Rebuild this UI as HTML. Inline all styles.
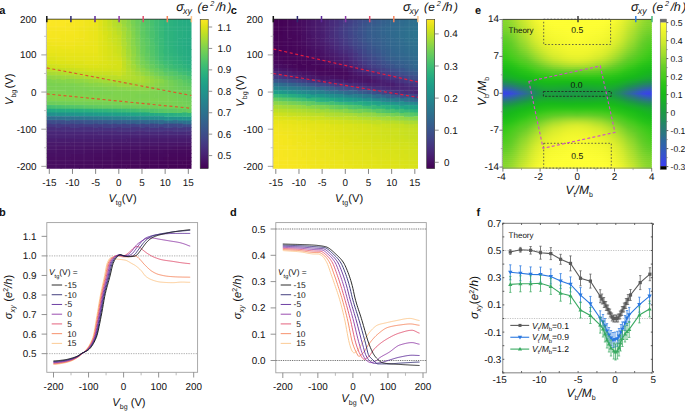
<!DOCTYPE html>
<html><head><meta charset="utf-8"><style>
html,body{margin:0;padding:0;background:#fff;}
svg{display:block;}
text{font-family:"Liberation Sans", sans-serif;fill:#111;text-rendering:geometricPrecision;}
</style></head><body>
<svg width="685" height="411" viewBox="0 0 685 411">
<defs><linearGradient id="cb0" x1="0" y1="0" x2="0" y2="1"><stop offset="0" stop-color="#fde725"/><stop offset="0.05" stop-color="#dfe318"/><stop offset="0.1" stop-color="#bddf26"/><stop offset="0.15" stop-color="#9bd93c"/><stop offset="0.2" stop-color="#7ad151"/><stop offset="0.25" stop-color="#5ec962"/><stop offset="0.3" stop-color="#44bf70"/><stop offset="0.35" stop-color="#2fb47c"/><stop offset="0.4" stop-color="#22a884"/><stop offset="0.45" stop-color="#1e9c89"/><stop offset="0.5" stop-color="#21918c"/><stop offset="0.55" stop-color="#25848e"/><stop offset="0.6" stop-color="#2a788e"/><stop offset="0.65" stop-color="#2f6c8e"/><stop offset="0.7" stop-color="#355f8d"/><stop offset="0.75" stop-color="#3b528b"/><stop offset="0.8" stop-color="#414487"/><stop offset="0.85" stop-color="#463480"/><stop offset="0.9" stop-color="#482475"/><stop offset="0.95" stop-color="#471365"/><stop offset="1" stop-color="#440154"/></linearGradient><linearGradient id="cb226" x1="0" y1="0" x2="0" y2="1"><stop offset="0" stop-color="#fde725"/><stop offset="0.05" stop-color="#dfe318"/><stop offset="0.1" stop-color="#bddf26"/><stop offset="0.15" stop-color="#9bd93c"/><stop offset="0.2" stop-color="#7ad151"/><stop offset="0.25" stop-color="#5ec962"/><stop offset="0.3" stop-color="#44bf70"/><stop offset="0.35" stop-color="#2fb47c"/><stop offset="0.4" stop-color="#22a884"/><stop offset="0.45" stop-color="#1e9c89"/><stop offset="0.5" stop-color="#21918c"/><stop offset="0.55" stop-color="#25848e"/><stop offset="0.6" stop-color="#2a788e"/><stop offset="0.65" stop-color="#2f6c8e"/><stop offset="0.7" stop-color="#355f8d"/><stop offset="0.75" stop-color="#3b528b"/><stop offset="0.8" stop-color="#414487"/><stop offset="0.85" stop-color="#463480"/><stop offset="0.9" stop-color="#482475"/><stop offset="0.95" stop-color="#471365"/><stop offset="1" stop-color="#440154"/></linearGradient><linearGradient id="e0"><stop offset="0" stop-color="#83d52b"/><stop offset="0.03" stop-color="#89d72c"/><stop offset="0.06" stop-color="#97da2d"/><stop offset="0.09" stop-color="#abdf2d"/><stop offset="0.12" stop-color="#c0e52d"/><stop offset="0.16" stop-color="#d5eb2d"/><stop offset="0.19" stop-color="#e3f12d"/><stop offset="0.22" stop-color="#f0f62d"/><stop offset="0.25" stop-color="#f7fa2f"/><stop offset="0.28" stop-color="#fcfd31"/><stop offset="0.31" stop-color="#fefe31"/><stop offset="0.34" stop-color="#ffff32"/><stop offset="0.38" stop-color="#fefe31"/><stop offset="0.41" stop-color="#fefe31"/><stop offset="0.44" stop-color="#fdfe31"/><stop offset="0.47" stop-color="#fdfe31"/><stop offset="0.5" stop-color="#fefe31"/><stop offset="0.53" stop-color="#fdfe31"/><stop offset="0.56" stop-color="#fdfe31"/><stop offset="0.59" stop-color="#fefe31"/><stop offset="0.62" stop-color="#fefe31"/><stop offset="0.66" stop-color="#ffff32"/><stop offset="0.69" stop-color="#fefe31"/><stop offset="0.72" stop-color="#fcfd31"/><stop offset="0.75" stop-color="#f7fa2f"/><stop offset="0.78" stop-color="#f0f62d"/><stop offset="0.81" stop-color="#e3f12d"/><stop offset="0.84" stop-color="#d5eb2d"/><stop offset="0.88" stop-color="#c0e52d"/><stop offset="0.91" stop-color="#abdf2d"/><stop offset="0.94" stop-color="#97da2d"/><stop offset="0.97" stop-color="#89d72c"/><stop offset="1" stop-color="#83d52b"/></linearGradient><linearGradient id="e1"><stop offset="0" stop-color="#82d52b"/><stop offset="0.03" stop-color="#87d62c"/><stop offset="0.06" stop-color="#94da2d"/><stop offset="0.09" stop-color="#a7de2d"/><stop offset="0.12" stop-color="#bce42d"/><stop offset="0.16" stop-color="#d0ea2d"/><stop offset="0.19" stop-color="#e0ef2d"/><stop offset="0.22" stop-color="#edf42d"/><stop offset="0.25" stop-color="#f5f92f"/><stop offset="0.28" stop-color="#fafc30"/><stop offset="0.31" stop-color="#fdfd31"/><stop offset="0.34" stop-color="#fefe31"/><stop offset="0.38" stop-color="#fefe31"/><stop offset="0.41" stop-color="#fefe31"/><stop offset="0.44" stop-color="#fdfe31"/><stop offset="0.47" stop-color="#fdfe31"/><stop offset="0.5" stop-color="#fefe31"/><stop offset="0.53" stop-color="#fdfe31"/><stop offset="0.56" stop-color="#fdfe31"/><stop offset="0.59" stop-color="#fefe31"/><stop offset="0.62" stop-color="#fefe31"/><stop offset="0.66" stop-color="#fefe31"/><stop offset="0.69" stop-color="#fdfd31"/><stop offset="0.72" stop-color="#fafc30"/><stop offset="0.75" stop-color="#f5f92f"/><stop offset="0.78" stop-color="#edf42d"/><stop offset="0.81" stop-color="#e0ef2d"/><stop offset="0.84" stop-color="#d0ea2d"/><stop offset="0.88" stop-color="#bce42d"/><stop offset="0.91" stop-color="#a7de2d"/><stop offset="0.94" stop-color="#94da2d"/><stop offset="0.97" stop-color="#87d62c"/><stop offset="1" stop-color="#82d52b"/></linearGradient><linearGradient id="e2"><stop offset="0" stop-color="#80d52b"/><stop offset="0.03" stop-color="#84d62c"/><stop offset="0.06" stop-color="#90d92d"/><stop offset="0.09" stop-color="#a3dd2d"/><stop offset="0.12" stop-color="#b8e32d"/><stop offset="0.16" stop-color="#cce92d"/><stop offset="0.19" stop-color="#ddee2d"/><stop offset="0.22" stop-color="#eaf32d"/><stop offset="0.25" stop-color="#f3f72e"/><stop offset="0.28" stop-color="#f8fb30"/><stop offset="0.31" stop-color="#fbfd31"/><stop offset="0.34" stop-color="#fdfe31"/><stop offset="0.38" stop-color="#fefe31"/><stop offset="0.41" stop-color="#fefe31"/><stop offset="0.44" stop-color="#fdfe31"/><stop offset="0.47" stop-color="#fefe31"/><stop offset="0.5" stop-color="#ffff32"/><stop offset="0.53" stop-color="#fefe31"/><stop offset="0.56" stop-color="#fdfe31"/><stop offset="0.59" stop-color="#fefe31"/><stop offset="0.62" stop-color="#fefe31"/><stop offset="0.66" stop-color="#fdfe31"/><stop offset="0.69" stop-color="#fbfd31"/><stop offset="0.72" stop-color="#f8fb30"/><stop offset="0.75" stop-color="#f3f72e"/><stop offset="0.78" stop-color="#eaf32d"/><stop offset="0.81" stop-color="#ddee2d"/><stop offset="0.84" stop-color="#cce92d"/><stop offset="0.88" stop-color="#b8e32d"/><stop offset="0.91" stop-color="#a3dd2d"/><stop offset="0.94" stop-color="#90d92d"/><stop offset="0.97" stop-color="#84d62c"/><stop offset="1" stop-color="#80d52b"/></linearGradient><linearGradient id="e3"><stop offset="0" stop-color="#7cd42b"/><stop offset="0.03" stop-color="#81d52b"/><stop offset="0.06" stop-color="#8dd82d"/><stop offset="0.09" stop-color="#9edc2d"/><stop offset="0.12" stop-color="#b4e22d"/><stop offset="0.16" stop-color="#c8e82d"/><stop offset="0.19" stop-color="#daed2d"/><stop offset="0.22" stop-color="#e7f22d"/><stop offset="0.25" stop-color="#f1f62d"/><stop offset="0.28" stop-color="#f6fa2f"/><stop offset="0.31" stop-color="#fafc30"/><stop offset="0.34" stop-color="#fcfd31"/><stop offset="0.38" stop-color="#fdfe31"/><stop offset="0.41" stop-color="#fdfe31"/><stop offset="0.44" stop-color="#fdfe31"/><stop offset="0.47" stop-color="#fefe31"/><stop offset="0.5" stop-color="#ffff32"/><stop offset="0.53" stop-color="#fefe31"/><stop offset="0.56" stop-color="#fdfe31"/><stop offset="0.59" stop-color="#fdfe31"/><stop offset="0.62" stop-color="#fdfe31"/><stop offset="0.66" stop-color="#fcfd31"/><stop offset="0.69" stop-color="#fafc30"/><stop offset="0.72" stop-color="#f6fa2f"/><stop offset="0.75" stop-color="#f1f62d"/><stop offset="0.78" stop-color="#e7f22d"/><stop offset="0.81" stop-color="#daed2d"/><stop offset="0.84" stop-color="#c8e82d"/><stop offset="0.88" stop-color="#b4e22d"/><stop offset="0.91" stop-color="#9edc2d"/><stop offset="0.94" stop-color="#8dd82d"/><stop offset="0.97" stop-color="#81d52b"/><stop offset="1" stop-color="#7cd42b"/></linearGradient><linearGradient id="e4"><stop offset="0" stop-color="#78d32a"/><stop offset="0.03" stop-color="#7cd42b"/><stop offset="0.06" stop-color="#88d72c"/><stop offset="0.09" stop-color="#9adb2d"/><stop offset="0.12" stop-color="#b0e12d"/><stop offset="0.16" stop-color="#c4e62d"/><stop offset="0.19" stop-color="#d8ec2d"/><stop offset="0.22" stop-color="#e5f12d"/><stop offset="0.25" stop-color="#eff52d"/><stop offset="0.28" stop-color="#f5f92f"/><stop offset="0.31" stop-color="#f9fb30"/><stop offset="0.34" stop-color="#fbfc30"/><stop offset="0.38" stop-color="#fcfd31"/><stop offset="0.41" stop-color="#fdfd31"/><stop offset="0.44" stop-color="#fdfe31"/><stop offset="0.47" stop-color="#fdfe31"/><stop offset="0.5" stop-color="#ffff32"/><stop offset="0.53" stop-color="#fdfe31"/><stop offset="0.56" stop-color="#fdfe31"/><stop offset="0.59" stop-color="#fdfd31"/><stop offset="0.62" stop-color="#fcfd31"/><stop offset="0.66" stop-color="#fbfc30"/><stop offset="0.69" stop-color="#f9fb30"/><stop offset="0.72" stop-color="#f5f92f"/><stop offset="0.75" stop-color="#eff52d"/><stop offset="0.78" stop-color="#e5f12d"/><stop offset="0.81" stop-color="#d8ec2d"/><stop offset="0.84" stop-color="#c4e62d"/><stop offset="0.88" stop-color="#b0e12d"/><stop offset="0.91" stop-color="#9adb2d"/><stop offset="0.94" stop-color="#88d72c"/><stop offset="0.97" stop-color="#7cd42b"/><stop offset="1" stop-color="#78d32a"/></linearGradient><linearGradient id="e5"><stop offset="0" stop-color="#73d129"/><stop offset="0.03" stop-color="#78d32a"/><stop offset="0.06" stop-color="#84d62c"/><stop offset="0.09" stop-color="#96da2d"/><stop offset="0.12" stop-color="#abdf2d"/><stop offset="0.16" stop-color="#c1e52d"/><stop offset="0.19" stop-color="#d5eb2d"/><stop offset="0.22" stop-color="#e2f02d"/><stop offset="0.25" stop-color="#edf42d"/><stop offset="0.28" stop-color="#f3f82e"/><stop offset="0.31" stop-color="#f7fa2f"/><stop offset="0.34" stop-color="#fafc30"/><stop offset="0.38" stop-color="#fbfc30"/><stop offset="0.41" stop-color="#fcfd31"/><stop offset="0.44" stop-color="#fcfd31"/><stop offset="0.47" stop-color="#fdfe31"/><stop offset="0.5" stop-color="#fefe31"/><stop offset="0.53" stop-color="#fdfe31"/><stop offset="0.56" stop-color="#fcfd31"/><stop offset="0.59" stop-color="#fcfd31"/><stop offset="0.62" stop-color="#fbfc30"/><stop offset="0.66" stop-color="#fafc30"/><stop offset="0.69" stop-color="#f7fa2f"/><stop offset="0.72" stop-color="#f3f82e"/><stop offset="0.75" stop-color="#edf42d"/><stop offset="0.78" stop-color="#e2f02d"/><stop offset="0.81" stop-color="#d5eb2d"/><stop offset="0.84" stop-color="#c1e52d"/><stop offset="0.88" stop-color="#abdf2d"/><stop offset="0.91" stop-color="#96da2d"/><stop offset="0.94" stop-color="#84d62c"/><stop offset="0.97" stop-color="#78d32a"/><stop offset="1" stop-color="#73d129"/></linearGradient><linearGradient id="e6"><stop offset="0" stop-color="#6ed029"/><stop offset="0.03" stop-color="#73d129"/><stop offset="0.06" stop-color="#7fd42b"/><stop offset="0.09" stop-color="#91d92d"/><stop offset="0.12" stop-color="#a7de2d"/><stop offset="0.16" stop-color="#bde42d"/><stop offset="0.19" stop-color="#d1ea2d"/><stop offset="0.22" stop-color="#e0ef2d"/><stop offset="0.25" stop-color="#ebf42d"/><stop offset="0.28" stop-color="#f2f72e"/><stop offset="0.31" stop-color="#f6f92f"/><stop offset="0.34" stop-color="#f8fb30"/><stop offset="0.38" stop-color="#fafc30"/><stop offset="0.41" stop-color="#fbfc30"/><stop offset="0.44" stop-color="#fcfd31"/><stop offset="0.47" stop-color="#fdfd31"/><stop offset="0.5" stop-color="#fefe31"/><stop offset="0.53" stop-color="#fdfd31"/><stop offset="0.56" stop-color="#fcfd31"/><stop offset="0.59" stop-color="#fbfc30"/><stop offset="0.62" stop-color="#fafc30"/><stop offset="0.66" stop-color="#f8fb30"/><stop offset="0.69" stop-color="#f6f92f"/><stop offset="0.72" stop-color="#f2f72e"/><stop offset="0.75" stop-color="#ebf42d"/><stop offset="0.78" stop-color="#e0ef2d"/><stop offset="0.81" stop-color="#d1ea2d"/><stop offset="0.84" stop-color="#bde42d"/><stop offset="0.88" stop-color="#a7de2d"/><stop offset="0.91" stop-color="#91d92d"/><stop offset="0.94" stop-color="#7fd42b"/><stop offset="0.97" stop-color="#73d129"/><stop offset="1" stop-color="#6ed029"/></linearGradient><linearGradient id="e7"><stop offset="0" stop-color="#68cf28"/><stop offset="0.03" stop-color="#6ed029"/><stop offset="0.06" stop-color="#7bd32a"/><stop offset="0.09" stop-color="#8dd82d"/><stop offset="0.12" stop-color="#a3dd2d"/><stop offset="0.16" stop-color="#bae32d"/><stop offset="0.19" stop-color="#cee92d"/><stop offset="0.22" stop-color="#ddee2d"/><stop offset="0.25" stop-color="#e9f32d"/><stop offset="0.28" stop-color="#f0f62d"/><stop offset="0.31" stop-color="#f4f82e"/><stop offset="0.34" stop-color="#f7fa2f"/><stop offset="0.38" stop-color="#f9fb30"/><stop offset="0.41" stop-color="#fafc30"/><stop offset="0.44" stop-color="#fbfc30"/><stop offset="0.47" stop-color="#fcfd31"/><stop offset="0.5" stop-color="#fefe31"/><stop offset="0.53" stop-color="#fcfd31"/><stop offset="0.56" stop-color="#fbfc30"/><stop offset="0.59" stop-color="#fafc30"/><stop offset="0.62" stop-color="#f9fb30"/><stop offset="0.66" stop-color="#f7fa2f"/><stop offset="0.69" stop-color="#f4f82e"/><stop offset="0.72" stop-color="#f0f62d"/><stop offset="0.75" stop-color="#e9f32d"/><stop offset="0.78" stop-color="#ddee2d"/><stop offset="0.81" stop-color="#cee92d"/><stop offset="0.84" stop-color="#bae32d"/><stop offset="0.88" stop-color="#a3dd2d"/><stop offset="0.91" stop-color="#8dd82d"/><stop offset="0.94" stop-color="#7bd32a"/><stop offset="0.97" stop-color="#6ed029"/><stop offset="1" stop-color="#68cf28"/></linearGradient><linearGradient id="e8"><stop offset="0" stop-color="#62cd27"/><stop offset="0.03" stop-color="#68cf28"/><stop offset="0.06" stop-color="#76d22a"/><stop offset="0.09" stop-color="#88d72c"/><stop offset="0.12" stop-color="#9edc2d"/><stop offset="0.16" stop-color="#b6e22d"/><stop offset="0.19" stop-color="#cae82d"/><stop offset="0.22" stop-color="#dbed2d"/><stop offset="0.25" stop-color="#e6f22d"/><stop offset="0.28" stop-color="#eef52d"/><stop offset="0.31" stop-color="#f3f82e"/><stop offset="0.34" stop-color="#f6f92f"/><stop offset="0.38" stop-color="#f7fa2f"/><stop offset="0.41" stop-color="#f9fb30"/><stop offset="0.44" stop-color="#fafc30"/><stop offset="0.47" stop-color="#fbfd31"/><stop offset="0.5" stop-color="#fdfe31"/><stop offset="0.53" stop-color="#fbfd31"/><stop offset="0.56" stop-color="#fafc30"/><stop offset="0.59" stop-color="#f9fb30"/><stop offset="0.62" stop-color="#f7fa2f"/><stop offset="0.66" stop-color="#f6f92f"/><stop offset="0.69" stop-color="#f3f82e"/><stop offset="0.72" stop-color="#eef52d"/><stop offset="0.75" stop-color="#e6f22d"/><stop offset="0.78" stop-color="#dbed2d"/><stop offset="0.81" stop-color="#cae82d"/><stop offset="0.84" stop-color="#b6e22d"/><stop offset="0.88" stop-color="#9edc2d"/><stop offset="0.91" stop-color="#88d72c"/><stop offset="0.94" stop-color="#76d22a"/><stop offset="0.97" stop-color="#68cf28"/><stop offset="1" stop-color="#62cd27"/></linearGradient><linearGradient id="e9"><stop offset="0" stop-color="#5ecd26"/><stop offset="0.03" stop-color="#63cd27"/><stop offset="0.06" stop-color="#71d129"/><stop offset="0.09" stop-color="#84d62c"/><stop offset="0.12" stop-color="#9adb2d"/><stop offset="0.16" stop-color="#b2e12d"/><stop offset="0.19" stop-color="#c6e72d"/><stop offset="0.22" stop-color="#d8ec2d"/><stop offset="0.25" stop-color="#e3f12d"/><stop offset="0.28" stop-color="#ecf42d"/><stop offset="0.31" stop-color="#f1f62d"/><stop offset="0.34" stop-color="#f4f82e"/><stop offset="0.38" stop-color="#f6fa2f"/><stop offset="0.41" stop-color="#f8fa2f"/><stop offset="0.44" stop-color="#f9fb30"/><stop offset="0.47" stop-color="#fbfc30"/><stop offset="0.5" stop-color="#fdfd31"/><stop offset="0.53" stop-color="#fbfc30"/><stop offset="0.56" stop-color="#f9fb30"/><stop offset="0.59" stop-color="#f8fa2f"/><stop offset="0.62" stop-color="#f6fa2f"/><stop offset="0.66" stop-color="#f4f82e"/><stop offset="0.69" stop-color="#f1f62d"/><stop offset="0.72" stop-color="#ecf42d"/><stop offset="0.75" stop-color="#e3f12d"/><stop offset="0.78" stop-color="#d8ec2d"/><stop offset="0.81" stop-color="#c6e72d"/><stop offset="0.84" stop-color="#b2e12d"/><stop offset="0.88" stop-color="#9adb2d"/><stop offset="0.91" stop-color="#84d62c"/><stop offset="0.94" stop-color="#71d129"/><stop offset="0.97" stop-color="#63cd27"/><stop offset="1" stop-color="#5ecd26"/></linearGradient><linearGradient id="e10"><stop offset="0" stop-color="#59cd24"/><stop offset="0.03" stop-color="#5fcd26"/><stop offset="0.06" stop-color="#6cd029"/><stop offset="0.09" stop-color="#7fd42b"/><stop offset="0.12" stop-color="#95da2d"/><stop offset="0.16" stop-color="#ace02d"/><stop offset="0.19" stop-color="#c2e62d"/><stop offset="0.22" stop-color="#d4eb2d"/><stop offset="0.25" stop-color="#e0ef2d"/><stop offset="0.28" stop-color="#e9f32d"/><stop offset="0.31" stop-color="#eff52d"/><stop offset="0.34" stop-color="#f2f72e"/><stop offset="0.38" stop-color="#f5f92f"/><stop offset="0.41" stop-color="#f6fa2f"/><stop offset="0.44" stop-color="#f8fb30"/><stop offset="0.47" stop-color="#fafc30"/><stop offset="0.5" stop-color="#fbfd31"/><stop offset="0.53" stop-color="#fafc30"/><stop offset="0.56" stop-color="#f8fb30"/><stop offset="0.59" stop-color="#f6fa2f"/><stop offset="0.62" stop-color="#f5f92f"/><stop offset="0.66" stop-color="#f2f72e"/><stop offset="0.69" stop-color="#eff52d"/><stop offset="0.72" stop-color="#e9f32d"/><stop offset="0.75" stop-color="#e0ef2d"/><stop offset="0.78" stop-color="#d4eb2d"/><stop offset="0.81" stop-color="#c2e62d"/><stop offset="0.84" stop-color="#ace02d"/><stop offset="0.88" stop-color="#95da2d"/><stop offset="0.91" stop-color="#7fd42b"/><stop offset="0.94" stop-color="#6cd029"/><stop offset="0.97" stop-color="#5fcd26"/><stop offset="1" stop-color="#59cd24"/></linearGradient><linearGradient id="e11"><stop offset="0" stop-color="#54cc22"/><stop offset="0.03" stop-color="#5bcd25"/><stop offset="0.06" stop-color="#67ce28"/><stop offset="0.09" stop-color="#7ad32a"/><stop offset="0.12" stop-color="#90d92d"/><stop offset="0.16" stop-color="#a7de2d"/><stop offset="0.19" stop-color="#bde42d"/><stop offset="0.22" stop-color="#cfea2d"/><stop offset="0.25" stop-color="#dcee2d"/><stop offset="0.28" stop-color="#e6f22d"/><stop offset="0.31" stop-color="#ecf42d"/><stop offset="0.34" stop-color="#f0f62d"/><stop offset="0.38" stop-color="#f3f82e"/><stop offset="0.41" stop-color="#f5f92f"/><stop offset="0.44" stop-color="#f7fa2f"/><stop offset="0.47" stop-color="#f8fb30"/><stop offset="0.5" stop-color="#fafc30"/><stop offset="0.53" stop-color="#f8fb30"/><stop offset="0.56" stop-color="#f7fa2f"/><stop offset="0.59" stop-color="#f5f92f"/><stop offset="0.62" stop-color="#f3f82e"/><stop offset="0.66" stop-color="#f0f62d"/><stop offset="0.69" stop-color="#ecf42d"/><stop offset="0.72" stop-color="#e6f22d"/><stop offset="0.75" stop-color="#dcee2d"/><stop offset="0.78" stop-color="#cfea2d"/><stop offset="0.81" stop-color="#bde42d"/><stop offset="0.84" stop-color="#a7de2d"/><stop offset="0.88" stop-color="#90d92d"/><stop offset="0.91" stop-color="#7ad32a"/><stop offset="0.94" stop-color="#67ce28"/><stop offset="0.97" stop-color="#5bcd25"/><stop offset="1" stop-color="#54cc22"/></linearGradient><linearGradient id="e12"><stop offset="0" stop-color="#4fcc21"/><stop offset="0.03" stop-color="#57cd23"/><stop offset="0.06" stop-color="#62cd27"/><stop offset="0.09" stop-color="#75d22a"/><stop offset="0.12" stop-color="#8ad72c"/><stop offset="0.16" stop-color="#a1dd2d"/><stop offset="0.19" stop-color="#b7e32d"/><stop offset="0.22" stop-color="#c9e82d"/><stop offset="0.25" stop-color="#d8ed2d"/><stop offset="0.28" stop-color="#e2f02d"/><stop offset="0.31" stop-color="#e9f32d"/><stop offset="0.34" stop-color="#eff52d"/><stop offset="0.38" stop-color="#f2f72e"/><stop offset="0.41" stop-color="#f4f82e"/><stop offset="0.44" stop-color="#f6f92f"/><stop offset="0.47" stop-color="#f7fa2f"/><stop offset="0.5" stop-color="#f8fb30"/><stop offset="0.53" stop-color="#f7fa2f"/><stop offset="0.56" stop-color="#f6f92f"/><stop offset="0.59" stop-color="#f4f82e"/><stop offset="0.62" stop-color="#f2f72e"/><stop offset="0.66" stop-color="#eff52d"/><stop offset="0.69" stop-color="#e9f32d"/><stop offset="0.72" stop-color="#e2f02d"/><stop offset="0.75" stop-color="#d8ed2d"/><stop offset="0.78" stop-color="#c9e82d"/><stop offset="0.81" stop-color="#b7e32d"/><stop offset="0.84" stop-color="#a1dd2d"/><stop offset="0.88" stop-color="#8ad72c"/><stop offset="0.91" stop-color="#75d22a"/><stop offset="0.94" stop-color="#62cd27"/><stop offset="0.97" stop-color="#57cd23"/><stop offset="1" stop-color="#4fcc21"/></linearGradient><linearGradient id="e13"><stop offset="0" stop-color="#4bcc1f"/><stop offset="0.03" stop-color="#53cc22"/><stop offset="0.06" stop-color="#5fcd26"/><stop offset="0.09" stop-color="#70d129"/><stop offset="0.12" stop-color="#85d62c"/><stop offset="0.16" stop-color="#9bdb2d"/><stop offset="0.19" stop-color="#b1e12d"/><stop offset="0.22" stop-color="#c3e62d"/><stop offset="0.25" stop-color="#d3eb2d"/><stop offset="0.28" stop-color="#deef2d"/><stop offset="0.31" stop-color="#e6f22d"/><stop offset="0.34" stop-color="#ecf42d"/><stop offset="0.38" stop-color="#f0f62d"/><stop offset="0.41" stop-color="#f3f72e"/><stop offset="0.44" stop-color="#f4f92f"/><stop offset="0.47" stop-color="#f6f92f"/><stop offset="0.5" stop-color="#f6fa2f"/><stop offset="0.53" stop-color="#f6f92f"/><stop offset="0.56" stop-color="#f4f92f"/><stop offset="0.59" stop-color="#f3f72e"/><stop offset="0.62" stop-color="#f0f62d"/><stop offset="0.66" stop-color="#ecf42d"/><stop offset="0.69" stop-color="#e6f22d"/><stop offset="0.72" stop-color="#deef2d"/><stop offset="0.75" stop-color="#d3eb2d"/><stop offset="0.78" stop-color="#c3e62d"/><stop offset="0.81" stop-color="#b1e12d"/><stop offset="0.84" stop-color="#9bdb2d"/><stop offset="0.88" stop-color="#85d62c"/><stop offset="0.91" stop-color="#70d129"/><stop offset="0.94" stop-color="#5fcd26"/><stop offset="0.97" stop-color="#53cc22"/><stop offset="1" stop-color="#4bcc1f"/></linearGradient><linearGradient id="e14"><stop offset="0" stop-color="#46cc1e"/><stop offset="0.03" stop-color="#4fcc21"/><stop offset="0.06" stop-color="#5bcd25"/><stop offset="0.09" stop-color="#6acf28"/><stop offset="0.12" stop-color="#7ed42b"/><stop offset="0.16" stop-color="#94da2d"/><stop offset="0.19" stop-color="#a9df2d"/><stop offset="0.22" stop-color="#bce42d"/><stop offset="0.25" stop-color="#cce92d"/><stop offset="0.28" stop-color="#d9ed2d"/><stop offset="0.31" stop-color="#e2f02d"/><stop offset="0.34" stop-color="#e9f32d"/><stop offset="0.38" stop-color="#eef52d"/><stop offset="0.41" stop-color="#f1f72e"/><stop offset="0.44" stop-color="#f3f82e"/><stop offset="0.47" stop-color="#f4f82e"/><stop offset="0.5" stop-color="#f4f82e"/><stop offset="0.53" stop-color="#f4f82e"/><stop offset="0.56" stop-color="#f3f82e"/><stop offset="0.59" stop-color="#f1f72e"/><stop offset="0.62" stop-color="#eef52d"/><stop offset="0.66" stop-color="#e9f32d"/><stop offset="0.69" stop-color="#e2f02d"/><stop offset="0.72" stop-color="#d9ed2d"/><stop offset="0.75" stop-color="#cce92d"/><stop offset="0.78" stop-color="#bce42d"/><stop offset="0.81" stop-color="#a9df2d"/><stop offset="0.84" stop-color="#94da2d"/><stop offset="0.88" stop-color="#7ed42b"/><stop offset="0.91" stop-color="#6acf28"/><stop offset="0.94" stop-color="#5bcd25"/><stop offset="0.97" stop-color="#4fcc21"/><stop offset="1" stop-color="#46cc1e"/></linearGradient><linearGradient id="e15"><stop offset="0" stop-color="#42cb1d"/><stop offset="0.03" stop-color="#4bcc1f"/><stop offset="0.06" stop-color="#56cd23"/><stop offset="0.09" stop-color="#64ce28"/><stop offset="0.12" stop-color="#78d32a"/><stop offset="0.16" stop-color="#8cd82d"/><stop offset="0.19" stop-color="#a1dd2d"/><stop offset="0.22" stop-color="#b5e22c"/><stop offset="0.25" stop-color="#c5e72d"/><stop offset="0.28" stop-color="#d4eb2d"/><stop offset="0.31" stop-color="#ddee2d"/><stop offset="0.34" stop-color="#e5f12d"/><stop offset="0.38" stop-color="#ebf42d"/><stop offset="0.41" stop-color="#eff52d"/><stop offset="0.44" stop-color="#f1f72e"/><stop offset="0.47" stop-color="#f2f72e"/><stop offset="0.5" stop-color="#f2f72e"/><stop offset="0.53" stop-color="#f2f72e"/><stop offset="0.56" stop-color="#f1f72e"/><stop offset="0.59" stop-color="#eff52d"/><stop offset="0.62" stop-color="#ebf42d"/><stop offset="0.66" stop-color="#e5f12d"/><stop offset="0.69" stop-color="#ddee2d"/><stop offset="0.72" stop-color="#d4eb2d"/><stop offset="0.75" stop-color="#c5e72d"/><stop offset="0.78" stop-color="#b5e22c"/><stop offset="0.81" stop-color="#a1dd2d"/><stop offset="0.84" stop-color="#8cd82d"/><stop offset="0.88" stop-color="#78d32a"/><stop offset="0.91" stop-color="#64ce28"/><stop offset="0.94" stop-color="#56cd23"/><stop offset="0.97" stop-color="#4bcc1f"/><stop offset="1" stop-color="#42cb1d"/></linearGradient><linearGradient id="e16"><stop offset="0" stop-color="#3ec91c"/><stop offset="0.03" stop-color="#47cc1e"/><stop offset="0.06" stop-color="#52cc22"/><stop offset="0.09" stop-color="#5fcd26"/><stop offset="0.12" stop-color="#70d129"/><stop offset="0.16" stop-color="#85d62c"/><stop offset="0.19" stop-color="#99db2d"/><stop offset="0.22" stop-color="#ade02d"/><stop offset="0.25" stop-color="#bee52d"/><stop offset="0.28" stop-color="#cde92d"/><stop offset="0.31" stop-color="#d9ed2d"/><stop offset="0.34" stop-color="#e1f02d"/><stop offset="0.38" stop-color="#e7f22d"/><stop offset="0.41" stop-color="#ecf42d"/><stop offset="0.44" stop-color="#eff52d"/><stop offset="0.47" stop-color="#f0f62d"/><stop offset="0.5" stop-color="#f0f62d"/><stop offset="0.53" stop-color="#f0f62d"/><stop offset="0.56" stop-color="#eff52d"/><stop offset="0.59" stop-color="#ecf42d"/><stop offset="0.62" stop-color="#e7f22d"/><stop offset="0.66" stop-color="#e1f02d"/><stop offset="0.69" stop-color="#d9ed2d"/><stop offset="0.72" stop-color="#cde92d"/><stop offset="0.75" stop-color="#bee52d"/><stop offset="0.78" stop-color="#ade02d"/><stop offset="0.81" stop-color="#99db2d"/><stop offset="0.84" stop-color="#85d62c"/><stop offset="0.88" stop-color="#70d129"/><stop offset="0.91" stop-color="#5fcd26"/><stop offset="0.94" stop-color="#52cc22"/><stop offset="0.97" stop-color="#47cc1e"/><stop offset="1" stop-color="#3ec91c"/></linearGradient><linearGradient id="e17"><stop offset="0" stop-color="#3ac81b"/><stop offset="0.03" stop-color="#42cb1d"/><stop offset="0.06" stop-color="#4dcc20"/><stop offset="0.09" stop-color="#5acd24"/><stop offset="0.12" stop-color="#69cf28"/><stop offset="0.16" stop-color="#7cd42b"/><stop offset="0.19" stop-color="#90d92d"/><stop offset="0.22" stop-color="#a4de2d"/><stop offset="0.25" stop-color="#b6e22d"/><stop offset="0.28" stop-color="#c5e72d"/><stop offset="0.31" stop-color="#d3eb2d"/><stop offset="0.34" stop-color="#dcee2d"/><stop offset="0.38" stop-color="#e3f02d"/><stop offset="0.41" stop-color="#e8f22d"/><stop offset="0.44" stop-color="#ecf42d"/><stop offset="0.47" stop-color="#eef52d"/><stop offset="0.5" stop-color="#eef52d"/><stop offset="0.53" stop-color="#eef52d"/><stop offset="0.56" stop-color="#ecf42d"/><stop offset="0.59" stop-color="#e8f22d"/><stop offset="0.62" stop-color="#e3f02d"/><stop offset="0.66" stop-color="#dcee2d"/><stop offset="0.69" stop-color="#d3eb2d"/><stop offset="0.72" stop-color="#c5e72d"/><stop offset="0.75" stop-color="#b6e22d"/><stop offset="0.78" stop-color="#a4de2d"/><stop offset="0.81" stop-color="#90d92d"/><stop offset="0.84" stop-color="#7cd42b"/><stop offset="0.88" stop-color="#69cf28"/><stop offset="0.91" stop-color="#5acd24"/><stop offset="0.94" stop-color="#4dcc20"/><stop offset="0.97" stop-color="#42cb1d"/><stop offset="1" stop-color="#3ac81b"/></linearGradient><linearGradient id="e18"><stop offset="0" stop-color="#36c71a"/><stop offset="0.03" stop-color="#3ec91c"/><stop offset="0.06" stop-color="#48cc1e"/><stop offset="0.09" stop-color="#54cc22"/><stop offset="0.12" stop-color="#61cd27"/><stop offset="0.16" stop-color="#74d22a"/><stop offset="0.19" stop-color="#87d62c"/><stop offset="0.22" stop-color="#9bdb2d"/><stop offset="0.25" stop-color="#ade02d"/><stop offset="0.28" stop-color="#bde42c"/><stop offset="0.31" stop-color="#cbe82d"/><stop offset="0.34" stop-color="#d6ec2d"/><stop offset="0.38" stop-color="#ddee2d"/><stop offset="0.41" stop-color="#e3f12d"/><stop offset="0.44" stop-color="#e7f22d"/><stop offset="0.47" stop-color="#e9f32d"/><stop offset="0.5" stop-color="#eaf32d"/><stop offset="0.53" stop-color="#e9f32d"/><stop offset="0.56" stop-color="#e7f22d"/><stop offset="0.59" stop-color="#e3f12d"/><stop offset="0.62" stop-color="#ddee2d"/><stop offset="0.66" stop-color="#d6ec2d"/><stop offset="0.69" stop-color="#cbe82d"/><stop offset="0.72" stop-color="#bde42c"/><stop offset="0.75" stop-color="#ade02d"/><stop offset="0.78" stop-color="#9bdb2d"/><stop offset="0.81" stop-color="#87d62c"/><stop offset="0.84" stop-color="#74d22a"/><stop offset="0.88" stop-color="#61cd27"/><stop offset="0.91" stop-color="#54cc22"/><stop offset="0.94" stop-color="#48cc1e"/><stop offset="0.97" stop-color="#3ec91c"/><stop offset="1" stop-color="#36c71a"/></linearGradient><linearGradient id="e19"><stop offset="0" stop-color="#32c61a"/><stop offset="0.03" stop-color="#39c81b"/><stop offset="0.06" stop-color="#42cb1d"/><stop offset="0.09" stop-color="#4dcc20"/><stop offset="0.12" stop-color="#5acd24"/><stop offset="0.16" stop-color="#6acf28"/><stop offset="0.19" stop-color="#7dd42b"/><stop offset="0.22" stop-color="#90d92d"/><stop offset="0.25" stop-color="#a3dd2d"/><stop offset="0.28" stop-color="#b4e22d"/><stop offset="0.31" stop-color="#c1e62d"/><stop offset="0.34" stop-color="#cde92d"/><stop offset="0.38" stop-color="#d7ec2d"/><stop offset="0.41" stop-color="#ddee2d"/><stop offset="0.44" stop-color="#e1f02d"/><stop offset="0.47" stop-color="#e4f12d"/><stop offset="0.5" stop-color="#e5f12d"/><stop offset="0.53" stop-color="#e4f12d"/><stop offset="0.56" stop-color="#e1f02d"/><stop offset="0.59" stop-color="#ddee2d"/><stop offset="0.62" stop-color="#d7ec2d"/><stop offset="0.66" stop-color="#cde92d"/><stop offset="0.69" stop-color="#c1e62d"/><stop offset="0.72" stop-color="#b4e22d"/><stop offset="0.75" stop-color="#a3dd2d"/><stop offset="0.78" stop-color="#90d92d"/><stop offset="0.81" stop-color="#7dd42b"/><stop offset="0.84" stop-color="#6acf28"/><stop offset="0.88" stop-color="#5acd24"/><stop offset="0.91" stop-color="#4dcc20"/><stop offset="0.94" stop-color="#42cb1d"/><stop offset="0.97" stop-color="#39c81b"/><stop offset="1" stop-color="#32c61a"/></linearGradient><linearGradient id="e20"><stop offset="0" stop-color="#2dc519"/><stop offset="0.03" stop-color="#33c71a"/><stop offset="0.06" stop-color="#3cc91c"/><stop offset="0.09" stop-color="#46cc1e"/><stop offset="0.12" stop-color="#53cc22"/><stop offset="0.16" stop-color="#60cd26"/><stop offset="0.19" stop-color="#72d129"/><stop offset="0.22" stop-color="#85d62c"/><stop offset="0.25" stop-color="#97da2d"/><stop offset="0.28" stop-color="#a8df2d"/><stop offset="0.31" stop-color="#b7e32d"/><stop offset="0.34" stop-color="#c3e62d"/><stop offset="0.38" stop-color="#cde92d"/><stop offset="0.41" stop-color="#d5eb2d"/><stop offset="0.44" stop-color="#d9ed2d"/><stop offset="0.47" stop-color="#dcee2d"/><stop offset="0.5" stop-color="#deef2d"/><stop offset="0.53" stop-color="#dcee2d"/><stop offset="0.56" stop-color="#d9ed2d"/><stop offset="0.59" stop-color="#d5eb2d"/><stop offset="0.62" stop-color="#cde92d"/><stop offset="0.66" stop-color="#c3e62d"/><stop offset="0.69" stop-color="#b7e32d"/><stop offset="0.72" stop-color="#a8df2d"/><stop offset="0.75" stop-color="#97da2d"/><stop offset="0.78" stop-color="#85d62c"/><stop offset="0.81" stop-color="#72d129"/><stop offset="0.84" stop-color="#60cd26"/><stop offset="0.88" stop-color="#53cc22"/><stop offset="0.91" stop-color="#46cc1e"/><stop offset="0.94" stop-color="#3cc91c"/><stop offset="0.97" stop-color="#33c71a"/><stop offset="1" stop-color="#2dc519"/></linearGradient><linearGradient id="e21"><stop offset="0" stop-color="#27c318"/><stop offset="0.03" stop-color="#2cc518"/><stop offset="0.06" stop-color="#34c71a"/><stop offset="0.09" stop-color="#3fca1c"/><stop offset="0.12" stop-color="#4bcc1f"/><stop offset="0.16" stop-color="#58cd24"/><stop offset="0.19" stop-color="#66ce28"/><stop offset="0.22" stop-color="#78d32a"/><stop offset="0.25" stop-color="#8ad72c"/><stop offset="0.28" stop-color="#9adb2d"/><stop offset="0.31" stop-color="#a9df2d"/><stop offset="0.34" stop-color="#b6e22d"/><stop offset="0.38" stop-color="#c0e52d"/><stop offset="0.41" stop-color="#c8e72d"/><stop offset="0.44" stop-color="#cee92d"/><stop offset="0.47" stop-color="#d2ea2d"/><stop offset="0.5" stop-color="#d4eb2d"/><stop offset="0.53" stop-color="#d2ea2d"/><stop offset="0.56" stop-color="#cee92d"/><stop offset="0.59" stop-color="#c8e72d"/><stop offset="0.62" stop-color="#c0e52d"/><stop offset="0.66" stop-color="#b6e22d"/><stop offset="0.69" stop-color="#a9df2d"/><stop offset="0.72" stop-color="#9adb2d"/><stop offset="0.75" stop-color="#8ad72c"/><stop offset="0.78" stop-color="#78d32a"/><stop offset="0.81" stop-color="#66ce28"/><stop offset="0.84" stop-color="#58cd24"/><stop offset="0.88" stop-color="#4bcc1f"/><stop offset="0.91" stop-color="#3fca1c"/><stop offset="0.94" stop-color="#34c71a"/><stop offset="0.97" stop-color="#2cc518"/><stop offset="1" stop-color="#27c318"/></linearGradient><linearGradient id="e22"><stop offset="0" stop-color="#23c118"/><stop offset="0.03" stop-color="#26c318"/><stop offset="0.06" stop-color="#2cc518"/><stop offset="0.09" stop-color="#36c71a"/><stop offset="0.12" stop-color="#42ca1d"/><stop offset="0.16" stop-color="#4ecc20"/><stop offset="0.19" stop-color="#5bcd25"/><stop offset="0.22" stop-color="#6acf28"/><stop offset="0.25" stop-color="#7bd32a"/><stop offset="0.28" stop-color="#8bd72c"/><stop offset="0.31" stop-color="#99db2d"/><stop offset="0.34" stop-color="#a6de2d"/><stop offset="0.38" stop-color="#b0e12d"/><stop offset="0.41" stop-color="#b8e32d"/><stop offset="0.44" stop-color="#bee42d"/><stop offset="0.47" stop-color="#c1e52d"/><stop offset="0.5" stop-color="#c2e62d"/><stop offset="0.53" stop-color="#c1e52d"/><stop offset="0.56" stop-color="#bee42d"/><stop offset="0.59" stop-color="#b8e32d"/><stop offset="0.62" stop-color="#b0e12d"/><stop offset="0.66" stop-color="#a6de2d"/><stop offset="0.69" stop-color="#99db2d"/><stop offset="0.72" stop-color="#8bd72c"/><stop offset="0.75" stop-color="#7bd32a"/><stop offset="0.78" stop-color="#6acf28"/><stop offset="0.81" stop-color="#5bcd25"/><stop offset="0.84" stop-color="#4ecc20"/><stop offset="0.88" stop-color="#42ca1d"/><stop offset="0.91" stop-color="#36c71a"/><stop offset="0.94" stop-color="#2cc518"/><stop offset="0.97" stop-color="#26c318"/><stop offset="1" stop-color="#23c118"/></linearGradient><linearGradient id="e23"><stop offset="0" stop-color="#1fbe19"/><stop offset="0.03" stop-color="#22c018"/><stop offset="0.06" stop-color="#26c218"/><stop offset="0.09" stop-color="#2ec519"/><stop offset="0.12" stop-color="#38c81b"/><stop offset="0.16" stop-color="#44cb1d"/><stop offset="0.19" stop-color="#51cc21"/><stop offset="0.22" stop-color="#5dcd25"/><stop offset="0.25" stop-color="#6bcf28"/><stop offset="0.28" stop-color="#7ad32a"/><stop offset="0.31" stop-color="#87d62c"/><stop offset="0.34" stop-color="#93d92d"/><stop offset="0.38" stop-color="#9cdc2d"/><stop offset="0.41" stop-color="#a4de2d"/><stop offset="0.44" stop-color="#aadf2d"/><stop offset="0.47" stop-color="#ade02d"/><stop offset="0.5" stop-color="#ade02d"/><stop offset="0.53" stop-color="#ade02d"/><stop offset="0.56" stop-color="#aadf2d"/><stop offset="0.59" stop-color="#a4de2d"/><stop offset="0.62" stop-color="#9cdc2d"/><stop offset="0.66" stop-color="#93d92d"/><stop offset="0.69" stop-color="#87d62c"/><stop offset="0.72" stop-color="#7ad32a"/><stop offset="0.75" stop-color="#6bcf28"/><stop offset="0.78" stop-color="#5dcd25"/><stop offset="0.81" stop-color="#51cc21"/><stop offset="0.84" stop-color="#44cb1d"/><stop offset="0.88" stop-color="#38c81b"/><stop offset="0.91" stop-color="#2ec519"/><stop offset="0.94" stop-color="#26c218"/><stop offset="0.97" stop-color="#22c018"/><stop offset="1" stop-color="#1fbe19"/></linearGradient><linearGradient id="e24"><stop offset="0" stop-color="#1bbc19"/><stop offset="0.03" stop-color="#1ebd19"/><stop offset="0.06" stop-color="#21c018"/><stop offset="0.09" stop-color="#26c318"/><stop offset="0.12" stop-color="#2fc619"/><stop offset="0.16" stop-color="#3ac91b"/><stop offset="0.19" stop-color="#46cc1e"/><stop offset="0.22" stop-color="#52cc22"/><stop offset="0.25" stop-color="#5dcd25"/><stop offset="0.28" stop-color="#68cf28"/><stop offset="0.31" stop-color="#74d22a"/><stop offset="0.34" stop-color="#7fd42b"/><stop offset="0.38" stop-color="#87d62c"/><stop offset="0.41" stop-color="#8ed82d"/><stop offset="0.44" stop-color="#92d92d"/><stop offset="0.47" stop-color="#94da2d"/><stop offset="0.5" stop-color="#93d92d"/><stop offset="0.53" stop-color="#94da2d"/><stop offset="0.56" stop-color="#92d92d"/><stop offset="0.59" stop-color="#8ed82d"/><stop offset="0.62" stop-color="#87d62c"/><stop offset="0.66" stop-color="#7fd42b"/><stop offset="0.69" stop-color="#74d22a"/><stop offset="0.72" stop-color="#68cf28"/><stop offset="0.75" stop-color="#5dcd25"/><stop offset="0.78" stop-color="#52cc22"/><stop offset="0.81" stop-color="#46cc1e"/><stop offset="0.84" stop-color="#3ac91b"/><stop offset="0.88" stop-color="#2fc619"/><stop offset="0.91" stop-color="#26c318"/><stop offset="0.94" stop-color="#21c018"/><stop offset="0.97" stop-color="#1ebd19"/><stop offset="1" stop-color="#1bbc19"/></linearGradient><linearGradient id="e25"><stop offset="0" stop-color="#18b91a"/><stop offset="0.03" stop-color="#1abb19"/><stop offset="0.06" stop-color="#1dbd19"/><stop offset="0.09" stop-color="#22c018"/><stop offset="0.12" stop-color="#27c318"/><stop offset="0.16" stop-color="#31c619"/><stop offset="0.19" stop-color="#3bc91b"/><stop offset="0.22" stop-color="#46cc1e"/><stop offset="0.25" stop-color="#50cc21"/><stop offset="0.28" stop-color="#59cd24"/><stop offset="0.31" stop-color="#61cd27"/><stop offset="0.34" stop-color="#69cf28"/><stop offset="0.38" stop-color="#71d129"/><stop offset="0.41" stop-color="#76d22a"/><stop offset="0.44" stop-color="#79d32a"/><stop offset="0.47" stop-color="#7ad32a"/><stop offset="0.5" stop-color="#78d32a"/><stop offset="0.53" stop-color="#7ad32a"/><stop offset="0.56" stop-color="#79d32a"/><stop offset="0.59" stop-color="#76d22a"/><stop offset="0.62" stop-color="#71d129"/><stop offset="0.66" stop-color="#69cf28"/><stop offset="0.69" stop-color="#61cd27"/><stop offset="0.72" stop-color="#59cd24"/><stop offset="0.75" stop-color="#50cc21"/><stop offset="0.78" stop-color="#46cc1e"/><stop offset="0.81" stop-color="#3bc91b"/><stop offset="0.84" stop-color="#31c619"/><stop offset="0.88" stop-color="#27c318"/><stop offset="0.91" stop-color="#22c018"/><stop offset="0.94" stop-color="#1dbd19"/><stop offset="0.97" stop-color="#1abb19"/><stop offset="1" stop-color="#18b91a"/></linearGradient><linearGradient id="e26"><stop offset="0" stop-color="#18b61f"/><stop offset="0.03" stop-color="#18b81c"/><stop offset="0.06" stop-color="#1abb19"/><stop offset="0.09" stop-color="#1ebd19"/><stop offset="0.12" stop-color="#23c018"/><stop offset="0.16" stop-color="#28c418"/><stop offset="0.19" stop-color="#31c619"/><stop offset="0.22" stop-color="#3bc91b"/><stop offset="0.25" stop-color="#43cb1d"/><stop offset="0.28" stop-color="#4bcc1f"/><stop offset="0.31" stop-color="#52cc22"/><stop offset="0.34" stop-color="#58cd24"/><stop offset="0.38" stop-color="#5ccd25"/><stop offset="0.41" stop-color="#5fcd26"/><stop offset="0.44" stop-color="#61cd27"/><stop offset="0.47" stop-color="#61cd27"/><stop offset="0.5" stop-color="#5fcd26"/><stop offset="0.53" stop-color="#61cd27"/><stop offset="0.56" stop-color="#61cd27"/><stop offset="0.59" stop-color="#5fcd26"/><stop offset="0.62" stop-color="#5ccd25"/><stop offset="0.66" stop-color="#58cd24"/><stop offset="0.69" stop-color="#52cc22"/><stop offset="0.72" stop-color="#4bcc1f"/><stop offset="0.75" stop-color="#43cb1d"/><stop offset="0.78" stop-color="#3bc91b"/><stop offset="0.81" stop-color="#31c619"/><stop offset="0.84" stop-color="#28c418"/><stop offset="0.88" stop-color="#23c018"/><stop offset="0.91" stop-color="#1ebd19"/><stop offset="0.94" stop-color="#1abb19"/><stop offset="0.97" stop-color="#18b81c"/><stop offset="1" stop-color="#18b61f"/></linearGradient><linearGradient id="e27"><stop offset="0" stop-color="#19b225"/><stop offset="0.03" stop-color="#18b521"/><stop offset="0.06" stop-color="#18b81c"/><stop offset="0.09" stop-color="#1abb19"/><stop offset="0.12" stop-color="#1ebe19"/><stop offset="0.16" stop-color="#23c118"/><stop offset="0.19" stop-color="#27c318"/><stop offset="0.22" stop-color="#30c619"/><stop offset="0.25" stop-color="#37c81b"/><stop offset="0.28" stop-color="#3ec91c"/><stop offset="0.31" stop-color="#43cb1d"/><stop offset="0.34" stop-color="#48cc1e"/><stop offset="0.38" stop-color="#4bcc1f"/><stop offset="0.41" stop-color="#4dcc20"/><stop offset="0.44" stop-color="#4ecc20"/><stop offset="0.47" stop-color="#4ecc20"/><stop offset="0.5" stop-color="#4dcc20"/><stop offset="0.53" stop-color="#4ecc20"/><stop offset="0.56" stop-color="#4ecc20"/><stop offset="0.59" stop-color="#4dcc20"/><stop offset="0.62" stop-color="#4bcc1f"/><stop offset="0.66" stop-color="#48cc1e"/><stop offset="0.69" stop-color="#43cb1d"/><stop offset="0.72" stop-color="#3ec91c"/><stop offset="0.75" stop-color="#37c81b"/><stop offset="0.78" stop-color="#30c619"/><stop offset="0.81" stop-color="#27c318"/><stop offset="0.84" stop-color="#23c118"/><stop offset="0.88" stop-color="#1ebe19"/><stop offset="0.91" stop-color="#1abb19"/><stop offset="0.94" stop-color="#18b81c"/><stop offset="0.97" stop-color="#18b521"/><stop offset="1" stop-color="#19b225"/></linearGradient><linearGradient id="e28"><stop offset="0" stop-color="#19ad2b"/><stop offset="0.03" stop-color="#19b027"/><stop offset="0.06" stop-color="#18b422"/><stop offset="0.09" stop-color="#18b71d"/><stop offset="0.12" stop-color="#19bb19"/><stop offset="0.16" stop-color="#1ebd19"/><stop offset="0.19" stop-color="#22c018"/><stop offset="0.22" stop-color="#26c318"/><stop offset="0.25" stop-color="#2bc518"/><stop offset="0.28" stop-color="#31c619"/><stop offset="0.31" stop-color="#35c71a"/><stop offset="0.34" stop-color="#38c81b"/><stop offset="0.38" stop-color="#3bc91b"/><stop offset="0.41" stop-color="#3cc91c"/><stop offset="0.44" stop-color="#3dc91c"/><stop offset="0.47" stop-color="#3cc91c"/><stop offset="0.5" stop-color="#3bc91b"/><stop offset="0.53" stop-color="#3cc91c"/><stop offset="0.56" stop-color="#3dc91c"/><stop offset="0.59" stop-color="#3cc91c"/><stop offset="0.62" stop-color="#3bc91b"/><stop offset="0.66" stop-color="#38c81b"/><stop offset="0.69" stop-color="#35c71a"/><stop offset="0.72" stop-color="#31c619"/><stop offset="0.75" stop-color="#2bc518"/><stop offset="0.78" stop-color="#26c318"/><stop offset="0.81" stop-color="#22c018"/><stop offset="0.84" stop-color="#1ebd19"/><stop offset="0.88" stop-color="#19bb19"/><stop offset="0.91" stop-color="#18b71d"/><stop offset="0.94" stop-color="#18b422"/><stop offset="0.97" stop-color="#19b027"/><stop offset="1" stop-color="#19ad2b"/></linearGradient><linearGradient id="e29"><stop offset="0" stop-color="#1aa733"/><stop offset="0.03" stop-color="#1aaa2f"/><stop offset="0.06" stop-color="#19ae2a"/><stop offset="0.09" stop-color="#19b224"/><stop offset="0.12" stop-color="#18b61f"/><stop offset="0.16" stop-color="#18ba19"/><stop offset="0.19" stop-color="#1cbc19"/><stop offset="0.22" stop-color="#20bf18"/><stop offset="0.25" stop-color="#23c118"/><stop offset="0.28" stop-color="#26c318"/><stop offset="0.31" stop-color="#28c418"/><stop offset="0.34" stop-color="#2ac418"/><stop offset="0.38" stop-color="#2bc518"/><stop offset="0.41" stop-color="#2cc518"/><stop offset="0.44" stop-color="#2cc518"/><stop offset="0.47" stop-color="#2cc518"/><stop offset="0.5" stop-color="#2bc518"/><stop offset="0.53" stop-color="#2cc518"/><stop offset="0.56" stop-color="#2cc518"/><stop offset="0.59" stop-color="#2cc518"/><stop offset="0.62" stop-color="#2bc518"/><stop offset="0.66" stop-color="#2ac418"/><stop offset="0.69" stop-color="#28c418"/><stop offset="0.72" stop-color="#26c318"/><stop offset="0.75" stop-color="#23c118"/><stop offset="0.78" stop-color="#20bf18"/><stop offset="0.81" stop-color="#1cbc19"/><stop offset="0.84" stop-color="#18ba19"/><stop offset="0.88" stop-color="#18b61f"/><stop offset="0.91" stop-color="#19b224"/><stop offset="0.94" stop-color="#19ae2a"/><stop offset="0.97" stop-color="#1aaa2f"/><stop offset="1" stop-color="#1aa733"/></linearGradient><linearGradient id="e30"><stop offset="0" stop-color="#1b9e3e"/><stop offset="0.03" stop-color="#1ba13a"/><stop offset="0.06" stop-color="#1aa635"/><stop offset="0.09" stop-color="#1aab2e"/><stop offset="0.12" stop-color="#19af28"/><stop offset="0.16" stop-color="#18b422"/><stop offset="0.19" stop-color="#18b81b"/><stop offset="0.22" stop-color="#1abb19"/><stop offset="0.25" stop-color="#1ebd19"/><stop offset="0.28" stop-color="#20bf18"/><stop offset="0.31" stop-color="#21c018"/><stop offset="0.34" stop-color="#22c018"/><stop offset="0.38" stop-color="#22c018"/><stop offset="0.41" stop-color="#22c018"/><stop offset="0.44" stop-color="#22c018"/><stop offset="0.47" stop-color="#22c018"/><stop offset="0.5" stop-color="#22c018"/><stop offset="0.53" stop-color="#22c018"/><stop offset="0.56" stop-color="#22c018"/><stop offset="0.59" stop-color="#22c018"/><stop offset="0.62" stop-color="#22c018"/><stop offset="0.66" stop-color="#22c018"/><stop offset="0.69" stop-color="#21c018"/><stop offset="0.72" stop-color="#20bf18"/><stop offset="0.75" stop-color="#1ebd19"/><stop offset="0.78" stop-color="#1abb19"/><stop offset="0.81" stop-color="#18b81b"/><stop offset="0.84" stop-color="#18b422"/><stop offset="0.88" stop-color="#19af28"/><stop offset="0.91" stop-color="#1aab2e"/><stop offset="0.94" stop-color="#1aa635"/><stop offset="0.97" stop-color="#1ba13a"/><stop offset="1" stop-color="#1b9e3e"/></linearGradient><linearGradient id="e31"><stop offset="0" stop-color="#1e934f"/><stop offset="0.03" stop-color="#1d964a"/><stop offset="0.06" stop-color="#1b9a43"/><stop offset="0.09" stop-color="#1ba03c"/><stop offset="0.12" stop-color="#1aa734"/><stop offset="0.16" stop-color="#19ad2c"/><stop offset="0.19" stop-color="#19b224"/><stop offset="0.22" stop-color="#18b61e"/><stop offset="0.25" stop-color="#18ba19"/><stop offset="0.28" stop-color="#1abb19"/><stop offset="0.31" stop-color="#1bbc19"/><stop offset="0.34" stop-color="#1bbc19"/><stop offset="0.38" stop-color="#1bbc19"/><stop offset="0.41" stop-color="#1bbb19"/><stop offset="0.44" stop-color="#1abb19"/><stop offset="0.47" stop-color="#1abb19"/><stop offset="0.5" stop-color="#1bbc19"/><stop offset="0.53" stop-color="#1abb19"/><stop offset="0.56" stop-color="#1abb19"/><stop offset="0.59" stop-color="#1bbb19"/><stop offset="0.62" stop-color="#1bbc19"/><stop offset="0.66" stop-color="#1bbc19"/><stop offset="0.69" stop-color="#1bbc19"/><stop offset="0.72" stop-color="#1abb19"/><stop offset="0.75" stop-color="#18ba19"/><stop offset="0.78" stop-color="#18b61e"/><stop offset="0.81" stop-color="#19b224"/><stop offset="0.84" stop-color="#19ad2c"/><stop offset="0.88" stop-color="#1aa734"/><stop offset="0.91" stop-color="#1ba03c"/><stop offset="0.94" stop-color="#1b9a43"/><stop offset="0.97" stop-color="#1d964a"/><stop offset="1" stop-color="#1e934f"/></linearGradient><linearGradient id="e32"><stop offset="0" stop-color="#238665"/><stop offset="0.03" stop-color="#228961"/><stop offset="0.06" stop-color="#208e58"/><stop offset="0.09" stop-color="#1e944e"/><stop offset="0.12" stop-color="#1b9b42"/><stop offset="0.16" stop-color="#1aa338"/><stop offset="0.19" stop-color="#1aaa2f"/><stop offset="0.22" stop-color="#19b027"/><stop offset="0.25" stop-color="#18b422"/><stop offset="0.28" stop-color="#18b61e"/><stop offset="0.31" stop-color="#18b71d"/><stop offset="0.34" stop-color="#18b71d"/><stop offset="0.38" stop-color="#18b61e"/><stop offset="0.41" stop-color="#18b61f"/><stop offset="0.44" stop-color="#18b520"/><stop offset="0.47" stop-color="#18b520"/><stop offset="0.5" stop-color="#18b61e"/><stop offset="0.53" stop-color="#18b520"/><stop offset="0.56" stop-color="#18b520"/><stop offset="0.59" stop-color="#18b61f"/><stop offset="0.62" stop-color="#18b61e"/><stop offset="0.66" stop-color="#18b71d"/><stop offset="0.69" stop-color="#18b71d"/><stop offset="0.72" stop-color="#18b61e"/><stop offset="0.75" stop-color="#18b422"/><stop offset="0.78" stop-color="#19b027"/><stop offset="0.81" stop-color="#1aaa2f"/><stop offset="0.84" stop-color="#1aa338"/><stop offset="0.88" stop-color="#1b9b42"/><stop offset="0.91" stop-color="#1e944e"/><stop offset="0.94" stop-color="#208e58"/><stop offset="0.97" stop-color="#228961"/><stop offset="1" stop-color="#238665"/></linearGradient><linearGradient id="e33"><stop offset="0" stop-color="#2a777f"/><stop offset="0.03" stop-color="#297a79"/><stop offset="0.06" stop-color="#277f70"/><stop offset="0.09" stop-color="#238764"/><stop offset="0.12" stop-color="#1f8f56"/><stop offset="0.16" stop-color="#1c9747"/><stop offset="0.19" stop-color="#1ba03b"/><stop offset="0.22" stop-color="#1aa832"/><stop offset="0.25" stop-color="#19ad2b"/><stop offset="0.28" stop-color="#19b027"/><stop offset="0.31" stop-color="#19b126"/><stop offset="0.34" stop-color="#19b126"/><stop offset="0.38" stop-color="#19b027"/><stop offset="0.41" stop-color="#19af29"/><stop offset="0.44" stop-color="#19ae2a"/><stop offset="0.47" stop-color="#19ae29"/><stop offset="0.5" stop-color="#19b027"/><stop offset="0.53" stop-color="#19ae29"/><stop offset="0.56" stop-color="#19ae2a"/><stop offset="0.59" stop-color="#19af29"/><stop offset="0.62" stop-color="#19b027"/><stop offset="0.66" stop-color="#19b126"/><stop offset="0.69" stop-color="#19b126"/><stop offset="0.72" stop-color="#19b027"/><stop offset="0.75" stop-color="#19ad2b"/><stop offset="0.78" stop-color="#1aa832"/><stop offset="0.81" stop-color="#1ba03b"/><stop offset="0.84" stop-color="#1c9747"/><stop offset="0.88" stop-color="#1f8f56"/><stop offset="0.91" stop-color="#238764"/><stop offset="0.94" stop-color="#277f70"/><stop offset="0.97" stop-color="#297a79"/><stop offset="1" stop-color="#2a777f"/></linearGradient><linearGradient id="e34"><stop offset="0" stop-color="#2e689f"/><stop offset="0.03" stop-color="#2e6b98"/><stop offset="0.06" stop-color="#2c718b"/><stop offset="0.09" stop-color="#2a797c"/><stop offset="0.12" stop-color="#25826b"/><stop offset="0.16" stop-color="#208c5b"/><stop offset="0.19" stop-color="#1d964a"/><stop offset="0.22" stop-color="#1b9f3d"/><stop offset="0.25" stop-color="#1aa635"/><stop offset="0.28" stop-color="#1aaa30"/><stop offset="0.31" stop-color="#1aab2e"/><stop offset="0.34" stop-color="#1aab2f"/><stop offset="0.38" stop-color="#1aa930"/><stop offset="0.41" stop-color="#1aa832"/><stop offset="0.44" stop-color="#1aa734"/><stop offset="0.47" stop-color="#1aa733"/><stop offset="0.5" stop-color="#1aa930"/><stop offset="0.53" stop-color="#1aa733"/><stop offset="0.56" stop-color="#1aa734"/><stop offset="0.59" stop-color="#1aa832"/><stop offset="0.62" stop-color="#1aa930"/><stop offset="0.66" stop-color="#1aab2f"/><stop offset="0.69" stop-color="#1aab2e"/><stop offset="0.72" stop-color="#1aaa30"/><stop offset="0.75" stop-color="#1aa635"/><stop offset="0.78" stop-color="#1b9f3d"/><stop offset="0.81" stop-color="#1d964a"/><stop offset="0.84" stop-color="#208c5b"/><stop offset="0.88" stop-color="#25826b"/><stop offset="0.91" stop-color="#2a797c"/><stop offset="0.94" stop-color="#2c718b"/><stop offset="0.97" stop-color="#2e6b98"/><stop offset="1" stop-color="#2e689f"/></linearGradient><linearGradient id="e35"><stop offset="0" stop-color="#335abf"/><stop offset="0.03" stop-color="#325db9"/><stop offset="0.06" stop-color="#3063ab"/><stop offset="0.09" stop-color="#2d6c97"/><stop offset="0.12" stop-color="#2b7582"/><stop offset="0.16" stop-color="#26816e"/><stop offset="0.19" stop-color="#218c5b"/><stop offset="0.22" stop-color="#1d964a"/><stop offset="0.25" stop-color="#1b9e3e"/><stop offset="0.28" stop-color="#1ba239"/><stop offset="0.31" stop-color="#1aa436"/><stop offset="0.34" stop-color="#1aa437"/><stop offset="0.38" stop-color="#1ba239"/><stop offset="0.41" stop-color="#1ba03b"/><stop offset="0.44" stop-color="#1b9f3d"/><stop offset="0.47" stop-color="#1b9f3c"/><stop offset="0.5" stop-color="#1ba239"/><stop offset="0.53" stop-color="#1b9f3c"/><stop offset="0.56" stop-color="#1b9f3d"/><stop offset="0.59" stop-color="#1ba03b"/><stop offset="0.62" stop-color="#1ba239"/><stop offset="0.66" stop-color="#1aa437"/><stop offset="0.69" stop-color="#1aa436"/><stop offset="0.72" stop-color="#1ba239"/><stop offset="0.75" stop-color="#1b9e3e"/><stop offset="0.78" stop-color="#1d964a"/><stop offset="0.81" stop-color="#218c5b"/><stop offset="0.84" stop-color="#26816e"/><stop offset="0.88" stop-color="#2b7582"/><stop offset="0.91" stop-color="#2d6c97"/><stop offset="0.94" stop-color="#3063ab"/><stop offset="0.97" stop-color="#325db9"/><stop offset="1" stop-color="#335abf"/></linearGradient><linearGradient id="e36"><stop offset="0" stop-color="#374bda"/><stop offset="0.03" stop-color="#374dd6"/><stop offset="0.06" stop-color="#3454c9"/><stop offset="0.09" stop-color="#315fb5"/><stop offset="0.12" stop-color="#2e6a9c"/><stop offset="0.16" stop-color="#2b7682"/><stop offset="0.19" stop-color="#25836b"/><stop offset="0.22" stop-color="#208e57"/><stop offset="0.25" stop-color="#1c9748"/><stop offset="0.28" stop-color="#1b9d40"/><stop offset="0.31" stop-color="#1b9f3d"/><stop offset="0.34" stop-color="#1b9e3e"/><stop offset="0.38" stop-color="#1b9d40"/><stop offset="0.41" stop-color="#1b9a42"/><stop offset="0.44" stop-color="#1c9944"/><stop offset="0.47" stop-color="#1c9944"/><stop offset="0.5" stop-color="#1b9d40"/><stop offset="0.53" stop-color="#1c9944"/><stop offset="0.56" stop-color="#1c9944"/><stop offset="0.59" stop-color="#1b9a42"/><stop offset="0.62" stop-color="#1b9d40"/><stop offset="0.66" stop-color="#1b9e3e"/><stop offset="0.69" stop-color="#1b9f3d"/><stop offset="0.72" stop-color="#1b9d40"/><stop offset="0.75" stop-color="#1c9748"/><stop offset="0.78" stop-color="#208e57"/><stop offset="0.81" stop-color="#25836b"/><stop offset="0.84" stop-color="#2b7682"/><stop offset="0.88" stop-color="#2e6a9c"/><stop offset="0.91" stop-color="#315fb5"/><stop offset="0.94" stop-color="#3454c9"/><stop offset="0.97" stop-color="#374dd6"/><stop offset="1" stop-color="#374bda"/></linearGradient><linearGradient id="e37"><stop offset="0" stop-color="#3943e7"/><stop offset="0.03" stop-color="#3844e6"/><stop offset="0.06" stop-color="#374adb"/><stop offset="0.09" stop-color="#3455c7"/><stop offset="0.12" stop-color="#3062ad"/><stop offset="0.16" stop-color="#2c6f8f"/><stop offset="0.19" stop-color="#287d74"/><stop offset="0.22" stop-color="#218a5f"/><stop offset="0.25" stop-color="#1e944d"/><stop offset="0.28" stop-color="#1b9a43"/><stop offset="0.31" stop-color="#1b9c40"/><stop offset="0.34" stop-color="#1b9c41"/><stop offset="0.38" stop-color="#1b9a43"/><stop offset="0.41" stop-color="#1c9846"/><stop offset="0.44" stop-color="#1d9649"/><stop offset="0.47" stop-color="#1d9748"/><stop offset="0.5" stop-color="#1b9a43"/><stop offset="0.53" stop-color="#1d9748"/><stop offset="0.56" stop-color="#1d9649"/><stop offset="0.59" stop-color="#1c9846"/><stop offset="0.62" stop-color="#1b9a43"/><stop offset="0.66" stop-color="#1b9c41"/><stop offset="0.69" stop-color="#1b9c40"/><stop offset="0.72" stop-color="#1b9a43"/><stop offset="0.75" stop-color="#1e944d"/><stop offset="0.78" stop-color="#218a5f"/><stop offset="0.81" stop-color="#287d74"/><stop offset="0.84" stop-color="#2c6f8f"/><stop offset="0.88" stop-color="#3062ad"/><stop offset="0.91" stop-color="#3455c7"/><stop offset="0.94" stop-color="#374adb"/><stop offset="0.97" stop-color="#3844e6"/><stop offset="1" stop-color="#3943e7"/></linearGradient><linearGradient id="e38"><stop offset="0" stop-color="#3650d1"/><stop offset="0.03" stop-color="#3553cc"/><stop offset="0.06" stop-color="#335abf"/><stop offset="0.09" stop-color="#3063ab"/><stop offset="0.12" stop-color="#2d6e92"/><stop offset="0.16" stop-color="#2a797a"/><stop offset="0.19" stop-color="#238665"/><stop offset="0.22" stop-color="#1f9153"/><stop offset="0.25" stop-color="#1c9944"/><stop offset="0.28" stop-color="#1b9e3d"/><stop offset="0.31" stop-color="#1ba03b"/><stop offset="0.34" stop-color="#1ba03b"/><stop offset="0.38" stop-color="#1b9e3e"/><stop offset="0.41" stop-color="#1b9c40"/><stop offset="0.44" stop-color="#1b9b42"/><stop offset="0.47" stop-color="#1b9b41"/><stop offset="0.5" stop-color="#1b9e3e"/><stop offset="0.53" stop-color="#1b9b41"/><stop offset="0.56" stop-color="#1b9b42"/><stop offset="0.59" stop-color="#1b9c40"/><stop offset="0.62" stop-color="#1b9e3e"/><stop offset="0.66" stop-color="#1ba03b"/><stop offset="0.69" stop-color="#1ba03b"/><stop offset="0.72" stop-color="#1b9e3d"/><stop offset="0.75" stop-color="#1c9944"/><stop offset="0.78" stop-color="#1f9153"/><stop offset="0.81" stop-color="#238665"/><stop offset="0.84" stop-color="#2a797a"/><stop offset="0.88" stop-color="#2d6e92"/><stop offset="0.91" stop-color="#3063ab"/><stop offset="0.94" stop-color="#335abf"/><stop offset="0.97" stop-color="#3553cc"/><stop offset="1" stop-color="#3650d1"/></linearGradient><linearGradient id="e39"><stop offset="0" stop-color="#315fb4"/><stop offset="0.03" stop-color="#3062ad"/><stop offset="0.06" stop-color="#2e689f"/><stop offset="0.09" stop-color="#2c708d"/><stop offset="0.12" stop-color="#297a79"/><stop offset="0.16" stop-color="#248567"/><stop offset="0.19" stop-color="#1f8f55"/><stop offset="0.22" stop-color="#1c9945"/><stop offset="0.25" stop-color="#1ba03b"/><stop offset="0.28" stop-color="#1aa536"/><stop offset="0.31" stop-color="#1aa634"/><stop offset="0.34" stop-color="#1aa634"/><stop offset="0.38" stop-color="#1aa436"/><stop offset="0.41" stop-color="#1aa338"/><stop offset="0.44" stop-color="#1ba13a"/><stop offset="0.47" stop-color="#1ba239"/><stop offset="0.5" stop-color="#1aa436"/><stop offset="0.53" stop-color="#1ba239"/><stop offset="0.56" stop-color="#1ba13a"/><stop offset="0.59" stop-color="#1aa338"/><stop offset="0.62" stop-color="#1aa436"/><stop offset="0.66" stop-color="#1aa634"/><stop offset="0.69" stop-color="#1aa634"/><stop offset="0.72" stop-color="#1aa536"/><stop offset="0.75" stop-color="#1ba03b"/><stop offset="0.78" stop-color="#1c9945"/><stop offset="0.81" stop-color="#1f8f55"/><stop offset="0.84" stop-color="#248567"/><stop offset="0.88" stop-color="#297a79"/><stop offset="0.91" stop-color="#2c708d"/><stop offset="0.94" stop-color="#2e689f"/><stop offset="0.97" stop-color="#3062ad"/><stop offset="1" stop-color="#315fb4"/></linearGradient><linearGradient id="e40"><stop offset="0" stop-color="#2d6e93"/><stop offset="0.03" stop-color="#2c718d"/><stop offset="0.06" stop-color="#2b7681"/><stop offset="0.09" stop-color="#277e73"/><stop offset="0.12" stop-color="#238764"/><stop offset="0.16" stop-color="#1f9054"/><stop offset="0.19" stop-color="#1c9944"/><stop offset="0.22" stop-color="#1ba239"/><stop offset="0.25" stop-color="#1aa931"/><stop offset="0.28" stop-color="#19ac2d"/><stop offset="0.31" stop-color="#19ad2b"/><stop offset="0.34" stop-color="#19ad2c"/><stop offset="0.38" stop-color="#19ac2d"/><stop offset="0.41" stop-color="#1aaa2f"/><stop offset="0.44" stop-color="#1aa930"/><stop offset="0.47" stop-color="#1aaa30"/><stop offset="0.5" stop-color="#19ac2d"/><stop offset="0.53" stop-color="#1aaa30"/><stop offset="0.56" stop-color="#1aa930"/><stop offset="0.59" stop-color="#1aaa2f"/><stop offset="0.62" stop-color="#19ac2d"/><stop offset="0.66" stop-color="#19ad2c"/><stop offset="0.69" stop-color="#19ad2b"/><stop offset="0.72" stop-color="#19ac2d"/><stop offset="0.75" stop-color="#1aa931"/><stop offset="0.78" stop-color="#1ba239"/><stop offset="0.81" stop-color="#1c9944"/><stop offset="0.84" stop-color="#1f9054"/><stop offset="0.88" stop-color="#238764"/><stop offset="0.91" stop-color="#277e73"/><stop offset="0.94" stop-color="#2b7681"/><stop offset="0.97" stop-color="#2c718d"/><stop offset="1" stop-color="#2d6e93"/></linearGradient><linearGradient id="e41"><stop offset="0" stop-color="#287c75"/><stop offset="0.03" stop-color="#277f70"/><stop offset="0.06" stop-color="#248568"/><stop offset="0.09" stop-color="#218b5c"/><stop offset="0.12" stop-color="#1e934f"/><stop offset="0.16" stop-color="#1b9b41"/><stop offset="0.19" stop-color="#1aa437"/><stop offset="0.22" stop-color="#1aab2e"/><stop offset="0.25" stop-color="#19b027"/><stop offset="0.28" stop-color="#19b224"/><stop offset="0.31" stop-color="#18b323"/><stop offset="0.34" stop-color="#18b323"/><stop offset="0.38" stop-color="#19b224"/><stop offset="0.41" stop-color="#19b125"/><stop offset="0.44" stop-color="#19b126"/><stop offset="0.47" stop-color="#19b126"/><stop offset="0.5" stop-color="#19b224"/><stop offset="0.53" stop-color="#19b126"/><stop offset="0.56" stop-color="#19b126"/><stop offset="0.59" stop-color="#19b125"/><stop offset="0.62" stop-color="#19b224"/><stop offset="0.66" stop-color="#18b323"/><stop offset="0.69" stop-color="#18b323"/><stop offset="0.72" stop-color="#19b224"/><stop offset="0.75" stop-color="#19b027"/><stop offset="0.78" stop-color="#1aab2e"/><stop offset="0.81" stop-color="#1aa437"/><stop offset="0.84" stop-color="#1b9b41"/><stop offset="0.88" stop-color="#1e934f"/><stop offset="0.91" stop-color="#218b5c"/><stop offset="0.94" stop-color="#248568"/><stop offset="0.97" stop-color="#277f70"/><stop offset="1" stop-color="#287c75"/></linearGradient><linearGradient id="e42"><stop offset="0" stop-color="#218b5d"/><stop offset="0.03" stop-color="#208e58"/><stop offset="0.06" stop-color="#1e9250"/><stop offset="0.09" stop-color="#1c9846"/><stop offset="0.12" stop-color="#1b9f3d"/><stop offset="0.16" stop-color="#1aa733"/><stop offset="0.19" stop-color="#19ad2b"/><stop offset="0.22" stop-color="#19b224"/><stop offset="0.25" stop-color="#18b61f"/><stop offset="0.28" stop-color="#18b81b"/><stop offset="0.31" stop-color="#18b91a"/><stop offset="0.34" stop-color="#18b91a"/><stop offset="0.38" stop-color="#18b91b"/><stop offset="0.41" stop-color="#18b81c"/><stop offset="0.44" stop-color="#18b81c"/><stop offset="0.47" stop-color="#18b81c"/><stop offset="0.5" stop-color="#18b91b"/><stop offset="0.53" stop-color="#18b81c"/><stop offset="0.56" stop-color="#18b81c"/><stop offset="0.59" stop-color="#18b81c"/><stop offset="0.62" stop-color="#18b91b"/><stop offset="0.66" stop-color="#18b91a"/><stop offset="0.69" stop-color="#18b91a"/><stop offset="0.72" stop-color="#18b81b"/><stop offset="0.75" stop-color="#18b61f"/><stop offset="0.78" stop-color="#19b224"/><stop offset="0.81" stop-color="#19ad2b"/><stop offset="0.84" stop-color="#1aa733"/><stop offset="0.88" stop-color="#1b9f3d"/><stop offset="0.91" stop-color="#1c9846"/><stop offset="0.94" stop-color="#1e9250"/><stop offset="0.97" stop-color="#208e58"/><stop offset="1" stop-color="#218b5d"/></linearGradient><linearGradient id="e43"><stop offset="0" stop-color="#1c9748"/><stop offset="0.03" stop-color="#1b9a43"/><stop offset="0.06" stop-color="#1b9e3d"/><stop offset="0.09" stop-color="#1aa437"/><stop offset="0.12" stop-color="#1aaa2f"/><stop offset="0.16" stop-color="#19af28"/><stop offset="0.19" stop-color="#18b421"/><stop offset="0.22" stop-color="#18b81b"/><stop offset="0.25" stop-color="#1abb19"/><stop offset="0.28" stop-color="#1cbc19"/><stop offset="0.31" stop-color="#1dbd19"/><stop offset="0.34" stop-color="#1ebd19"/><stop offset="0.38" stop-color="#1ebd19"/><stop offset="0.41" stop-color="#1dbd19"/><stop offset="0.44" stop-color="#1dbd19"/><stop offset="0.47" stop-color="#1dbd19"/><stop offset="0.5" stop-color="#1ebd19"/><stop offset="0.53" stop-color="#1dbd19"/><stop offset="0.56" stop-color="#1dbd19"/><stop offset="0.59" stop-color="#1dbd19"/><stop offset="0.62" stop-color="#1ebd19"/><stop offset="0.66" stop-color="#1ebd19"/><stop offset="0.69" stop-color="#1dbd19"/><stop offset="0.72" stop-color="#1cbc19"/><stop offset="0.75" stop-color="#1abb19"/><stop offset="0.78" stop-color="#18b81b"/><stop offset="0.81" stop-color="#18b421"/><stop offset="0.84" stop-color="#19af28"/><stop offset="0.88" stop-color="#1aaa2f"/><stop offset="0.91" stop-color="#1aa437"/><stop offset="0.94" stop-color="#1b9e3d"/><stop offset="0.97" stop-color="#1b9a43"/><stop offset="1" stop-color="#1c9748"/></linearGradient><linearGradient id="e44"><stop offset="0" stop-color="#1ba13a"/><stop offset="0.03" stop-color="#1aa536"/><stop offset="0.06" stop-color="#1aa930"/><stop offset="0.09" stop-color="#19ae2a"/><stop offset="0.12" stop-color="#19b224"/><stop offset="0.16" stop-color="#18b61e"/><stop offset="0.19" stop-color="#18ba19"/><stop offset="0.22" stop-color="#1cbd19"/><stop offset="0.25" stop-color="#20bf18"/><stop offset="0.28" stop-color="#22c018"/><stop offset="0.31" stop-color="#24c118"/><stop offset="0.34" stop-color="#24c218"/><stop offset="0.38" stop-color="#25c218"/><stop offset="0.41" stop-color="#25c218"/><stop offset="0.44" stop-color="#25c218"/><stop offset="0.47" stop-color="#25c218"/><stop offset="0.5" stop-color="#25c218"/><stop offset="0.53" stop-color="#25c218"/><stop offset="0.56" stop-color="#25c218"/><stop offset="0.59" stop-color="#25c218"/><stop offset="0.62" stop-color="#25c218"/><stop offset="0.66" stop-color="#24c218"/><stop offset="0.69" stop-color="#24c118"/><stop offset="0.72" stop-color="#22c018"/><stop offset="0.75" stop-color="#20bf18"/><stop offset="0.78" stop-color="#1cbd19"/><stop offset="0.81" stop-color="#18ba19"/><stop offset="0.84" stop-color="#18b61e"/><stop offset="0.88" stop-color="#19b224"/><stop offset="0.91" stop-color="#19ae2a"/><stop offset="0.94" stop-color="#1aa930"/><stop offset="0.97" stop-color="#1aa536"/><stop offset="1" stop-color="#1ba13a"/></linearGradient><linearGradient id="e45"><stop offset="0" stop-color="#1aa930"/><stop offset="0.03" stop-color="#19ad2c"/><stop offset="0.06" stop-color="#19b027"/><stop offset="0.09" stop-color="#18b421"/><stop offset="0.12" stop-color="#18b81c"/><stop offset="0.16" stop-color="#1abb19"/><stop offset="0.19" stop-color="#1ebe19"/><stop offset="0.22" stop-color="#22c018"/><stop offset="0.25" stop-color="#26c218"/><stop offset="0.28" stop-color="#29c418"/><stop offset="0.31" stop-color="#2cc518"/><stop offset="0.34" stop-color="#2fc619"/><stop offset="0.38" stop-color="#31c619"/><stop offset="0.41" stop-color="#31c619"/><stop offset="0.44" stop-color="#32c61a"/><stop offset="0.47" stop-color="#31c619"/><stop offset="0.5" stop-color="#31c619"/><stop offset="0.53" stop-color="#31c619"/><stop offset="0.56" stop-color="#32c61a"/><stop offset="0.59" stop-color="#31c619"/><stop offset="0.62" stop-color="#31c619"/><stop offset="0.66" stop-color="#2fc619"/><stop offset="0.69" stop-color="#2cc518"/><stop offset="0.72" stop-color="#29c418"/><stop offset="0.75" stop-color="#26c218"/><stop offset="0.78" stop-color="#22c018"/><stop offset="0.81" stop-color="#1ebe19"/><stop offset="0.84" stop-color="#1abb19"/><stop offset="0.88" stop-color="#18b81c"/><stop offset="0.91" stop-color="#18b421"/><stop offset="0.94" stop-color="#19b027"/><stop offset="0.97" stop-color="#19ad2c"/><stop offset="1" stop-color="#1aa930"/></linearGradient><linearGradient id="e46"><stop offset="0" stop-color="#19af28"/><stop offset="0.03" stop-color="#19b224"/><stop offset="0.06" stop-color="#18b520"/><stop offset="0.09" stop-color="#18b91a"/><stop offset="0.12" stop-color="#1bbc19"/><stop offset="0.16" stop-color="#20bf18"/><stop offset="0.19" stop-color="#24c118"/><stop offset="0.22" stop-color="#29c418"/><stop offset="0.25" stop-color="#2fc619"/><stop offset="0.28" stop-color="#35c71a"/><stop offset="0.31" stop-color="#3ac81b"/><stop offset="0.34" stop-color="#3ec91c"/><stop offset="0.38" stop-color="#40ca1c"/><stop offset="0.41" stop-color="#42cb1d"/><stop offset="0.44" stop-color="#43cb1d"/><stop offset="0.47" stop-color="#42cb1d"/><stop offset="0.5" stop-color="#41ca1d"/><stop offset="0.53" stop-color="#42cb1d"/><stop offset="0.56" stop-color="#43cb1d"/><stop offset="0.59" stop-color="#42cb1d"/><stop offset="0.62" stop-color="#40ca1c"/><stop offset="0.66" stop-color="#3ec91c"/><stop offset="0.69" stop-color="#3ac81b"/><stop offset="0.72" stop-color="#35c71a"/><stop offset="0.75" stop-color="#2fc619"/><stop offset="0.78" stop-color="#29c418"/><stop offset="0.81" stop-color="#24c118"/><stop offset="0.84" stop-color="#20bf18"/><stop offset="0.88" stop-color="#1bbc19"/><stop offset="0.91" stop-color="#18b91a"/><stop offset="0.94" stop-color="#18b520"/><stop offset="0.97" stop-color="#19b224"/><stop offset="1" stop-color="#19af28"/></linearGradient><linearGradient id="e47"><stop offset="0" stop-color="#18b323"/><stop offset="0.03" stop-color="#18b61f"/><stop offset="0.06" stop-color="#18b91a"/><stop offset="0.09" stop-color="#1bbc19"/><stop offset="0.12" stop-color="#20bf18"/><stop offset="0.16" stop-color="#25c218"/><stop offset="0.19" stop-color="#2bc418"/><stop offset="0.22" stop-color="#33c71a"/><stop offset="0.25" stop-color="#3bc91b"/><stop offset="0.28" stop-color="#42cb1d"/><stop offset="0.31" stop-color="#48cc1e"/><stop offset="0.34" stop-color="#4dcc20"/><stop offset="0.38" stop-color="#51cc21"/><stop offset="0.41" stop-color="#54cc22"/><stop offset="0.44" stop-color="#55cd23"/><stop offset="0.47" stop-color="#55cd23"/><stop offset="0.5" stop-color="#53cc22"/><stop offset="0.53" stop-color="#55cd23"/><stop offset="0.56" stop-color="#55cd23"/><stop offset="0.59" stop-color="#54cc22"/><stop offset="0.62" stop-color="#51cc21"/><stop offset="0.66" stop-color="#4dcc20"/><stop offset="0.69" stop-color="#48cc1e"/><stop offset="0.72" stop-color="#42cb1d"/><stop offset="0.75" stop-color="#3bc91b"/><stop offset="0.78" stop-color="#33c71a"/><stop offset="0.81" stop-color="#2bc418"/><stop offset="0.84" stop-color="#25c218"/><stop offset="0.88" stop-color="#20bf18"/><stop offset="0.91" stop-color="#1bbc19"/><stop offset="0.94" stop-color="#18b91a"/><stop offset="0.97" stop-color="#18b61f"/><stop offset="1" stop-color="#18b323"/></linearGradient><linearGradient id="e48"><stop offset="0" stop-color="#18b71d"/><stop offset="0.03" stop-color="#18b91a"/><stop offset="0.06" stop-color="#1bbc19"/><stop offset="0.09" stop-color="#1fbe19"/><stop offset="0.12" stop-color="#24c118"/><stop offset="0.16" stop-color="#2bc418"/><stop offset="0.19" stop-color="#35c71a"/><stop offset="0.22" stop-color="#3fca1c"/><stop offset="0.25" stop-color="#48cc1e"/><stop offset="0.28" stop-color="#50cc21"/><stop offset="0.31" stop-color="#57cd23"/><stop offset="0.34" stop-color="#5dcd25"/><stop offset="0.38" stop-color="#62cd27"/><stop offset="0.41" stop-color="#66ce28"/><stop offset="0.44" stop-color="#69cf28"/><stop offset="0.47" stop-color="#69cf28"/><stop offset="0.5" stop-color="#67ce28"/><stop offset="0.53" stop-color="#69cf28"/><stop offset="0.56" stop-color="#69cf28"/><stop offset="0.59" stop-color="#66ce28"/><stop offset="0.62" stop-color="#62cd27"/><stop offset="0.66" stop-color="#5dcd25"/><stop offset="0.69" stop-color="#57cd23"/><stop offset="0.72" stop-color="#50cc21"/><stop offset="0.75" stop-color="#48cc1e"/><stop offset="0.78" stop-color="#3fca1c"/><stop offset="0.81" stop-color="#35c71a"/><stop offset="0.84" stop-color="#2bc418"/><stop offset="0.88" stop-color="#24c118"/><stop offset="0.91" stop-color="#1fbe19"/><stop offset="0.94" stop-color="#1bbc19"/><stop offset="0.97" stop-color="#18b91a"/><stop offset="1" stop-color="#18b71d"/></linearGradient><linearGradient id="e49"><stop offset="0" stop-color="#18ba19"/><stop offset="0.03" stop-color="#1bbc19"/><stop offset="0.06" stop-color="#1fbe19"/><stop offset="0.09" stop-color="#23c118"/><stop offset="0.12" stop-color="#29c418"/><stop offset="0.16" stop-color="#34c71a"/><stop offset="0.19" stop-color="#3fca1c"/><stop offset="0.22" stop-color="#4acc1f"/><stop offset="0.25" stop-color="#54cc22"/><stop offset="0.28" stop-color="#5ecd26"/><stop offset="0.31" stop-color="#67ce28"/><stop offset="0.34" stop-color="#71d129"/><stop offset="0.38" stop-color="#79d32a"/><stop offset="0.41" stop-color="#7ed42b"/><stop offset="0.44" stop-color="#82d52b"/><stop offset="0.47" stop-color="#83d52b"/><stop offset="0.5" stop-color="#82d52b"/><stop offset="0.53" stop-color="#83d52b"/><stop offset="0.56" stop-color="#82d52b"/><stop offset="0.59" stop-color="#7ed42b"/><stop offset="0.62" stop-color="#79d32a"/><stop offset="0.66" stop-color="#71d129"/><stop offset="0.69" stop-color="#67ce28"/><stop offset="0.72" stop-color="#5ecd26"/><stop offset="0.75" stop-color="#54cc22"/><stop offset="0.78" stop-color="#4acc1f"/><stop offset="0.81" stop-color="#3fca1c"/><stop offset="0.84" stop-color="#34c71a"/><stop offset="0.88" stop-color="#29c418"/><stop offset="0.91" stop-color="#23c118"/><stop offset="0.94" stop-color="#1fbe19"/><stop offset="0.97" stop-color="#1bbc19"/><stop offset="1" stop-color="#18ba19"/></linearGradient><linearGradient id="e50"><stop offset="0" stop-color="#1dbd19"/><stop offset="0.03" stop-color="#1fbe19"/><stop offset="0.06" stop-color="#23c118"/><stop offset="0.09" stop-color="#28c418"/><stop offset="0.12" stop-color="#32c61a"/><stop offset="0.16" stop-color="#3ec91c"/><stop offset="0.19" stop-color="#4acc1f"/><stop offset="0.22" stop-color="#56cd23"/><stop offset="0.25" stop-color="#61cd27"/><stop offset="0.28" stop-color="#6ed029"/><stop offset="0.31" stop-color="#7bd32a"/><stop offset="0.34" stop-color="#86d62c"/><stop offset="0.38" stop-color="#8fd82d"/><stop offset="0.41" stop-color="#96da2d"/><stop offset="0.44" stop-color="#9adb2d"/><stop offset="0.47" stop-color="#9ddc2d"/><stop offset="0.5" stop-color="#9cdc2d"/><stop offset="0.53" stop-color="#9ddc2d"/><stop offset="0.56" stop-color="#9adb2d"/><stop offset="0.59" stop-color="#96da2d"/><stop offset="0.62" stop-color="#8fd82d"/><stop offset="0.66" stop-color="#86d62c"/><stop offset="0.69" stop-color="#7bd32a"/><stop offset="0.72" stop-color="#6ed029"/><stop offset="0.75" stop-color="#61cd27"/><stop offset="0.78" stop-color="#56cd23"/><stop offset="0.81" stop-color="#4acc1f"/><stop offset="0.84" stop-color="#3ec91c"/><stop offset="0.88" stop-color="#32c61a"/><stop offset="0.91" stop-color="#28c418"/><stop offset="0.94" stop-color="#23c118"/><stop offset="0.97" stop-color="#1fbe19"/><stop offset="1" stop-color="#1dbd19"/></linearGradient><linearGradient id="e51"><stop offset="0" stop-color="#21bf18"/><stop offset="0.03" stop-color="#23c118"/><stop offset="0.06" stop-color="#27c318"/><stop offset="0.09" stop-color="#31c619"/><stop offset="0.12" stop-color="#3cc91c"/><stop offset="0.16" stop-color="#48cc1e"/><stop offset="0.19" stop-color="#55cd23"/><stop offset="0.22" stop-color="#61cd27"/><stop offset="0.25" stop-color="#71d129"/><stop offset="0.28" stop-color="#80d52b"/><stop offset="0.31" stop-color="#8ed82d"/><stop offset="0.34" stop-color="#9adb2d"/><stop offset="0.38" stop-color="#a4de2d"/><stop offset="0.41" stop-color="#ace02d"/><stop offset="0.44" stop-color="#b2e12d"/><stop offset="0.47" stop-color="#b5e22d"/><stop offset="0.5" stop-color="#b6e22d"/><stop offset="0.53" stop-color="#b5e22d"/><stop offset="0.56" stop-color="#b2e12d"/><stop offset="0.59" stop-color="#ace02d"/><stop offset="0.62" stop-color="#a4de2d"/><stop offset="0.66" stop-color="#9adb2d"/><stop offset="0.69" stop-color="#8ed82d"/><stop offset="0.72" stop-color="#80d52b"/><stop offset="0.75" stop-color="#71d129"/><stop offset="0.78" stop-color="#61cd27"/><stop offset="0.81" stop-color="#55cd23"/><stop offset="0.84" stop-color="#48cc1e"/><stop offset="0.88" stop-color="#3cc91c"/><stop offset="0.91" stop-color="#31c619"/><stop offset="0.94" stop-color="#27c318"/><stop offset="0.97" stop-color="#23c118"/><stop offset="1" stop-color="#21bf18"/></linearGradient><linearGradient id="e52"><stop offset="0" stop-color="#25c218"/><stop offset="0.03" stop-color="#27c318"/><stop offset="0.06" stop-color="#2fc619"/><stop offset="0.09" stop-color="#39c81b"/><stop offset="0.12" stop-color="#45cb1d"/><stop offset="0.16" stop-color="#52cc22"/><stop offset="0.19" stop-color="#5fcd26"/><stop offset="0.22" stop-color="#6fd029"/><stop offset="0.25" stop-color="#81d52b"/><stop offset="0.28" stop-color="#91d92d"/><stop offset="0.31" stop-color="#9fdc2d"/><stop offset="0.34" stop-color="#ace02d"/><stop offset="0.38" stop-color="#b6e22d"/><stop offset="0.41" stop-color="#bee52d"/><stop offset="0.44" stop-color="#c4e62d"/><stop offset="0.47" stop-color="#c7e72d"/><stop offset="0.5" stop-color="#c9e82d"/><stop offset="0.53" stop-color="#c7e72d"/><stop offset="0.56" stop-color="#c4e62d"/><stop offset="0.59" stop-color="#bee52d"/><stop offset="0.62" stop-color="#b6e22d"/><stop offset="0.66" stop-color="#ace02d"/><stop offset="0.69" stop-color="#9fdc2d"/><stop offset="0.72" stop-color="#91d92d"/><stop offset="0.75" stop-color="#81d52b"/><stop offset="0.78" stop-color="#6fd029"/><stop offset="0.81" stop-color="#5fcd26"/><stop offset="0.84" stop-color="#52cc22"/><stop offset="0.88" stop-color="#45cb1d"/><stop offset="0.91" stop-color="#39c81b"/><stop offset="0.94" stop-color="#2fc619"/><stop offset="0.97" stop-color="#27c318"/><stop offset="1" stop-color="#25c218"/></linearGradient><linearGradient id="e53"><stop offset="0" stop-color="#29c418"/><stop offset="0.03" stop-color="#2fc519"/><stop offset="0.06" stop-color="#37c81b"/><stop offset="0.09" stop-color="#41ca1d"/><stop offset="0.12" stop-color="#4ecc20"/><stop offset="0.16" stop-color="#5bcd25"/><stop offset="0.19" stop-color="#6acf28"/><stop offset="0.22" stop-color="#7dd42b"/><stop offset="0.25" stop-color="#8fd82d"/><stop offset="0.28" stop-color="#9fdc2d"/><stop offset="0.31" stop-color="#afe02d"/><stop offset="0.34" stop-color="#bbe42d"/><stop offset="0.38" stop-color="#c4e62d"/><stop offset="0.41" stop-color="#cde92d"/><stop offset="0.44" stop-color="#d3eb2d"/><stop offset="0.47" stop-color="#d7ec2d"/><stop offset="0.5" stop-color="#d8ec2d"/><stop offset="0.53" stop-color="#d7ec2d"/><stop offset="0.56" stop-color="#d3eb2d"/><stop offset="0.59" stop-color="#cde92d"/><stop offset="0.62" stop-color="#c4e62d"/><stop offset="0.66" stop-color="#bbe42d"/><stop offset="0.69" stop-color="#afe02d"/><stop offset="0.72" stop-color="#9fdc2d"/><stop offset="0.75" stop-color="#8fd82d"/><stop offset="0.78" stop-color="#7dd42b"/><stop offset="0.81" stop-color="#6acf28"/><stop offset="0.84" stop-color="#5bcd25"/><stop offset="0.88" stop-color="#4ecc20"/><stop offset="0.91" stop-color="#41ca1d"/><stop offset="0.94" stop-color="#37c81b"/><stop offset="0.97" stop-color="#2fc519"/><stop offset="1" stop-color="#29c418"/></linearGradient><linearGradient id="e54"><stop offset="0" stop-color="#2fc519"/><stop offset="0.03" stop-color="#35c71a"/><stop offset="0.06" stop-color="#3ec91c"/><stop offset="0.09" stop-color="#49cc1f"/><stop offset="0.12" stop-color="#56cd23"/><stop offset="0.16" stop-color="#63cd27"/><stop offset="0.19" stop-color="#76d22a"/><stop offset="0.22" stop-color="#89d72c"/><stop offset="0.25" stop-color="#9cdc2d"/><stop offset="0.28" stop-color="#ade02d"/><stop offset="0.31" stop-color="#bbe42d"/><stop offset="0.34" stop-color="#c7e72d"/><stop offset="0.38" stop-color="#d1ea2d"/><stop offset="0.41" stop-color="#d8ec2d"/><stop offset="0.44" stop-color="#dcee2d"/><stop offset="0.47" stop-color="#dfef2d"/><stop offset="0.5" stop-color="#e1f02d"/><stop offset="0.53" stop-color="#dfef2d"/><stop offset="0.56" stop-color="#dcee2d"/><stop offset="0.59" stop-color="#d8ec2d"/><stop offset="0.62" stop-color="#d1ea2d"/><stop offset="0.66" stop-color="#c7e72d"/><stop offset="0.69" stop-color="#bbe42d"/><stop offset="0.72" stop-color="#ade02d"/><stop offset="0.75" stop-color="#9cdc2d"/><stop offset="0.78" stop-color="#89d72c"/><stop offset="0.81" stop-color="#76d22a"/><stop offset="0.84" stop-color="#63cd27"/><stop offset="0.88" stop-color="#56cd23"/><stop offset="0.91" stop-color="#49cc1f"/><stop offset="0.94" stop-color="#3ec91c"/><stop offset="0.97" stop-color="#35c71a"/><stop offset="1" stop-color="#2fc519"/></linearGradient><linearGradient id="e55"><stop offset="0" stop-color="#33c71a"/><stop offset="0.03" stop-color="#3ac91b"/><stop offset="0.06" stop-color="#44cb1d"/><stop offset="0.09" stop-color="#50cc21"/><stop offset="0.12" stop-color="#5dcd25"/><stop offset="0.16" stop-color="#6dd029"/><stop offset="0.19" stop-color="#81d52b"/><stop offset="0.22" stop-color="#94da2d"/><stop offset="0.25" stop-color="#a7de2d"/><stop offset="0.28" stop-color="#b7e32d"/><stop offset="0.31" stop-color="#c5e72d"/><stop offset="0.34" stop-color="#d1ea2d"/><stop offset="0.38" stop-color="#d9ed2d"/><stop offset="0.41" stop-color="#dfef2d"/><stop offset="0.44" stop-color="#e3f12d"/><stop offset="0.47" stop-color="#e6f22d"/><stop offset="0.5" stop-color="#e7f22d"/><stop offset="0.53" stop-color="#e6f22d"/><stop offset="0.56" stop-color="#e3f12d"/><stop offset="0.59" stop-color="#dfef2d"/><stop offset="0.62" stop-color="#d9ed2d"/><stop offset="0.66" stop-color="#d1ea2d"/><stop offset="0.69" stop-color="#c5e72d"/><stop offset="0.72" stop-color="#b7e32d"/><stop offset="0.75" stop-color="#a7de2d"/><stop offset="0.78" stop-color="#94da2d"/><stop offset="0.81" stop-color="#81d52b"/><stop offset="0.84" stop-color="#6dd029"/><stop offset="0.88" stop-color="#5dcd25"/><stop offset="0.91" stop-color="#50cc21"/><stop offset="0.94" stop-color="#44cb1d"/><stop offset="0.97" stop-color="#3ac91b"/><stop offset="1" stop-color="#33c71a"/></linearGradient><linearGradient id="e56"><stop offset="0" stop-color="#37c81b"/><stop offset="0.03" stop-color="#3fca1c"/><stop offset="0.06" stop-color="#4acc1f"/><stop offset="0.09" stop-color="#56cd23"/><stop offset="0.12" stop-color="#63cd27"/><stop offset="0.16" stop-color="#77d22a"/><stop offset="0.19" stop-color="#8ad72c"/><stop offset="0.22" stop-color="#9edc2d"/><stop offset="0.25" stop-color="#b1e12d"/><stop offset="0.28" stop-color="#c0e52d"/><stop offset="0.31" stop-color="#cee92d"/><stop offset="0.34" stop-color="#d8ed2d"/><stop offset="0.38" stop-color="#dfef2d"/><stop offset="0.41" stop-color="#e5f12d"/><stop offset="0.44" stop-color="#e9f32d"/><stop offset="0.47" stop-color="#ebf42d"/><stop offset="0.5" stop-color="#ecf42d"/><stop offset="0.53" stop-color="#ebf42d"/><stop offset="0.56" stop-color="#e9f32d"/><stop offset="0.59" stop-color="#e5f12d"/><stop offset="0.62" stop-color="#dfef2d"/><stop offset="0.66" stop-color="#d8ed2d"/><stop offset="0.69" stop-color="#cee92d"/><stop offset="0.72" stop-color="#c0e52d"/><stop offset="0.75" stop-color="#b1e12d"/><stop offset="0.78" stop-color="#9edc2d"/><stop offset="0.81" stop-color="#8ad72c"/><stop offset="0.84" stop-color="#77d22a"/><stop offset="0.88" stop-color="#63cd27"/><stop offset="0.91" stop-color="#56cd23"/><stop offset="0.94" stop-color="#4acc1f"/><stop offset="0.97" stop-color="#3fca1c"/><stop offset="1" stop-color="#37c81b"/></linearGradient><linearGradient id="e57"><stop offset="0" stop-color="#3bc91b"/><stop offset="0.03" stop-color="#44cb1d"/><stop offset="0.06" stop-color="#4fcc21"/><stop offset="0.09" stop-color="#5ccd25"/><stop offset="0.12" stop-color="#6cd029"/><stop offset="0.16" stop-color="#7fd42b"/><stop offset="0.19" stop-color="#93d92d"/><stop offset="0.22" stop-color="#a7de2d"/><stop offset="0.25" stop-color="#b9e32d"/><stop offset="0.28" stop-color="#c8e82d"/><stop offset="0.31" stop-color="#d5eb2d"/><stop offset="0.34" stop-color="#ddee2d"/><stop offset="0.38" stop-color="#e4f12d"/><stop offset="0.41" stop-color="#eaf32d"/><stop offset="0.44" stop-color="#edf42d"/><stop offset="0.47" stop-color="#eff52d"/><stop offset="0.5" stop-color="#eff52d"/><stop offset="0.53" stop-color="#eff52d"/><stop offset="0.56" stop-color="#edf42d"/><stop offset="0.59" stop-color="#eaf32d"/><stop offset="0.62" stop-color="#e4f12d"/><stop offset="0.66" stop-color="#ddee2d"/><stop offset="0.69" stop-color="#d5eb2d"/><stop offset="0.72" stop-color="#c8e82d"/><stop offset="0.75" stop-color="#b9e32d"/><stop offset="0.78" stop-color="#a7de2d"/><stop offset="0.81" stop-color="#93d92d"/><stop offset="0.84" stop-color="#7fd42b"/><stop offset="0.88" stop-color="#6cd029"/><stop offset="0.91" stop-color="#5ccd25"/><stop offset="0.94" stop-color="#4fcc21"/><stop offset="0.97" stop-color="#44cb1d"/><stop offset="1" stop-color="#3bc91b"/></linearGradient><linearGradient id="e58"><stop offset="0" stop-color="#3fca1c"/><stop offset="0.03" stop-color="#48cc1e"/><stop offset="0.06" stop-color="#54cc22"/><stop offset="0.09" stop-color="#61cd27"/><stop offset="0.12" stop-color="#73d129"/><stop offset="0.16" stop-color="#87d62c"/><stop offset="0.19" stop-color="#9cdc2d"/><stop offset="0.22" stop-color="#b0e12d"/><stop offset="0.25" stop-color="#c1e52d"/><stop offset="0.28" stop-color="#cfea2d"/><stop offset="0.31" stop-color="#daed2d"/><stop offset="0.34" stop-color="#e2f02d"/><stop offset="0.38" stop-color="#e8f32d"/><stop offset="0.41" stop-color="#edf42d"/><stop offset="0.44" stop-color="#f0f62d"/><stop offset="0.47" stop-color="#f1f72e"/><stop offset="0.5" stop-color="#f1f62d"/><stop offset="0.53" stop-color="#f1f72e"/><stop offset="0.56" stop-color="#f0f62d"/><stop offset="0.59" stop-color="#edf42d"/><stop offset="0.62" stop-color="#e8f32d"/><stop offset="0.66" stop-color="#e2f02d"/><stop offset="0.69" stop-color="#daed2d"/><stop offset="0.72" stop-color="#cfea2d"/><stop offset="0.75" stop-color="#c1e52d"/><stop offset="0.78" stop-color="#b0e12d"/><stop offset="0.81" stop-color="#9cdc2d"/><stop offset="0.84" stop-color="#87d62c"/><stop offset="0.88" stop-color="#73d129"/><stop offset="0.91" stop-color="#61cd27"/><stop offset="0.94" stop-color="#54cc22"/><stop offset="0.97" stop-color="#48cc1e"/><stop offset="1" stop-color="#3fca1c"/></linearGradient><linearGradient id="e59"><stop offset="0" stop-color="#43cb1d"/><stop offset="0.03" stop-color="#4ccc20"/><stop offset="0.06" stop-color="#58cd24"/><stop offset="0.09" stop-color="#66ce28"/><stop offset="0.12" stop-color="#7ad32a"/><stop offset="0.16" stop-color="#8fd82d"/><stop offset="0.19" stop-color="#a4de2d"/><stop offset="0.22" stop-color="#b8e32d"/><stop offset="0.25" stop-color="#c8e72d"/><stop offset="0.28" stop-color="#d6ec2d"/><stop offset="0.31" stop-color="#dfef2d"/><stop offset="0.34" stop-color="#e6f22d"/><stop offset="0.38" stop-color="#ecf42d"/><stop offset="0.41" stop-color="#f0f62d"/><stop offset="0.44" stop-color="#f2f72e"/><stop offset="0.47" stop-color="#f3f82e"/><stop offset="0.5" stop-color="#f3f82e"/><stop offset="0.53" stop-color="#f3f82e"/><stop offset="0.56" stop-color="#f2f72e"/><stop offset="0.59" stop-color="#f0f62d"/><stop offset="0.62" stop-color="#ecf42d"/><stop offset="0.66" stop-color="#e6f22d"/><stop offset="0.69" stop-color="#dfef2d"/><stop offset="0.72" stop-color="#d6ec2d"/><stop offset="0.75" stop-color="#c8e72d"/><stop offset="0.78" stop-color="#b8e32d"/><stop offset="0.81" stop-color="#a4de2d"/><stop offset="0.84" stop-color="#8fd82d"/><stop offset="0.88" stop-color="#7ad32a"/><stop offset="0.91" stop-color="#66ce28"/><stop offset="0.94" stop-color="#58cd24"/><stop offset="0.97" stop-color="#4ccc20"/><stop offset="1" stop-color="#43cb1d"/></linearGradient><linearGradient id="e60"><stop offset="0" stop-color="#48cc1e"/><stop offset="0.03" stop-color="#50cc21"/><stop offset="0.06" stop-color="#5ccd25"/><stop offset="0.09" stop-color="#6cd029"/><stop offset="0.12" stop-color="#81d52b"/><stop offset="0.16" stop-color="#96da2d"/><stop offset="0.19" stop-color="#ace02d"/><stop offset="0.22" stop-color="#bfe52d"/><stop offset="0.25" stop-color="#cfea2d"/><stop offset="0.28" stop-color="#dbed2d"/><stop offset="0.31" stop-color="#e3f12d"/><stop offset="0.34" stop-color="#eaf32d"/><stop offset="0.38" stop-color="#eff52d"/><stop offset="0.41" stop-color="#f2f72e"/><stop offset="0.44" stop-color="#f3f82e"/><stop offset="0.47" stop-color="#f5f92f"/><stop offset="0.5" stop-color="#f5f92f"/><stop offset="0.53" stop-color="#f5f92f"/><stop offset="0.56" stop-color="#f3f82e"/><stop offset="0.59" stop-color="#f2f72e"/><stop offset="0.62" stop-color="#eff52d"/><stop offset="0.66" stop-color="#eaf32d"/><stop offset="0.69" stop-color="#e3f12d"/><stop offset="0.72" stop-color="#dbed2d"/><stop offset="0.75" stop-color="#cfea2d"/><stop offset="0.78" stop-color="#bfe52d"/><stop offset="0.81" stop-color="#ace02d"/><stop offset="0.84" stop-color="#96da2d"/><stop offset="0.88" stop-color="#81d52b"/><stop offset="0.91" stop-color="#6cd029"/><stop offset="0.94" stop-color="#5ccd25"/><stop offset="0.97" stop-color="#50cc21"/><stop offset="1" stop-color="#48cc1e"/></linearGradient><linearGradient id="e61"><stop offset="0" stop-color="#4ccc20"/><stop offset="0.03" stop-color="#54cc22"/><stop offset="0.06" stop-color="#60cd26"/><stop offset="0.09" stop-color="#72d129"/><stop offset="0.12" stop-color="#87d62c"/><stop offset="0.16" stop-color="#9ddc2d"/><stop offset="0.19" stop-color="#b3e12d"/><stop offset="0.22" stop-color="#c5e72d"/><stop offset="0.25" stop-color="#d5eb2d"/><stop offset="0.28" stop-color="#dfef2d"/><stop offset="0.31" stop-color="#e7f22d"/><stop offset="0.34" stop-color="#edf42d"/><stop offset="0.38" stop-color="#f1f62d"/><stop offset="0.41" stop-color="#f3f82e"/><stop offset="0.44" stop-color="#f5f92f"/><stop offset="0.47" stop-color="#f6fa2f"/><stop offset="0.5" stop-color="#f7fa2f"/><stop offset="0.53" stop-color="#f6fa2f"/><stop offset="0.56" stop-color="#f5f92f"/><stop offset="0.59" stop-color="#f3f82e"/><stop offset="0.62" stop-color="#f1f62d"/><stop offset="0.66" stop-color="#edf42d"/><stop offset="0.69" stop-color="#e7f22d"/><stop offset="0.72" stop-color="#dfef2d"/><stop offset="0.75" stop-color="#d5eb2d"/><stop offset="0.78" stop-color="#c5e72d"/><stop offset="0.81" stop-color="#b3e12d"/><stop offset="0.84" stop-color="#9ddc2d"/><stop offset="0.88" stop-color="#87d62c"/><stop offset="0.91" stop-color="#72d129"/><stop offset="0.94" stop-color="#60cd26"/><stop offset="0.97" stop-color="#54cc22"/><stop offset="1" stop-color="#4ccc20"/></linearGradient><linearGradient id="e62"><stop offset="0" stop-color="#51cc21"/><stop offset="0.03" stop-color="#58cd24"/><stop offset="0.06" stop-color="#64ce28"/><stop offset="0.09" stop-color="#77d22a"/><stop offset="0.12" stop-color="#8cd82d"/><stop offset="0.16" stop-color="#a3dd2d"/><stop offset="0.19" stop-color="#b9e32d"/><stop offset="0.22" stop-color="#cbe92d"/><stop offset="0.25" stop-color="#daed2d"/><stop offset="0.28" stop-color="#e3f12d"/><stop offset="0.31" stop-color="#eaf32d"/><stop offset="0.34" stop-color="#eff62d"/><stop offset="0.38" stop-color="#f2f72e"/><stop offset="0.41" stop-color="#f4f92f"/><stop offset="0.44" stop-color="#f6fa2f"/><stop offset="0.47" stop-color="#f8fa2f"/><stop offset="0.5" stop-color="#f9fb30"/><stop offset="0.53" stop-color="#f8fa2f"/><stop offset="0.56" stop-color="#f6fa2f"/><stop offset="0.59" stop-color="#f4f92f"/><stop offset="0.62" stop-color="#f2f72e"/><stop offset="0.66" stop-color="#eff62d"/><stop offset="0.69" stop-color="#eaf32d"/><stop offset="0.72" stop-color="#e3f12d"/><stop offset="0.75" stop-color="#daed2d"/><stop offset="0.78" stop-color="#cbe92d"/><stop offset="0.81" stop-color="#b9e32d"/><stop offset="0.84" stop-color="#a3dd2d"/><stop offset="0.88" stop-color="#8cd82d"/><stop offset="0.91" stop-color="#77d22a"/><stop offset="0.94" stop-color="#64ce28"/><stop offset="0.97" stop-color="#58cd24"/><stop offset="1" stop-color="#51cc21"/></linearGradient><linearGradient id="e63"><stop offset="0" stop-color="#56cd23"/><stop offset="0.03" stop-color="#5ccd25"/><stop offset="0.06" stop-color="#69cf28"/><stop offset="0.09" stop-color="#7cd42b"/><stop offset="0.12" stop-color="#92d92d"/><stop offset="0.16" stop-color="#a9df2d"/><stop offset="0.19" stop-color="#bee52d"/><stop offset="0.22" stop-color="#d1ea2d"/><stop offset="0.25" stop-color="#deef2d"/><stop offset="0.28" stop-color="#e7f22d"/><stop offset="0.31" stop-color="#eef52d"/><stop offset="0.34" stop-color="#f1f72e"/><stop offset="0.38" stop-color="#f4f82e"/><stop offset="0.41" stop-color="#f6f92f"/><stop offset="0.44" stop-color="#f7fa2f"/><stop offset="0.47" stop-color="#f9fb30"/><stop offset="0.5" stop-color="#fbfc30"/><stop offset="0.53" stop-color="#f9fb30"/><stop offset="0.56" stop-color="#f7fa2f"/><stop offset="0.59" stop-color="#f6f92f"/><stop offset="0.62" stop-color="#f4f82e"/><stop offset="0.66" stop-color="#f1f72e"/><stop offset="0.69" stop-color="#eef52d"/><stop offset="0.72" stop-color="#e7f22d"/><stop offset="0.75" stop-color="#deef2d"/><stop offset="0.78" stop-color="#d1ea2d"/><stop offset="0.81" stop-color="#bee52d"/><stop offset="0.84" stop-color="#a9df2d"/><stop offset="0.88" stop-color="#92d92d"/><stop offset="0.91" stop-color="#7cd42b"/><stop offset="0.94" stop-color="#69cf28"/><stop offset="0.97" stop-color="#5ccd25"/><stop offset="1" stop-color="#56cd23"/></linearGradient><linearGradient id="e64"><stop offset="0" stop-color="#5bcd25"/><stop offset="0.03" stop-color="#60cd26"/><stop offset="0.06" stop-color="#6ed029"/><stop offset="0.09" stop-color="#81d52b"/><stop offset="0.12" stop-color="#97da2d"/><stop offset="0.16" stop-color="#aee02d"/><stop offset="0.19" stop-color="#c3e62d"/><stop offset="0.22" stop-color="#d6ec2d"/><stop offset="0.25" stop-color="#e1f02d"/><stop offset="0.28" stop-color="#eaf32d"/><stop offset="0.31" stop-color="#f0f62d"/><stop offset="0.34" stop-color="#f3f82e"/><stop offset="0.38" stop-color="#f5f92f"/><stop offset="0.41" stop-color="#f7fa2f"/><stop offset="0.44" stop-color="#f8fb30"/><stop offset="0.47" stop-color="#fafc30"/><stop offset="0.5" stop-color="#fcfd31"/><stop offset="0.53" stop-color="#fafc30"/><stop offset="0.56" stop-color="#f8fb30"/><stop offset="0.59" stop-color="#f7fa2f"/><stop offset="0.62" stop-color="#f5f92f"/><stop offset="0.66" stop-color="#f3f82e"/><stop offset="0.69" stop-color="#f0f62d"/><stop offset="0.72" stop-color="#eaf32d"/><stop offset="0.75" stop-color="#e1f02d"/><stop offset="0.78" stop-color="#d6ec2d"/><stop offset="0.81" stop-color="#c3e62d"/><stop offset="0.84" stop-color="#aee02d"/><stop offset="0.88" stop-color="#97da2d"/><stop offset="0.91" stop-color="#81d52b"/><stop offset="0.94" stop-color="#6ed029"/><stop offset="0.97" stop-color="#60cd26"/><stop offset="1" stop-color="#5bcd25"/></linearGradient><linearGradient id="e65"><stop offset="0" stop-color="#5fcd26"/><stop offset="0.03" stop-color="#65ce28"/><stop offset="0.06" stop-color="#73d129"/><stop offset="0.09" stop-color="#85d62c"/><stop offset="0.12" stop-color="#9bdb2d"/><stop offset="0.16" stop-color="#b3e12d"/><stop offset="0.19" stop-color="#c8e72d"/><stop offset="0.22" stop-color="#d9ed2d"/><stop offset="0.25" stop-color="#e4f12d"/><stop offset="0.28" stop-color="#edf42d"/><stop offset="0.31" stop-color="#f2f72e"/><stop offset="0.34" stop-color="#f5f92f"/><stop offset="0.38" stop-color="#f7fa2f"/><stop offset="0.41" stop-color="#f8fb30"/><stop offset="0.44" stop-color="#f9fb30"/><stop offset="0.47" stop-color="#fbfc30"/><stop offset="0.5" stop-color="#fdfe31"/><stop offset="0.53" stop-color="#fbfc30"/><stop offset="0.56" stop-color="#f9fb30"/><stop offset="0.59" stop-color="#f8fb30"/><stop offset="0.62" stop-color="#f7fa2f"/><stop offset="0.66" stop-color="#f5f92f"/><stop offset="0.69" stop-color="#f2f72e"/><stop offset="0.72" stop-color="#edf42d"/><stop offset="0.75" stop-color="#e4f12d"/><stop offset="0.78" stop-color="#d9ed2d"/><stop offset="0.81" stop-color="#c8e72d"/><stop offset="0.84" stop-color="#b3e12d"/><stop offset="0.88" stop-color="#9bdb2d"/><stop offset="0.91" stop-color="#85d62c"/><stop offset="0.94" stop-color="#73d129"/><stop offset="0.97" stop-color="#65ce28"/><stop offset="1" stop-color="#5fcd26"/></linearGradient><linearGradient id="e66"><stop offset="0" stop-color="#64ce28"/><stop offset="0.03" stop-color="#6acf28"/><stop offset="0.06" stop-color="#77d22a"/><stop offset="0.09" stop-color="#8ad72c"/><stop offset="0.12" stop-color="#a0dd2d"/><stop offset="0.16" stop-color="#b7e32d"/><stop offset="0.19" stop-color="#cbe92d"/><stop offset="0.22" stop-color="#dcee2d"/><stop offset="0.25" stop-color="#e7f22d"/><stop offset="0.28" stop-color="#eff52d"/><stop offset="0.31" stop-color="#f3f82e"/><stop offset="0.34" stop-color="#f6fa2f"/><stop offset="0.38" stop-color="#f8fb30"/><stop offset="0.41" stop-color="#f9fb30"/><stop offset="0.44" stop-color="#fafc30"/><stop offset="0.47" stop-color="#fcfd31"/><stop offset="0.5" stop-color="#fefe31"/><stop offset="0.53" stop-color="#fcfd31"/><stop offset="0.56" stop-color="#fafc30"/><stop offset="0.59" stop-color="#f9fb30"/><stop offset="0.62" stop-color="#f8fb30"/><stop offset="0.66" stop-color="#f6fa2f"/><stop offset="0.69" stop-color="#f3f82e"/><stop offset="0.72" stop-color="#eff52d"/><stop offset="0.75" stop-color="#e7f22d"/><stop offset="0.78" stop-color="#dcee2d"/><stop offset="0.81" stop-color="#cbe92d"/><stop offset="0.84" stop-color="#b7e32d"/><stop offset="0.88" stop-color="#a0dd2d"/><stop offset="0.91" stop-color="#8ad72c"/><stop offset="0.94" stop-color="#77d22a"/><stop offset="0.97" stop-color="#6acf28"/><stop offset="1" stop-color="#64ce28"/></linearGradient><linearGradient id="e67"><stop offset="0" stop-color="#6acf28"/><stop offset="0.03" stop-color="#70d129"/><stop offset="0.06" stop-color="#7cd42b"/><stop offset="0.09" stop-color="#8ed82d"/><stop offset="0.12" stop-color="#a4de2d"/><stop offset="0.16" stop-color="#bbe42d"/><stop offset="0.19" stop-color="#cfea2d"/><stop offset="0.22" stop-color="#deef2d"/><stop offset="0.25" stop-color="#eaf32d"/><stop offset="0.28" stop-color="#f1f62d"/><stop offset="0.31" stop-color="#f5f92f"/><stop offset="0.34" stop-color="#f8fa2f"/><stop offset="0.38" stop-color="#f9fb30"/><stop offset="0.41" stop-color="#fafc30"/><stop offset="0.44" stop-color="#fbfd31"/><stop offset="0.47" stop-color="#fcfd31"/><stop offset="0.5" stop-color="#fefe31"/><stop offset="0.53" stop-color="#fcfd31"/><stop offset="0.56" stop-color="#fbfd31"/><stop offset="0.59" stop-color="#fafc30"/><stop offset="0.62" stop-color="#f9fb30"/><stop offset="0.66" stop-color="#f8fa2f"/><stop offset="0.69" stop-color="#f5f92f"/><stop offset="0.72" stop-color="#f1f62d"/><stop offset="0.75" stop-color="#eaf32d"/><stop offset="0.78" stop-color="#deef2d"/><stop offset="0.81" stop-color="#cfea2d"/><stop offset="0.84" stop-color="#bbe42d"/><stop offset="0.88" stop-color="#a4de2d"/><stop offset="0.91" stop-color="#8ed82d"/><stop offset="0.94" stop-color="#7cd42b"/><stop offset="0.97" stop-color="#70d129"/><stop offset="1" stop-color="#6acf28"/></linearGradient><linearGradient id="e68"><stop offset="0" stop-color="#70d129"/><stop offset="0.03" stop-color="#75d22a"/><stop offset="0.06" stop-color="#81d52b"/><stop offset="0.09" stop-color="#93d92d"/><stop offset="0.12" stop-color="#a9df2d"/><stop offset="0.16" stop-color="#bee52d"/><stop offset="0.19" stop-color="#d3eb2d"/><stop offset="0.22" stop-color="#e1f02d"/><stop offset="0.25" stop-color="#ecf42d"/><stop offset="0.28" stop-color="#f2f72e"/><stop offset="0.31" stop-color="#f6fa2f"/><stop offset="0.34" stop-color="#f9fb30"/><stop offset="0.38" stop-color="#fafc30"/><stop offset="0.41" stop-color="#fbfd31"/><stop offset="0.44" stop-color="#fcfd31"/><stop offset="0.47" stop-color="#fdfe31"/><stop offset="0.5" stop-color="#fefe31"/><stop offset="0.53" stop-color="#fdfe31"/><stop offset="0.56" stop-color="#fcfd31"/><stop offset="0.59" stop-color="#fbfd31"/><stop offset="0.62" stop-color="#fafc30"/><stop offset="0.66" stop-color="#f9fb30"/><stop offset="0.69" stop-color="#f6fa2f"/><stop offset="0.72" stop-color="#f2f72e"/><stop offset="0.75" stop-color="#ecf42d"/><stop offset="0.78" stop-color="#e1f02d"/><stop offset="0.81" stop-color="#d3eb2d"/><stop offset="0.84" stop-color="#bee52d"/><stop offset="0.88" stop-color="#a9df2d"/><stop offset="0.91" stop-color="#93d92d"/><stop offset="0.94" stop-color="#81d52b"/><stop offset="0.97" stop-color="#75d22a"/><stop offset="1" stop-color="#70d129"/></linearGradient><linearGradient id="e69"><stop offset="0" stop-color="#75d22a"/><stop offset="0.03" stop-color="#7ad32a"/><stop offset="0.06" stop-color="#86d62c"/><stop offset="0.09" stop-color="#97da2d"/><stop offset="0.12" stop-color="#ade02d"/><stop offset="0.16" stop-color="#c2e62d"/><stop offset="0.19" stop-color="#d6ec2d"/><stop offset="0.22" stop-color="#e3f12d"/><stop offset="0.25" stop-color="#eef52d"/><stop offset="0.28" stop-color="#f4f82e"/><stop offset="0.31" stop-color="#f8fa2f"/><stop offset="0.34" stop-color="#fafc30"/><stop offset="0.38" stop-color="#fbfd31"/><stop offset="0.41" stop-color="#fcfd31"/><stop offset="0.44" stop-color="#fdfd31"/><stop offset="0.47" stop-color="#fdfe31"/><stop offset="0.5" stop-color="#ffff32"/><stop offset="0.53" stop-color="#fdfe31"/><stop offset="0.56" stop-color="#fdfd31"/><stop offset="0.59" stop-color="#fcfd31"/><stop offset="0.62" stop-color="#fbfd31"/><stop offset="0.66" stop-color="#fafc30"/><stop offset="0.69" stop-color="#f8fa2f"/><stop offset="0.72" stop-color="#f4f82e"/><stop offset="0.75" stop-color="#eef52d"/><stop offset="0.78" stop-color="#e3f12d"/><stop offset="0.81" stop-color="#d6ec2d"/><stop offset="0.84" stop-color="#c2e62d"/><stop offset="0.88" stop-color="#ade02d"/><stop offset="0.91" stop-color="#97da2d"/><stop offset="0.94" stop-color="#86d62c"/><stop offset="0.97" stop-color="#7ad32a"/><stop offset="1" stop-color="#75d22a"/></linearGradient><linearGradient id="e70"><stop offset="0" stop-color="#7ad32a"/><stop offset="0.03" stop-color="#7ed42b"/><stop offset="0.06" stop-color="#8ad72c"/><stop offset="0.09" stop-color="#9cdc2d"/><stop offset="0.12" stop-color="#b1e12d"/><stop offset="0.16" stop-color="#c6e72d"/><stop offset="0.19" stop-color="#d8ed2d"/><stop offset="0.22" stop-color="#e6f22d"/><stop offset="0.25" stop-color="#f0f62d"/><stop offset="0.28" stop-color="#f5f92f"/><stop offset="0.31" stop-color="#f9fb30"/><stop offset="0.34" stop-color="#fbfd31"/><stop offset="0.38" stop-color="#fcfd31"/><stop offset="0.41" stop-color="#fdfe31"/><stop offset="0.44" stop-color="#fdfe31"/><stop offset="0.47" stop-color="#fefe31"/><stop offset="0.5" stop-color="#ffff32"/><stop offset="0.53" stop-color="#fefe31"/><stop offset="0.56" stop-color="#fdfe31"/><stop offset="0.59" stop-color="#fdfe31"/><stop offset="0.62" stop-color="#fcfd31"/><stop offset="0.66" stop-color="#fbfd31"/><stop offset="0.69" stop-color="#f9fb30"/><stop offset="0.72" stop-color="#f5f92f"/><stop offset="0.75" stop-color="#f0f62d"/><stop offset="0.78" stop-color="#e6f22d"/><stop offset="0.81" stop-color="#d8ed2d"/><stop offset="0.84" stop-color="#c6e72d"/><stop offset="0.88" stop-color="#b1e12d"/><stop offset="0.91" stop-color="#9cdc2d"/><stop offset="0.94" stop-color="#8ad72c"/><stop offset="0.97" stop-color="#7ed42b"/><stop offset="1" stop-color="#7ad32a"/></linearGradient><linearGradient id="e71"><stop offset="0" stop-color="#7dd42b"/><stop offset="0.03" stop-color="#82d52b"/><stop offset="0.06" stop-color="#8ed82d"/><stop offset="0.09" stop-color="#a0dd2d"/><stop offset="0.12" stop-color="#b5e22d"/><stop offset="0.16" stop-color="#c9e82d"/><stop offset="0.19" stop-color="#dbee2d"/><stop offset="0.22" stop-color="#e8f32d"/><stop offset="0.25" stop-color="#f1f72e"/><stop offset="0.28" stop-color="#f7fa2f"/><stop offset="0.31" stop-color="#fafc30"/><stop offset="0.34" stop-color="#fcfd31"/><stop offset="0.38" stop-color="#fdfe31"/><stop offset="0.41" stop-color="#fdfe31"/><stop offset="0.44" stop-color="#fdfe31"/><stop offset="0.47" stop-color="#fefe31"/><stop offset="0.5" stop-color="#ffff32"/><stop offset="0.53" stop-color="#fefe31"/><stop offset="0.56" stop-color="#fdfe31"/><stop offset="0.59" stop-color="#fdfe31"/><stop offset="0.62" stop-color="#fdfe31"/><stop offset="0.66" stop-color="#fcfd31"/><stop offset="0.69" stop-color="#fafc30"/><stop offset="0.72" stop-color="#f7fa2f"/><stop offset="0.75" stop-color="#f1f72e"/><stop offset="0.78" stop-color="#e8f32d"/><stop offset="0.81" stop-color="#dbee2d"/><stop offset="0.84" stop-color="#c9e82d"/><stop offset="0.88" stop-color="#b5e22d"/><stop offset="0.91" stop-color="#a0dd2d"/><stop offset="0.94" stop-color="#8ed82d"/><stop offset="0.97" stop-color="#82d52b"/><stop offset="1" stop-color="#7dd42b"/></linearGradient><linearGradient id="e72"><stop offset="0" stop-color="#80d52b"/><stop offset="0.03" stop-color="#85d62c"/><stop offset="0.06" stop-color="#92d92d"/><stop offset="0.09" stop-color="#a4de2d"/><stop offset="0.12" stop-color="#b9e32d"/><stop offset="0.16" stop-color="#cde92d"/><stop offset="0.19" stop-color="#deef2d"/><stop offset="0.22" stop-color="#ebf42d"/><stop offset="0.25" stop-color="#f3f82e"/><stop offset="0.28" stop-color="#f8fb30"/><stop offset="0.31" stop-color="#fcfd31"/><stop offset="0.34" stop-color="#fdfe31"/><stop offset="0.38" stop-color="#fefe31"/><stop offset="0.41" stop-color="#fefe31"/><stop offset="0.44" stop-color="#fdfe31"/><stop offset="0.47" stop-color="#fefe31"/><stop offset="0.5" stop-color="#fefe31"/><stop offset="0.53" stop-color="#fefe31"/><stop offset="0.56" stop-color="#fdfe31"/><stop offset="0.59" stop-color="#fefe31"/><stop offset="0.62" stop-color="#fefe31"/><stop offset="0.66" stop-color="#fdfe31"/><stop offset="0.69" stop-color="#fcfd31"/><stop offset="0.72" stop-color="#f8fb30"/><stop offset="0.75" stop-color="#f3f82e"/><stop offset="0.78" stop-color="#ebf42d"/><stop offset="0.81" stop-color="#deef2d"/><stop offset="0.84" stop-color="#cde92d"/><stop offset="0.88" stop-color="#b9e32d"/><stop offset="0.91" stop-color="#a4de2d"/><stop offset="0.94" stop-color="#92d92d"/><stop offset="0.97" stop-color="#85d62c"/><stop offset="1" stop-color="#80d52b"/></linearGradient><linearGradient id="e73"><stop offset="0" stop-color="#83d52b"/><stop offset="0.03" stop-color="#88d72c"/><stop offset="0.06" stop-color="#95da2d"/><stop offset="0.09" stop-color="#a8df2d"/><stop offset="0.12" stop-color="#bde42d"/><stop offset="0.16" stop-color="#d2ea2d"/><stop offset="0.19" stop-color="#e1f02d"/><stop offset="0.22" stop-color="#eef52d"/><stop offset="0.25" stop-color="#f5f92f"/><stop offset="0.28" stop-color="#fafc30"/><stop offset="0.31" stop-color="#fdfe31"/><stop offset="0.34" stop-color="#fefe31"/><stop offset="0.38" stop-color="#fefe31"/><stop offset="0.41" stop-color="#fefe31"/><stop offset="0.44" stop-color="#fdfe31"/><stop offset="0.47" stop-color="#fdfe31"/><stop offset="0.5" stop-color="#fefe31"/><stop offset="0.53" stop-color="#fdfe31"/><stop offset="0.56" stop-color="#fdfe31"/><stop offset="0.59" stop-color="#fefe31"/><stop offset="0.62" stop-color="#fefe31"/><stop offset="0.66" stop-color="#fefe31"/><stop offset="0.69" stop-color="#fdfe31"/><stop offset="0.72" stop-color="#fafc30"/><stop offset="0.75" stop-color="#f5f92f"/><stop offset="0.78" stop-color="#eef52d"/><stop offset="0.81" stop-color="#e1f02d"/><stop offset="0.84" stop-color="#d2ea2d"/><stop offset="0.88" stop-color="#bde42d"/><stop offset="0.91" stop-color="#a8df2d"/><stop offset="0.94" stop-color="#95da2d"/><stop offset="0.97" stop-color="#88d72c"/><stop offset="1" stop-color="#83d52b"/></linearGradient><linearGradient id="e74"><stop offset="0" stop-color="#84d62c"/><stop offset="0.03" stop-color="#8ad72c"/><stop offset="0.06" stop-color="#98db2d"/><stop offset="0.09" stop-color="#ace02d"/><stop offset="0.12" stop-color="#c1e62d"/><stop offset="0.16" stop-color="#d6ec2d"/><stop offset="0.19" stop-color="#e5f12d"/><stop offset="0.22" stop-color="#f1f62d"/><stop offset="0.25" stop-color="#f8fb30"/><stop offset="0.28" stop-color="#fcfd31"/><stop offset="0.31" stop-color="#fefe31"/><stop offset="0.34" stop-color="#ffff32"/><stop offset="0.38" stop-color="#fefe31"/><stop offset="0.41" stop-color="#fefe31"/><stop offset="0.44" stop-color="#fdfe31"/><stop offset="0.47" stop-color="#fdfe31"/><stop offset="0.5" stop-color="#ffff32"/><stop offset="0.53" stop-color="#fdfe31"/><stop offset="0.56" stop-color="#fdfe31"/><stop offset="0.59" stop-color="#fefe31"/><stop offset="0.62" stop-color="#fefe31"/><stop offset="0.66" stop-color="#ffff32"/><stop offset="0.69" stop-color="#fefe31"/><stop offset="0.72" stop-color="#fcfd31"/><stop offset="0.75" stop-color="#f8fb30"/><stop offset="0.78" stop-color="#f1f62d"/><stop offset="0.81" stop-color="#e5f12d"/><stop offset="0.84" stop-color="#d6ec2d"/><stop offset="0.88" stop-color="#c1e62d"/><stop offset="0.91" stop-color="#ace02d"/><stop offset="0.94" stop-color="#98db2d"/><stop offset="0.97" stop-color="#8ad72c"/><stop offset="1" stop-color="#84d62c"/></linearGradient><linearGradient id="ecb" x1="0" y1="0" x2="0" y2="1"><stop offset="0" stop-color="#ffff32"/><stop offset="0.03" stop-color="#f8fb30"/><stop offset="0.05" stop-color="#f1f72e"/><stop offset="0.07" stop-color="#e9f32d"/><stop offset="0.1" stop-color="#dfef2d"/><stop offset="0.12" stop-color="#d6ec2d"/><stop offset="0.15" stop-color="#c8e82d"/><stop offset="0.17" stop-color="#bae42d"/><stop offset="0.2" stop-color="#ace02d"/><stop offset="0.23" stop-color="#9cdc2d"/><stop offset="0.25" stop-color="#8cd82d"/><stop offset="0.28" stop-color="#7bd42b"/><stop offset="0.3" stop-color="#6bd029"/><stop offset="0.33" stop-color="#5ecd26"/><stop offset="0.35" stop-color="#51cc21"/><stop offset="0.38" stop-color="#46cc1e"/><stop offset="0.4" stop-color="#3ac81b"/><stop offset="0.42" stop-color="#2dc519"/><stop offset="0.45" stop-color="#24c218"/><stop offset="0.47" stop-color="#1ebe19"/><stop offset="0.5" stop-color="#18b91a"/><stop offset="0.53" stop-color="#18b422"/><stop offset="0.55" stop-color="#19ae2a"/><stop offset="0.57" stop-color="#1aa832"/><stop offset="0.6" stop-color="#1ba13b"/><stop offset="0.62" stop-color="#1c9a44"/><stop offset="0.65" stop-color="#1e934f"/><stop offset="0.68" stop-color="#208d5a"/><stop offset="0.7" stop-color="#238665"/><stop offset="0.72" stop-color="#26806f"/><stop offset="0.75" stop-color="#2a7a79"/><stop offset="0.78" stop-color="#2b7486"/><stop offset="0.8" stop-color="#2d6e92"/><stop offset="0.82" stop-color="#2e699e"/><stop offset="0.85" stop-color="#3063ab"/><stop offset="0.88" stop-color="#315eb7"/><stop offset="0.9" stop-color="#3457c4"/><stop offset="0.93" stop-color="#3651d0"/><stop offset="0.95" stop-color="#374adb"/><stop offset="0.97" stop-color="#3844e5"/><stop offset="1" stop-color="#3a3ef0"/></linearGradient></defs>
<g>
<path fill="#fde725" d="M46.7 19h5.27v1.21h-5.27zM46.7 19.61h5.27v4.31h-5.27zM51.37 19h5.27v1.21h-5.27z"/>
<path fill="#fbe723" d="M46.7 23.32h5.27v4.32h-5.27zM51.37 19.61h5.27v4.31h-5.27zM51.37 23.32h5.27v4.32h-5.27zM56.04 19h5.27v1.21h-5.27zM56.04 19.61h5.27v4.31h-5.27zM56.04 23.32h5.27v4.32h-5.27zM60.71 19h5.27v1.21h-5.27zM60.71 19.61h5.27v4.31h-5.27zM60.71 23.32h5.27v4.32h-5.27zM65.38 19h5.27v1.21h-5.27zM65.38 19.61h5.27v4.31h-5.27zM70.05 19h5.27v1.21h-5.27z"/>
<path fill="#f8e621" d="M46.7 27.04h5.27v4.32h-5.27zM46.7 30.75h5.27v4.32h-5.27zM51.37 27.04h5.27v4.32h-5.27zM56.04 27.04h5.27v4.32h-5.27zM60.71 27.04h5.27v4.32h-5.27zM65.38 23.32h5.27v4.32h-5.27zM65.38 27.04h5.27v4.32h-5.27zM70.05 19.61h5.27v4.31h-5.27zM70.05 23.32h5.27v4.32h-5.27z"/>
<path fill="#f6e620" d="M46.7 34.47h5.27v4.31h-5.27zM51.37 30.75h5.27v4.32h-5.27zM51.37 34.47h5.27v4.31h-5.27zM56.04 30.75h5.27v4.32h-5.27zM56.04 34.47h5.27v4.31h-5.27zM60.71 30.75h5.27v4.32h-5.27zM65.38 30.75h5.27v4.32h-5.27zM70.05 27.04h5.27v4.32h-5.27zM70.05 30.75h5.27v4.32h-5.27zM74.73 19h5.27v1.21h-5.27zM74.73 19.61h5.27v4.31h-5.27zM74.73 23.32h5.27v4.32h-5.27z"/>
<path fill="#f4e61e" d="M46.7 38.18h5.27v4.32h-5.27zM51.37 38.18h5.27v4.32h-5.27zM56.04 38.18h5.27v4.32h-5.27zM60.71 34.47h5.27v4.31h-5.27zM60.71 38.18h5.27v4.32h-5.27zM65.38 34.47h5.27v4.31h-5.27zM65.38 38.18h5.27v4.32h-5.27zM70.05 34.47h5.27v4.31h-5.27zM70.05 38.18h5.27v4.32h-5.27zM74.73 27.04h5.27v4.32h-5.27zM74.73 30.75h5.27v4.32h-5.27zM74.73 34.47h5.27v4.31h-5.27zM79.4 19h5.27v1.21h-5.27zM79.4 19.61h5.27v4.31h-5.27zM79.4 23.32h5.27v4.32h-5.27z"/>
<path fill="#efe51c" d="M46.7 41.9h5.27v4.31h-5.27zM60.71 45.61h5.27v4.32h-5.27zM65.38 45.61h5.27v4.32h-5.27zM70.05 45.61h5.27v4.32h-5.27zM74.73 41.9h5.27v4.31h-5.27zM79.4 38.18h5.27v4.32h-5.27zM79.4 41.9h5.27v4.31h-5.27zM84.07 27.04h5.27v4.32h-5.27zM84.07 30.75h5.27v4.32h-5.27zM84.07 34.47h5.27v4.31h-5.27zM84.07 38.18h5.27v4.32h-5.27zM88.74 19h5.27v1.21h-5.27zM88.74 19.61h5.27v4.31h-5.27zM88.74 23.32h5.27v4.32h-5.27z"/>
<path fill="#ece51b" d="M46.7 45.61h5.27v4.32h-5.27zM51.37 45.61h5.27v4.32h-5.27zM56.04 45.61h5.27v4.32h-5.27zM70.05 49.33h5.27v4.31h-5.27zM74.73 45.61h5.27v4.32h-5.27zM79.4 45.61h5.27v4.32h-5.27zM84.07 41.9h5.27v4.31h-5.27zM84.07 45.61h5.27v4.32h-5.27zM88.74 27.04h5.27v4.32h-5.27zM88.74 30.75h5.27v4.32h-5.27zM88.74 34.47h5.27v4.31h-5.27zM88.74 38.18h5.27v4.32h-5.27zM88.74 41.9h5.27v4.31h-5.27z"/>
<path fill="#eae51a" d="M46.7 49.33h5.27v4.31h-5.27zM51.37 49.33h5.27v4.31h-5.27zM56.04 49.33h5.27v4.31h-5.27zM60.71 49.33h5.27v4.31h-5.27zM65.38 49.33h5.27v4.31h-5.27zM74.73 49.33h5.27v4.31h-5.27zM79.4 49.33h5.27v4.31h-5.27zM84.07 49.33h5.27v4.31h-5.27zM88.74 45.61h5.27v4.32h-5.27zM88.74 49.33h5.27v4.31h-5.27zM93.41 19h5.27v1.21h-5.27zM93.41 19.61h5.27v4.31h-5.27zM93.41 23.32h5.27v4.32h-5.27zM93.41 27.04h5.27v4.32h-5.27zM93.41 30.75h5.27v4.32h-5.27zM93.41 34.47h5.27v4.31h-5.27zM93.41 38.18h5.27v4.32h-5.27zM93.41 41.9h5.27v4.31h-5.27zM93.41 45.61h5.27v4.32h-5.27zM93.41 49.33h5.27v4.31h-5.27z"/>
<path fill="#e5e419" d="M46.7 53.04h5.27v4.32h-5.27zM51.37 53.04h5.27v4.32h-5.27zM65.38 56.76h5.27v4.31h-5.27zM70.05 56.76h5.27v4.31h-5.27zM74.73 56.76h5.27v4.31h-5.27zM79.4 56.76h5.27v4.31h-5.27zM84.07 56.76h5.27v4.31h-5.27zM88.74 56.76h5.27v4.31h-5.27zM93.41 56.76h5.27v4.31h-5.27z"/>
<path fill="#dfe318" d="M46.7 56.76h5.27v4.31h-5.27zM51.37 56.76h5.27v4.31h-5.27zM65.38 60.47h5.27v4.32h-5.27zM70.05 60.47h5.27v4.32h-5.27zM74.73 60.47h5.27v4.32h-5.27zM79.4 60.47h5.27v4.32h-5.27zM98.08 19.61h5.27v4.31h-5.27zM98.08 23.32h5.27v4.32h-5.27zM98.08 27.04h5.27v4.32h-5.27zM98.08 60.47h5.27v4.32h-5.27z"/>
<path fill="#dae319" d="M46.7 60.47h5.27v4.32h-5.27zM51.37 60.47h5.27v4.32h-5.27zM74.73 64.19h5.27v4.32h-5.27zM79.4 64.19h5.27v4.32h-5.27zM84.07 64.19h5.27v4.32h-5.27zM98.08 64.19h5.27v4.32h-5.27zM102.75 34.47h5.27v4.31h-5.27zM102.75 38.18h5.27v4.32h-5.27zM102.75 64.19h5.27v4.32h-5.27zM107.42 60.47h5.27v4.32h-5.27z"/>
<path fill="#cde11d" d="M46.7 64.19h5.27v4.32h-5.27zM74.73 67.9h5.27v4.31h-5.27zM112.09 41.9h5.27v4.31h-5.27zM116.76 53.04h5.27v4.32h-5.27z"/>
<path fill="#bddf26" d="M46.7 67.9h5.27v4.31h-5.27zM116.76 75.33h5.27v4.32h-5.27zM121.44 56.76h5.27v4.31h-5.27z"/>
<path fill="#a8db34" d="M46.7 71.62h5.27v4.32h-5.27zM79.4 75.33h5.27v4.32h-5.27zM107.42 79.05h5.27v4.32h-5.27zM116.76 19h5.27v1.21h-5.27zM121.44 30.75h5.27v4.32h-5.27zM130.78 67.9h5.27v4.31h-5.27zM140.12 75.33h5.27v4.32h-5.27zM140.12 79.05h5.27v4.32h-5.27z"/>
<path fill="#90d743" d="M46.7 75.33h5.27v4.32h-5.27zM79.4 79.05h5.27v4.32h-5.27zM107.42 82.76h5.27v4.31h-5.27zM126.11 27.04h5.27v4.32h-5.27zM135.45 64.19h5.27v4.32h-5.27zM149.46 75.33h5.27v4.32h-5.27zM149.46 82.76h5.27v4.31h-5.27z"/>
<path fill="#7fd34e" d="M46.7 79.05h5.27v4.32h-5.27zM51.37 97.62h5.27v4.31h-5.27zM56.04 97.62h5.27v4.31h-5.27zM60.71 97.62h5.27v4.31h-5.27zM65.38 97.62h5.27v4.31h-5.27zM70.05 93.91h5.27v4.32h-5.27zM70.05 97.62h5.27v4.31h-5.27zM74.73 82.76h5.27v4.31h-5.27zM74.73 93.91h5.27v4.32h-5.27zM74.73 97.62h5.27v4.31h-5.27zM79.4 93.91h5.27v4.32h-5.27zM79.4 97.62h5.27v4.31h-5.27zM84.07 93.91h5.27v4.32h-5.27zM88.74 86.48h5.27v4.32h-5.27zM88.74 93.91h5.27v4.32h-5.27zM93.41 86.48h5.27v4.32h-5.27zM93.41 93.91h5.27v4.32h-5.27zM98.08 86.48h5.27v4.32h-5.27zM98.08 93.91h5.27v4.32h-5.27zM102.75 93.91h5.27v4.32h-5.27zM107.42 93.91h5.27v4.32h-5.27zM112.09 90.19h5.27v4.32h-5.27zM112.09 93.91h5.27v4.32h-5.27zM116.76 90.19h5.27v4.32h-5.27zM116.76 93.91h5.27v4.32h-5.27zM121.44 90.19h5.27v4.32h-5.27zM121.44 93.91h5.27v4.32h-5.27zM126.11 90.19h5.27v4.32h-5.27zM126.11 93.91h5.27v4.32h-5.27zM126.11 97.62h5.27v4.31h-5.27zM130.78 27.04h5.27v4.32h-5.27zM130.78 90.19h5.27v4.32h-5.27zM130.78 93.91h5.27v4.32h-5.27zM130.78 97.62h5.27v4.31h-5.27zM135.45 53.04h5.27v4.32h-5.27zM135.45 90.19h5.27v4.32h-5.27zM135.45 97.62h5.27v4.31h-5.27zM140.12 90.19h5.27v4.32h-5.27zM140.12 97.62h5.27v4.31h-5.27zM144.79 67.9h5.27v4.31h-5.27zM144.79 90.19h5.27v4.32h-5.27zM144.79 97.62h5.27v4.31h-5.27zM149.46 97.62h5.27v4.31h-5.27zM154.13 97.62h5.27v4.31h-5.27z"/>
<path fill="#7ad151" d="M46.7 82.76h5.27v4.31h-5.27zM46.7 86.48h5.27v4.32h-5.27zM51.37 82.76h5.27v4.31h-5.27zM51.37 86.48h5.27v4.32h-5.27zM56.04 82.76h5.27v4.31h-5.27zM56.04 86.48h5.27v4.32h-5.27zM60.71 86.48h5.27v4.32h-5.27zM65.38 86.48h5.27v4.32h-5.27zM65.38 90.19h5.27v4.32h-5.27zM70.05 86.48h5.27v4.32h-5.27zM70.05 90.19h5.27v4.32h-5.27zM121.44 101.34h5.27v4.32h-5.27zM126.11 101.34h5.27v4.32h-5.27zM130.78 23.32h5.27v4.32h-5.27zM130.78 101.34h5.27v4.32h-5.27zM135.45 45.61h5.27v4.32h-5.27zM135.45 101.34h5.27v4.32h-5.27zM140.12 101.34h5.27v4.32h-5.27zM144.79 101.34h5.27v4.32h-5.27zM149.46 101.34h5.27v4.32h-5.27zM154.13 93.91h5.27v4.32h-5.27zM154.13 101.34h5.27v4.32h-5.27zM158.8 75.33h5.27v4.32h-5.27zM158.8 90.19h5.27v4.32h-5.27zM158.8 93.91h5.27v4.32h-5.27zM158.8 101.34h5.27v4.32h-5.27zM163.47 86.48h5.27v4.32h-5.27zM163.47 93.91h5.27v4.32h-5.27zM163.47 101.34h5.27v4.32h-5.27zM168.15 97.62h5.27v4.31h-5.27zM168.15 101.34h5.27v4.32h-5.27z"/>
<path fill="#7cd250" d="M46.7 90.19h5.27v4.32h-5.27zM46.7 97.62h5.27v4.31h-5.27zM51.37 90.19h5.27v4.32h-5.27zM56.04 90.19h5.27v4.32h-5.27zM60.71 82.76h5.27v4.31h-5.27zM60.71 90.19h5.27v4.32h-5.27zM65.38 82.76h5.27v4.31h-5.27zM70.05 82.76h5.27v4.31h-5.27zM74.73 86.48h5.27v4.32h-5.27zM74.73 90.19h5.27v4.32h-5.27zM79.4 86.48h5.27v4.32h-5.27zM79.4 90.19h5.27v4.32h-5.27zM84.07 86.48h5.27v4.32h-5.27zM84.07 90.19h5.27v4.32h-5.27zM88.74 90.19h5.27v4.32h-5.27zM93.41 90.19h5.27v4.32h-5.27zM98.08 90.19h5.27v4.32h-5.27zM102.75 90.19h5.27v4.32h-5.27zM107.42 90.19h5.27v4.32h-5.27zM135.45 49.33h5.27v4.31h-5.27zM135.45 93.91h5.27v4.32h-5.27zM140.12 93.91h5.27v4.32h-5.27zM144.79 93.91h5.27v4.32h-5.27zM149.46 90.19h5.27v4.32h-5.27zM149.46 93.91h5.27v4.32h-5.27zM154.13 90.19h5.27v4.32h-5.27zM158.8 86.48h5.27v4.32h-5.27zM158.8 97.62h5.27v4.31h-5.27zM163.47 79.05h5.27v4.32h-5.27zM163.47 82.76h5.27v4.31h-5.27zM163.47 97.62h5.27v4.31h-5.27z"/>
<path fill="#81d34d" d="M46.7 93.91h5.27v4.32h-5.27zM51.37 79.05h5.27v4.32h-5.27zM51.37 93.91h5.27v4.32h-5.27zM56.04 93.91h5.27v4.32h-5.27zM60.71 93.91h5.27v4.32h-5.27zM65.38 93.91h5.27v4.32h-5.27zM79.4 82.76h5.27v4.31h-5.27zM84.07 97.62h5.27v4.31h-5.27zM88.74 97.62h5.27v4.31h-5.27zM93.41 97.62h5.27v4.31h-5.27zM98.08 97.62h5.27v4.31h-5.27zM102.75 86.48h5.27v4.32h-5.27zM102.75 97.62h5.27v4.31h-5.27zM107.42 97.62h5.27v4.31h-5.27zM112.09 97.62h5.27v4.31h-5.27zM116.76 97.62h5.27v4.31h-5.27zM121.44 97.62h5.27v4.31h-5.27zM130.78 30.75h5.27v4.32h-5.27zM140.12 64.19h5.27v4.32h-5.27zM149.46 71.62h5.27v4.32h-5.27zM154.13 86.48h5.27v4.32h-5.27zM158.8 82.76h5.27v4.31h-5.27z"/>
<path fill="#6ccd5a" d="M46.7 101.34h5.27v4.32h-5.27zM51.37 101.34h5.27v4.32h-5.27zM130.78 105.05h5.27v4.32h-5.27zM135.45 23.32h5.27v4.32h-5.27zM135.45 105.05h5.27v4.32h-5.27zM144.79 60.47h5.27v4.32h-5.27zM172.82 79.05h5.27v4.32h-5.27zM177.49 86.48h5.27v4.32h-5.27zM182.16 90.19h5.27v4.32h-5.27zM186.83 93.91h4.67v4.32h-4.67z"/>
<path fill="#42be71" d="M46.7 105.05h5.27v4.32h-5.27zM154.13 41.9h5.27v4.31h-5.27zM172.82 67.9h5.27v4.31h-5.27z"/>
<path fill="#22a785" d="M46.7 108.77h5.27v4.32h-5.27z"/>
<path fill="#218e8d" d="M46.7 112.48h5.27v4.31h-5.27z"/>
<path fill="#2f6c8e" d="M46.7 116.2h5.27v4.32h-5.27zM163.47 119.91h5.27v4.32h-5.27z"/>
<path fill="#3e4c8a" d="M46.7 119.91h5.27v4.32h-5.27zM182.16 123.63h5.27v4.32h-5.27z"/>
<path fill="#443983" d="M46.7 123.63h5.27v4.32h-5.27zM51.37 123.63h5.27v4.32h-5.27z"/>
<path fill="#472d7b" d="M46.7 127.34h5.27v4.32h-5.27zM51.37 127.34h5.27v4.32h-5.27zM56.04 127.34h5.27v4.32h-5.27z"/>
<path fill="#482677" d="M46.7 131.06h5.27v4.31h-5.27zM51.37 131.06h5.27v4.31h-5.27zM56.04 131.06h5.27v4.31h-5.27zM60.71 131.06h5.27v4.31h-5.27zM65.38 131.06h5.27v4.31h-5.27zM70.05 131.06h5.27v4.31h-5.27zM74.73 131.06h5.27v4.31h-5.27zM79.4 131.06h5.27v4.31h-5.27zM84.07 131.06h5.27v4.31h-5.27zM88.74 131.06h5.27v4.31h-5.27zM93.41 131.06h5.27v4.31h-5.27z"/>
<path fill="#482374" d="M46.7 134.77h5.27v4.32h-5.27zM51.37 134.77h5.27v4.32h-5.27zM56.04 134.77h5.27v4.32h-5.27zM60.71 134.77h5.27v4.32h-5.27zM65.38 134.77h5.27v4.32h-5.27zM70.05 134.77h5.27v4.32h-5.27z"/>
<path fill="#481d6f" d="M46.7 138.49h5.27v4.31h-5.27zM51.37 138.49h5.27v4.31h-5.27z"/>
<path fill="#48186a" d="M46.7 142.2h5.27v4.32h-5.27zM51.37 142.2h5.27v4.32h-5.27zM56.04 142.2h5.27v4.32h-5.27zM60.71 142.2h5.27v4.32h-5.27zM65.38 142.2h5.27v4.32h-5.27z"/>
<path fill="#481668" d="M46.7 145.92h5.27v4.32h-5.27zM51.37 145.92h5.27v4.32h-5.27zM112.09 142.2h5.27v4.32h-5.27zM116.76 142.2h5.27v4.32h-5.27zM121.44 142.2h5.27v4.32h-5.27zM126.11 142.2h5.27v4.32h-5.27zM130.78 142.2h5.27v4.32h-5.27zM135.45 142.2h5.27v4.32h-5.27zM140.12 142.2h5.27v4.32h-5.27zM144.79 142.2h5.27v4.32h-5.27zM149.46 142.2h5.27v4.32h-5.27zM154.13 142.2h5.27v4.32h-5.27z"/>
<path fill="#471365" d="M46.7 149.63h5.27v4.32h-5.27zM51.37 149.63h5.27v4.32h-5.27zM84.07 145.92h5.27v4.32h-5.27zM88.74 145.92h5.27v4.32h-5.27zM93.41 145.92h5.27v4.32h-5.27zM98.08 145.92h5.27v4.32h-5.27zM102.75 145.92h5.27v4.32h-5.27zM107.42 145.92h5.27v4.32h-5.27z"/>
<path fill="#471063" d="M46.7 153.35h5.27v4.32h-5.27zM51.37 153.35h5.27v4.32h-5.27zM56.04 153.35h5.27v4.32h-5.27zM60.71 153.35h5.27v4.32h-5.27zM65.38 153.35h5.27v4.32h-5.27zM84.07 149.63h5.27v4.32h-5.27zM88.74 149.63h5.27v4.32h-5.27zM93.41 149.63h5.27v4.32h-5.27zM98.08 149.63h5.27v4.32h-5.27zM102.75 149.63h5.27v4.32h-5.27zM144.79 145.92h5.27v4.32h-5.27zM149.46 145.92h5.27v4.32h-5.27zM154.13 145.92h5.27v4.32h-5.27zM158.8 145.92h5.27v4.32h-5.27zM163.47 145.92h5.27v4.32h-5.27zM168.15 145.92h5.27v4.32h-5.27z"/>
<path fill="#470e61" d="M46.7 157.06h5.27v4.32h-5.27zM46.7 160.78h5.27v4.32h-5.27zM51.37 157.06h5.27v4.32h-5.27zM56.04 157.06h5.27v4.32h-5.27zM60.71 157.06h5.27v4.32h-5.27zM65.38 157.06h5.27v4.32h-5.27zM70.05 153.35h5.27v4.32h-5.27zM74.73 153.35h5.27v4.32h-5.27zM79.4 153.35h5.27v4.32h-5.27zM84.07 153.35h5.27v4.32h-5.27zM88.74 153.35h5.27v4.32h-5.27zM107.42 149.63h5.27v4.32h-5.27zM112.09 149.63h5.27v4.32h-5.27zM116.76 149.63h5.27v4.32h-5.27zM121.44 149.63h5.27v4.32h-5.27zM126.11 149.63h5.27v4.32h-5.27zM130.78 149.63h5.27v4.32h-5.27zM172.82 145.92h5.27v4.32h-5.27zM177.49 145.92h5.27v4.32h-5.27zM182.16 145.92h5.27v4.32h-5.27zM186.83 145.92h4.67v4.32h-4.67z"/>
<path fill="#470d60" d="M46.7 164.49h5.27v4.31h-5.27zM51.37 160.78h5.27v4.32h-5.27zM51.37 164.49h5.27v4.31h-5.27zM56.04 160.78h5.27v4.32h-5.27zM56.04 164.49h5.27v4.31h-5.27zM60.71 160.78h5.27v4.32h-5.27zM65.38 160.78h5.27v4.32h-5.27zM70.05 157.06h5.27v4.32h-5.27zM74.73 157.06h5.27v4.32h-5.27zM79.4 157.06h5.27v4.32h-5.27zM84.07 157.06h5.27v4.32h-5.27zM88.74 157.06h5.27v4.32h-5.27zM93.41 153.35h5.27v4.32h-5.27zM98.08 153.35h5.27v4.32h-5.27zM102.75 153.35h5.27v4.32h-5.27zM107.42 153.35h5.27v4.32h-5.27zM112.09 153.35h5.27v4.32h-5.27zM135.45 149.63h5.27v4.32h-5.27zM140.12 149.63h5.27v4.32h-5.27zM144.79 149.63h5.27v4.32h-5.27zM149.46 149.63h5.27v4.32h-5.27zM154.13 149.63h5.27v4.32h-5.27zM158.8 149.63h5.27v4.32h-5.27z"/>
<path fill="#f1e51d" d="M51.37 41.9h5.27v4.31h-5.27zM56.04 41.9h5.27v4.31h-5.27zM60.71 41.9h5.27v4.31h-5.27zM65.38 41.9h5.27v4.31h-5.27zM70.05 41.9h5.27v4.31h-5.27zM74.73 38.18h5.27v4.32h-5.27zM79.4 27.04h5.27v4.32h-5.27zM79.4 30.75h5.27v4.32h-5.27zM79.4 34.47h5.27v4.31h-5.27zM84.07 19h5.27v1.21h-5.27zM84.07 19.61h5.27v4.31h-5.27zM84.07 23.32h5.27v4.32h-5.27z"/>
<path fill="#d0e11c" d="M51.37 64.19h5.27v4.32h-5.27zM79.4 67.9h5.27v4.31h-5.27zM102.75 19h5.27v1.21h-5.27zM107.42 30.75h5.27v4.32h-5.27zM107.42 34.47h5.27v4.31h-5.27zM112.09 45.61h5.27v4.32h-5.27zM112.09 49.33h5.27v4.31h-5.27zM116.76 56.76h5.27v4.31h-5.27z"/>
<path fill="#c0df25" d="M51.37 67.9h5.27v4.31h-5.27zM79.4 71.62h5.27v4.32h-5.27zM112.09 27.04h5.27v4.32h-5.27zM116.76 34.47h5.27v4.31h-5.27zM121.44 71.62h5.27v4.32h-5.27z"/>
<path fill="#aadc32" d="M51.37 71.62h5.27v4.32h-5.27zM112.09 79.05h5.27v4.32h-5.27zM116.76 19.61h5.27v4.31h-5.27zM121.44 34.47h5.27v4.31h-5.27zM126.11 56.76h5.27v4.31h-5.27zM126.11 79.05h5.27v4.32h-5.27zM130.78 79.05h5.27v4.32h-5.27zM135.45 75.33h5.27v4.32h-5.27zM135.45 79.05h5.27v4.32h-5.27z"/>
<path fill="#93d741" d="M51.37 75.33h5.27v4.32h-5.27zM112.09 82.76h5.27v4.31h-5.27zM130.78 53.04h5.27v4.32h-5.27z"/>
<path fill="#46c06f" d="M51.37 105.05h5.27v4.32h-5.27zM149.46 19h5.27v1.21h-5.27zM149.46 19.61h5.27v4.31h-5.27zM154.13 49.33h5.27v4.31h-5.27zM158.8 60.47h5.27v4.32h-5.27z"/>
<path fill="#23a983" d="M51.37 108.77h5.27v4.32h-5.27zM149.46 112.48h5.27v4.31h-5.27z"/>
<path fill="#21908d" d="M51.37 112.48h5.27v4.31h-5.27z"/>
<path fill="#2e6d8e" d="M51.37 116.2h5.27v4.32h-5.27z"/>
<path fill="#3d4d8a" d="M51.37 119.91h5.27v4.32h-5.27zM186.83 123.63h4.67v4.32h-4.67z"/>
<path fill="#e7e419" d="M56.04 53.04h5.27v4.32h-5.27zM60.71 53.04h5.27v4.32h-5.27zM65.38 53.04h5.27v4.32h-5.27zM70.05 53.04h5.27v4.32h-5.27zM74.73 53.04h5.27v4.32h-5.27zM79.4 53.04h5.27v4.32h-5.27zM84.07 53.04h5.27v4.32h-5.27zM88.74 53.04h5.27v4.32h-5.27zM93.41 53.04h5.27v4.32h-5.27z"/>
<path fill="#e2e418" d="M56.04 56.76h5.27v4.31h-5.27zM60.71 56.76h5.27v4.31h-5.27zM84.07 60.47h5.27v4.32h-5.27zM88.74 60.47h5.27v4.32h-5.27zM93.41 60.47h5.27v4.32h-5.27zM98.08 30.75h5.27v4.32h-5.27zM98.08 34.47h5.27v4.31h-5.27zM98.08 38.18h5.27v4.32h-5.27zM98.08 41.9h5.27v4.31h-5.27zM98.08 45.61h5.27v4.32h-5.27zM98.08 49.33h5.27v4.31h-5.27zM98.08 53.04h5.27v4.32h-5.27zM98.08 56.76h5.27v4.31h-5.27z"/>
<path fill="#dde318" d="M56.04 60.47h5.27v4.32h-5.27zM60.71 60.47h5.27v4.32h-5.27zM88.74 64.19h5.27v4.32h-5.27zM93.41 64.19h5.27v4.32h-5.27zM98.08 19h5.27v1.21h-5.27zM102.75 41.9h5.27v4.31h-5.27zM102.75 45.61h5.27v4.32h-5.27zM102.75 49.33h5.27v4.31h-5.27zM102.75 53.04h5.27v4.32h-5.27zM102.75 56.76h5.27v4.31h-5.27zM102.75 60.47h5.27v4.32h-5.27z"/>
<path fill="#d2e21b" d="M56.04 64.19h5.27v4.32h-5.27zM84.07 67.9h5.27v4.31h-5.27zM102.75 19.61h5.27v4.31h-5.27zM102.75 23.32h5.27v4.32h-5.27zM107.42 38.18h5.27v4.32h-5.27zM107.42 67.9h5.27v4.31h-5.27zM112.09 53.04h5.27v4.32h-5.27zM112.09 67.9h5.27v4.31h-5.27zM116.76 67.9h5.27v4.31h-5.27z"/>
<path fill="#c2df23" d="M56.04 67.9h5.27v4.31h-5.27zM84.07 71.62h5.27v4.32h-5.27zM107.42 19h5.27v1.21h-5.27zM116.76 38.18h5.27v4.32h-5.27zM121.44 60.47h5.27v4.32h-5.27zM121.44 64.19h5.27v4.32h-5.27z"/>
<path fill="#addc30" d="M56.04 71.62h5.27v4.32h-5.27zM84.07 75.33h5.27v4.32h-5.27zM116.76 79.05h5.27v4.32h-5.27zM121.44 38.18h5.27v4.32h-5.27zM121.44 79.05h5.27v4.32h-5.27zM130.78 71.62h5.27v4.32h-5.27z"/>
<path fill="#95d840" d="M56.04 75.33h5.27v4.32h-5.27zM84.07 79.05h5.27v4.32h-5.27zM126.11 30.75h5.27v4.32h-5.27zM130.78 56.76h5.27v4.31h-5.27zM144.79 82.76h5.27v4.31h-5.27zM149.46 79.05h5.27v4.32h-5.27z"/>
<path fill="#84d44b" d="M56.04 79.05h5.27v4.32h-5.27zM60.71 79.05h5.27v4.32h-5.27zM84.07 82.76h5.27v4.31h-5.27zM107.42 86.48h5.27v4.32h-5.27zM112.09 86.48h5.27v4.32h-5.27zM130.78 34.47h5.27v4.31h-5.27zM135.45 56.76h5.27v4.31h-5.27zM149.46 86.48h5.27v4.32h-5.27zM154.13 75.33h5.27v4.32h-5.27z"/>
<path fill="#6ece58" d="M56.04 101.34h5.27v4.32h-5.27zM60.71 101.34h5.27v4.32h-5.27zM135.45 27.04h5.27v4.32h-5.27zM140.12 53.04h5.27v4.32h-5.27zM140.12 105.05h5.27v4.32h-5.27zM144.79 105.05h5.27v4.32h-5.27zM172.82 82.76h5.27v4.31h-5.27zM182.16 93.91h5.27v4.32h-5.27zM186.83 97.62h4.67v4.31h-4.67z"/>
<path fill="#48c16e" d="M56.04 105.05h5.27v4.32h-5.27zM140.12 108.77h5.27v4.32h-5.27zM149.46 23.32h5.27v4.32h-5.27zM149.46 27.04h5.27v4.32h-5.27zM154.13 53.04h5.27v4.32h-5.27zM168.15 67.9h5.27v4.31h-5.27zM177.49 71.62h5.27v4.32h-5.27zM186.83 75.33h4.67v4.32h-4.67z"/>
<path fill="#24aa83" d="M56.04 108.77h5.27v4.32h-5.27zM154.13 112.48h5.27v4.31h-5.27zM186.83 38.18h4.67v4.32h-4.67zM186.83 41.9h4.67v4.31h-4.67zM186.83 45.61h4.67v4.32h-4.67z"/>
<path fill="#21918c" d="M56.04 112.48h5.27v4.31h-5.27zM163.47 116.2h5.27v4.32h-5.27z"/>
<path fill="#2e6e8e" d="M56.04 116.2h5.27v4.32h-5.27zM168.15 119.91h5.27v4.32h-5.27z"/>
<path fill="#3d4e8a" d="M56.04 119.91h5.27v4.32h-5.27z"/>
<path fill="#443a83" d="M56.04 123.63h5.27v4.32h-5.27zM60.71 123.63h5.27v4.32h-5.27zM65.38 123.63h5.27v4.32h-5.27z"/>
<path fill="#481c6e" d="M56.04 138.49h5.27v4.31h-5.27zM60.71 138.49h5.27v4.31h-5.27zM65.38 138.49h5.27v4.31h-5.27zM70.05 138.49h5.27v4.31h-5.27zM74.73 138.49h5.27v4.31h-5.27zM79.4 138.49h5.27v4.31h-5.27zM84.07 138.49h5.27v4.31h-5.27zM88.74 138.49h5.27v4.31h-5.27zM93.41 138.49h5.27v4.31h-5.27zM98.08 138.49h5.27v4.31h-5.27zM102.75 138.49h5.27v4.31h-5.27zM107.42 138.49h5.27v4.31h-5.27zM112.09 138.49h5.27v4.31h-5.27zM116.76 138.49h5.27v4.31h-5.27zM121.44 138.49h5.27v4.31h-5.27z"/>
<path fill="#481467" d="M56.04 145.92h5.27v4.32h-5.27zM60.71 145.92h5.27v4.32h-5.27zM65.38 145.92h5.27v4.32h-5.27zM70.05 145.92h5.27v4.32h-5.27zM74.73 145.92h5.27v4.32h-5.27zM79.4 145.92h5.27v4.32h-5.27zM158.8 142.2h5.27v4.32h-5.27zM163.47 142.2h5.27v4.32h-5.27zM168.15 142.2h5.27v4.32h-5.27zM172.82 142.2h5.27v4.32h-5.27zM177.49 142.2h5.27v4.32h-5.27zM182.16 142.2h5.27v4.32h-5.27zM186.83 142.2h4.67v4.32h-4.67z"/>
<path fill="#471164" d="M56.04 149.63h5.27v4.32h-5.27zM60.71 149.63h5.27v4.32h-5.27zM65.38 149.63h5.27v4.32h-5.27zM70.05 149.63h5.27v4.32h-5.27zM74.73 149.63h5.27v4.32h-5.27zM79.4 149.63h5.27v4.32h-5.27zM112.09 145.92h5.27v4.32h-5.27zM116.76 145.92h5.27v4.32h-5.27zM121.44 145.92h5.27v4.32h-5.27zM126.11 145.92h5.27v4.32h-5.27zM130.78 145.92h5.27v4.32h-5.27zM135.45 145.92h5.27v4.32h-5.27zM140.12 145.92h5.27v4.32h-5.27z"/>
<path fill="#d5e21a" d="M60.71 64.19h5.27v4.32h-5.27zM65.38 64.19h5.27v4.32h-5.27zM88.74 67.9h5.27v4.31h-5.27zM93.41 67.9h5.27v4.31h-5.27zM98.08 67.9h5.27v4.31h-5.27zM102.75 27.04h5.27v4.32h-5.27zM102.75 67.9h5.27v4.31h-5.27zM107.42 41.9h5.27v4.31h-5.27zM107.42 45.61h5.27v4.32h-5.27zM112.09 56.76h5.27v4.31h-5.27zM112.09 64.19h5.27v4.32h-5.27zM116.76 60.47h5.27v4.32h-5.27zM116.76 64.19h5.27v4.32h-5.27z"/>
<path fill="#c5e021" d="M60.71 67.9h5.27v4.31h-5.27zM88.74 71.62h5.27v4.32h-5.27zM107.42 19.61h5.27v4.31h-5.27zM112.09 30.75h5.27v4.32h-5.27zM116.76 41.9h5.27v4.31h-5.27zM121.44 67.9h5.27v4.31h-5.27z"/>
<path fill="#b2dd2d" d="M60.71 71.62h5.27v4.32h-5.27zM121.44 45.61h5.27v4.32h-5.27zM126.11 64.19h5.27v4.32h-5.27z"/>
<path fill="#9bd93c" d="M60.71 75.33h5.27v4.32h-5.27zM126.11 38.18h5.27v4.32h-5.27zM130.78 60.47h5.27v4.32h-5.27zM130.78 82.76h5.27v4.31h-5.27zM135.45 82.76h5.27v4.31h-5.27zM144.79 75.33h5.27v4.32h-5.27z"/>
<path fill="#4cc26c" d="M60.71 105.05h5.27v4.32h-5.27zM144.79 108.77h5.27v4.32h-5.27zM149.46 38.18h5.27v4.32h-5.27zM154.13 56.76h5.27v4.31h-5.27z"/>
<path fill="#25ab82" d="M60.71 108.77h5.27v4.32h-5.27zM186.83 19h4.67v1.21h-4.67zM186.83 19.61h4.67v4.31h-4.67zM186.83 23.32h4.67v4.32h-4.67zM186.83 27.04h4.67v4.32h-4.67zM186.83 30.75h4.67v4.32h-4.67zM186.83 34.47h4.67v4.31h-4.67zM186.83 49.33h4.67v4.31h-4.67zM186.83 53.04h4.67v4.32h-4.67z"/>
<path fill="#20928c" d="M60.71 112.48h5.27v4.31h-5.27zM168.15 116.2h5.27v4.32h-5.27z"/>
<path fill="#2d708e" d="M60.71 116.2h5.27v4.32h-5.27z"/>
<path fill="#3c4f8a" d="M60.71 119.91h5.27v4.32h-5.27zM65.38 119.91h5.27v4.32h-5.27z"/>
<path fill="#472e7c" d="M60.71 127.34h5.27v4.32h-5.27zM65.38 127.34h5.27v4.32h-5.27zM70.05 127.34h5.27v4.32h-5.27zM74.73 127.34h5.27v4.32h-5.27z"/>
<path fill="#460b5e" d="M60.71 164.49h5.27v4.31h-5.27zM65.38 164.49h5.27v4.31h-5.27zM70.05 160.78h5.27v4.32h-5.27zM70.05 164.49h5.27v4.31h-5.27zM74.73 160.78h5.27v4.32h-5.27zM74.73 164.49h5.27v4.31h-5.27zM79.4 160.78h5.27v4.32h-5.27zM84.07 160.78h5.27v4.32h-5.27zM88.74 160.78h5.27v4.32h-5.27zM93.41 157.06h5.27v4.32h-5.27zM98.08 157.06h5.27v4.32h-5.27zM102.75 157.06h5.27v4.32h-5.27zM107.42 157.06h5.27v4.32h-5.27zM112.09 157.06h5.27v4.32h-5.27zM116.76 153.35h5.27v4.32h-5.27zM121.44 153.35h5.27v4.32h-5.27zM126.11 153.35h5.27v4.32h-5.27zM130.78 153.35h5.27v4.32h-5.27zM135.45 153.35h5.27v4.32h-5.27zM163.47 149.63h5.27v4.32h-5.27zM168.15 149.63h5.27v4.32h-5.27zM172.82 149.63h5.27v4.32h-5.27zM177.49 149.63h5.27v4.32h-5.27zM182.16 149.63h5.27v4.32h-5.27z"/>
<path fill="#c8e020" d="M65.38 67.9h5.27v4.31h-5.27zM93.41 71.62h5.27v4.32h-5.27zM98.08 71.62h5.27v4.32h-5.27zM102.75 71.62h5.27v4.32h-5.27zM107.42 23.32h5.27v4.32h-5.27zM107.42 71.62h5.27v4.32h-5.27zM112.09 34.47h5.27v4.31h-5.27zM116.76 45.61h5.27v4.32h-5.27z"/>
<path fill="#b5de2b" d="M65.38 71.62h5.27v4.32h-5.27zM93.41 75.33h5.27v4.32h-5.27zM112.09 19h5.27v1.21h-5.27zM116.76 27.04h5.27v4.32h-5.27zM126.11 67.9h5.27v4.31h-5.27zM126.11 71.62h5.27v4.32h-5.27zM126.11 75.33h5.27v4.32h-5.27z"/>
<path fill="#9dd93b" d="M65.38 75.33h5.27v4.32h-5.27zM93.41 79.05h5.27v4.32h-5.27zM121.44 23.32h5.27v4.32h-5.27zM126.11 41.9h5.27v4.31h-5.27zM140.12 82.76h5.27v4.31h-5.27z"/>
<path fill="#86d549" d="M65.38 79.05h5.27v4.32h-5.27zM88.74 82.76h5.27v4.31h-5.27zM116.76 86.48h5.27v4.32h-5.27zM121.44 86.48h5.27v4.32h-5.27zM126.11 19h5.27v1.21h-5.27zM130.78 38.18h5.27v4.32h-5.27zM158.8 79.05h5.27v4.32h-5.27z"/>
<path fill="#70cf57" d="M65.38 101.34h5.27v4.32h-5.27zM70.05 101.34h5.27v4.32h-5.27zM135.45 30.75h5.27v4.32h-5.27zM149.46 105.05h5.27v4.32h-5.27zM154.13 105.05h5.27v4.32h-5.27zM163.47 75.33h5.27v4.32h-5.27zM172.82 86.48h5.27v4.32h-5.27zM177.49 90.19h5.27v4.32h-5.27zM177.49 93.91h5.27v4.32h-5.27zM182.16 97.62h5.27v4.31h-5.27zM186.83 101.34h4.67v4.32h-4.67z"/>
<path fill="#4ec36b" d="M65.38 105.05h5.27v4.32h-5.27zM149.46 41.9h5.27v4.31h-5.27zM149.46 108.77h5.27v4.32h-5.27z"/>
<path fill="#25ac82" d="M65.38 108.77h5.27v4.32h-5.27zM158.8 112.48h5.27v4.31h-5.27zM182.16 19h5.27v1.21h-5.27zM182.16 19.61h5.27v4.31h-5.27zM182.16 38.18h5.27v4.32h-5.27zM182.16 41.9h5.27v4.31h-5.27zM182.16 45.61h5.27v4.32h-5.27zM186.83 56.76h4.67v4.31h-4.67z"/>
<path fill="#20938c" d="M65.38 112.48h5.27v4.31h-5.27zM172.82 116.2h5.27v4.32h-5.27z"/>
<path fill="#2d718e" d="M65.38 116.2h5.27v4.32h-5.27zM177.49 119.91h5.27v4.32h-5.27z"/>
<path fill="#d8e219" d="M70.05 64.19h5.27v4.32h-5.27zM102.75 30.75h5.27v4.32h-5.27zM107.42 49.33h5.27v4.31h-5.27zM107.42 53.04h5.27v4.32h-5.27zM107.42 56.76h5.27v4.31h-5.27zM107.42 64.19h5.27v4.32h-5.27zM112.09 60.47h5.27v4.32h-5.27z"/>
<path fill="#cae11f" d="M70.05 67.9h5.27v4.31h-5.27zM107.42 27.04h5.27v4.32h-5.27zM112.09 38.18h5.27v4.32h-5.27zM112.09 71.62h5.27v4.32h-5.27zM116.76 49.33h5.27v4.31h-5.27zM116.76 71.62h5.27v4.32h-5.27z"/>
<path fill="#b8de29" d="M70.05 71.62h5.27v4.32h-5.27zM98.08 75.33h5.27v4.32h-5.27zM102.75 75.33h5.27v4.32h-5.27zM112.09 19.61h5.27v4.31h-5.27zM121.44 49.33h5.27v4.31h-5.27zM121.44 75.33h5.27v4.32h-5.27z"/>
<path fill="#a0da39" d="M70.05 75.33h5.27v4.32h-5.27zM98.08 79.05h5.27v4.32h-5.27zM126.11 45.61h5.27v4.32h-5.27zM144.79 79.05h5.27v4.32h-5.27z"/>
<path fill="#89d548" d="M70.05 79.05h5.27v4.32h-5.27zM93.41 82.76h5.27v4.31h-5.27zM126.11 19.61h5.27v4.31h-5.27zM126.11 86.48h5.27v4.32h-5.27zM130.78 41.9h5.27v4.31h-5.27zM130.78 86.48h5.27v4.32h-5.27zM135.45 60.47h5.27v4.32h-5.27zM144.79 86.48h5.27v4.32h-5.27zM154.13 82.76h5.27v4.31h-5.27z"/>
<path fill="#52c569" d="M70.05 105.05h5.27v4.32h-5.27zM144.79 23.32h5.27v4.32h-5.27zM144.79 27.04h5.27v4.32h-5.27zM149.46 49.33h5.27v4.31h-5.27zM154.13 60.47h5.27v4.32h-5.27zM154.13 108.77h5.27v4.32h-5.27zM186.83 79.05h4.67v4.32h-4.67z"/>
<path fill="#26ad81" d="M70.05 108.77h5.27v4.32h-5.27zM163.47 112.48h5.27v4.31h-5.27zM182.16 23.32h5.27v4.32h-5.27zM182.16 27.04h5.27v4.32h-5.27zM182.16 30.75h5.27v4.32h-5.27zM182.16 34.47h5.27v4.31h-5.27zM182.16 49.33h5.27v4.31h-5.27z"/>
<path fill="#1f948c" d="M70.05 112.48h5.27v4.31h-5.27zM177.49 116.2h5.27v4.32h-5.27z"/>
<path fill="#2c718e" d="M70.05 116.2h5.27v4.32h-5.27zM182.16 119.91h5.27v4.32h-5.27z"/>
<path fill="#3c508b" d="M70.05 119.91h5.27v4.32h-5.27z"/>
<path fill="#443b84" d="M70.05 123.63h5.27v4.32h-5.27zM74.73 123.63h5.27v4.32h-5.27z"/>
<path fill="#481769" d="M70.05 142.2h5.27v4.32h-5.27zM74.73 142.2h5.27v4.32h-5.27zM79.4 142.2h5.27v4.32h-5.27zM84.07 142.2h5.27v4.32h-5.27zM88.74 142.2h5.27v4.32h-5.27zM93.41 142.2h5.27v4.32h-5.27zM98.08 142.2h5.27v4.32h-5.27zM102.75 142.2h5.27v4.32h-5.27zM107.42 142.2h5.27v4.32h-5.27z"/>
<path fill="#bade28" d="M74.73 71.62h5.27v4.32h-5.27zM107.42 75.33h5.27v4.32h-5.27zM112.09 23.32h5.27v4.32h-5.27zM112.09 75.33h5.27v4.32h-5.27zM116.76 30.75h5.27v4.32h-5.27zM121.44 53.04h5.27v4.32h-5.27z"/>
<path fill="#a5db36" d="M74.73 75.33h5.27v4.32h-5.27zM126.11 53.04h5.27v4.32h-5.27z"/>
<path fill="#8ed645" d="M74.73 79.05h5.27v4.32h-5.27zM102.75 82.76h5.27v4.31h-5.27zM130.78 49.33h5.27v4.31h-5.27zM154.13 79.05h5.27v4.32h-5.27z"/>
<path fill="#73d056" d="M74.73 101.34h5.27v4.32h-5.27zM79.4 101.34h5.27v4.32h-5.27zM84.07 101.34h5.27v4.32h-5.27zM135.45 34.47h5.27v4.31h-5.27zM140.12 56.76h5.27v4.31h-5.27zM144.79 64.19h5.27v4.32h-5.27zM149.46 67.9h5.27v4.31h-5.27zM158.8 105.05h5.27v4.32h-5.27zM163.47 105.05h5.27v4.32h-5.27zM168.15 79.05h5.27v4.32h-5.27zM168.15 105.05h5.27v4.32h-5.27zM172.82 90.19h5.27v4.32h-5.27zM172.82 93.91h5.27v4.32h-5.27zM172.82 105.05h5.27v4.32h-5.27zM177.49 97.62h5.27v4.31h-5.27zM177.49 105.05h5.27v4.32h-5.27zM182.16 101.34h5.27v4.32h-5.27zM182.16 105.05h5.27v4.32h-5.27zM186.83 105.05h4.67v4.32h-4.67z"/>
<path fill="#54c568" d="M74.73 105.05h5.27v4.32h-5.27zM144.79 30.75h5.27v4.32h-5.27zM149.46 53.04h5.27v4.32h-5.27z"/>
<path fill="#27ad81" d="M74.73 108.77h5.27v4.32h-5.27zM168.15 112.48h5.27v4.31h-5.27zM177.49 19h5.27v1.21h-5.27zM177.49 19.61h5.27v4.31h-5.27zM177.49 23.32h5.27v4.32h-5.27zM177.49 38.18h5.27v4.32h-5.27zM177.49 41.9h5.27v4.31h-5.27zM182.16 53.04h5.27v4.32h-5.27zM186.83 60.47h4.67v4.32h-4.67z"/>
<path fill="#1f968b" d="M74.73 112.48h5.27v4.31h-5.27zM182.16 116.2h5.27v4.32h-5.27z"/>
<path fill="#2c738e" d="M74.73 116.2h5.27v4.32h-5.27zM186.83 119.91h4.67v4.32h-4.67z"/>
<path fill="#3b518b" d="M74.73 119.91h5.27v4.32h-5.27z"/>
<path fill="#482173" d="M74.73 134.77h5.27v4.32h-5.27zM79.4 134.77h5.27v4.32h-5.27zM84.07 134.77h5.27v4.32h-5.27zM88.74 134.77h5.27v4.32h-5.27zM93.41 134.77h5.27v4.32h-5.27zM98.08 134.77h5.27v4.32h-5.27zM102.75 134.77h5.27v4.32h-5.27zM107.42 134.77h5.27v4.32h-5.27zM112.09 134.77h5.27v4.32h-5.27zM116.76 134.77h5.27v4.32h-5.27zM121.44 134.77h5.27v4.32h-5.27zM126.11 134.77h5.27v4.32h-5.27zM130.78 134.77h5.27v4.32h-5.27zM135.45 134.77h5.27v4.32h-5.27zM140.12 134.77h5.27v4.32h-5.27zM144.79 134.77h5.27v4.32h-5.27zM149.46 134.77h5.27v4.32h-5.27zM154.13 134.77h5.27v4.32h-5.27zM158.8 134.77h5.27v4.32h-5.27zM163.47 134.77h5.27v4.32h-5.27zM168.15 134.77h5.27v4.32h-5.27zM172.82 134.77h5.27v4.32h-5.27zM177.49 134.77h5.27v4.32h-5.27zM182.16 134.77h5.27v4.32h-5.27zM186.83 134.77h4.67v4.32h-4.67z"/>
<path fill="#56c667" d="M79.4 105.05h5.27v4.32h-5.27zM144.79 34.47h5.27v4.31h-5.27zM158.8 108.77h5.27v4.32h-5.27zM177.49 75.33h5.27v4.32h-5.27z"/>
<path fill="#29af7f" d="M79.4 108.77h5.27v4.32h-5.27zM172.82 19h5.27v1.21h-5.27zM172.82 19.61h5.27v4.31h-5.27zM172.82 23.32h5.27v4.32h-5.27zM172.82 112.48h5.27v4.31h-5.27zM177.49 53.04h5.27v4.32h-5.27z"/>
<path fill="#1f978b" d="M79.4 112.48h5.27v4.31h-5.27zM186.83 116.2h4.67v4.32h-4.67z"/>
<path fill="#2b748e" d="M79.4 116.2h5.27v4.32h-5.27z"/>
<path fill="#3a538b" d="M79.4 119.91h5.27v4.32h-5.27z"/>
<path fill="#433d84" d="M79.4 123.63h5.27v4.32h-5.27zM84.07 123.63h5.27v4.32h-5.27zM88.74 123.63h5.27v4.32h-5.27z"/>
<path fill="#472f7d" d="M79.4 127.34h5.27v4.32h-5.27zM84.07 127.34h5.27v4.32h-5.27zM88.74 127.34h5.27v4.32h-5.27zM93.41 127.34h5.27v4.32h-5.27z"/>
<path fill="#460a5d" d="M79.4 164.49h5.27v4.31h-5.27zM84.07 164.49h5.27v4.31h-5.27zM88.74 164.49h5.27v4.31h-5.27zM93.41 160.78h5.27v4.32h-5.27zM93.41 164.49h5.27v4.31h-5.27zM98.08 160.78h5.27v4.32h-5.27zM98.08 164.49h5.27v4.31h-5.27zM102.75 160.78h5.27v4.32h-5.27zM107.42 160.78h5.27v4.32h-5.27zM112.09 160.78h5.27v4.32h-5.27zM116.76 157.06h5.27v4.32h-5.27zM121.44 157.06h5.27v4.32h-5.27zM126.11 157.06h5.27v4.32h-5.27zM130.78 157.06h5.27v4.32h-5.27zM135.45 157.06h5.27v4.32h-5.27zM140.12 153.35h5.27v4.32h-5.27zM144.79 153.35h5.27v4.32h-5.27zM149.46 153.35h5.27v4.32h-5.27zM154.13 153.35h5.27v4.32h-5.27zM158.8 153.35h5.27v4.32h-5.27zM163.47 153.35h5.27v4.32h-5.27zM186.83 149.63h4.67v4.32h-4.67z"/>
<path fill="#5ac864" d="M84.07 105.05h5.27v4.32h-5.27zM140.12 19h5.27v1.21h-5.27zM140.12 19.61h5.27v4.31h-5.27zM144.79 41.9h5.27v4.31h-5.27zM144.79 45.61h5.27v4.32h-5.27zM154.13 64.19h5.27v4.32h-5.27zM163.47 108.77h5.27v4.32h-5.27zM168.15 108.77h5.27v4.32h-5.27zM182.16 79.05h5.27v4.32h-5.27zM186.83 82.76h4.67v4.31h-4.67z"/>
<path fill="#2ab07f" d="M84.07 108.77h5.27v4.32h-5.27zM172.82 27.04h5.27v4.32h-5.27zM172.82 30.75h5.27v4.32h-5.27zM172.82 34.47h5.27v4.31h-5.27zM172.82 38.18h5.27v4.32h-5.27zM172.82 41.9h5.27v4.31h-5.27zM172.82 45.61h5.27v4.32h-5.27zM177.49 112.48h5.27v4.31h-5.27zM182.16 60.47h5.27v4.32h-5.27zM186.83 64.19h4.67v4.32h-4.67z"/>
<path fill="#1f988b" d="M84.07 112.48h5.27v4.31h-5.27z"/>
<path fill="#2a768e" d="M84.07 116.2h5.27v4.32h-5.27z"/>
<path fill="#3a548c" d="M84.07 119.91h5.27v4.32h-5.27z"/>
<path fill="#b0dd2f" d="M88.74 75.33h5.27v4.32h-5.27zM116.76 23.32h5.27v4.32h-5.27zM121.44 41.9h5.27v4.31h-5.27zM126.11 60.47h5.27v4.32h-5.27zM130.78 75.33h5.27v4.32h-5.27z"/>
<path fill="#98d83e" d="M88.74 79.05h5.27v4.32h-5.27zM116.76 82.76h5.27v4.31h-5.27zM121.44 19h5.27v1.21h-5.27zM121.44 19.61h5.27v4.31h-5.27zM121.44 82.76h5.27v4.31h-5.27zM126.11 34.47h5.27v4.31h-5.27zM126.11 82.76h5.27v4.31h-5.27zM135.45 67.9h5.27v4.31h-5.27zM140.12 71.62h5.27v4.32h-5.27z"/>
<path fill="#75d054" d="M88.74 101.34h5.27v4.32h-5.27zM93.41 101.34h5.27v4.32h-5.27zM98.08 101.34h5.27v4.32h-5.27zM135.45 38.18h5.27v4.32h-5.27zM154.13 71.62h5.27v4.32h-5.27zM168.15 82.76h5.27v4.31h-5.27zM168.15 86.48h5.27v4.32h-5.27zM168.15 90.19h5.27v4.32h-5.27zM177.49 101.34h5.27v4.32h-5.27z"/>
<path fill="#5cc863" d="M88.74 105.05h5.27v4.32h-5.27zM140.12 23.32h5.27v4.32h-5.27zM144.79 49.33h5.27v4.31h-5.27zM158.8 67.9h5.27v4.31h-5.27zM172.82 108.77h5.27v4.32h-5.27z"/>
<path fill="#2cb17e" d="M88.74 108.77h5.27v4.32h-5.27zM168.15 19h5.27v1.21h-5.27zM168.15 19.61h5.27v4.31h-5.27zM168.15 23.32h5.27v4.32h-5.27zM168.15 27.04h5.27v4.32h-5.27zM172.82 49.33h5.27v4.31h-5.27zM177.49 56.76h5.27v4.31h-5.27z"/>
<path fill="#1f998a" d="M88.74 112.48h5.27v4.31h-5.27z"/>
<path fill="#2a788e" d="M88.74 116.2h5.27v4.32h-5.27z"/>
<path fill="#39558c" d="M88.74 119.91h5.27v4.32h-5.27z"/>
<path fill="#5ec962" d="M93.41 105.05h5.27v4.32h-5.27zM140.12 27.04h5.27v4.32h-5.27zM140.12 30.75h5.27v4.32h-5.27zM149.46 60.47h5.27v4.32h-5.27zM163.47 71.62h5.27v4.32h-5.27zM172.82 75.33h5.27v4.32h-5.27zM177.49 108.77h5.27v4.32h-5.27z"/>
<path fill="#2eb37c" d="M93.41 108.77h5.27v4.32h-5.27zM163.47 19h5.27v1.21h-5.27zM163.47 19.61h5.27v4.31h-5.27zM163.47 23.32h5.27v4.32h-5.27zM163.47 27.04h5.27v4.32h-5.27zM163.47 30.75h5.27v4.32h-5.27zM168.15 45.61h5.27v4.32h-5.27zM168.15 49.33h5.27v4.31h-5.27zM177.49 60.47h5.27v4.32h-5.27zM182.16 64.19h5.27v4.32h-5.27zM186.83 112.48h4.67v4.31h-4.67z"/>
<path fill="#1e9b8a" d="M93.41 112.48h5.27v4.31h-5.27z"/>
<path fill="#29798e" d="M93.41 116.2h5.27v4.32h-5.27z"/>
<path fill="#39568c" d="M93.41 119.91h5.27v4.32h-5.27z"/>
<path fill="#433e85" d="M93.41 123.63h5.27v4.32h-5.27zM98.08 123.63h5.27v4.32h-5.27z"/>
<path fill="#8bd646" d="M98.08 82.76h5.27v4.31h-5.27zM126.11 23.32h5.27v4.32h-5.27zM130.78 45.61h5.27v4.32h-5.27zM135.45 86.48h5.27v4.32h-5.27zM140.12 67.9h5.27v4.31h-5.27zM140.12 86.48h5.27v4.32h-5.27zM144.79 71.62h5.27v4.32h-5.27z"/>
<path fill="#60ca60" d="M98.08 105.05h5.27v4.32h-5.27zM140.12 34.47h5.27v4.31h-5.27zM144.79 53.04h5.27v4.32h-5.27zM182.16 82.76h5.27v4.31h-5.27zM182.16 108.77h5.27v4.32h-5.27z"/>
<path fill="#2fb47c" d="M98.08 108.77h5.27v4.32h-5.27zM163.47 34.47h5.27v4.31h-5.27zM163.47 38.18h5.27v4.32h-5.27zM163.47 41.9h5.27v4.31h-5.27zM172.82 56.76h5.27v4.31h-5.27zM186.83 67.9h4.67v4.31h-4.67z"/>
<path fill="#1e9c89" d="M98.08 112.48h5.27v4.31h-5.27z"/>
<path fill="#297b8e" d="M98.08 116.2h5.27v4.32h-5.27z"/>
<path fill="#38588c" d="M98.08 119.91h5.27v4.32h-5.27z"/>
<path fill="#46307e" d="M98.08 127.34h5.27v4.32h-5.27zM102.75 127.34h5.27v4.32h-5.27zM107.42 127.34h5.27v4.32h-5.27zM112.09 127.34h5.27v4.32h-5.27z"/>
<path fill="#482878" d="M98.08 131.06h5.27v4.31h-5.27zM102.75 131.06h5.27v4.31h-5.27zM107.42 131.06h5.27v4.31h-5.27zM112.09 131.06h5.27v4.31h-5.27zM116.76 131.06h5.27v4.31h-5.27zM121.44 131.06h5.27v4.31h-5.27zM126.11 131.06h5.27v4.31h-5.27zM130.78 131.06h5.27v4.31h-5.27z"/>
<path fill="#a2da37" d="M102.75 79.05h5.27v4.32h-5.27zM121.44 27.04h5.27v4.32h-5.27zM126.11 49.33h5.27v4.31h-5.27zM130.78 64.19h5.27v4.32h-5.27zM135.45 71.62h5.27v4.32h-5.27z"/>
<path fill="#77d153" d="M102.75 101.34h5.27v4.32h-5.27zM107.42 101.34h5.27v4.32h-5.27zM112.09 101.34h5.27v4.32h-5.27zM116.76 101.34h5.27v4.32h-5.27zM130.78 19h5.27v1.21h-5.27zM130.78 19.61h5.27v4.31h-5.27zM135.45 41.9h5.27v4.31h-5.27zM140.12 60.47h5.27v4.32h-5.27zM163.47 90.19h5.27v4.32h-5.27zM168.15 93.91h5.27v4.32h-5.27zM172.82 97.62h5.27v4.31h-5.27zM172.82 101.34h5.27v4.32h-5.27z"/>
<path fill="#63cb5f" d="M102.75 105.05h5.27v4.32h-5.27zM107.42 105.05h5.27v4.32h-5.27zM140.12 38.18h5.27v4.32h-5.27zM177.49 79.05h5.27v4.32h-5.27zM186.83 86.48h4.67v4.32h-4.67zM186.83 108.77h4.67v4.32h-4.67z"/>
<path fill="#31b57b" d="M102.75 108.77h5.27v4.32h-5.27zM163.47 45.61h5.27v4.32h-5.27zM168.15 53.04h5.27v4.32h-5.27z"/>
<path fill="#1e9d89" d="M102.75 112.48h5.27v4.31h-5.27z"/>
<path fill="#287c8e" d="M102.75 116.2h5.27v4.32h-5.27z"/>
<path fill="#375a8c" d="M102.75 119.91h5.27v4.32h-5.27z"/>
<path fill="#423f85" d="M102.75 123.63h5.27v4.32h-5.27zM107.42 123.63h5.27v4.32h-5.27z"/>
<path fill="#46085c" d="M102.75 164.49h5.27v4.31h-5.27zM107.42 164.49h5.27v4.31h-5.27zM112.09 164.49h5.27v4.31h-5.27zM116.76 160.78h5.27v4.32h-5.27zM116.76 164.49h5.27v4.31h-5.27zM121.44 160.78h5.27v4.32h-5.27zM121.44 164.49h5.27v4.31h-5.27zM126.11 160.78h5.27v4.32h-5.27zM130.78 160.78h5.27v4.32h-5.27zM135.45 160.78h5.27v4.32h-5.27zM140.12 157.06h5.27v4.32h-5.27zM144.79 157.06h5.27v4.32h-5.27zM149.46 157.06h5.27v4.32h-5.27zM154.13 157.06h5.27v4.32h-5.27zM158.8 157.06h5.27v4.32h-5.27zM168.15 153.35h5.27v4.32h-5.27zM172.82 153.35h5.27v4.32h-5.27zM177.49 153.35h5.27v4.32h-5.27zM182.16 153.35h5.27v4.32h-5.27zM186.83 153.35h4.67v4.32h-4.67z"/>
<path fill="#34b679" d="M107.42 108.77h5.27v4.32h-5.27zM163.47 53.04h5.27v4.32h-5.27zM168.15 56.76h5.27v4.31h-5.27zM177.49 64.19h5.27v4.32h-5.27z"/>
<path fill="#1f9e89" d="M107.42 112.48h5.27v4.31h-5.27z"/>
<path fill="#277e8e" d="M107.42 116.2h5.27v4.32h-5.27z"/>
<path fill="#375b8d" d="M107.42 119.91h5.27v4.32h-5.27z"/>
<path fill="#65cb5e" d="M112.09 105.05h5.27v4.32h-5.27zM140.12 41.9h5.27v4.31h-5.27zM144.79 56.76h5.27v4.31h-5.27z"/>
<path fill="#35b779" d="M112.09 108.77h5.27v4.32h-5.27zM158.8 19h5.27v1.21h-5.27zM158.8 19.61h5.27v4.31h-5.27zM158.8 23.32h5.27v4.32h-5.27zM182.16 67.9h5.27v4.31h-5.27z"/>
<path fill="#1fa088" d="M112.09 112.48h5.27v4.31h-5.27z"/>
<path fill="#27808e" d="M112.09 116.2h5.27v4.32h-5.27z"/>
<path fill="#365c8d" d="M112.09 119.91h5.27v4.32h-5.27z"/>
<path fill="#424086" d="M112.09 123.63h5.27v4.32h-5.27zM116.76 123.63h5.27v4.32h-5.27z"/>
<path fill="#67cc5c" d="M116.76 105.05h5.27v4.32h-5.27zM135.45 19h5.27v1.21h-5.27zM140.12 45.61h5.27v4.32h-5.27zM149.46 64.19h5.27v4.32h-5.27zM154.13 67.9h5.27v4.31h-5.27zM168.15 75.33h5.27v4.32h-5.27zM177.49 82.76h5.27v4.31h-5.27zM182.16 86.48h5.27v4.32h-5.27z"/>
<path fill="#38b977" d="M116.76 108.77h5.27v4.32h-5.27zM158.8 38.18h5.27v4.32h-5.27zM158.8 41.9h5.27v4.31h-5.27zM168.15 60.47h5.27v4.32h-5.27zM172.82 64.19h5.27v4.32h-5.27z"/>
<path fill="#1fa188" d="M116.76 112.48h5.27v4.31h-5.27z"/>
<path fill="#26818e" d="M116.76 116.2h5.27v4.32h-5.27z"/>
<path fill="#365d8d" d="M116.76 119.91h5.27v4.32h-5.27z"/>
<path fill="#46327e" d="M116.76 127.34h5.27v4.32h-5.27zM121.44 127.34h5.27v4.32h-5.27zM126.11 127.34h5.27v4.32h-5.27z"/>
<path fill="#69cd5b" d="M121.44 105.05h5.27v4.32h-5.27zM126.11 105.05h5.27v4.32h-5.27zM135.45 19.61h5.27v4.31h-5.27zM140.12 49.33h5.27v4.31h-5.27zM158.8 71.62h5.27v4.32h-5.27zM186.83 90.19h4.67v4.32h-4.67z"/>
<path fill="#3bbb75" d="M121.44 108.77h5.27v4.32h-5.27zM158.8 49.33h5.27v4.31h-5.27zM177.49 67.9h5.27v4.31h-5.27z"/>
<path fill="#1fa187" d="M121.44 112.48h5.27v4.31h-5.27z"/>
<path fill="#26828e" d="M121.44 116.2h5.27v4.32h-5.27z"/>
<path fill="#355f8d" d="M121.44 119.91h5.27v4.32h-5.27z"/>
<path fill="#424186" d="M121.44 123.63h5.27v4.32h-5.27zM126.11 123.63h5.27v4.32h-5.27z"/>
<path fill="#3fbc73" d="M126.11 108.77h5.27v4.32h-5.27zM154.13 27.04h5.27v4.32h-5.27zM154.13 30.75h5.27v4.32h-5.27zM168.15 64.19h5.27v4.32h-5.27z"/>
<path fill="#1fa287" d="M126.11 112.48h5.27v4.31h-5.27z"/>
<path fill="#25848e" d="M126.11 116.2h5.27v4.32h-5.27z"/>
<path fill="#34608d" d="M126.11 119.91h5.27v4.32h-5.27z"/>
<path fill="#481b6d" d="M126.11 138.49h5.27v4.31h-5.27zM130.78 138.49h5.27v4.31h-5.27zM135.45 138.49h5.27v4.31h-5.27zM140.12 138.49h5.27v4.31h-5.27zM144.79 138.49h5.27v4.31h-5.27zM149.46 138.49h5.27v4.31h-5.27zM154.13 138.49h5.27v4.31h-5.27zM158.8 138.49h5.27v4.31h-5.27zM163.47 138.49h5.27v4.31h-5.27zM168.15 138.49h5.27v4.31h-5.27zM172.82 138.49h5.27v4.31h-5.27zM177.49 138.49h5.27v4.31h-5.27zM182.16 138.49h5.27v4.31h-5.27zM186.83 138.49h4.67v4.31h-4.67z"/>
<path fill="#46075a" d="M126.11 164.49h5.27v4.31h-5.27zM130.78 164.49h5.27v4.31h-5.27zM135.45 164.49h5.27v4.31h-5.27zM140.12 160.78h5.27v4.32h-5.27zM140.12 164.49h5.27v4.31h-5.27zM144.79 160.78h5.27v4.32h-5.27zM149.46 160.78h5.27v4.32h-5.27zM154.13 160.78h5.27v4.32h-5.27zM163.47 157.06h5.27v4.32h-5.27zM168.15 157.06h5.27v4.32h-5.27zM172.82 157.06h5.27v4.32h-5.27zM177.49 157.06h5.27v4.32h-5.27zM182.16 157.06h5.27v4.32h-5.27z"/>
<path fill="#40bd72" d="M130.78 108.77h5.27v4.32h-5.27zM154.13 34.47h5.27v4.31h-5.27zM154.13 38.18h5.27v4.32h-5.27zM158.8 56.76h5.27v4.31h-5.27zM182.16 71.62h5.27v4.32h-5.27z"/>
<path fill="#20a486" d="M130.78 112.48h5.27v4.31h-5.27z"/>
<path fill="#25858e" d="M130.78 116.2h5.27v4.32h-5.27z"/>
<path fill="#33628d" d="M130.78 119.91h5.27v4.32h-5.27z"/>
<path fill="#414287" d="M130.78 123.63h5.27v4.32h-5.27zM135.45 123.63h5.27v4.32h-5.27z"/>
<path fill="#46337f" d="M130.78 127.34h5.27v4.32h-5.27zM135.45 127.34h5.27v4.32h-5.27zM140.12 127.34h5.27v4.32h-5.27z"/>
<path fill="#44bf70" d="M135.45 108.77h5.27v4.32h-5.27zM154.13 45.61h5.27v4.32h-5.27zM163.47 64.19h5.27v4.32h-5.27z"/>
<path fill="#21a585" d="M135.45 112.48h5.27v4.31h-5.27z"/>
<path fill="#24878e" d="M135.45 116.2h5.27v4.32h-5.27z"/>
<path fill="#33638d" d="M135.45 119.91h5.27v4.32h-5.27z"/>
<path fill="#482979" d="M135.45 131.06h5.27v4.31h-5.27zM140.12 131.06h5.27v4.31h-5.27zM144.79 131.06h5.27v4.31h-5.27zM149.46 131.06h5.27v4.31h-5.27zM154.13 131.06h5.27v4.31h-5.27zM158.8 131.06h5.27v4.31h-5.27z"/>
<path fill="#21a685" d="M140.12 112.48h5.27v4.31h-5.27z"/>
<path fill="#23898e" d="M140.12 116.2h5.27v4.32h-5.27z"/>
<path fill="#32658e" d="M140.12 119.91h5.27v4.32h-5.27z"/>
<path fill="#414487" d="M140.12 123.63h5.27v4.32h-5.27zM144.79 123.63h5.27v4.32h-5.27z"/>
<path fill="#50c46a" d="M144.79 19h5.27v1.21h-5.27zM144.79 19.61h5.27v4.31h-5.27zM149.46 45.61h5.27v4.32h-5.27zM158.8 64.19h5.27v4.32h-5.27zM163.47 67.9h5.27v4.31h-5.27zM172.82 71.62h5.27v4.32h-5.27zM182.16 75.33h5.27v4.32h-5.27z"/>
<path fill="#58c765" d="M144.79 38.18h5.27v4.32h-5.27zM149.46 56.76h5.27v4.31h-5.27zM168.15 71.62h5.27v4.32h-5.27z"/>
<path fill="#22a884" d="M144.79 112.48h5.27v4.31h-5.27z"/>
<path fill="#238a8d" d="M144.79 116.2h5.27v4.32h-5.27z"/>
<path fill="#31668e" d="M144.79 119.91h5.27v4.32h-5.27z"/>
<path fill="#463480" d="M144.79 127.34h5.27v4.32h-5.27zM149.46 127.34h5.27v4.32h-5.27zM154.13 127.34h5.27v4.32h-5.27z"/>
<path fill="#450559" d="M144.79 164.49h5.27v4.31h-5.27zM149.46 164.49h5.27v4.31h-5.27zM154.13 164.49h5.27v4.31h-5.27zM158.8 160.78h5.27v4.32h-5.27zM158.8 164.49h5.27v4.31h-5.27zM163.47 160.78h5.27v4.32h-5.27zM163.47 164.49h5.27v4.31h-5.27zM168.15 160.78h5.27v4.32h-5.27zM172.82 160.78h5.27v4.32h-5.27zM177.49 160.78h5.27v4.32h-5.27zM186.83 157.06h4.67v4.32h-4.67z"/>
<path fill="#4ac16d" d="M149.46 30.75h5.27v4.32h-5.27zM149.46 34.47h5.27v4.31h-5.27z"/>
<path fill="#228c8d" d="M149.46 116.2h5.27v4.32h-5.27z"/>
<path fill="#31688e" d="M149.46 119.91h5.27v4.32h-5.27z"/>
<path fill="#404588" d="M149.46 123.63h5.27v4.32h-5.27z"/>
<path fill="#3dbc74" d="M154.13 19h5.27v1.21h-5.27zM154.13 19.61h5.27v4.31h-5.27zM154.13 23.32h5.27v4.32h-5.27zM158.8 53.04h5.27v4.32h-5.27zM163.47 60.47h5.27v4.32h-5.27z"/>
<path fill="#228d8d" d="M154.13 116.2h5.27v4.32h-5.27z"/>
<path fill="#30698e" d="M154.13 119.91h5.27v4.32h-5.27z"/>
<path fill="#404688" d="M154.13 123.63h5.27v4.32h-5.27zM158.8 123.63h5.27v4.32h-5.27z"/>
<path fill="#37b878" d="M158.8 27.04h5.27v4.32h-5.27zM158.8 30.75h5.27v4.32h-5.27zM158.8 34.47h5.27v4.31h-5.27zM163.47 56.76h5.27v4.31h-5.27z"/>
<path fill="#3aba76" d="M158.8 45.61h5.27v4.32h-5.27zM186.83 71.62h4.67v4.32h-4.67z"/>
<path fill="#218f8d" d="M158.8 116.2h5.27v4.32h-5.27z"/>
<path fill="#2f6b8e" d="M158.8 119.91h5.27v4.32h-5.27z"/>
<path fill="#453581" d="M158.8 127.34h5.27v4.32h-5.27zM163.47 127.34h5.27v4.32h-5.27zM168.15 127.34h5.27v4.32h-5.27z"/>
<path fill="#32b67a" d="M163.47 49.33h5.27v4.31h-5.27zM172.82 60.47h5.27v4.32h-5.27z"/>
<path fill="#3f4788" d="M163.47 123.63h5.27v4.32h-5.27z"/>
<path fill="#472a7a" d="M163.47 131.06h5.27v4.31h-5.27zM168.15 131.06h5.27v4.31h-5.27zM172.82 131.06h5.27v4.31h-5.27zM177.49 131.06h5.27v4.31h-5.27zM182.16 131.06h5.27v4.31h-5.27z"/>
<path fill="#2db27d" d="M168.15 30.75h5.27v4.32h-5.27zM168.15 34.47h5.27v4.31h-5.27zM168.15 38.18h5.27v4.32h-5.27zM168.15 41.9h5.27v4.31h-5.27zM172.82 53.04h5.27v4.32h-5.27zM182.16 112.48h5.27v4.31h-5.27z"/>
<path fill="#3f4889" d="M168.15 123.63h5.27v4.32h-5.27z"/>
<path fill="#450457" d="M168.15 164.49h5.27v4.31h-5.27zM172.82 164.49h5.27v4.31h-5.27zM177.49 164.49h5.27v4.31h-5.27zM182.16 160.78h5.27v4.32h-5.27zM182.16 164.49h5.27v4.31h-5.27zM186.83 160.78h4.67v4.32h-4.67z"/>
<path fill="#2e6f8e" d="M172.82 119.91h5.27v4.32h-5.27z"/>
<path fill="#3e4989" d="M172.82 123.63h5.27v4.32h-5.27z"/>
<path fill="#453781" d="M172.82 127.34h5.27v4.32h-5.27zM177.49 127.34h5.27v4.32h-5.27zM182.16 127.34h5.27v4.32h-5.27z"/>
<path fill="#28ae80" d="M177.49 27.04h5.27v4.32h-5.27zM177.49 30.75h5.27v4.32h-5.27zM177.49 34.47h5.27v4.31h-5.27zM177.49 45.61h5.27v4.32h-5.27zM177.49 49.33h5.27v4.31h-5.27zM182.16 56.76h5.27v4.31h-5.27z"/>
<path fill="#3e4a89" d="M177.49 123.63h5.27v4.32h-5.27z"/>
<path fill="#453882" d="M186.83 127.34h4.67v4.32h-4.67z"/>
<path fill="#472c7a" d="M186.83 131.06h4.67v4.31h-4.67z"/>
<path fill="#440256" d="M186.83 164.49h4.67v4.31h-4.67z"/>
</g>
<line x1="56" y1="19" x2="56" y2="168.5" stroke="#fff" stroke-width="0.5" opacity="0.12"/>
<line x1="65.33" y1="19" x2="65.33" y2="168.5" stroke="#fff" stroke-width="0.5" opacity="0.12"/>
<line x1="74.66" y1="19" x2="74.66" y2="168.5" stroke="#fff" stroke-width="0.5" opacity="0.12"/>
<line x1="83.99" y1="19" x2="83.99" y2="168.5" stroke="#fff" stroke-width="0.5" opacity="0.12"/>
<line x1="93.32" y1="19" x2="93.32" y2="168.5" stroke="#fff" stroke-width="0.5" opacity="0.12"/>
<line x1="102.65" y1="19" x2="102.65" y2="168.5" stroke="#fff" stroke-width="0.5" opacity="0.12"/>
<line x1="111.98" y1="19" x2="111.98" y2="168.5" stroke="#fff" stroke-width="0.5" opacity="0.12"/>
<line x1="121.31" y1="19" x2="121.31" y2="168.5" stroke="#fff" stroke-width="0.5" opacity="0.12"/>
<line x1="130.64" y1="19" x2="130.64" y2="168.5" stroke="#fff" stroke-width="0.5" opacity="0.12"/>
<line x1="139.97" y1="19" x2="139.97" y2="168.5" stroke="#fff" stroke-width="0.5" opacity="0.12"/>
<line x1="149.3" y1="19" x2="149.3" y2="168.5" stroke="#fff" stroke-width="0.5" opacity="0.12"/>
<line x1="158.63" y1="19" x2="158.63" y2="168.5" stroke="#fff" stroke-width="0.5" opacity="0.12"/>
<line x1="167.96" y1="19" x2="167.96" y2="168.5" stroke="#fff" stroke-width="0.5" opacity="0.12"/>
<line x1="177.29" y1="19" x2="177.29" y2="168.5" stroke="#fff" stroke-width="0.5" opacity="0.12"/>
<line x1="186.62" y1="19" x2="186.62" y2="168.5" stroke="#fff" stroke-width="0.5" opacity="0.12"/>
<line x1="46.7" y1="27.04" x2="191.5" y2="27.04" stroke="#fff" stroke-width="0.5" opacity="0.12"/>
<line x1="46.7" y1="30.75" x2="191.5" y2="30.75" stroke="#fff" stroke-width="0.5" opacity="0.12"/>
<line x1="46.7" y1="41.9" x2="191.5" y2="41.9" stroke="#fff" stroke-width="0.5" opacity="0.12"/>
<line x1="46.7" y1="45.61" x2="191.5" y2="45.61" stroke="#fff" stroke-width="0.5" opacity="0.12"/>
<line x1="46.7" y1="56.76" x2="191.5" y2="56.76" stroke="#fff" stroke-width="0.5" opacity="0.12"/>
<line x1="46.7" y1="60.47" x2="191.5" y2="60.47" stroke="#fff" stroke-width="0.5" opacity="0.12"/>
<line x1="46.7" y1="71.62" x2="191.5" y2="71.62" stroke="#fff" stroke-width="0.5" opacity="0.12"/>
<line x1="46.7" y1="75.33" x2="191.5" y2="75.33" stroke="#fff" stroke-width="0.5" opacity="0.12"/>
<line x1="46.7" y1="86.48" x2="191.5" y2="86.48" stroke="#fff" stroke-width="0.5" opacity="0.12"/>
<line x1="46.7" y1="90.19" x2="191.5" y2="90.19" stroke="#fff" stroke-width="0.5" opacity="0.12"/>
<line x1="46.7" y1="101.34" x2="191.5" y2="101.34" stroke="#fff" stroke-width="0.5" opacity="0.12"/>
<line x1="46.7" y1="105.05" x2="191.5" y2="105.05" stroke="#fff" stroke-width="0.5" opacity="0.12"/>
<line x1="46.7" y1="116.2" x2="191.5" y2="116.2" stroke="#fff" stroke-width="0.5" opacity="0.12"/>
<line x1="46.7" y1="119.91" x2="191.5" y2="119.91" stroke="#fff" stroke-width="0.5" opacity="0.12"/>
<line x1="46.7" y1="131.06" x2="191.5" y2="131.06" stroke="#fff" stroke-width="0.5" opacity="0.12"/>
<line x1="46.7" y1="134.77" x2="191.5" y2="134.77" stroke="#fff" stroke-width="0.5" opacity="0.12"/>
<line x1="46.7" y1="145.92" x2="191.5" y2="145.92" stroke="#fff" stroke-width="0.5" opacity="0.12"/>
<line x1="46.7" y1="149.63" x2="191.5" y2="149.63" stroke="#fff" stroke-width="0.5" opacity="0.12"/>
<line x1="46.7" y1="160.78" x2="191.5" y2="160.78" stroke="#fff" stroke-width="0.5" opacity="0.12"/>
<line x1="46.7" y1="164.49" x2="191.5" y2="164.49" stroke="#fff" stroke-width="0.5" opacity="0.12"/>
<line x1="46.8" y1="67.9" x2="191.3" y2="95.5" stroke="#dc5a2c" stroke-width="1.15" stroke-dasharray="3 2.6"/>
<line x1="46.8" y1="93.9" x2="191.3" y2="108.3" stroke="#dc5a2c" stroke-width="1.15" stroke-dasharray="3 2.6"/>
<line x1="46.4" y1="19" x2="46.4" y2="168.5" stroke="#999" stroke-width="0.6"/>
<line x1="46.7" y1="19.2" x2="191.5" y2="19.2" stroke="#222" stroke-width="0.9" opacity="0.85"/>
<line x1="46.8" y1="16" x2="46.8" y2="22.3" stroke="#141414" stroke-width="1.5"/>
<line x1="70.9" y1="16" x2="70.9" y2="22.3" stroke="#2e2a70" stroke-width="1.5"/>
<line x1="95" y1="16" x2="95" y2="22.3" stroke="#5c2a98" stroke-width="1.5"/>
<line x1="119.1" y1="16" x2="119.1" y2="22.3" stroke="#8e3aa6" stroke-width="1.5"/>
<line x1="143.2" y1="16" x2="143.2" y2="22.3" stroke="#e0506e" stroke-width="1.5"/>
<line x1="167.3" y1="16" x2="167.3" y2="22.3" stroke="#f5845c" stroke-width="1.5"/>
<line x1="191.4" y1="16" x2="191.4" y2="22.3" stroke="#fcc589" stroke-width="1.5"/>
<line x1="44.1" y1="36.32" x2="46.7" y2="36.32" stroke="#bbb" stroke-width="0.8"/>
<line x1="41.3" y1="54.9" x2="46.7" y2="54.9" stroke="#888" stroke-width="0.8"/>
<line x1="44.1" y1="73.47" x2="46.7" y2="73.47" stroke="#bbb" stroke-width="0.8"/>
<line x1="41.3" y1="92.05" x2="46.7" y2="92.05" stroke="#888" stroke-width="0.8"/>
<line x1="44.1" y1="110.62" x2="46.7" y2="110.62" stroke="#bbb" stroke-width="0.8"/>
<line x1="41.3" y1="129.2" x2="46.7" y2="129.2" stroke="#888" stroke-width="0.8"/>
<line x1="44.1" y1="147.78" x2="46.7" y2="147.78" stroke="#bbb" stroke-width="0.8"/>
<line x1="41.3" y1="166.35" x2="46.7" y2="166.35" stroke="#888" stroke-width="0.8"/>
<text x="36.4" y="22.5" font-size="9.9" text-anchor="end">200</text>
<text x="36.4" y="58.4" font-size="9.9" text-anchor="end">100</text>
<text x="36.4" y="95.55" font-size="9.9" text-anchor="end">0</text>
<text x="36.4" y="132.7" font-size="9.9" text-anchor="end">-100</text>
<text x="36.4" y="169.85" font-size="9.9" text-anchor="end">-200</text>
<line x1="49.3" y1="169" x2="49.3" y2="173.9" stroke="#666" stroke-width="0.8"/>
<text x="49.3" y="185.9" font-size="9.9" text-anchor="middle">-15</text>
<line x1="72.47" y1="169" x2="72.47" y2="173.9" stroke="#666" stroke-width="0.8"/>
<text x="72.47" y="185.9" font-size="9.9" text-anchor="middle">-10</text>
<line x1="95.64" y1="169" x2="95.64" y2="173.9" stroke="#666" stroke-width="0.8"/>
<text x="95.64" y="185.9" font-size="9.9" text-anchor="middle">-5</text>
<line x1="118.81" y1="169" x2="118.81" y2="173.9" stroke="#666" stroke-width="0.8"/>
<text x="118.81" y="185.9" font-size="9.9" text-anchor="middle">0</text>
<line x1="141.98" y1="169" x2="141.98" y2="173.9" stroke="#666" stroke-width="0.8"/>
<text x="141.98" y="185.9" font-size="9.9" text-anchor="middle">5</text>
<line x1="165.15" y1="169" x2="165.15" y2="173.9" stroke="#666" stroke-width="0.8"/>
<text x="165.15" y="185.9" font-size="9.9" text-anchor="middle">10</text>
<line x1="188.32" y1="169" x2="188.32" y2="173.9" stroke="#666" stroke-width="0.8"/>
<text x="188.32" y="185.9" font-size="9.9" text-anchor="middle">15</text>
<text x="108.4" y="201.9" font-size="11.2" font-style="italic">V<tspan font-size="7" dy="3.2" font-style="normal">tg</tspan><tspan dy="-3.2" font-style="normal">(V)</tspan></text>
<text transform="translate(13.1,89.3) rotate(-90)" font-size="11.2" text-anchor="middle" font-style="italic">V<tspan font-size="7" dy="3.0" font-style="normal">bg</tspan><tspan dy="-3.0" dx="1.2" font-style="normal">(V)</tspan></text>
<rect x="200.2" y="19.3" width="8" height="149.3" fill="url(#cb0)" stroke="#333" stroke-width="0.6"/>
<line x1="208.2" y1="27" x2="212.2" y2="27" stroke="#777" stroke-width="0.8"/>
<text x="217.4" y="30.5" font-size="9.9" text-anchor="start">1.1</text>
<line x1="208.2" y1="48.43" x2="212.2" y2="48.43" stroke="#777" stroke-width="0.8"/>
<text x="217.4" y="51.93" font-size="9.9" text-anchor="start">1.0</text>
<line x1="208.2" y1="69.86" x2="212.2" y2="69.86" stroke="#777" stroke-width="0.8"/>
<text x="217.4" y="73.36" font-size="9.9" text-anchor="start">0.9</text>
<line x1="208.2" y1="91.29" x2="212.2" y2="91.29" stroke="#777" stroke-width="0.8"/>
<text x="217.4" y="94.79" font-size="9.9" text-anchor="start">0.8</text>
<line x1="208.2" y1="112.72" x2="212.2" y2="112.72" stroke="#777" stroke-width="0.8"/>
<text x="217.4" y="116.22" font-size="9.9" text-anchor="start">0.7</text>
<line x1="208.2" y1="134.15" x2="212.2" y2="134.15" stroke="#777" stroke-width="0.8"/>
<text x="217.4" y="137.65" font-size="9.9" text-anchor="start">0.6</text>
<line x1="208.2" y1="155.58" x2="212.2" y2="155.58" stroke="#777" stroke-width="0.8"/>
<text x="217.4" y="159.08" font-size="9.9" text-anchor="start">0.5</text>
<g>
<path fill="#440154" d="M273.2 19h5.27v1.21h-5.27zM273.2 19.61h5.27v4.31h-5.27zM273.2 23.32h5.27v4.32h-5.27zM273.2 27.04h5.27v4.32h-5.27zM273.2 30.75h5.27v4.32h-5.27zM277.87 19h5.27v1.21h-5.27z"/>
<path fill="#440256" d="M273.2 34.47h5.27v4.31h-5.27zM273.2 38.18h5.27v4.32h-5.27zM277.87 19.61h5.27v4.31h-5.27zM277.87 23.32h5.27v4.32h-5.27zM277.87 27.04h5.27v4.32h-5.27zM277.87 30.75h5.27v4.32h-5.27z"/>
<path fill="#450457" d="M273.2 41.9h5.27v4.31h-5.27zM273.2 45.61h5.27v4.32h-5.27zM273.2 49.33h5.27v4.31h-5.27zM277.87 34.47h5.27v4.31h-5.27zM277.87 38.18h5.27v4.32h-5.27zM277.87 41.9h5.27v4.31h-5.27zM277.87 45.61h5.27v4.32h-5.27zM282.54 19h5.27v1.21h-5.27zM282.54 19.61h5.27v4.31h-5.27zM282.54 23.32h5.27v4.32h-5.27z"/>
<path fill="#450559" d="M273.2 53.04h5.27v4.32h-5.27zM277.87 49.33h5.27v4.31h-5.27zM277.87 53.04h5.27v4.32h-5.27zM282.54 27.04h5.27v4.32h-5.27zM282.54 30.75h5.27v4.32h-5.27zM282.54 34.47h5.27v4.31h-5.27zM282.54 38.18h5.27v4.32h-5.27zM282.54 41.9h5.27v4.31h-5.27zM282.54 45.61h5.27v4.32h-5.27zM282.54 49.33h5.27v4.31h-5.27zM282.54 53.04h5.27v4.32h-5.27zM282.54 56.76h5.27v4.31h-5.27zM287.21 38.18h5.27v4.32h-5.27zM287.21 41.9h5.27v4.31h-5.27zM287.21 45.61h5.27v4.32h-5.27zM287.21 49.33h5.27v4.31h-5.27zM287.21 53.04h5.27v4.32h-5.27zM287.21 56.76h5.27v4.31h-5.27zM291.88 49.33h5.27v4.31h-5.27zM291.88 53.04h5.27v4.32h-5.27zM291.88 56.76h5.27v4.31h-5.27zM291.88 60.47h5.27v4.32h-5.27zM296.55 49.33h5.27v4.31h-5.27zM296.55 53.04h5.27v4.32h-5.27zM296.55 56.76h5.27v4.31h-5.27zM296.55 60.47h5.27v4.32h-5.27zM296.55 64.19h5.27v4.32h-5.27zM301.23 64.19h5.27v4.32h-5.27z"/>
<path fill="#46075a" d="M273.2 56.76h5.27v4.31h-5.27zM277.87 56.76h5.27v4.31h-5.27zM282.54 60.47h5.27v4.32h-5.27zM287.21 19h5.27v1.21h-5.27zM287.21 19.61h5.27v4.31h-5.27zM287.21 23.32h5.27v4.32h-5.27zM287.21 27.04h5.27v4.32h-5.27zM287.21 30.75h5.27v4.32h-5.27zM287.21 34.47h5.27v4.31h-5.27zM287.21 60.47h5.27v4.32h-5.27zM291.88 34.47h5.27v4.31h-5.27zM291.88 38.18h5.27v4.32h-5.27zM291.88 41.9h5.27v4.31h-5.27zM291.88 45.61h5.27v4.32h-5.27zM291.88 64.19h5.27v4.32h-5.27zM296.55 45.61h5.27v4.32h-5.27zM301.23 56.76h5.27v4.31h-5.27zM301.23 60.47h5.27v4.32h-5.27zM305.9 60.47h5.27v4.32h-5.27zM305.9 64.19h5.27v4.32h-5.27zM310.57 64.19h5.27v4.32h-5.27zM315.24 64.19h5.27v4.32h-5.27zM315.24 67.9h5.27v4.31h-5.27zM319.91 67.9h5.27v4.31h-5.27z"/>
<path fill="#46085c" d="M273.2 60.47h5.27v4.32h-5.27zM277.87 60.47h5.27v4.32h-5.27zM287.21 64.19h5.27v4.32h-5.27zM291.88 19h5.27v1.21h-5.27zM291.88 19.61h5.27v4.31h-5.27zM291.88 23.32h5.27v4.32h-5.27zM291.88 27.04h5.27v4.32h-5.27zM291.88 30.75h5.27v4.32h-5.27zM296.55 34.47h5.27v4.31h-5.27zM296.55 38.18h5.27v4.32h-5.27zM296.55 41.9h5.27v4.31h-5.27zM296.55 67.9h5.27v4.31h-5.27zM301.23 49.33h5.27v4.31h-5.27zM301.23 53.04h5.27v4.32h-5.27zM301.23 67.9h5.27v4.31h-5.27zM305.9 56.76h5.27v4.31h-5.27zM305.9 67.9h5.27v4.31h-5.27zM310.57 60.47h5.27v4.32h-5.27zM310.57 67.9h5.27v4.31h-5.27zM319.91 64.19h5.27v4.32h-5.27zM324.58 67.9h5.27v4.31h-5.27z"/>
<path fill="#470e61" d="M273.2 64.19h5.27v4.32h-5.27zM301.23 19h5.27v1.21h-5.27zM301.23 19.61h5.27v4.31h-5.27zM301.23 23.32h5.27v4.32h-5.27zM301.23 27.04h5.27v4.32h-5.27zM301.23 30.75h5.27v4.32h-5.27zM305.9 45.61h5.27v4.32h-5.27zM310.57 49.33h5.27v4.31h-5.27zM310.57 71.62h5.27v4.32h-5.27zM315.24 53.04h5.27v4.32h-5.27zM319.91 56.76h5.27v4.31h-5.27zM324.58 60.47h5.27v4.32h-5.27zM338.59 75.33h5.27v4.32h-5.27z"/>
<path fill="#48186a" d="M273.2 67.9h5.27v4.31h-5.27zM291.88 71.62h5.27v4.32h-5.27zM310.57 75.33h5.27v4.32h-5.27zM315.24 38.18h5.27v4.32h-5.27zM338.59 60.47h5.27v4.32h-5.27zM343.26 79.05h5.27v4.32h-5.27zM366.62 75.33h5.27v4.32h-5.27zM371.29 79.05h5.27v4.32h-5.27z"/>
<path fill="#482677" d="M273.2 71.62h5.27v4.32h-5.27zM319.91 79.05h5.27v4.32h-5.27zM329.25 41.9h5.27v4.31h-5.27zM343.26 53.04h5.27v4.32h-5.27zM389.97 79.05h5.27v4.32h-5.27zM399.32 82.76h5.27v4.31h-5.27zM399.32 86.48h5.27v4.32h-5.27zM413.33 90.19h4.67v4.32h-4.67z"/>
<path fill="#443b84" d="M273.2 75.33h5.27v4.32h-5.27zM343.26 19.61h5.27v4.31h-5.27zM343.26 38.18h5.27v4.32h-5.27zM352.61 49.33h5.27v4.31h-5.27zM375.96 67.9h5.27v4.31h-5.27zM394.65 75.33h5.27v4.32h-5.27z"/>
<path fill="#39568c" d="M273.2 79.05h5.27v4.32h-5.27zM333.92 86.48h5.27v4.32h-5.27zM361.95 27.04h5.27v4.32h-5.27zM361.95 30.75h5.27v4.32h-5.27zM371.29 45.61h5.27v4.32h-5.27zM394.65 93.91h5.27v4.32h-5.27z"/>
<path fill="#2d718e" d="M273.2 82.76h5.27v4.31h-5.27zM408.66 38.18h5.27v4.32h-5.27zM413.33 19.61h4.67v4.31h-4.67zM413.33 41.9h4.67v4.31h-4.67z"/>
<path fill="#25858e" d="M273.2 86.48h5.27v4.32h-5.27zM343.26 93.91h5.27v4.32h-5.27zM413.33 101.34h4.67v4.32h-4.67z"/>
<path fill="#1e9d89" d="M273.2 90.19h5.27v4.32h-5.27zM310.57 93.91h5.27v4.32h-5.27zM380.63 101.34h5.27v4.32h-5.27z"/>
<path fill="#38b977" d="M273.2 93.91h5.27v4.32h-5.27zM305.9 97.62h5.27v4.31h-5.27zM338.59 101.34h5.27v4.32h-5.27z"/>
<path fill="#65cb5e" d="M273.2 97.62h5.27v4.31h-5.27zM399.32 112.48h5.27v4.31h-5.27z"/>
<path fill="#8bd646" d="M273.2 101.34h5.27v4.32h-5.27zM305.9 105.05h5.27v4.32h-5.27zM338.59 108.77h5.27v4.32h-5.27z"/>
<path fill="#a8db34" d="M273.2 105.05h5.27v4.32h-5.27zM305.9 108.77h5.27v4.32h-5.27zM343.26 112.48h5.27v4.31h-5.27zM375.96 116.2h5.27v4.32h-5.27zM413.33 119.91h4.67v4.32h-4.67z"/>
<path fill="#bddf26" d="M273.2 108.77h5.27v4.32h-5.27zM305.9 112.48h5.27v4.31h-5.27zM343.26 116.2h5.27v4.32h-5.27zM380.63 119.91h5.27v4.32h-5.27zM413.33 123.63h4.67v4.32h-4.67z"/>
<path fill="#d0e11c" d="M273.2 112.48h5.27v4.31h-5.27zM305.9 116.2h5.27v4.32h-5.27zM343.26 119.91h5.27v4.32h-5.27zM371.29 123.63h5.27v4.32h-5.27zM380.63 127.34h5.27v4.32h-5.27zM380.63 131.06h5.27v4.31h-5.27zM385.3 127.34h5.27v4.32h-5.27zM385.3 131.06h5.27v4.31h-5.27zM385.3 134.77h5.27v4.32h-5.27zM389.97 134.77h5.27v4.32h-5.27zM394.65 138.49h5.27v4.31h-5.27zM399.32 138.49h5.27v4.31h-5.27zM408.66 142.2h5.27v4.32h-5.27z"/>
<path fill="#dfe318" d="M273.2 116.2h5.27v4.32h-5.27zM305.9 119.91h5.27v4.32h-5.27zM310.57 119.91h5.27v4.32h-5.27zM329.25 123.63h5.27v4.32h-5.27zM333.92 123.63h5.27v4.32h-5.27zM333.92 127.34h5.27v4.32h-5.27zM338.59 127.34h5.27v4.32h-5.27zM338.59 131.06h5.27v4.31h-5.27zM338.59 134.77h5.27v4.32h-5.27zM343.26 134.77h5.27v4.32h-5.27zM347.94 138.49h5.27v4.31h-5.27zM352.61 142.2h5.27v4.32h-5.27zM357.28 142.2h5.27v4.32h-5.27zM361.95 145.92h5.27v4.32h-5.27zM366.62 145.92h5.27v4.32h-5.27zM366.62 149.63h5.27v4.32h-5.27zM371.29 149.63h5.27v4.32h-5.27zM371.29 153.35h5.27v4.32h-5.27zM375.96 153.35h5.27v4.32h-5.27zM375.96 157.06h5.27v4.32h-5.27zM375.96 160.78h5.27v4.32h-5.27zM380.63 157.06h5.27v4.32h-5.27zM380.63 160.78h5.27v4.32h-5.27zM380.63 164.49h5.27v4.31h-5.27zM385.3 160.78h5.27v4.32h-5.27zM385.3 164.49h5.27v4.31h-5.27zM389.97 164.49h5.27v4.31h-5.27z"/>
<path fill="#eae51a" d="M273.2 119.91h5.27v4.32h-5.27zM277.87 119.91h5.27v4.32h-5.27zM291.88 123.63h5.27v4.32h-5.27zM296.55 123.63h5.27v4.32h-5.27zM301.23 127.34h5.27v4.32h-5.27zM305.9 127.34h5.27v4.32h-5.27zM305.9 131.06h5.27v4.31h-5.27zM310.57 131.06h5.27v4.31h-5.27zM310.57 134.77h5.27v4.32h-5.27zM315.24 138.49h5.27v4.31h-5.27zM319.91 138.49h5.27v4.31h-5.27zM319.91 142.2h5.27v4.32h-5.27zM324.58 142.2h5.27v4.32h-5.27zM324.58 145.92h5.27v4.32h-5.27zM329.25 145.92h5.27v4.32h-5.27zM329.25 149.63h5.27v4.32h-5.27zM329.25 153.35h5.27v4.32h-5.27zM333.92 149.63h5.27v4.32h-5.27zM333.92 153.35h5.27v4.32h-5.27zM333.92 157.06h5.27v4.32h-5.27zM338.59 153.35h5.27v4.32h-5.27zM338.59 157.06h5.27v4.32h-5.27zM338.59 160.78h5.27v4.32h-5.27zM343.26 160.78h5.27v4.32h-5.27zM343.26 164.49h5.27v4.31h-5.27zM347.94 164.49h5.27v4.31h-5.27z"/>
<path fill="#efe51c" d="M273.2 123.63h5.27v4.32h-5.27zM277.87 123.63h5.27v4.32h-5.27zM282.54 127.34h5.27v4.32h-5.27zM287.21 127.34h5.27v4.32h-5.27zM291.88 131.06h5.27v4.31h-5.27zM291.88 134.77h5.27v4.32h-5.27zM296.55 134.77h5.27v4.32h-5.27zM296.55 138.49h5.27v4.31h-5.27zM301.23 138.49h5.27v4.31h-5.27zM301.23 142.2h5.27v4.32h-5.27zM305.9 142.2h5.27v4.32h-5.27zM305.9 145.92h5.27v4.32h-5.27zM310.57 145.92h5.27v4.32h-5.27zM310.57 149.63h5.27v4.32h-5.27zM310.57 153.35h5.27v4.32h-5.27zM315.24 149.63h5.27v4.32h-5.27zM315.24 153.35h5.27v4.32h-5.27zM315.24 157.06h5.27v4.32h-5.27zM315.24 160.78h5.27v4.32h-5.27zM319.91 157.06h5.27v4.32h-5.27zM319.91 160.78h5.27v4.32h-5.27zM319.91 164.49h5.27v4.31h-5.27zM324.58 160.78h5.27v4.32h-5.27zM324.58 164.49h5.27v4.31h-5.27z"/>
<path fill="#f4e61e" d="M273.2 127.34h5.27v4.32h-5.27zM273.2 131.06h5.27v4.31h-5.27zM277.87 131.06h5.27v4.31h-5.27zM277.87 134.77h5.27v4.32h-5.27zM282.54 134.77h5.27v4.32h-5.27zM282.54 138.49h5.27v4.31h-5.27zM282.54 142.2h5.27v4.32h-5.27zM287.21 138.49h5.27v4.31h-5.27zM287.21 142.2h5.27v4.32h-5.27zM287.21 145.92h5.27v4.32h-5.27zM291.88 145.92h5.27v4.32h-5.27zM291.88 149.63h5.27v4.32h-5.27zM291.88 153.35h5.27v4.32h-5.27zM296.55 149.63h5.27v4.32h-5.27zM296.55 153.35h5.27v4.32h-5.27zM296.55 157.06h5.27v4.32h-5.27zM296.55 160.78h5.27v4.32h-5.27zM301.23 157.06h5.27v4.32h-5.27zM301.23 160.78h5.27v4.32h-5.27zM301.23 164.49h5.27v4.31h-5.27zM305.9 164.49h5.27v4.31h-5.27z"/>
<path fill="#f6e620" d="M273.2 134.77h5.27v4.32h-5.27zM273.2 138.49h5.27v4.31h-5.27zM277.87 138.49h5.27v4.31h-5.27zM277.87 142.2h5.27v4.32h-5.27zM277.87 145.92h5.27v4.32h-5.27zM282.54 145.92h5.27v4.32h-5.27zM282.54 149.63h5.27v4.32h-5.27zM282.54 153.35h5.27v4.32h-5.27zM287.21 149.63h5.27v4.32h-5.27zM287.21 153.35h5.27v4.32h-5.27zM287.21 157.06h5.27v4.32h-5.27zM287.21 160.78h5.27v4.32h-5.27zM291.88 157.06h5.27v4.32h-5.27zM291.88 160.78h5.27v4.32h-5.27zM291.88 164.49h5.27v4.31h-5.27zM296.55 164.49h5.27v4.31h-5.27z"/>
<path fill="#f8e621" d="M273.2 142.2h5.27v4.32h-5.27zM273.2 145.92h5.27v4.32h-5.27zM273.2 149.63h5.27v4.32h-5.27zM273.2 153.35h5.27v4.32h-5.27zM277.87 149.63h5.27v4.32h-5.27zM277.87 153.35h5.27v4.32h-5.27zM277.87 157.06h5.27v4.32h-5.27zM277.87 160.78h5.27v4.32h-5.27zM277.87 164.49h5.27v4.31h-5.27zM282.54 157.06h5.27v4.32h-5.27zM282.54 160.78h5.27v4.32h-5.27zM282.54 164.49h5.27v4.31h-5.27zM287.21 164.49h5.27v4.31h-5.27z"/>
<path fill="#fbe723" d="M273.2 157.06h5.27v4.32h-5.27zM273.2 160.78h5.27v4.32h-5.27zM273.2 164.49h5.27v4.31h-5.27z"/>
<path fill="#470d60" d="M277.87 64.19h5.27v4.32h-5.27zM291.88 67.9h5.27v4.31h-5.27zM301.23 34.47h5.27v4.31h-5.27zM301.23 38.18h5.27v4.32h-5.27zM310.57 53.04h5.27v4.32h-5.27zM329.25 64.19h5.27v4.32h-5.27zM343.26 67.9h5.27v4.31h-5.27zM343.26 75.33h5.27v4.32h-5.27z"/>
<path fill="#481668" d="M277.87 67.9h5.27v4.31h-5.27zM310.57 34.47h5.27v4.31h-5.27zM315.24 75.33h5.27v4.32h-5.27zM324.58 53.04h5.27v4.32h-5.27zM329.25 56.76h5.27v4.31h-5.27zM333.92 60.47h5.27v4.32h-5.27zM343.26 64.19h5.27v4.32h-5.27zM352.61 71.62h5.27v4.32h-5.27zM357.28 79.05h5.27v4.32h-5.27zM361.95 79.05h5.27v4.32h-5.27z"/>
<path fill="#482475" d="M277.87 71.62h5.27v4.32h-5.27zM324.58 19h5.27v1.21h-5.27zM324.58 19.61h5.27v4.31h-5.27zM324.58 23.32h5.27v4.32h-5.27zM324.58 34.47h5.27v4.31h-5.27zM324.58 79.05h5.27v4.32h-5.27zM329.25 45.61h5.27v4.32h-5.27zM333.92 49.33h5.27v4.31h-5.27zM347.94 60.47h5.27v4.32h-5.27zM352.61 64.19h5.27v4.32h-5.27zM366.62 71.62h5.27v4.32h-5.27zM385.3 79.05h5.27v4.32h-5.27zM389.97 86.48h5.27v4.32h-5.27z"/>
<path fill="#453781" d="M277.87 75.33h5.27v4.32h-5.27zM305.9 79.05h5.27v4.32h-5.27zM338.59 23.32h5.27v4.32h-5.27zM371.29 67.9h5.27v4.31h-5.27zM380.63 71.62h5.27v4.32h-5.27z"/>
<path fill="#3b528b" d="M277.87 79.05h5.27v4.32h-5.27z"/>
<path fill="#2e6d8e" d="M277.87 82.76h5.27v4.31h-5.27zM403.99 19.61h5.27v4.31h-5.27zM403.99 41.9h5.27v4.31h-5.27zM408.66 49.33h5.27v4.31h-5.27zM413.33 53.04h4.67v4.32h-4.67z"/>
<path fill="#26828e" d="M277.87 86.48h5.27v4.32h-5.27zM347.94 93.91h5.27v4.32h-5.27z"/>
<path fill="#1f9a8a" d="M277.87 90.19h5.27v4.32h-5.27zM385.3 101.34h5.27v4.32h-5.27z"/>
<path fill="#32b67a" d="M277.87 93.91h5.27v4.32h-5.27zM310.57 97.62h5.27v4.31h-5.27zM343.26 101.34h5.27v4.32h-5.27zM375.96 105.05h5.27v4.32h-5.27zM408.66 108.77h5.27v4.32h-5.27z"/>
<path fill="#5cc863" d="M277.87 97.62h5.27v4.31h-5.27zM310.57 101.34h5.27v4.32h-5.27zM343.26 105.05h5.27v4.32h-5.27z"/>
<path fill="#86d549" d="M277.87 101.34h5.27v4.32h-5.27zM310.57 105.05h5.27v4.32h-5.27zM375.96 112.48h5.27v4.31h-5.27z"/>
<path fill="#a5db36" d="M277.87 105.05h5.27v4.32h-5.27zM310.57 108.77h5.27v4.32h-5.27zM347.94 112.48h5.27v4.31h-5.27zM380.63 116.2h5.27v4.32h-5.27z"/>
<path fill="#bade28" d="M277.87 108.77h5.27v4.32h-5.27zM310.57 112.48h5.27v4.31h-5.27zM315.24 112.48h5.27v4.31h-5.27zM347.94 116.2h5.27v4.32h-5.27zM385.3 119.91h5.27v4.32h-5.27z"/>
<path fill="#cde11d" d="M277.87 112.48h5.27v4.31h-5.27zM310.57 116.2h5.27v4.32h-5.27zM315.24 116.2h5.27v4.32h-5.27zM347.94 119.91h5.27v4.32h-5.27zM375.96 123.63h5.27v4.32h-5.27zM380.63 123.63h5.27v4.32h-5.27zM389.97 127.34h5.27v4.32h-5.27zM389.97 131.06h5.27v4.31h-5.27zM394.65 127.34h5.27v4.32h-5.27zM394.65 131.06h5.27v4.31h-5.27zM394.65 134.77h5.27v4.32h-5.27zM399.32 134.77h5.27v4.32h-5.27zM403.99 138.49h5.27v4.31h-5.27zM408.66 138.49h5.27v4.31h-5.27zM413.33 142.2h4.67v4.32h-4.67z"/>
<path fill="#dde318" d="M277.87 116.2h5.27v4.32h-5.27zM315.24 119.91h5.27v4.32h-5.27zM338.59 123.63h5.27v4.32h-5.27zM343.26 127.34h5.27v4.32h-5.27zM343.26 131.06h5.27v4.31h-5.27zM347.94 131.06h5.27v4.31h-5.27zM347.94 134.77h5.27v4.32h-5.27zM352.61 134.77h5.27v4.32h-5.27zM352.61 138.49h5.27v4.31h-5.27zM357.28 138.49h5.27v4.31h-5.27zM361.95 142.2h5.27v4.32h-5.27zM366.62 142.2h5.27v4.32h-5.27zM371.29 145.92h5.27v4.32h-5.27zM375.96 145.92h5.27v4.32h-5.27zM375.96 149.63h5.27v4.32h-5.27zM380.63 149.63h5.27v4.32h-5.27zM380.63 153.35h5.27v4.32h-5.27zM385.3 153.35h5.27v4.32h-5.27zM385.3 157.06h5.27v4.32h-5.27zM389.97 157.06h5.27v4.32h-5.27zM389.97 160.78h5.27v4.32h-5.27zM394.65 160.78h5.27v4.32h-5.27zM394.65 164.49h5.27v4.31h-5.27zM399.32 164.49h5.27v4.31h-5.27z"/>
<path fill="#f1e51d" d="M277.87 127.34h5.27v4.32h-5.27zM282.54 131.06h5.27v4.31h-5.27zM287.21 131.06h5.27v4.31h-5.27zM287.21 134.77h5.27v4.32h-5.27zM291.88 138.49h5.27v4.31h-5.27zM291.88 142.2h5.27v4.32h-5.27zM296.55 142.2h5.27v4.32h-5.27zM296.55 145.92h5.27v4.32h-5.27zM301.23 145.92h5.27v4.32h-5.27zM301.23 149.63h5.27v4.32h-5.27zM301.23 153.35h5.27v4.32h-5.27zM305.9 149.63h5.27v4.32h-5.27zM305.9 153.35h5.27v4.32h-5.27zM305.9 157.06h5.27v4.32h-5.27zM305.9 160.78h5.27v4.32h-5.27zM310.57 157.06h5.27v4.32h-5.27zM310.57 160.78h5.27v4.32h-5.27zM310.57 164.49h5.27v4.31h-5.27zM315.24 164.49h5.27v4.31h-5.27z"/>
<path fill="#460b5e" d="M282.54 64.19h5.27v4.32h-5.27zM296.55 19h5.27v1.21h-5.27zM296.55 19.61h5.27v4.31h-5.27zM296.55 23.32h5.27v4.32h-5.27zM301.23 41.9h5.27v4.31h-5.27zM305.9 49.33h5.27v4.31h-5.27zM315.24 56.76h5.27v4.31h-5.27zM315.24 71.62h5.27v4.32h-5.27zM324.58 64.19h5.27v4.32h-5.27zM338.59 67.9h5.27v4.31h-5.27z"/>
<path fill="#471365" d="M282.54 67.9h5.27v4.31h-5.27zM305.9 19h5.27v1.21h-5.27zM305.9 19.61h5.27v4.31h-5.27zM305.9 23.32h5.27v4.32h-5.27zM305.9 27.04h5.27v4.32h-5.27zM305.9 30.75h5.27v4.32h-5.27zM310.57 41.9h5.27v4.31h-5.27zM319.91 75.33h5.27v4.32h-5.27zM324.58 75.33h5.27v4.32h-5.27zM338.59 64.19h5.27v4.32h-5.27zM352.61 75.33h5.27v4.32h-5.27z"/>
<path fill="#482071" d="M282.54 71.62h5.27v4.32h-5.27zM324.58 41.9h5.27v4.31h-5.27zM380.63 79.05h5.27v4.32h-5.27z"/>
<path fill="#46307e" d="M282.54 75.33h5.27v4.32h-5.27zM333.92 23.32h5.27v4.32h-5.27zM352.61 56.76h5.27v4.31h-5.27zM366.62 67.9h5.27v4.31h-5.27zM371.29 86.48h5.27v4.32h-5.27zM375.96 71.62h5.27v4.32h-5.27zM385.3 75.33h5.27v4.32h-5.27z"/>
<path fill="#3d4e8a" d="M282.54 79.05h5.27v4.32h-5.27zM357.28 23.32h5.27v4.32h-5.27zM357.28 38.18h5.27v4.32h-5.27z"/>
<path fill="#30698e" d="M282.54 82.76h5.27v4.31h-5.27zM315.24 86.48h5.27v4.32h-5.27zM389.97 27.04h5.27v4.32h-5.27zM389.97 34.47h5.27v4.31h-5.27zM394.65 19.61h5.27v4.31h-5.27zM394.65 41.9h5.27v4.31h-5.27zM399.32 49.33h5.27v4.31h-5.27zM403.99 53.04h5.27v4.32h-5.27zM408.66 56.76h5.27v4.31h-5.27z"/>
<path fill="#27808e" d="M282.54 86.48h5.27v4.32h-5.27zM385.3 97.62h5.27v4.31h-5.27z"/>
<path fill="#1f968b" d="M282.54 90.19h5.27v4.32h-5.27zM389.97 101.34h5.27v4.32h-5.27z"/>
<path fill="#2db27d" d="M282.54 93.91h5.27v4.32h-5.27z"/>
<path fill="#56c667" d="M282.54 97.62h5.27v4.31h-5.27zM315.24 101.34h5.27v4.32h-5.27z"/>
<path fill="#81d34d" d="M282.54 101.34h5.27v4.32h-5.27zM315.24 105.05h5.27v4.32h-5.27zM347.94 108.77h5.27v4.32h-5.27zM380.63 112.48h5.27v4.31h-5.27z"/>
<path fill="#a0da39" d="M282.54 105.05h5.27v4.32h-5.27zM319.91 108.77h5.27v4.32h-5.27zM352.61 112.48h5.27v4.31h-5.27z"/>
<path fill="#b8de29" d="M282.54 108.77h5.27v4.32h-5.27zM319.91 112.48h5.27v4.31h-5.27zM352.61 116.2h5.27v4.32h-5.27zM389.97 119.91h5.27v4.32h-5.27z"/>
<path fill="#cae11f" d="M282.54 112.48h5.27v4.31h-5.27zM319.91 116.2h5.27v4.32h-5.27zM352.61 119.91h5.27v4.32h-5.27zM385.3 123.63h5.27v4.32h-5.27zM399.32 127.34h5.27v4.32h-5.27zM399.32 131.06h5.27v4.31h-5.27zM403.99 134.77h5.27v4.32h-5.27zM413.33 138.49h4.67v4.31h-4.67z"/>
<path fill="#dae319" d="M282.54 116.2h5.27v4.32h-5.27zM287.21 116.2h5.27v4.32h-5.27zM319.91 119.91h5.27v4.32h-5.27zM343.26 123.63h5.27v4.32h-5.27zM347.94 123.63h5.27v4.32h-5.27zM347.94 127.34h5.27v4.32h-5.27zM352.61 127.34h5.27v4.32h-5.27zM352.61 131.06h5.27v4.31h-5.27zM357.28 131.06h5.27v4.31h-5.27zM357.28 134.77h5.27v4.32h-5.27zM361.95 138.49h5.27v4.31h-5.27zM366.62 138.49h5.27v4.31h-5.27zM371.29 142.2h5.27v4.32h-5.27zM375.96 142.2h5.27v4.32h-5.27zM380.63 145.92h5.27v4.32h-5.27zM385.3 145.92h5.27v4.32h-5.27zM385.3 149.63h5.27v4.32h-5.27zM389.97 149.63h5.27v4.32h-5.27zM389.97 153.35h5.27v4.32h-5.27zM394.65 153.35h5.27v4.32h-5.27zM394.65 157.06h5.27v4.32h-5.27zM399.32 157.06h5.27v4.32h-5.27zM399.32 160.78h5.27v4.32h-5.27zM403.99 160.78h5.27v4.32h-5.27zM403.99 164.49h5.27v4.31h-5.27zM408.66 164.49h5.27v4.31h-5.27z"/>
<path fill="#e7e419" d="M282.54 119.91h5.27v4.32h-5.27zM287.21 119.91h5.27v4.32h-5.27zM301.23 123.63h5.27v4.32h-5.27zM305.9 123.63h5.27v4.32h-5.27zM310.57 127.34h5.27v4.32h-5.27zM315.24 127.34h5.27v4.32h-5.27zM315.24 131.06h5.27v4.31h-5.27zM315.24 134.77h5.27v4.32h-5.27zM319.91 134.77h5.27v4.32h-5.27zM324.58 138.49h5.27v4.31h-5.27zM329.25 142.2h5.27v4.32h-5.27zM333.92 142.2h5.27v4.32h-5.27zM333.92 145.92h5.27v4.32h-5.27zM338.59 145.92h5.27v4.32h-5.27zM338.59 149.63h5.27v4.32h-5.27zM343.26 149.63h5.27v4.32h-5.27zM343.26 153.35h5.27v4.32h-5.27zM343.26 157.06h5.27v4.32h-5.27zM347.94 153.35h5.27v4.32h-5.27zM347.94 157.06h5.27v4.32h-5.27zM347.94 160.78h5.27v4.32h-5.27zM352.61 160.78h5.27v4.32h-5.27zM352.61 164.49h5.27v4.31h-5.27zM357.28 164.49h5.27v4.31h-5.27z"/>
<path fill="#ece51b" d="M282.54 123.63h5.27v4.32h-5.27zM287.21 123.63h5.27v4.32h-5.27zM291.88 127.34h5.27v4.32h-5.27zM296.55 127.34h5.27v4.32h-5.27zM296.55 131.06h5.27v4.31h-5.27zM301.23 131.06h5.27v4.31h-5.27zM301.23 134.77h5.27v4.32h-5.27zM305.9 134.77h5.27v4.32h-5.27zM305.9 138.49h5.27v4.31h-5.27zM310.57 138.49h5.27v4.31h-5.27zM310.57 142.2h5.27v4.32h-5.27zM315.24 142.2h5.27v4.32h-5.27zM315.24 145.92h5.27v4.32h-5.27zM319.91 145.92h5.27v4.32h-5.27zM319.91 149.63h5.27v4.32h-5.27zM319.91 153.35h5.27v4.32h-5.27zM324.58 149.63h5.27v4.32h-5.27zM324.58 153.35h5.27v4.32h-5.27zM324.58 157.06h5.27v4.32h-5.27zM329.25 157.06h5.27v4.32h-5.27zM329.25 160.78h5.27v4.32h-5.27zM329.25 164.49h5.27v4.31h-5.27zM333.92 160.78h5.27v4.32h-5.27zM333.92 164.49h5.27v4.31h-5.27zM338.59 164.49h5.27v4.31h-5.27z"/>
<path fill="#471063" d="M287.21 67.9h5.27v4.31h-5.27zM305.9 38.18h5.27v4.32h-5.27zM305.9 41.9h5.27v4.31h-5.27zM305.9 71.62h5.27v4.32h-5.27zM333.92 64.19h5.27v4.32h-5.27zM333.92 75.33h5.27v4.32h-5.27zM347.94 71.62h5.27v4.32h-5.27zM347.94 75.33h5.27v4.32h-5.27z"/>
<path fill="#481c6e" d="M287.21 71.62h5.27v4.32h-5.27zM301.23 75.33h5.27v4.32h-5.27zM319.91 38.18h5.27v4.32h-5.27zM343.26 60.47h5.27v4.32h-5.27zM347.94 64.19h5.27v4.32h-5.27zM352.61 67.9h5.27v4.31h-5.27zM375.96 79.05h5.27v4.32h-5.27z"/>
<path fill="#472c7a" d="M287.21 75.33h5.27v4.32h-5.27zM315.24 79.05h5.27v4.32h-5.27zM329.25 27.04h5.27v4.32h-5.27zM329.25 30.75h5.27v4.32h-5.27zM329.25 34.47h5.27v4.31h-5.27zM347.94 82.76h5.27v4.31h-5.27zM357.28 64.19h5.27v4.32h-5.27zM403.99 82.76h5.27v4.31h-5.27zM408.66 90.19h5.27v4.32h-5.27z"/>
<path fill="#3e4989" d="M287.21 79.05h5.27v4.32h-5.27zM352.61 34.47h5.27v4.31h-5.27zM357.28 19h5.27v1.21h-5.27zM375.96 90.19h5.27v4.32h-5.27zM380.63 64.19h5.27v4.32h-5.27z"/>
<path fill="#31668e" d="M287.21 82.76h5.27v4.31h-5.27zM380.63 93.91h5.27v4.32h-5.27zM385.3 34.47h5.27v4.31h-5.27zM389.97 19h5.27v1.21h-5.27zM389.97 45.61h5.27v4.32h-5.27zM403.99 56.76h5.27v4.31h-5.27zM408.66 60.47h5.27v4.32h-5.27zM413.33 97.62h4.67v4.31h-4.67z"/>
<path fill="#287d8e" d="M287.21 86.48h5.27v4.32h-5.27zM389.97 97.62h5.27v4.31h-5.27z"/>
<path fill="#20938c" d="M287.21 90.19h5.27v4.32h-5.27zM394.65 101.34h5.27v4.32h-5.27z"/>
<path fill="#28ae80" d="M287.21 93.91h5.27v4.32h-5.27z"/>
<path fill="#50c46a" d="M287.21 97.62h5.27v4.31h-5.27zM319.91 101.34h5.27v4.32h-5.27z"/>
<path fill="#7ad151" d="M287.21 101.34h5.27v4.32h-5.27zM352.61 108.77h5.27v4.32h-5.27zM385.3 112.48h5.27v4.31h-5.27z"/>
<path fill="#9dd93b" d="M287.21 105.05h5.27v4.32h-5.27zM389.97 116.2h5.27v4.32h-5.27z"/>
<path fill="#b5de2b" d="M287.21 108.77h5.27v4.32h-5.27zM357.28 116.2h5.27v4.32h-5.27zM394.65 119.91h5.27v4.32h-5.27z"/>
<path fill="#c8e020" d="M287.21 112.48h5.27v4.31h-5.27zM324.58 116.2h5.27v4.32h-5.27zM357.28 119.91h5.27v4.32h-5.27zM389.97 123.63h5.27v4.32h-5.27zM403.99 127.34h5.27v4.32h-5.27zM403.99 131.06h5.27v4.31h-5.27zM408.66 127.34h5.27v4.32h-5.27zM408.66 131.06h5.27v4.31h-5.27zM408.66 134.77h5.27v4.32h-5.27zM413.33 134.77h4.67v4.32h-4.67z"/>
<path fill="#482576" d="M291.88 75.33h5.27v4.32h-5.27zM324.58 27.04h5.27v4.32h-5.27zM324.58 30.75h5.27v4.32h-5.27zM357.28 82.76h5.27v4.31h-5.27zM375.96 75.33h5.27v4.32h-5.27zM394.65 86.48h5.27v4.32h-5.27z"/>
<path fill="#404688" d="M291.88 79.05h5.27v4.32h-5.27zM352.61 19.61h5.27v4.31h-5.27zM366.62 56.76h5.27v4.31h-5.27zM385.3 67.9h5.27v4.31h-5.27z"/>
<path fill="#33628d" d="M291.88 82.76h5.27v4.31h-5.27zM380.63 23.32h5.27v4.32h-5.27zM380.63 38.18h5.27v4.32h-5.27zM385.3 45.61h5.27v4.32h-5.27zM394.65 56.76h5.27v4.31h-5.27zM413.33 67.9h4.67v4.31h-4.67z"/>
<path fill="#297a8e" d="M291.88 86.48h5.27v4.32h-5.27zM324.58 90.19h5.27v4.32h-5.27z"/>
<path fill="#21918c" d="M291.88 90.19h5.27v4.32h-5.27z"/>
<path fill="#25ab82" d="M291.88 93.91h5.27v4.32h-5.27z"/>
<path fill="#4ac16d" d="M291.88 97.62h5.27v4.31h-5.27zM324.58 101.34h5.27v4.32h-5.27z"/>
<path fill="#75d054" d="M291.88 101.34h5.27v4.32h-5.27zM324.58 105.05h5.27v4.32h-5.27zM389.97 112.48h5.27v4.31h-5.27z"/>
<path fill="#9bd93c" d="M291.88 105.05h5.27v4.32h-5.27zM324.58 108.77h5.27v4.32h-5.27zM357.28 112.48h5.27v4.31h-5.27z"/>
<path fill="#b2dd2d" d="M291.88 108.77h5.27v4.32h-5.27zM324.58 112.48h5.27v4.31h-5.27zM361.95 116.2h5.27v4.32h-5.27zM399.32 119.91h5.27v4.32h-5.27z"/>
<path fill="#c5e021" d="M291.88 112.48h5.27v4.31h-5.27zM329.25 116.2h5.27v4.32h-5.27zM361.95 119.91h5.27v4.32h-5.27zM394.65 123.63h5.27v4.32h-5.27zM399.32 123.63h5.27v4.32h-5.27zM413.33 127.34h4.67v4.32h-4.67zM413.33 131.06h4.67v4.31h-4.67z"/>
<path fill="#d8e219" d="M291.88 116.2h5.27v4.32h-5.27zM324.58 119.91h5.27v4.32h-5.27zM352.61 123.63h5.27v4.32h-5.27zM357.28 127.34h5.27v4.32h-5.27zM361.95 127.34h5.27v4.32h-5.27zM361.95 131.06h5.27v4.31h-5.27zM361.95 134.77h5.27v4.32h-5.27zM366.62 134.77h5.27v4.32h-5.27zM371.29 138.49h5.27v4.31h-5.27zM375.96 138.49h5.27v4.31h-5.27zM380.63 142.2h5.27v4.32h-5.27zM385.3 142.2h5.27v4.32h-5.27zM389.97 145.92h5.27v4.32h-5.27zM394.65 145.92h5.27v4.32h-5.27zM394.65 149.63h5.27v4.32h-5.27zM399.32 149.63h5.27v4.32h-5.27zM399.32 153.35h5.27v4.32h-5.27zM403.99 153.35h5.27v4.32h-5.27zM403.99 157.06h5.27v4.32h-5.27zM408.66 157.06h5.27v4.32h-5.27zM408.66 160.78h5.27v4.32h-5.27zM413.33 160.78h4.67v4.32h-4.67zM413.33 164.49h4.67v4.31h-4.67z"/>
<path fill="#e5e419" d="M291.88 119.91h5.27v4.32h-5.27zM296.55 119.91h5.27v4.32h-5.27zM310.57 123.63h5.27v4.32h-5.27zM315.24 123.63h5.27v4.32h-5.27zM319.91 127.34h5.27v4.32h-5.27zM319.91 131.06h5.27v4.31h-5.27zM324.58 131.06h5.27v4.31h-5.27zM324.58 134.77h5.27v4.32h-5.27zM329.25 134.77h5.27v4.32h-5.27zM329.25 138.49h5.27v4.31h-5.27zM333.92 138.49h5.27v4.31h-5.27zM338.59 142.2h5.27v4.32h-5.27zM343.26 145.92h5.27v4.32h-5.27zM347.94 145.92h5.27v4.32h-5.27zM347.94 149.63h5.27v4.32h-5.27zM352.61 149.63h5.27v4.32h-5.27zM352.61 153.35h5.27v4.32h-5.27zM352.61 157.06h5.27v4.32h-5.27zM357.28 153.35h5.27v4.32h-5.27zM357.28 157.06h5.27v4.32h-5.27zM357.28 160.78h5.27v4.32h-5.27zM361.95 160.78h5.27v4.32h-5.27zM361.95 164.49h5.27v4.31h-5.27zM366.62 164.49h5.27v4.31h-5.27z"/>
<path fill="#460a5d" d="M296.55 27.04h5.27v4.32h-5.27zM296.55 30.75h5.27v4.32h-5.27zM301.23 45.61h5.27v4.32h-5.27zM305.9 53.04h5.27v4.32h-5.27zM310.57 56.76h5.27v4.31h-5.27zM315.24 60.47h5.27v4.32h-5.27zM319.91 60.47h5.27v4.32h-5.27zM319.91 71.62h5.27v4.32h-5.27zM324.58 71.62h5.27v4.32h-5.27zM329.25 67.9h5.27v4.31h-5.27zM329.25 71.62h5.27v4.32h-5.27zM333.92 67.9h5.27v4.31h-5.27zM333.92 71.62h5.27v4.32h-5.27zM338.59 71.62h5.27v4.32h-5.27zM343.26 71.62h5.27v4.32h-5.27z"/>
<path fill="#481467" d="M296.55 71.62h5.27v4.32h-5.27zM310.57 38.18h5.27v4.32h-5.27zM315.24 45.61h5.27v4.32h-5.27zM319.91 49.33h5.27v4.31h-5.27zM347.94 67.9h5.27v4.31h-5.27zM357.28 75.33h5.27v4.32h-5.27zM366.62 79.05h5.27v4.32h-5.27z"/>
<path fill="#481f70" d="M296.55 75.33h5.27v4.32h-5.27zM319.91 23.32h5.27v4.32h-5.27zM319.91 27.04h5.27v4.32h-5.27zM319.91 30.75h5.27v4.32h-5.27zM329.25 49.33h5.27v4.31h-5.27zM333.92 53.04h5.27v4.32h-5.27zM361.95 71.62h5.27v4.32h-5.27zM366.62 82.76h5.27v4.31h-5.27zM371.29 75.33h5.27v4.32h-5.27zM371.29 82.76h5.27v4.31h-5.27zM375.96 82.76h5.27v4.31h-5.27zM380.63 82.76h5.27v4.31h-5.27z"/>
<path fill="#424186" d="M296.55 79.05h5.27v4.32h-5.27zM347.94 38.18h5.27v4.32h-5.27zM352.61 45.61h5.27v4.32h-5.27zM380.63 67.9h5.27v4.31h-5.27zM389.97 71.62h5.27v4.32h-5.27z"/>
<path fill="#355e8d" d="M296.55 82.76h5.27v4.31h-5.27zM357.28 90.19h5.27v4.32h-5.27zM371.29 34.47h5.27v4.31h-5.27zM385.3 53.04h5.27v4.32h-5.27zM408.66 67.9h5.27v4.31h-5.27z"/>
<path fill="#2a778e" d="M296.55 86.48h5.27v4.32h-5.27zM329.25 90.19h5.27v4.32h-5.27z"/>
<path fill="#228d8d" d="M296.55 90.19h5.27v4.32h-5.27z"/>
<path fill="#22a785" d="M296.55 93.91h5.27v4.32h-5.27zM399.32 105.05h5.27v4.32h-5.27z"/>
<path fill="#44bf70" d="M296.55 97.62h5.27v4.31h-5.27z"/>
<path fill="#70cf57" d="M296.55 101.34h5.27v4.32h-5.27z"/>
<path fill="#95d840" d="M296.55 105.05h5.27v4.32h-5.27zM329.25 108.77h5.27v4.32h-5.27z"/>
<path fill="#b0dd2f" d="M296.55 108.77h5.27v4.32h-5.27zM329.25 112.48h5.27v4.31h-5.27zM366.62 116.2h5.27v4.32h-5.27z"/>
<path fill="#c2df23" d="M296.55 112.48h5.27v4.31h-5.27zM333.92 116.2h5.27v4.32h-5.27zM366.62 119.91h5.27v4.32h-5.27zM371.29 119.91h5.27v4.32h-5.27zM403.99 123.63h5.27v4.32h-5.27z"/>
<path fill="#d5e21a" d="M296.55 116.2h5.27v4.32h-5.27zM329.25 119.91h5.27v4.32h-5.27zM333.92 119.91h5.27v4.32h-5.27zM357.28 123.63h5.27v4.32h-5.27zM361.95 123.63h5.27v4.32h-5.27zM366.62 127.34h5.27v4.32h-5.27zM366.62 131.06h5.27v4.31h-5.27zM371.29 127.34h5.27v4.32h-5.27zM371.29 131.06h5.27v4.31h-5.27zM371.29 134.77h5.27v4.32h-5.27zM375.96 134.77h5.27v4.32h-5.27zM380.63 138.49h5.27v4.31h-5.27zM389.97 142.2h5.27v4.32h-5.27zM394.65 142.2h5.27v4.32h-5.27zM399.32 145.92h5.27v4.32h-5.27zM403.99 145.92h5.27v4.32h-5.27zM403.99 149.63h5.27v4.32h-5.27zM408.66 149.63h5.27v4.32h-5.27zM408.66 153.35h5.27v4.32h-5.27zM413.33 153.35h4.67v4.32h-4.67zM413.33 157.06h4.67v4.32h-4.67z"/>
<path fill="#471164" d="M301.23 71.62h5.27v4.32h-5.27zM305.9 34.47h5.27v4.31h-5.27zM310.57 45.61h5.27v4.32h-5.27zM315.24 49.33h5.27v4.31h-5.27zM319.91 53.04h5.27v4.32h-5.27zM324.58 56.76h5.27v4.31h-5.27zM329.25 60.47h5.27v4.32h-5.27zM329.25 75.33h5.27v4.32h-5.27z"/>
<path fill="#433d84" d="M301.23 79.05h5.27v4.32h-5.27zM329.25 82.76h5.27v4.31h-5.27zM343.26 23.32h5.27v4.32h-5.27zM357.28 53.04h5.27v4.32h-5.27zM385.3 71.62h5.27v4.32h-5.27z"/>
<path fill="#375a8c" d="M301.23 82.76h5.27v4.31h-5.27zM371.29 41.9h5.27v4.31h-5.27zM380.63 53.04h5.27v4.32h-5.27zM389.97 60.47h5.27v4.32h-5.27zM403.99 67.9h5.27v4.31h-5.27zM413.33 71.62h4.67v4.32h-4.67z"/>
<path fill="#2c738e" d="M301.23 86.48h5.27v4.32h-5.27zM333.92 90.19h5.27v4.32h-5.27zM399.32 97.62h5.27v4.31h-5.27zM413.33 27.04h4.67v4.32h-4.67zM413.33 34.47h4.67v4.31h-4.67z"/>
<path fill="#238a8d" d="M301.23 90.19h5.27v4.32h-5.27zM371.29 97.62h5.27v4.31h-5.27z"/>
<path fill="#20a386" d="M301.23 93.91h5.27v4.32h-5.27zM371.29 101.34h5.27v4.32h-5.27z"/>
<path fill="#3dbc74" d="M301.23 97.62h5.27v4.31h-5.27zM333.92 101.34h5.27v4.32h-5.27zM366.62 105.05h5.27v4.32h-5.27z"/>
<path fill="#69cd5b" d="M301.23 101.34h5.27v4.32h-5.27z"/>
<path fill="#90d743" d="M301.23 105.05h5.27v4.32h-5.27zM333.92 108.77h5.27v4.32h-5.27z"/>
<path fill="#addc30" d="M301.23 108.77h5.27v4.32h-5.27zM333.92 112.48h5.27v4.31h-5.27zM371.29 116.2h5.27v4.32h-5.27zM403.99 119.91h5.27v4.32h-5.27z"/>
<path fill="#c0df25" d="M301.23 112.48h5.27v4.31h-5.27zM338.59 116.2h5.27v4.32h-5.27zM375.96 119.91h5.27v4.32h-5.27zM408.66 123.63h5.27v4.32h-5.27z"/>
<path fill="#d2e21b" d="M301.23 116.2h5.27v4.32h-5.27zM338.59 119.91h5.27v4.32h-5.27zM366.62 123.63h5.27v4.32h-5.27zM375.96 127.34h5.27v4.32h-5.27zM375.96 131.06h5.27v4.31h-5.27zM380.63 134.77h5.27v4.32h-5.27zM385.3 138.49h5.27v4.31h-5.27zM389.97 138.49h5.27v4.31h-5.27zM399.32 142.2h5.27v4.32h-5.27zM403.99 142.2h5.27v4.32h-5.27zM408.66 145.92h5.27v4.32h-5.27zM413.33 145.92h4.67v4.32h-4.67zM413.33 149.63h4.67v4.32h-4.67z"/>
<path fill="#e2e418" d="M301.23 119.91h5.27v4.32h-5.27zM319.91 123.63h5.27v4.32h-5.27zM324.58 123.63h5.27v4.32h-5.27zM324.58 127.34h5.27v4.32h-5.27zM329.25 127.34h5.27v4.32h-5.27zM329.25 131.06h5.27v4.31h-5.27zM333.92 131.06h5.27v4.31h-5.27zM333.92 134.77h5.27v4.32h-5.27zM338.59 138.49h5.27v4.31h-5.27zM343.26 138.49h5.27v4.31h-5.27zM343.26 142.2h5.27v4.32h-5.27zM347.94 142.2h5.27v4.32h-5.27zM352.61 145.92h5.27v4.32h-5.27zM357.28 145.92h5.27v4.32h-5.27zM357.28 149.63h5.27v4.32h-5.27zM361.95 149.63h5.27v4.32h-5.27zM361.95 153.35h5.27v4.32h-5.27zM361.95 157.06h5.27v4.32h-5.27zM366.62 153.35h5.27v4.32h-5.27zM366.62 157.06h5.27v4.32h-5.27zM366.62 160.78h5.27v4.32h-5.27zM371.29 157.06h5.27v4.32h-5.27zM371.29 160.78h5.27v4.32h-5.27zM371.29 164.49h5.27v4.31h-5.27zM375.96 164.49h5.27v4.31h-5.27z"/>
<path fill="#481b6d" d="M305.9 75.33h5.27v4.32h-5.27zM315.24 19h5.27v1.21h-5.27zM315.24 19.61h5.27v4.31h-5.27zM315.24 23.32h5.27v4.32h-5.27zM315.24 27.04h5.27v4.32h-5.27zM315.24 30.75h5.27v4.32h-5.27zM338.59 79.05h5.27v4.32h-5.27z"/>
<path fill="#39558c" d="M305.9 82.76h5.27v4.31h-5.27zM361.95 34.47h5.27v4.31h-5.27zM366.62 19.61h5.27v4.31h-5.27zM366.62 41.9h5.27v4.31h-5.27zM380.63 56.76h5.27v4.31h-5.27zM385.3 60.47h5.27v4.32h-5.27zM408.66 71.62h5.27v4.32h-5.27z"/>
<path fill="#2d708e" d="M305.9 86.48h5.27v4.32h-5.27zM338.59 90.19h5.27v4.32h-5.27zM371.29 93.91h5.27v4.32h-5.27zM403.99 27.04h5.27v4.32h-5.27zM403.99 30.75h5.27v4.32h-5.27zM403.99 34.47h5.27v4.31h-5.27zM408.66 23.32h5.27v4.32h-5.27zM413.33 19h4.67v1.21h-4.67zM413.33 45.61h4.67v4.32h-4.67z"/>
<path fill="#24878e" d="M305.9 90.19h5.27v4.32h-5.27zM375.96 97.62h5.27v4.31h-5.27z"/>
<path fill="#1fa088" d="M305.9 93.91h5.27v4.32h-5.27zM375.96 101.34h5.27v4.32h-5.27z"/>
<path fill="#63cb5f" d="M305.9 101.34h5.27v4.32h-5.27z"/>
<path fill="#481769" d="M310.57 19h5.27v1.21h-5.27zM310.57 19.61h5.27v4.31h-5.27zM310.57 23.32h5.27v4.32h-5.27zM310.57 27.04h5.27v4.32h-5.27zM310.57 30.75h5.27v4.32h-5.27zM315.24 41.9h5.27v4.31h-5.27zM319.91 45.61h5.27v4.32h-5.27zM347.94 79.05h5.27v4.32h-5.27zM352.61 79.05h5.27v4.32h-5.27zM361.95 75.33h5.27v4.32h-5.27z"/>
<path fill="#46327e" d="M310.57 79.05h5.27v4.32h-5.27zM333.92 34.47h5.27v4.31h-5.27zM357.28 60.47h5.27v4.32h-5.27zM361.95 64.19h5.27v4.32h-5.27zM399.32 90.19h5.27v4.32h-5.27z"/>
<path fill="#3c508b" d="M310.57 82.76h5.27v4.31h-5.27zM361.95 19.61h5.27v4.31h-5.27zM361.95 41.9h5.27v4.31h-5.27zM371.29 53.04h5.27v4.32h-5.27zM375.96 56.76h5.27v4.31h-5.27zM380.63 60.47h5.27v4.32h-5.27zM394.65 67.9h5.27v4.31h-5.27zM399.32 93.91h5.27v4.32h-5.27z"/>
<path fill="#2f6c8e" d="M310.57 86.48h5.27v4.32h-5.27zM343.26 90.19h5.27v4.32h-5.27zM394.65 30.75h5.27v4.32h-5.27zM399.32 23.32h5.27v4.32h-5.27zM399.32 38.18h5.27v4.32h-5.27zM403.99 19h5.27v1.21h-5.27zM403.99 45.61h5.27v4.32h-5.27z"/>
<path fill="#25848e" d="M310.57 90.19h5.27v4.32h-5.27z"/>
<path fill="#481a6c" d="M315.24 34.47h5.27v4.31h-5.27zM319.91 41.9h5.27v4.31h-5.27zM324.58 49.33h5.27v4.31h-5.27zM329.25 53.04h5.27v4.32h-5.27zM333.92 56.76h5.27v4.31h-5.27zM357.28 71.62h5.27v4.32h-5.27z"/>
<path fill="#3e4c8a" d="M315.24 82.76h5.27v4.31h-5.27zM352.61 30.75h5.27v4.32h-5.27zM357.28 19.61h5.27v4.31h-5.27zM389.97 67.9h5.27v4.31h-5.27zM399.32 71.62h5.27v4.32h-5.27z"/>
<path fill="#26818e" d="M315.24 90.19h5.27v4.32h-5.27z"/>
<path fill="#1f998a" d="M315.24 93.91h5.27v4.32h-5.27z"/>
<path fill="#2eb37c" d="M315.24 97.62h5.27v4.31h-5.27zM347.94 101.34h5.27v4.32h-5.27zM380.63 105.05h5.27v4.32h-5.27zM413.33 108.77h4.67v4.32h-4.67z"/>
<path fill="#a2da37" d="M315.24 108.77h5.27v4.32h-5.27zM385.3 116.2h5.27v4.32h-5.27z"/>
<path fill="#481d6f" d="M319.91 19h5.27v1.21h-5.27zM319.91 19.61h5.27v4.31h-5.27zM319.91 34.47h5.27v4.31h-5.27zM324.58 45.61h5.27v4.32h-5.27zM333.92 79.05h5.27v4.32h-5.27zM338.59 56.76h5.27v4.31h-5.27zM385.3 82.76h5.27v4.31h-5.27zM389.97 82.76h5.27v4.31h-5.27z"/>
<path fill="#3f4788" d="M319.91 82.76h5.27v4.31h-5.27zM357.28 45.61h5.27v4.32h-5.27zM394.65 71.62h5.27v4.32h-5.27z"/>
<path fill="#32658e" d="M319.91 86.48h5.27v4.32h-5.27zM385.3 23.32h5.27v4.32h-5.27zM385.3 38.18h5.27v4.32h-5.27zM389.97 49.33h5.27v4.31h-5.27zM394.65 53.04h5.27v4.32h-5.27z"/>
<path fill="#277e8e" d="M319.91 90.19h5.27v4.32h-5.27z"/>
<path fill="#1f958b" d="M319.91 93.91h5.27v4.32h-5.27z"/>
<path fill="#29af7f" d="M319.91 97.62h5.27v4.31h-5.27zM352.61 101.34h5.27v4.32h-5.27z"/>
<path fill="#7cd250" d="M319.91 105.05h5.27v4.32h-5.27z"/>
<path fill="#482374" d="M324.58 38.18h5.27v4.32h-5.27zM338.59 53.04h5.27v4.32h-5.27zM357.28 67.9h5.27v4.31h-5.27zM361.95 82.76h5.27v4.31h-5.27zM394.65 82.76h5.27v4.31h-5.27z"/>
<path fill="#414287" d="M324.58 82.76h5.27v4.31h-5.27zM347.94 23.32h5.27v4.32h-5.27zM357.28 49.33h5.27v4.31h-5.27zM413.33 79.05h4.67v4.32h-4.67z"/>
<path fill="#34608d" d="M324.58 86.48h5.27v4.32h-5.27zM375.96 34.47h5.27v4.31h-5.27zM380.63 19.61h5.27v4.31h-5.27zM380.63 41.9h5.27v4.31h-5.27zM385.3 49.33h5.27v4.31h-5.27zM399.32 60.47h5.27v4.32h-5.27z"/>
<path fill="#20928c" d="M324.58 93.91h5.27v4.32h-5.27zM361.95 97.62h5.27v4.31h-5.27z"/>
<path fill="#25ac82" d="M324.58 97.62h5.27v4.31h-5.27z"/>
<path fill="#472a7a" d="M329.25 19h5.27v1.21h-5.27zM329.25 19.61h5.27v4.31h-5.27zM329.25 23.32h5.27v4.32h-5.27zM352.61 60.47h5.27v4.32h-5.27zM361.95 67.9h5.27v4.31h-5.27zM371.29 71.62h5.27v4.32h-5.27zM380.63 75.33h5.27v4.32h-5.27zM380.63 86.48h5.27v4.32h-5.27z"/>
<path fill="#482979" d="M329.25 38.18h5.27v4.32h-5.27zM333.92 45.61h5.27v4.32h-5.27zM338.59 49.33h5.27v4.31h-5.27zM347.94 56.76h5.27v4.31h-5.27zM413.33 86.48h4.67v4.32h-4.67z"/>
<path fill="#482173" d="M329.25 79.05h5.27v4.32h-5.27zM343.26 56.76h5.27v4.31h-5.27z"/>
<path fill="#365c8d" d="M329.25 86.48h5.27v4.32h-5.27zM366.62 27.04h5.27v4.32h-5.27zM366.62 30.75h5.27v4.32h-5.27zM371.29 23.32h5.27v4.32h-5.27zM371.29 38.18h5.27v4.32h-5.27zM375.96 19h5.27v1.21h-5.27zM380.63 49.33h5.27v4.31h-5.27zM389.97 93.91h5.27v4.32h-5.27zM399.32 64.19h5.27v4.32h-5.27z"/>
<path fill="#218f8d" d="M329.25 93.91h5.27v4.32h-5.27z"/>
<path fill="#22a884" d="M329.25 97.62h5.27v4.31h-5.27z"/>
<path fill="#42be71" d="M329.25 101.34h5.27v4.32h-5.27zM361.95 105.05h5.27v4.32h-5.27zM394.65 108.77h5.27v4.32h-5.27z"/>
<path fill="#6ece58" d="M329.25 105.05h5.27v4.32h-5.27zM361.95 108.77h5.27v4.32h-5.27zM394.65 112.48h5.27v4.31h-5.27z"/>
<path fill="#472f7d" d="M333.92 19h5.27v1.21h-5.27zM333.92 19.61h5.27v4.31h-5.27zM333.92 38.18h5.27v4.32h-5.27zM338.59 45.61h5.27v4.32h-5.27zM403.99 90.19h5.27v4.32h-5.27zM408.66 82.76h5.27v4.31h-5.27z"/>
<path fill="#46337f" d="M333.92 27.04h5.27v4.32h-5.27zM333.92 30.75h5.27v4.32h-5.27zM338.59 41.9h5.27v4.31h-5.27zM338.59 82.76h5.27v4.31h-5.27zM399.32 79.05h5.27v4.32h-5.27z"/>
<path fill="#472d7b" d="M333.92 41.9h5.27v4.31h-5.27zM343.26 49.33h5.27v4.31h-5.27zM394.65 79.05h5.27v4.32h-5.27z"/>
<path fill="#453882" d="M333.92 82.76h5.27v4.31h-5.27zM338.59 34.47h5.27v4.31h-5.27zM357.28 56.76h5.27v4.31h-5.27zM403.99 79.05h5.27v4.32h-5.27z"/>
<path fill="#228c8d" d="M333.92 93.91h5.27v4.32h-5.27zM403.99 101.34h5.27v4.32h-5.27z"/>
<path fill="#21a585" d="M333.92 97.62h5.27v4.31h-5.27z"/>
<path fill="#67cc5c" d="M333.92 105.05h5.27v4.32h-5.27zM366.62 108.77h5.27v4.32h-5.27z"/>
<path fill="#453581" d="M338.59 19h5.27v1.21h-5.27zM338.59 19.61h5.27v4.31h-5.27zM338.59 38.18h5.27v4.32h-5.27zM352.61 53.04h5.27v4.32h-5.27zM389.97 75.33h5.27v4.32h-5.27zM394.65 90.19h5.27v4.32h-5.27z"/>
<path fill="#443983" d="M338.59 27.04h5.27v4.32h-5.27zM338.59 30.75h5.27v4.32h-5.27zM343.26 41.9h5.27v4.31h-5.27zM361.95 60.47h5.27v4.32h-5.27zM361.95 86.48h5.27v4.32h-5.27zM366.62 64.19h5.27v4.32h-5.27zM389.97 90.19h5.27v4.32h-5.27z"/>
<path fill="#3b518b" d="M338.59 86.48h5.27v4.32h-5.27zM357.28 27.04h5.27v4.32h-5.27zM357.28 30.75h5.27v4.32h-5.27zM403.99 71.62h5.27v4.32h-5.27z"/>
<path fill="#23898e" d="M338.59 93.91h5.27v4.32h-5.27zM408.66 101.34h5.27v4.32h-5.27z"/>
<path fill="#1fa187" d="M338.59 97.62h5.27v4.31h-5.27zM408.66 105.05h5.27v4.32h-5.27z"/>
<path fill="#60ca60" d="M338.59 105.05h5.27v4.32h-5.27zM371.29 108.77h5.27v4.32h-5.27z"/>
<path fill="#aadc32" d="M338.59 112.48h5.27v4.31h-5.27zM408.66 119.91h5.27v4.32h-5.27z"/>
<path fill="#443a83" d="M343.26 19h5.27v1.21h-5.27zM347.94 45.61h5.27v4.32h-5.27z"/>
<path fill="#423f85" d="M343.26 27.04h5.27v4.32h-5.27zM343.26 30.75h5.27v4.32h-5.27zM347.94 41.9h5.27v4.31h-5.27zM361.95 56.76h5.27v4.31h-5.27zM371.29 64.19h5.27v4.32h-5.27zM385.3 90.19h5.27v4.32h-5.27z"/>
<path fill="#433e85" d="M343.26 34.47h5.27v4.31h-5.27zM357.28 86.48h5.27v4.32h-5.27zM408.66 79.05h5.27v4.32h-5.27zM413.33 93.91h4.67v4.32h-4.67z"/>
<path fill="#463480" d="M343.26 45.61h5.27v4.32h-5.27zM347.94 49.33h5.27v4.31h-5.27zM366.62 86.48h5.27v4.32h-5.27zM413.33 82.76h4.67v4.31h-4.67z"/>
<path fill="#472e7c" d="M343.26 82.76h5.27v4.31h-5.27zM347.94 53.04h5.27v4.32h-5.27zM375.96 86.48h5.27v4.32h-5.27z"/>
<path fill="#3d4d8a" d="M343.26 86.48h5.27v4.32h-5.27zM361.95 45.61h5.27v4.32h-5.27z"/>
<path fill="#1f9e89" d="M343.26 97.62h5.27v4.31h-5.27z"/>
<path fill="#89d548" d="M343.26 108.77h5.27v4.32h-5.27zM408.66 116.2h5.27v4.32h-5.27z"/>
<path fill="#424086" d="M347.94 19h5.27v1.21h-5.27zM347.94 19.61h5.27v4.31h-5.27zM366.62 60.47h5.27v4.32h-5.27zM399.32 75.33h5.27v4.32h-5.27z"/>
<path fill="#404588" d="M347.94 27.04h5.27v4.32h-5.27zM347.94 30.75h5.27v4.32h-5.27zM352.61 19h5.27v1.21h-5.27zM352.61 41.9h5.27v4.31h-5.27zM371.29 60.47h5.27v4.32h-5.27zM403.99 75.33h5.27v4.32h-5.27zM408.66 93.91h5.27v4.32h-5.27z"/>
<path fill="#414487" d="M347.94 34.47h5.27v4.31h-5.27zM352.61 86.48h5.27v4.32h-5.27zM361.95 53.04h5.27v4.32h-5.27zM375.96 64.19h5.27v4.32h-5.27zM380.63 90.19h5.27v4.32h-5.27z"/>
<path fill="#3f4889" d="M347.94 86.48h5.27v4.32h-5.27zM352.61 23.32h5.27v4.32h-5.27zM352.61 38.18h5.27v4.32h-5.27zM361.95 49.33h5.27v4.31h-5.27z"/>
<path fill="#31688e" d="M347.94 90.19h5.27v4.32h-5.27zM389.97 23.32h5.27v4.32h-5.27zM389.97 38.18h5.27v4.32h-5.27zM394.65 19h5.27v1.21h-5.27zM394.65 45.61h5.27v4.32h-5.27z"/>
<path fill="#1e9b8a" d="M347.94 97.62h5.27v4.31h-5.27z"/>
<path fill="#54c568" d="M347.94 105.05h5.27v4.32h-5.27zM380.63 108.77h5.27v4.32h-5.27z"/>
<path fill="#3e4a89" d="M352.61 27.04h5.27v4.32h-5.27zM357.28 41.9h5.27v4.31h-5.27zM366.62 53.04h5.27v4.32h-5.27zM371.29 56.76h5.27v4.31h-5.27zM375.96 60.47h5.27v4.32h-5.27zM403.99 93.91h5.27v4.32h-5.27zM408.66 75.33h5.27v4.32h-5.27z"/>
<path fill="#482878" d="M352.61 82.76h5.27v4.31h-5.27zM385.3 86.48h5.27v4.32h-5.27zM403.99 86.48h5.27v4.32h-5.27zM408.66 86.48h5.27v4.32h-5.27z"/>
<path fill="#33638d" d="M352.61 90.19h5.27v4.32h-5.27zM380.63 34.47h5.27v4.31h-5.27zM385.3 19h5.27v1.21h-5.27zM385.3 19.61h5.27v4.31h-5.27zM389.97 53.04h5.27v4.32h-5.27zM403.99 60.47h5.27v4.32h-5.27zM408.66 64.19h5.27v4.32h-5.27z"/>
<path fill="#277f8e" d="M352.61 93.91h5.27v4.32h-5.27z"/>
<path fill="#1f978b" d="M352.61 97.62h5.27v4.31h-5.27z"/>
<path fill="#4ec36b" d="M352.61 105.05h5.27v4.32h-5.27zM385.3 108.77h5.27v4.32h-5.27z"/>
<path fill="#3c4f8a" d="M357.28 34.47h5.27v4.31h-5.27zM361.95 19h5.27v1.21h-5.27zM366.62 49.33h5.27v4.31h-5.27zM371.29 90.19h5.27v4.32h-5.27zM385.3 64.19h5.27v4.32h-5.27zM413.33 75.33h4.67v4.32h-4.67z"/>
<path fill="#297b8e" d="M357.28 93.91h5.27v4.32h-5.27z"/>
<path fill="#1f948c" d="M357.28 97.62h5.27v4.31h-5.27z"/>
<path fill="#26ad81" d="M357.28 101.34h5.27v4.32h-5.27zM389.97 105.05h5.27v4.32h-5.27z"/>
<path fill="#48c16e" d="M357.28 105.05h5.27v4.32h-5.27zM389.97 108.77h5.27v4.32h-5.27z"/>
<path fill="#73d056" d="M357.28 108.77h5.27v4.32h-5.27z"/>
<path fill="#3a538b" d="M361.95 23.32h5.27v4.32h-5.27zM361.95 38.18h5.27v4.32h-5.27zM366.62 19h5.27v1.21h-5.27zM366.62 45.61h5.27v4.32h-5.27zM366.62 90.19h5.27v4.32h-5.27zM371.29 49.33h5.27v4.31h-5.27zM389.97 64.19h5.27v4.32h-5.27z"/>
<path fill="#38598c" d="M361.95 90.19h5.27v4.32h-5.27zM366.62 23.32h5.27v4.32h-5.27zM366.62 38.18h5.27v4.32h-5.27zM371.29 19.61h5.27v4.31h-5.27z"/>
<path fill="#2a788e" d="M361.95 93.91h5.27v4.32h-5.27zM394.65 97.62h5.27v4.31h-5.27z"/>
<path fill="#23a983" d="M361.95 101.34h5.27v4.32h-5.27z"/>
<path fill="#98d83e" d="M361.95 112.48h5.27v4.31h-5.27zM394.65 116.2h5.27v4.32h-5.27z"/>
<path fill="#375b8d" d="M366.62 34.47h5.27v4.31h-5.27zM375.96 45.61h5.27v4.32h-5.27zM385.3 56.76h5.27v4.31h-5.27z"/>
<path fill="#2b748e" d="M366.62 93.91h5.27v4.32h-5.27zM413.33 30.75h4.67v4.32h-4.67z"/>
<path fill="#218e8d" d="M366.62 97.62h5.27v4.31h-5.27z"/>
<path fill="#21a685" d="M366.62 101.34h5.27v4.32h-5.27z"/>
<path fill="#93d741" d="M366.62 112.48h5.27v4.31h-5.27zM399.32 116.2h5.27v4.32h-5.27z"/>
<path fill="#38588c" d="M371.29 19h5.27v1.21h-5.27zM375.96 49.33h5.27v4.31h-5.27zM394.65 64.19h5.27v4.32h-5.27z"/>
<path fill="#355f8d" d="M371.29 27.04h5.27v4.32h-5.27zM371.29 30.75h5.27v4.32h-5.27zM375.96 23.32h5.27v4.32h-5.27zM375.96 38.18h5.27v4.32h-5.27zM380.63 19h5.27v1.21h-5.27zM380.63 45.61h5.27v4.32h-5.27zM389.97 56.76h5.27v4.31h-5.27zM403.99 64.19h5.27v4.32h-5.27z"/>
<path fill="#37b878" d="M371.29 105.05h5.27v4.32h-5.27zM403.99 108.77h5.27v4.32h-5.27z"/>
<path fill="#8ed645" d="M371.29 112.48h5.27v4.31h-5.27zM403.99 116.2h5.27v4.32h-5.27z"/>
<path fill="#365d8d" d="M375.96 19.61h5.27v4.31h-5.27zM375.96 41.9h5.27v4.31h-5.27zM394.65 60.47h5.27v4.32h-5.27z"/>
<path fill="#34618d" d="M375.96 27.04h5.27v4.32h-5.27zM375.96 30.75h5.27v4.32h-5.27zM385.3 93.91h5.27v4.32h-5.27z"/>
<path fill="#3a548c" d="M375.96 53.04h5.27v4.32h-5.27zM399.32 67.9h5.27v4.31h-5.27z"/>
<path fill="#2f6b8e" d="M375.96 93.91h5.27v4.32h-5.27zM394.65 27.04h5.27v4.32h-5.27zM394.65 34.47h5.27v4.31h-5.27zM399.32 19.61h5.27v4.31h-5.27zM399.32 41.9h5.27v4.31h-5.27zM403.99 49.33h5.27v4.31h-5.27zM408.66 53.04h5.27v4.32h-5.27zM408.66 97.62h5.27v4.31h-5.27zM413.33 56.76h4.67v4.31h-4.67z"/>
<path fill="#5ac864" d="M375.96 108.77h5.27v4.32h-5.27z"/>
<path fill="#32648e" d="M380.63 27.04h5.27v4.32h-5.27zM380.63 30.75h5.27v4.32h-5.27zM385.3 41.9h5.27v4.31h-5.27zM399.32 56.76h5.27v4.31h-5.27z"/>
<path fill="#25838e" d="M380.63 97.62h5.27v4.31h-5.27z"/>
<path fill="#31678e" d="M385.3 27.04h5.27v4.32h-5.27zM385.3 30.75h5.27v4.32h-5.27zM389.97 19.61h5.27v4.31h-5.27zM389.97 41.9h5.27v4.31h-5.27zM394.65 49.33h5.27v4.31h-5.27zM399.32 53.04h5.27v4.32h-5.27zM413.33 64.19h4.67v4.32h-4.67z"/>
<path fill="#2ab07f" d="M385.3 105.05h5.27v4.32h-5.27z"/>
<path fill="#306a8e" d="M389.97 30.75h5.27v4.32h-5.27zM394.65 23.32h5.27v4.32h-5.27zM394.65 38.18h5.27v4.32h-5.27zM399.32 19h5.27v1.21h-5.27zM399.32 45.61h5.27v4.32h-5.27zM413.33 60.47h4.67v4.32h-4.67z"/>
<path fill="#24aa83" d="M394.65 105.05h5.27v4.32h-5.27z"/>
<path fill="#2e6e8e" d="M399.32 27.04h5.27v4.32h-5.27zM399.32 30.75h5.27v4.32h-5.27zM399.32 34.47h5.27v4.31h-5.27zM403.99 23.32h5.27v4.32h-5.27zM408.66 19h5.27v1.21h-5.27zM408.66 45.61h5.27v4.32h-5.27z"/>
<path fill="#21908d" d="M399.32 101.34h5.27v4.32h-5.27z"/>
<path fill="#3bbb75" d="M399.32 108.77h5.27v4.32h-5.27z"/>
<path fill="#2e6f8e" d="M403.99 38.18h5.27v4.32h-5.27zM403.99 97.62h5.27v4.31h-5.27zM408.66 19.61h5.27v4.31h-5.27zM408.66 41.9h5.27v4.31h-5.27zM413.33 49.33h4.67v4.31h-4.67z"/>
<path fill="#20a486" d="M403.99 105.05h5.27v4.32h-5.27z"/>
<path fill="#5ec962" d="M403.99 112.48h5.27v4.31h-5.27z"/>
<path fill="#2c718e" d="M408.66 27.04h5.27v4.32h-5.27zM408.66 34.47h5.27v4.31h-5.27zM413.33 23.32h4.67v4.32h-4.67z"/>
<path fill="#2c728e" d="M408.66 30.75h5.27v4.32h-5.27zM413.33 38.18h4.67v4.32h-4.67z"/>
<path fill="#58c765" d="M408.66 112.48h5.27v4.31h-5.27z"/>
<path fill="#1f9f88" d="M413.33 105.05h4.67v4.32h-4.67z"/>
<path fill="#52c569" d="M413.33 112.48h4.67v4.31h-4.67z"/>
<path fill="#84d44b" d="M413.33 116.2h4.67v4.32h-4.67z"/>
</g>
<line x1="278.5" y1="19" x2="278.5" y2="168.5" stroke="#fff" stroke-width="0.5" opacity="0.12"/>
<line x1="287.83" y1="19" x2="287.83" y2="168.5" stroke="#fff" stroke-width="0.5" opacity="0.12"/>
<line x1="297.16" y1="19" x2="297.16" y2="168.5" stroke="#fff" stroke-width="0.5" opacity="0.12"/>
<line x1="306.49" y1="19" x2="306.49" y2="168.5" stroke="#fff" stroke-width="0.5" opacity="0.12"/>
<line x1="315.82" y1="19" x2="315.82" y2="168.5" stroke="#fff" stroke-width="0.5" opacity="0.12"/>
<line x1="325.15" y1="19" x2="325.15" y2="168.5" stroke="#fff" stroke-width="0.5" opacity="0.12"/>
<line x1="334.48" y1="19" x2="334.48" y2="168.5" stroke="#fff" stroke-width="0.5" opacity="0.12"/>
<line x1="343.81" y1="19" x2="343.81" y2="168.5" stroke="#fff" stroke-width="0.5" opacity="0.12"/>
<line x1="353.14" y1="19" x2="353.14" y2="168.5" stroke="#fff" stroke-width="0.5" opacity="0.12"/>
<line x1="362.47" y1="19" x2="362.47" y2="168.5" stroke="#fff" stroke-width="0.5" opacity="0.12"/>
<line x1="371.8" y1="19" x2="371.8" y2="168.5" stroke="#fff" stroke-width="0.5" opacity="0.12"/>
<line x1="381.13" y1="19" x2="381.13" y2="168.5" stroke="#fff" stroke-width="0.5" opacity="0.12"/>
<line x1="390.46" y1="19" x2="390.46" y2="168.5" stroke="#fff" stroke-width="0.5" opacity="0.12"/>
<line x1="399.79" y1="19" x2="399.79" y2="168.5" stroke="#fff" stroke-width="0.5" opacity="0.12"/>
<line x1="409.12" y1="19" x2="409.12" y2="168.5" stroke="#fff" stroke-width="0.5" opacity="0.12"/>
<line x1="273.2" y1="27.04" x2="418" y2="27.04" stroke="#fff" stroke-width="0.5" opacity="0.12"/>
<line x1="273.2" y1="30.75" x2="418" y2="30.75" stroke="#fff" stroke-width="0.5" opacity="0.12"/>
<line x1="273.2" y1="41.9" x2="418" y2="41.9" stroke="#fff" stroke-width="0.5" opacity="0.12"/>
<line x1="273.2" y1="45.61" x2="418" y2="45.61" stroke="#fff" stroke-width="0.5" opacity="0.12"/>
<line x1="273.2" y1="56.76" x2="418" y2="56.76" stroke="#fff" stroke-width="0.5" opacity="0.12"/>
<line x1="273.2" y1="60.47" x2="418" y2="60.47" stroke="#fff" stroke-width="0.5" opacity="0.12"/>
<line x1="273.2" y1="71.62" x2="418" y2="71.62" stroke="#fff" stroke-width="0.5" opacity="0.12"/>
<line x1="273.2" y1="75.33" x2="418" y2="75.33" stroke="#fff" stroke-width="0.5" opacity="0.12"/>
<line x1="273.2" y1="86.48" x2="418" y2="86.48" stroke="#fff" stroke-width="0.5" opacity="0.12"/>
<line x1="273.2" y1="90.19" x2="418" y2="90.19" stroke="#fff" stroke-width="0.5" opacity="0.12"/>
<line x1="273.2" y1="101.34" x2="418" y2="101.34" stroke="#fff" stroke-width="0.5" opacity="0.12"/>
<line x1="273.2" y1="105.05" x2="418" y2="105.05" stroke="#fff" stroke-width="0.5" opacity="0.12"/>
<line x1="273.2" y1="116.2" x2="418" y2="116.2" stroke="#fff" stroke-width="0.5" opacity="0.12"/>
<line x1="273.2" y1="119.91" x2="418" y2="119.91" stroke="#fff" stroke-width="0.5" opacity="0.12"/>
<line x1="273.2" y1="131.06" x2="418" y2="131.06" stroke="#fff" stroke-width="0.5" opacity="0.12"/>
<line x1="273.2" y1="134.77" x2="418" y2="134.77" stroke="#fff" stroke-width="0.5" opacity="0.12"/>
<line x1="273.2" y1="145.92" x2="418" y2="145.92" stroke="#fff" stroke-width="0.5" opacity="0.12"/>
<line x1="273.2" y1="149.63" x2="418" y2="149.63" stroke="#fff" stroke-width="0.5" opacity="0.12"/>
<line x1="273.2" y1="160.78" x2="418" y2="160.78" stroke="#fff" stroke-width="0.5" opacity="0.12"/>
<line x1="273.2" y1="164.49" x2="418" y2="164.49" stroke="#fff" stroke-width="0.5" opacity="0.12"/>
<line x1="273.3" y1="49" x2="417.8" y2="82" stroke="#e41c40" stroke-width="1.15" stroke-dasharray="3 2.6"/>
<line x1="273.3" y1="73.5" x2="417.8" y2="97.3" stroke="#e41c40" stroke-width="1.15" stroke-dasharray="3 2.6"/>
<line x1="272.9" y1="19" x2="272.9" y2="168.5" stroke="#999" stroke-width="0.6"/>
<line x1="273.2" y1="19.2" x2="418" y2="19.2" stroke="#222" stroke-width="0.9" opacity="0.85"/>
<line x1="273.3" y1="16" x2="273.3" y2="22.3" stroke="#141414" stroke-width="1.5"/>
<line x1="297.4" y1="16" x2="297.4" y2="22.3" stroke="#2e2a70" stroke-width="1.5"/>
<line x1="321.5" y1="16" x2="321.5" y2="22.3" stroke="#5c2a98" stroke-width="1.5"/>
<line x1="345.6" y1="16" x2="345.6" y2="22.3" stroke="#8e3aa6" stroke-width="1.5"/>
<line x1="369.7" y1="16" x2="369.7" y2="22.3" stroke="#e0506e" stroke-width="1.5"/>
<line x1="393.8" y1="16" x2="393.8" y2="22.3" stroke="#f5845c" stroke-width="1.5"/>
<line x1="417.9" y1="16" x2="417.9" y2="22.3" stroke="#fcc589" stroke-width="1.5"/>
<line x1="270.6" y1="36.32" x2="273.2" y2="36.32" stroke="#bbb" stroke-width="0.8"/>
<line x1="267.8" y1="54.9" x2="273.2" y2="54.9" stroke="#888" stroke-width="0.8"/>
<line x1="270.6" y1="73.47" x2="273.2" y2="73.47" stroke="#bbb" stroke-width="0.8"/>
<line x1="267.8" y1="92.05" x2="273.2" y2="92.05" stroke="#888" stroke-width="0.8"/>
<line x1="270.6" y1="110.62" x2="273.2" y2="110.62" stroke="#bbb" stroke-width="0.8"/>
<line x1="267.8" y1="129.2" x2="273.2" y2="129.2" stroke="#888" stroke-width="0.8"/>
<line x1="270.6" y1="147.78" x2="273.2" y2="147.78" stroke="#bbb" stroke-width="0.8"/>
<line x1="267.8" y1="166.35" x2="273.2" y2="166.35" stroke="#888" stroke-width="0.8"/>
<text x="262.9" y="22.5" font-size="9.9" text-anchor="end">200</text>
<text x="262.9" y="58.4" font-size="9.9" text-anchor="end">100</text>
<text x="262.9" y="95.55" font-size="9.9" text-anchor="end">0</text>
<text x="262.9" y="132.7" font-size="9.9" text-anchor="end">-100</text>
<text x="262.9" y="169.85" font-size="9.9" text-anchor="end">-200</text>
<line x1="275.8" y1="169" x2="275.8" y2="173.9" stroke="#666" stroke-width="0.8"/>
<text x="275.8" y="185.9" font-size="9.9" text-anchor="middle">-15</text>
<line x1="298.97" y1="169" x2="298.97" y2="173.9" stroke="#666" stroke-width="0.8"/>
<text x="298.97" y="185.9" font-size="9.9" text-anchor="middle">-10</text>
<line x1="322.14" y1="169" x2="322.14" y2="173.9" stroke="#666" stroke-width="0.8"/>
<text x="322.14" y="185.9" font-size="9.9" text-anchor="middle">-5</text>
<line x1="345.31" y1="169" x2="345.31" y2="173.9" stroke="#666" stroke-width="0.8"/>
<text x="345.31" y="185.9" font-size="9.9" text-anchor="middle">0</text>
<line x1="368.48" y1="169" x2="368.48" y2="173.9" stroke="#666" stroke-width="0.8"/>
<text x="368.48" y="185.9" font-size="9.9" text-anchor="middle">5</text>
<line x1="391.65" y1="169" x2="391.65" y2="173.9" stroke="#666" stroke-width="0.8"/>
<text x="391.65" y="185.9" font-size="9.9" text-anchor="middle">10</text>
<line x1="414.82" y1="169" x2="414.82" y2="173.9" stroke="#666" stroke-width="0.8"/>
<text x="414.82" y="185.9" font-size="9.9" text-anchor="middle">15</text>
<text x="334.9" y="201.9" font-size="11.2" font-style="italic">V<tspan font-size="7" dy="3.2" font-style="normal">tg</tspan><tspan dy="-3.2" font-style="normal">(V)</tspan></text>
<text transform="translate(243.8,91.0) rotate(-90)" font-size="11.2" text-anchor="middle" font-style="italic">V<tspan font-size="7" dy="3.0" font-style="normal">bg</tspan><tspan dy="-3.0" dx="1.2" font-style="normal">(V)</tspan></text>
<rect x="426.7" y="19.3" width="8" height="149.3" fill="url(#cb226)" stroke="#333" stroke-width="0.6"/>
<line x1="434.7" y1="33.9" x2="438.7" y2="33.9" stroke="#777" stroke-width="0.8"/>
<text x="443.9" y="37.4" font-size="9.9" text-anchor="start">0.4</text>
<line x1="434.7" y1="66" x2="438.7" y2="66" stroke="#777" stroke-width="0.8"/>
<text x="443.9" y="69.5" font-size="9.9" text-anchor="start">0.3</text>
<line x1="434.7" y1="98.1" x2="438.7" y2="98.1" stroke="#777" stroke-width="0.8"/>
<text x="443.9" y="101.6" font-size="9.9" text-anchor="start">0.2</text>
<line x1="434.7" y1="130.2" x2="438.7" y2="130.2" stroke="#777" stroke-width="0.8"/>
<text x="443.9" y="133.7" font-size="9.9" text-anchor="start">0.1</text>
<line x1="434.7" y1="162.3" x2="438.7" y2="162.3" stroke="#777" stroke-width="0.8"/>
<text x="443.9" y="165.8" font-size="9.9" text-anchor="start">0</text>
<rect x="46.8" y="222.6" width="150.8" height="149.7" fill="none" stroke="#a0a0a0" stroke-width="0.9"/>
<line x1="46.8" y1="255.9" x2="197.6" y2="255.9" stroke="#b0b0b0" stroke-width="1.0" stroke-dasharray="1.3 1.1"/>
<line x1="46.8" y1="353.65" x2="197.6" y2="353.65" stroke="#b0b0b0" stroke-width="1.0" stroke-dasharray="1.3 1.1"/>
<polyline fill="none" stroke="#fcc589" stroke-width="0.9" stroke-linejoin="round" points="53.5,364.4 54.2,364.39 54.9,364.37 55.6,364.32 56.3,364.26 57,364.19 57.71,364.1 58.41,364.01 59.11,363.9 59.81,363.79 60.51,363.67 61.21,363.55 61.91,363.42 62.61,363.29 63.31,363.16 64.02,363.03 64.72,362.9 65.42,362.75 66.12,362.59 66.82,362.41 67.52,362.22 68.22,362.02 68.92,361.8 69.62,361.58 70.32,361.33 71.03,361.08 71.73,360.8 72.43,360.49 73.13,360.15 73.83,359.79 74.53,359.4 75.23,358.99 75.93,358.55 76.63,358.11 77.33,357.64 78.03,357.17 78.74,356.66 79.44,356.09 80.14,355.49 80.84,354.87 81.54,354.24 82.24,353.61 82.94,352.99 83.64,352.35 84.34,351.68 85.04,350.96 85.75,350.17 86.45,349.3 87.15,348.4 87.85,347.45 88.55,346.44 89.25,345.34 89.95,344.14 90.65,342.8 91.35,341.32 92.05,339.66 92.76,337.81 93.46,335.35 94.16,332.04 94.86,328.14 95.56,323.91 96.26,319.62 96.96,315.53 97.66,311.48 98.36,307.24 99.06,302.98 99.77,298.84 100.47,295 101.17,291.49 101.87,288.19 102.57,285.02 103.27,281.89 103.97,278.73 104.67,275.45 105.37,271.67 106.07,267.69 106.78,264.41 107.48,262.5 108.18,260.94 108.88,259.6 109.58,258.58 110.28,257.97 110.98,257.86 111.68,257.91 112.38,258.01 113.08,258.15 113.79,258.31 114.49,258.49 115.19,258.67 115.89,258.84 116.59,258.98 117.29,259.09 117.99,259.19 118.69,259.28 119.39,259.36 120.09,259.44 120.8,259.51 121.5,259.59 122.2,259.67 122.9,259.77 123.6,259.87 124.3,259.99 125,260.13 125.7,260.29 126.4,260.53 127.1,260.83 127.81,261.18 128.51,261.57 129.21,261.98 129.91,262.41 130.61,262.83 131.31,263.23 132.01,263.61 132.71,263.99 133.41,264.38 134.11,264.78 134.82,265.21 135.52,265.68 136.22,266.18 136.92,266.71 137.62,267.28 138.32,267.88 139.02,268.51 139.72,269.17 140.42,269.85 141.12,270.56 141.83,271.37 142.53,272.29 143.23,273.27 143.93,274.25 144.63,275.15 145.33,275.92 146.03,276.51 146.73,277.05 147.43,277.54 148.13,278 148.84,278.43 149.54,278.81 150.24,279.16 150.94,279.47 151.64,279.75 152.34,280.01 153.04,280.26 153.74,280.5 154.44,280.73 155.14,280.94 155.85,281.15 156.55,281.34 157.25,281.52 157.95,281.67 158.65,281.81 159.35,281.93 160.05,282.02 160.75,282.1 161.45,282.16 162.16,282.21 162.86,282.27 163.56,282.32 164.26,282.37 164.96,282.41 165.66,282.46 166.36,282.5 167.06,282.54 167.76,282.57 168.46,282.6 169.16,282.62 169.87,282.64 170.57,282.66 171.27,282.67 171.97,282.68 172.67,282.68 173.37,282.67 174.07,282.64 174.77,282.6 175.47,282.54 176.17,282.48 176.88,282.41 177.58,282.34 178.28,282.27 178.98,282.21 179.68,282.16 180.38,282.12 181.08,282.1 181.78,282.1 182.48,282.1 183.19,282.12 183.89,282.13 184.59,282.15 185.29,282.18 185.99,282.2 186.69,282.22 187.39,282.25 188.09,282.26 188.79,282.28 189.49,282.29 190.19,282.29"/>
<polyline fill="none" stroke="#f5845c" stroke-width="0.9" stroke-linejoin="round" points="53.5,363.82 54.2,363.81 54.9,363.78 55.6,363.74 56.3,363.68 57,363.61 57.71,363.53 58.41,363.44 59.11,363.34 59.81,363.24 60.51,363.12 61.21,363 61.91,362.88 62.61,362.76 63.31,362.64 64.02,362.51 64.72,362.38 65.42,362.24 66.12,362.08 66.82,361.91 67.52,361.73 68.22,361.53 68.92,361.32 69.62,361.1 70.32,360.87 71.03,360.62 71.73,360.36 72.43,360.07 73.13,359.75 73.83,359.41 74.53,359.04 75.23,358.66 75.93,358.25 76.63,357.83 77.33,357.39 78.03,356.94 78.74,356.45 79.44,355.9 80.14,355.31 80.84,354.7 81.54,354.11 82.24,353.53 82.94,352.98 83.64,352.42 84.34,351.85 85.04,351.23 85.75,350.56 86.45,349.81 87.15,348.98 87.85,348.11 88.55,347.18 89.25,346.16 89.95,345.04 90.65,343.82 91.35,342.46 92.05,340.96 92.76,339.3 93.46,337.45 94.16,334.93 94.86,331.66 95.56,327.87 96.26,323.79 96.96,319.64 97.66,315.65 98.36,311.68 99.06,307.48 99.77,303.23 100.47,299.11 101.17,295.3 101.87,291.85 102.57,288.64 103.27,285.57 103.97,282.57 104.67,279.55 105.37,276.44 106.07,273.01 106.78,269.16 107.48,265.64 108.18,263.23 108.88,261.66 109.58,260.32 110.28,259.23 110.98,258.39 111.68,257.84 112.38,257.44 113.08,257.07 113.79,256.74 114.49,256.45 115.19,256.22 115.89,256.05 116.59,255.94 117.29,255.9 117.99,255.93 118.69,256.02 119.39,256.15 120.09,256.31 120.8,256.47 121.5,256.62 122.2,256.75 122.9,256.84 123.6,256.88 124.3,256.88 125,256.88 125.7,256.88 126.4,256.88 127.1,256.88 127.81,256.83 128.51,256.71 129.21,256.55 129.91,256.4 130.61,256.29 131.31,256.21 132.01,256.13 132.71,256.06 133.41,256 134.11,255.95 134.82,255.91 135.52,255.9 136.22,256.06 136.92,256.49 137.62,257.1 138.32,257.8 139.02,258.5 139.72,259.16 140.42,259.88 141.12,260.66 141.83,261.49 142.53,262.33 143.23,263.16 143.93,263.96 144.63,264.7 145.33,265.4 146.03,266.1 146.73,266.8 147.43,267.49 148.13,268.17 148.84,268.82 149.54,269.44 150.24,270.03 150.94,270.58 151.64,271.09 152.34,271.54 153.04,271.96 153.74,272.36 154.44,272.74 155.14,273.09 155.85,273.43 156.55,273.74 157.25,274.02 157.95,274.26 158.65,274.47 159.35,274.66 160.05,274.84 160.75,275.02 161.45,275.18 162.16,275.34 162.86,275.49 163.56,275.63 164.26,275.76 164.96,275.89 165.66,276 166.36,276.11 167.06,276.2 167.76,276.29 168.46,276.36 169.16,276.43 169.87,276.49 170.57,276.54 171.27,276.59 171.97,276.64 172.67,276.69 173.37,276.74 174.07,276.78 174.77,276.82 175.47,276.85 176.17,276.89 176.88,276.92 177.58,276.94 178.28,276.97 178.98,276.99 179.68,277.01 180.38,277.03 181.08,277.05 181.78,277.06 182.48,277.08 183.19,277.09 183.89,277.1 184.59,277.11 185.29,277.12 185.99,277.13 186.69,277.14 187.39,277.15 188.09,277.16 188.79,277.18 189.49,277.19 190.19,277.21"/>
<polyline fill="none" stroke="#e0506e" stroke-width="0.9" stroke-linejoin="round" points="53.5,363.23 54.2,363.22 54.9,363.2 55.6,363.16 56.3,363.1 57,363.04 57.71,362.96 58.41,362.88 59.11,362.78 59.81,362.68 60.51,362.57 61.21,362.46 61.91,362.34 62.61,362.23 63.31,362.11 64.02,361.99 64.72,361.87 65.42,361.73 66.12,361.58 66.82,361.41 67.52,361.23 68.22,361.04 68.92,360.84 69.62,360.62 70.32,360.4 71.03,360.17 71.73,359.92 72.43,359.64 73.13,359.34 73.83,359.02 74.53,358.68 75.23,358.32 75.93,357.95 76.63,357.55 77.33,357.14 78.03,356.71 78.74,356.24 79.44,355.7 80.14,355.13 80.84,354.54 81.54,353.98 82.24,353.45 82.94,352.95 83.64,352.46 84.34,351.96 85.04,351.43 85.75,350.86 86.45,350.21 87.15,349.49 87.85,348.7 88.55,347.84 89.25,346.9 89.95,345.87 90.65,344.74 91.35,343.49 92.05,342.12 92.76,340.61 93.46,338.95 94.16,337.08 94.86,334.52 95.56,331.3 96.26,327.62 96.96,323.67 97.66,319.66 98.36,315.78 99.06,311.88 99.77,307.71 100.47,303.48 101.17,299.38 101.87,295.59 102.57,292.2 103.27,289.06 103.97,286.08 104.67,283.19 105.37,280.3 106.07,277.35 106.78,274.19 107.48,270.56 108.18,266.96 108.88,264.09 109.58,262.33 110.28,260.89 110.98,259.7 111.68,258.74 112.38,258.01 113.08,257.48 113.79,256.98 114.49,256.53 115.19,256.12 115.89,255.79 116.59,255.53 117.29,255.37 117.99,255.31 118.69,255.34 119.39,255.41 120.09,255.5 120.8,255.61 121.5,255.71 122.2,255.81 122.9,255.87 123.6,255.9 124.3,255.77 125,255.44 125.7,254.97 126.4,254.45 127.1,253.94 127.81,253.44 128.51,252.87 129.21,252.27 129.91,251.64 130.61,251.01 131.31,250.33 132.01,249.59 132.71,248.85 133.41,248.19 134.11,247.69 134.82,247.28 135.52,246.9 136.22,246.62 136.92,246.52 137.62,246.58 138.32,246.75 139.02,246.98 139.72,247.26 140.42,247.75 141.12,248.38 141.83,249.07 142.53,249.74 143.23,250.31 143.93,250.87 144.63,251.42 145.33,251.96 146.03,252.49 146.73,253 147.43,253.48 148.13,253.94 148.84,254.39 149.54,254.82 150.24,255.24 150.94,255.65 151.64,256.03 152.34,256.39 153.04,256.72 153.74,257.03 154.44,257.32 155.14,257.6 155.85,257.88 156.55,258.14 157.25,258.4 157.95,258.64 158.65,258.87 159.35,259.09 160.05,259.3 160.75,259.48 161.45,259.66 162.16,259.81 162.86,259.95 163.56,260.08 164.26,260.2 164.96,260.31 165.66,260.42 166.36,260.52 167.06,260.62 167.76,260.71 168.46,260.8 169.16,260.89 169.87,260.98 170.57,261.08 171.27,261.17 171.97,261.27 172.67,261.37 173.37,261.48 174.07,261.59 174.77,261.71 175.47,261.82 176.17,261.94 176.88,262.05 177.58,262.17 178.28,262.28 178.98,262.39 179.68,262.5 180.38,262.6 181.08,262.7 181.78,262.79 182.48,262.88 183.19,262.97 183.89,263.05 184.59,263.14 185.29,263.22 185.99,263.3 186.69,263.37 187.39,263.45 188.09,263.52 188.79,263.59 189.49,263.66 190.19,263.72"/>
<polyline fill="none" stroke="#8e3aa6" stroke-width="0.9" stroke-linejoin="round" points="53.5,362.64 54.2,362.63 54.9,362.61 55.6,362.57 56.3,362.52 57,362.46 57.71,362.39 58.41,362.31 59.11,362.22 59.81,362.12 60.51,362.02 61.21,361.91 61.91,361.81 62.61,361.69 63.31,361.58 64.02,361.47 64.72,361.35 65.42,361.22 66.12,361.07 66.82,360.91 67.52,360.74 68.22,360.55 68.92,360.36 69.62,360.15 70.32,359.93 71.03,359.71 71.73,359.47 72.43,359.22 73.13,358.94 73.83,358.64 74.53,358.33 75.23,357.99 75.93,357.64 76.63,357.27 77.33,356.89 78.03,356.48 78.74,356.03 79.44,355.51 80.14,354.95 80.84,354.38 81.54,353.85 82.24,353.36 82.94,352.9 83.64,352.47 84.34,352.03 85.04,351.57 85.75,351.08 86.45,350.53 87.15,349.91 87.85,349.2 88.55,348.43 89.25,347.57 89.95,346.62 90.65,345.58 91.35,344.43 92.05,343.16 92.76,341.78 93.46,340.26 94.16,338.61 94.86,336.7 95.56,334.12 96.26,330.96 96.96,327.39 97.66,323.57 98.36,319.68 99.06,315.89 99.77,312.07 100.47,307.95 101.17,303.73 101.87,299.64 102.57,295.87 103.27,292.53 103.97,289.46 104.67,286.56 105.37,283.77 106.07,280.99 106.78,278.17 107.48,275.22 108.18,271.85 108.88,268.31 109.58,265.18 110.28,263.03 110.98,261.49 111.68,260.17 112.38,259.09 113.08,258.25 113.79,257.62 114.49,257.06 115.19,256.54 115.89,256.08 116.59,255.68 117.29,255.38 117.99,255.19 118.69,255.12 119.39,255.16 120.09,255.27 120.8,255.43 121.5,255.59 122.2,255.74 122.9,255.86 123.6,255.9 124.3,255.86 125,255.74 125.7,255.57 126.4,255.36 127.1,255.12 127.81,254.78 128.51,254.3 129.21,253.71 129.91,253.05 130.61,252.38 131.31,251.64 132.01,250.8 132.71,249.9 133.41,248.98 134.11,248.08 134.82,247.17 135.52,246.23 136.22,245.33 136.92,244.56 137.62,243.93 138.32,243.38 139.02,242.86 139.72,242.35 140.42,241.84 141.12,241.35 141.83,240.89 142.53,240.46 143.23,240.06 143.93,239.66 144.63,239.26 145.33,238.89 146.03,238.59 146.73,238.37 147.43,238.25 148.13,238.16 148.84,238.08 149.54,238.01 150.24,237.96 150.94,237.93 151.64,237.91 152.34,237.94 153.04,238 153.74,238.09 154.44,238.21 155.14,238.35 155.85,238.51 156.55,238.66 157.25,238.81 157.95,238.96 158.65,239.09 159.35,239.2 160.05,239.32 160.75,239.44 161.45,239.56 162.16,239.67 162.86,239.79 163.56,239.91 164.26,240.03 164.96,240.14 165.66,240.26 166.36,240.38 167.06,240.49 167.76,240.61 168.46,240.73 169.16,240.85 169.87,240.96 170.57,241.07 171.27,241.18 171.97,241.29 172.67,241.39 173.37,241.5 174.07,241.6 174.77,241.71 175.47,241.82 176.17,241.94 176.88,242.06 177.58,242.18 178.28,242.31 178.98,242.46 179.68,242.61 180.38,242.77 181.08,242.96 181.78,243.16 182.48,243.37 183.19,243.59 183.89,243.82 184.59,244.05 185.29,244.29 185.99,244.56 186.69,244.85 187.39,245.15 188.09,245.44 188.79,245.71 189.49,245.94 190.19,246.12"/>
<polyline fill="none" stroke="#5c2a98" stroke-width="0.9" stroke-linejoin="round" points="53.5,362.06 54.2,362.05 54.9,362.03 55.6,361.99 56.3,361.94 57,361.89 57.71,361.82 58.41,361.74 59.11,361.66 59.81,361.57 60.51,361.47 61.21,361.37 61.91,361.27 62.61,361.16 63.31,361.05 64.02,360.95 64.72,360.84 65.42,360.71 66.12,360.56 66.82,360.41 67.52,360.24 68.22,360.06 68.92,359.87 69.62,359.67 70.32,359.47 71.03,359.25 71.73,359.03 72.43,358.79 73.13,358.53 73.83,358.26 74.53,357.97 75.23,357.66 75.93,357.34 76.63,357 77.33,356.64 78.03,356.26 78.74,355.82 79.44,355.31 80.14,354.77 80.84,354.22 81.54,353.72 82.24,353.26 82.94,352.85 83.64,352.45 84.34,352.07 85.04,351.67 85.75,351.24 86.45,350.77 87.15,350.24 87.85,349.63 88.55,348.94 89.25,348.17 89.95,347.3 90.65,346.34 91.35,345.28 92.05,344.11 92.76,342.84 93.46,341.44 94.16,339.92 94.86,338.28 95.56,336.33 96.26,333.75 96.96,330.64 97.66,327.17 98.36,323.47 99.06,319.7 99.77,316.01 100.47,312.25 101.17,308.17 101.87,303.98 102.57,299.9 103.27,296.14 103.97,292.85 104.67,289.83 105.37,287.01 106.07,284.3 106.78,281.63 107.48,278.93 108.18,276.13 108.88,273.03 109.58,269.62 110.28,266.39 110.98,263.83 111.68,262.14 112.38,260.71 113.08,259.5 113.79,258.54 114.49,257.8 115.19,257.18 115.89,256.59 116.59,256.05 117.29,255.59 117.99,255.24 118.69,255 119.39,254.92 120.09,254.99 120.8,255.18 121.5,255.41 122.2,255.65 122.9,255.83 123.6,255.9 124.3,255.9 125,255.9 125.7,255.9 126.4,255.9 127.1,255.9 127.81,255.83 128.51,255.65 129.21,255.4 129.91,255.12 130.61,254.77 131.31,254.32 132.01,253.77 132.71,253.16 133.41,252.41 134.11,251.48 134.82,250.51 135.52,249.57 136.22,248.61 136.92,247.63 137.62,246.67 138.32,245.73 139.02,244.82 139.72,243.91 140.42,243.03 141.12,242.21 141.83,241.45 142.53,240.72 143.23,240.01 143.93,239.35 144.63,238.78 145.33,238.3 146.03,237.91 146.73,237.56 147.43,237.25 148.13,236.97 148.84,236.71 149.54,236.47 150.24,236.24 150.94,236.02 151.64,235.81 152.34,235.62 153.04,235.44 153.74,235.27 154.44,235.12 155.14,234.98 155.85,234.85 156.55,234.73 157.25,234.61 157.95,234.5 158.65,234.39 159.35,234.29 160.05,234.2 160.75,234.13 161.45,234.06 162.16,234 162.86,233.96 163.56,233.91 164.26,233.86 164.96,233.82 165.66,233.78 166.36,233.74 167.06,233.7 167.76,233.66 168.46,233.62 169.16,233.59 169.87,233.56 170.57,233.53 171.27,233.51 171.97,233.48 172.67,233.46 173.37,233.45 174.07,233.43 174.77,233.43 175.47,233.42 176.17,233.42 176.88,233.42 177.58,233.42 178.28,233.42 178.98,233.42 179.68,233.42 180.38,233.42 181.08,233.42 181.78,233.42 182.48,233.42 183.19,233.42 183.89,233.42 184.59,233.42 185.29,233.42 185.99,233.42 186.69,233.42 187.39,233.42 188.09,233.42 188.79,233.42 189.49,233.42 190.19,233.42"/>
<polyline fill="none" stroke="#2e2a70" stroke-width="0.9" stroke-linejoin="round" points="53.5,361.47 54.2,361.46 54.9,361.44 55.6,361.41 56.3,361.37 57,361.31 57.71,361.25 58.41,361.18 59.11,361.1 59.81,361.01 60.51,360.92 61.21,360.83 61.91,360.73 62.61,360.63 63.31,360.53 64.02,360.43 64.72,360.32 65.42,360.2 66.12,360.06 66.82,359.91 67.52,359.74 68.22,359.57 68.92,359.39 69.62,359.2 70.32,359 71.03,358.8 71.73,358.59 72.43,358.36 73.13,358.13 73.83,357.88 74.53,357.61 75.23,357.33 75.93,357.03 76.63,356.72 77.33,356.38 78.03,356.03 78.74,355.61 79.44,355.12 80.14,354.59 80.84,354.07 81.54,353.58 82.24,353.16 82.94,352.78 83.64,352.42 84.34,352.08 85.04,351.73 85.75,351.36 86.45,350.95 87.15,350.5 87.85,349.98 88.55,349.38 89.25,348.69 89.95,347.91 90.65,347.03 91.35,346.06 92.05,344.98 92.76,343.8 93.46,342.51 94.16,341.11 94.86,339.59 95.56,337.96 96.26,335.97 96.96,333.39 97.66,330.35 98.36,326.97 99.06,323.38 99.77,319.72 100.47,316.11 101.17,312.43 101.87,308.4 102.57,304.23 103.27,300.16 103.97,296.41 104.67,293.15 105.37,290.19 106.07,287.43 106.78,284.79 107.48,282.22 108.18,279.63 108.88,276.96 109.58,274.09 110.28,270.86 110.98,267.62 111.68,264.82 112.38,262.84 113.08,261.29 113.79,259.97 114.49,258.88 115.19,258.02 115.89,257.33 116.59,256.66 117.29,256.05 117.99,255.52 118.69,255.1 119.39,254.82 120.09,254.73 120.8,254.82 121.5,255.06 122.2,255.37 122.9,255.68 123.6,255.9 124.3,256.06 125,256.22 125.7,256.36 126.4,256.45 127.1,256.49 127.81,256.48 128.51,256.45 129.21,256.41 129.91,256.35 130.61,256.28 131.31,256.2 132.01,256.1 132.71,255.87 133.41,255.46 134.11,254.93 134.82,254.34 135.52,253.6 136.22,252.67 136.92,251.68 137.62,250.74 138.32,249.79 139.02,248.82 139.72,247.85 140.42,246.91 141.12,245.97 141.83,245.03 142.53,244.1 143.23,243.22 143.93,242.41 144.63,241.62 145.33,240.85 146.03,240.13 146.73,239.47 147.43,238.89 148.13,238.37 148.84,237.88 149.54,237.43 150.24,237.02 150.94,236.66 151.64,236.35 152.34,236.08 153.04,235.84 153.74,235.62 154.44,235.42 155.14,235.23 155.85,235.05 156.55,234.87 157.25,234.7 157.95,234.52 158.65,234.36 159.35,234.2 160.05,234.04 160.75,233.89 161.45,233.75 162.16,233.61 162.86,233.48 163.56,233.35 164.26,233.23 164.96,233.11 165.66,232.99 166.36,232.88 167.06,232.77 167.76,232.66 168.46,232.55 169.16,232.44 169.87,232.33 170.57,232.23 171.27,232.12 171.97,232.01 172.67,231.91 173.37,231.81 174.07,231.71 174.77,231.62 175.47,231.54 176.17,231.46 176.88,231.39 177.58,231.33 178.28,231.26 178.98,231.21 179.68,231.15 180.38,231.1 181.08,231.04 181.78,230.99 182.48,230.93 183.19,230.88 183.89,230.82 184.59,230.75 185.29,230.69 185.99,230.62 186.69,230.55 187.39,230.49 188.09,230.43 188.79,230.38 189.49,230.33 190.19,230.29"/>
<polyline fill="none" stroke="#141414" stroke-width="0.9" stroke-linejoin="round" points="53.5,360.88 54.2,360.88 54.9,360.86 55.6,360.83 56.3,360.79 57,360.74 57.71,360.68 58.41,360.61 59.11,360.53 59.81,360.45 60.51,360.37 61.21,360.28 61.91,360.19 62.61,360.1 63.31,360 64.02,359.91 64.72,359.8 65.42,359.68 66.12,359.55 66.82,359.41 67.52,359.25 68.22,359.08 68.92,358.9 69.62,358.72 70.32,358.53 71.03,358.34 71.73,358.14 72.43,357.94 73.13,357.72 73.83,357.5 74.53,357.26 75.23,357 75.93,356.73 76.63,356.44 77.33,356.13 78.03,355.8 78.74,355.41 79.44,354.93 80.14,354.42 80.84,353.91 81.54,353.45 82.24,353.06 82.94,352.71 83.64,352.38 84.34,352.07 85.04,351.76 85.75,351.44 86.45,351.09 87.15,350.7 87.85,350.25 88.55,349.74 89.25,349.14 89.95,348.45 90.65,347.65 91.35,346.76 92.05,345.77 92.76,344.68 93.46,343.48 94.16,342.18 94.86,340.78 95.56,339.27 96.26,337.64 96.96,335.61 97.66,333.05 98.36,330.07 99.06,326.78 99.77,323.3 100.47,319.74 101.17,316.22 101.87,312.61 102.57,308.62 103.27,304.48 103.97,300.41 104.67,296.67 105.37,293.44 106.07,290.53 106.78,287.83 107.48,285.26 108.18,282.76 108.88,280.27 109.58,277.72 110.28,275.03 110.98,272.01 111.68,268.84 112.38,265.91 113.08,263.6 113.79,261.94 114.49,260.5 115.19,259.29 115.89,258.3 116.59,257.52 117.29,256.77 117.99,256.07 118.69,255.47 119.39,255.02 120.09,254.77 120.8,254.75 121.5,254.9 122.2,255.15 122.9,255.45 123.6,255.73 124.3,255.92 125,256.08 125.7,256.24 126.4,256.38 127.1,256.51 127.81,256.61 128.51,256.67 129.21,256.68 129.91,256.67 130.61,256.64 131.31,256.6 132.01,256.54 132.71,256.47 133.41,256.39 134.11,256.29 134.82,256.11 135.52,255.8 136.22,255.39 136.92,254.92 137.62,254.27 138.32,253.4 139.02,252.45 139.72,251.54 140.42,250.6 141.12,249.63 141.83,248.65 142.53,247.69 143.23,246.72 143.93,245.73 144.63,244.76 145.33,243.84 146.03,243 146.73,242.22 147.43,241.48 148.13,240.79 148.84,240.14 149.54,239.55 150.24,239.02 150.94,238.53 151.64,238.07 152.34,237.64 153.04,237.25 153.74,236.9 154.44,236.59 155.14,236.31 155.85,236.06 156.55,235.82 157.25,235.6 157.95,235.38 158.65,235.18 159.35,234.98 160.05,234.79 160.75,234.61 161.45,234.43 162.16,234.26 162.86,234.09 163.56,233.92 164.26,233.75 164.96,233.58 165.66,233.41 166.36,233.24 167.06,233.08 167.76,232.93 168.46,232.78 169.16,232.64 169.87,232.5 170.57,232.37 171.27,232.25 171.97,232.13 172.67,232.01 173.37,231.9 174.07,231.79 174.77,231.68 175.47,231.57 176.17,231.46 176.88,231.36 177.58,231.25 178.28,231.15 178.98,231.05 179.68,230.95 180.38,230.85 181.08,230.76 181.78,230.66 182.48,230.57 183.19,230.49 183.89,230.4 184.59,230.3 185.29,230.21 185.99,230.12 186.69,230.03 187.39,229.95 188.09,229.87 188.79,229.81 189.49,229.75 190.19,229.7"/>
<line x1="41.6" y1="236.35" x2="46.8" y2="236.35" stroke="#777" stroke-width="0.8"/>
<text x="36.4" y="239.85" font-size="9.9" text-anchor="end">1.1</text>
<line x1="41.6" y1="255.9" x2="46.8" y2="255.9" stroke="#777" stroke-width="0.8"/>
<text x="36.4" y="259.4" font-size="9.9" text-anchor="end">1.0</text>
<line x1="41.6" y1="275.45" x2="46.8" y2="275.45" stroke="#777" stroke-width="0.8"/>
<text x="36.4" y="278.95" font-size="9.9" text-anchor="end">0.9</text>
<line x1="41.6" y1="295" x2="46.8" y2="295" stroke="#777" stroke-width="0.8"/>
<text x="36.4" y="298.5" font-size="9.9" text-anchor="end">0.8</text>
<line x1="41.6" y1="314.55" x2="46.8" y2="314.55" stroke="#777" stroke-width="0.8"/>
<text x="36.4" y="318.05" font-size="9.9" text-anchor="end">0.7</text>
<line x1="41.6" y1="334.1" x2="46.8" y2="334.1" stroke="#777" stroke-width="0.8"/>
<text x="36.4" y="337.6" font-size="9.9" text-anchor="end">0.6</text>
<line x1="41.6" y1="353.65" x2="46.8" y2="353.65" stroke="#777" stroke-width="0.8"/>
<text x="36.4" y="357.15" font-size="9.9" text-anchor="end">0.5</text>
<line x1="53.5" y1="372.3" x2="53.5" y2="377.5" stroke="#777" stroke-width="0.8"/>
<text x="53.5" y="389.7" font-size="9.9" text-anchor="middle">-200</text>
<line x1="71.03" y1="372.3" x2="71.03" y2="375.3" stroke="#aaa" stroke-width="0.8"/>
<line x1="88.55" y1="372.3" x2="88.55" y2="377.5" stroke="#777" stroke-width="0.8"/>
<text x="88.55" y="389.7" font-size="9.9" text-anchor="middle">-100</text>
<line x1="106.07" y1="372.3" x2="106.07" y2="375.3" stroke="#aaa" stroke-width="0.8"/>
<line x1="123.6" y1="372.3" x2="123.6" y2="377.5" stroke="#777" stroke-width="0.8"/>
<text x="123.6" y="389.7" font-size="9.9" text-anchor="middle">0</text>
<line x1="141.12" y1="372.3" x2="141.12" y2="375.3" stroke="#aaa" stroke-width="0.8"/>
<line x1="158.65" y1="372.3" x2="158.65" y2="377.5" stroke="#777" stroke-width="0.8"/>
<text x="158.65" y="389.7" font-size="9.9" text-anchor="middle">100</text>
<line x1="176.17" y1="372.3" x2="176.17" y2="375.3" stroke="#aaa" stroke-width="0.8"/>
<line x1="193.7" y1="372.3" x2="193.7" y2="377.5" stroke="#777" stroke-width="0.8"/>
<text x="193.7" y="389.7" font-size="9.9" text-anchor="middle">200</text>
<text x="112.3" y="405.5" font-size="11.2" font-style="italic">V<tspan font-size="7" dy="3.2" font-style="normal">bg</tspan><tspan dy="-3.2" font-style="normal"> (V)</tspan></text>
<text x="49" y="275.2" font-size="8.4" font-style="italic">V<tspan font-size="5.6" dy="2.4" font-style="normal">tg</tspan><tspan dy="-2.4" font-style="normal">(V) =</tspan></text>
<line x1="51.7" y1="285" x2="62.1" y2="285" stroke="#141414" stroke-width="0.9"/>
<text x="64.6" y="288" font-size="8.4" text-anchor="start">-15</text>
<line x1="51.7" y1="294.73" x2="62.1" y2="294.73" stroke="#2e2a70" stroke-width="0.9"/>
<text x="64.6" y="297.73" font-size="8.4" text-anchor="start">-10</text>
<line x1="51.7" y1="304.46" x2="62.1" y2="304.46" stroke="#5c2a98" stroke-width="0.9"/>
<text x="64.6" y="307.46" font-size="8.4" text-anchor="start">-5</text>
<line x1="51.7" y1="314.19" x2="62.1" y2="314.19" stroke="#8e3aa6" stroke-width="0.9"/>
<text x="67.2" y="317.19" font-size="8.4" text-anchor="start">0</text>
<line x1="51.7" y1="323.92" x2="62.1" y2="323.92" stroke="#e0506e" stroke-width="0.9"/>
<text x="67.2" y="326.92" font-size="8.4" text-anchor="start">5</text>
<line x1="51.7" y1="333.65" x2="62.1" y2="333.65" stroke="#f5845c" stroke-width="0.9"/>
<text x="67.2" y="336.65" font-size="8.4" text-anchor="start">10</text>
<line x1="51.7" y1="343.38" x2="62.1" y2="343.38" stroke="#fcc589" stroke-width="0.9"/>
<text x="67.2" y="346.38" font-size="8.4" text-anchor="start">15</text>
<rect x="275.8" y="222.6" width="150.5" height="150.2" fill="none" stroke="#a0a0a0" stroke-width="0.9"/>
<line x1="275.8" y1="229" x2="426.3" y2="229" stroke="#333" stroke-width="0.75" stroke-dasharray="0.9 0.9"/>
<line x1="275.8" y1="360.5" x2="426.3" y2="360.5" stroke="#333" stroke-width="0.75" stroke-dasharray="0.9 0.9"/>
<polyline fill="none" stroke="#fcc589" stroke-width="0.9" stroke-linejoin="round" points="282.8,250.57 283.5,250.62 284.2,250.67 284.9,250.72 285.6,250.77 286.3,250.81 287.01,250.86 287.71,250.91 288.41,250.95 289.11,251 289.81,251.05 290.51,251.09 291.21,251.14 291.91,251.19 292.61,251.24 293.31,251.29 294.02,251.34 294.72,251.39 295.42,251.45 296.12,251.5 296.82,251.56 297.52,251.62 298.22,251.68 298.92,251.74 299.62,251.81 300.32,251.88 301.03,251.96 301.73,252.05 302.43,252.16 303.13,252.28 303.83,252.41 304.53,252.54 305.23,252.68 305.93,252.83 306.63,252.97 307.33,253.11 308.04,253.25 308.74,253.38 309.44,253.51 310.14,253.62 310.84,253.72 311.54,253.81 312.24,253.88 312.94,253.94 313.64,253.97 314.34,253.99 315.05,253.99 315.75,253.99 316.45,253.99 317.15,253.99 317.85,253.99 318.55,254.06 319.25,254.26 319.95,254.55 320.65,254.91 321.35,255.3 322.06,255.78 322.76,256.44 323.46,257.24 324.16,258.17 324.86,259.2 325.56,260.33 326.26,261.52 326.96,262.81 327.66,264.39 328.36,266.22 329.07,268.23 329.77,270.33 330.47,272.42 331.17,274.43 331.87,276.4 332.57,278.39 333.27,280.4 333.97,282.43 334.67,284.48 335.38,286.54 336.08,288.58 336.78,290.6 337.48,292.64 338.18,294.74 338.88,296.95 339.58,299.3 340.28,301.77 340.98,304.36 341.68,307.05 342.38,309.84 343.09,312.73 343.79,315.7 344.49,318.75 345.19,322.01 345.89,325.64 346.59,329.47 347.29,333.33 347.99,337.03 348.69,340.41 349.39,343.29 350.1,345.75 350.8,348.03 351.5,349.91 352.2,351.18 352.9,352.14 353.6,352.78 354.3,352.84 355,352.59 355.7,352.15 356.4,351.61 357.11,351.03 357.81,350.34 358.51,349.44 359.21,348.37 359.91,347.19 360.61,345.95 361.31,344.69 362.01,343.48 362.71,342.35 363.41,341.31 364.12,340.26 364.82,339.19 365.52,338.12 366.22,337.05 366.92,336 367.62,334.97 368.32,333.96 369.02,332.99 369.72,332.07 370.42,331.19 371.13,330.38 371.83,329.64 372.53,328.95 373.23,328.28 373.93,327.63 374.63,327.01 375.33,326.44 376.03,325.93 376.73,325.48 377.44,325.12 378.14,324.83 378.84,324.58 379.54,324.35 380.24,324.15 380.94,323.96 381.64,323.79 382.34,323.63 383.04,323.48 383.74,323.33 384.44,323.18 385.15,323.02 385.85,322.86 386.55,322.69 387.25,322.53 387.95,322.37 388.65,322.2 389.35,322.05 390.05,321.89 390.75,321.73 391.45,321.58 392.16,321.43 392.86,321.29 393.56,321.14 394.26,321 394.96,320.86 395.66,320.72 396.36,320.59 397.06,320.46 397.76,320.32 398.46,320.18 399.17,320.03 399.87,319.88 400.57,319.72 401.27,319.57 401.97,319.42 402.67,319.28 403.37,319.14 404.07,319 404.77,318.88 405.47,318.77 406.18,318.67 406.88,318.58 407.58,318.51 408.28,318.46 408.98,318.43 409.68,318.42 410.38,318.44 411.08,318.51 411.78,318.62 412.48,318.76 413.19,318.93 413.89,319.11 414.59,319.31 415.29,319.52 415.99,319.72 416.69,319.92 417.39,320.1 418.09,320.27 418.79,320.41 419.5,320.52"/>
<polyline fill="none" stroke="#f5845c" stroke-width="0.9" stroke-linejoin="round" points="282.8,249.47 283.5,249.52 284.2,249.57 284.9,249.61 285.6,249.66 286.3,249.7 287.01,249.75 287.71,249.79 288.41,249.83 289.11,249.87 289.81,249.92 290.51,249.96 291.21,250 291.91,250.04 292.61,250.09 293.31,250.13 294.02,250.17 294.72,250.22 295.42,250.27 296.12,250.32 296.82,250.37 297.52,250.42 298.22,250.48 298.92,250.53 299.62,250.59 300.32,250.65 301.03,250.72 301.73,250.81 302.43,250.9 303.13,251 303.83,251.11 304.53,251.22 305.23,251.34 305.93,251.46 306.63,251.59 307.33,251.71 308.04,251.83 308.74,251.94 309.44,252.05 310.14,252.15 310.84,252.24 311.54,252.32 312.24,252.39 312.94,252.45 313.64,252.49 314.34,252.51 315.05,252.52 315.75,252.53 316.45,252.54 317.15,252.54 317.85,252.55 318.55,252.56 319.25,252.58 319.95,252.7 320.65,252.97 321.35,253.35 322.06,253.82 322.76,254.34 323.46,254.89 324.16,255.44 324.86,256.05 325.56,256.76 326.26,257.56 326.96,258.45 327.66,259.42 328.36,260.48 329.07,261.61 329.77,262.86 330.47,264.38 331.17,266.13 331.87,268.05 332.57,270.05 333.27,272.09 333.97,274.07 334.67,276.03 335.38,278.03 336.08,280.08 336.78,282.16 337.48,284.27 338.18,286.41 338.88,288.55 339.58,290.71 340.28,292.91 340.98,295.17 341.68,297.5 342.38,299.91 343.09,302.39 343.79,304.94 344.49,307.55 345.19,310.22 345.89,312.97 346.59,315.77 347.29,318.65 347.99,321.7 348.69,325.07 349.39,328.63 350.1,332.22 350.8,335.71 351.5,338.97 352.2,341.83 352.9,344.19 353.6,346.23 354.3,348.08 355,349.75 355.7,351.26 356.4,352.61 357.11,353.99 357.81,355.31 358.51,356.17 359.21,356.26 359.91,355.99 360.61,355.52 361.31,354.89 362.01,354.15 362.71,353.38 363.41,352.61 364.12,351.76 364.82,350.72 365.52,349.56 366.22,348.34 366.92,347.11 367.62,345.92 368.32,344.84 369.02,343.9 369.72,342.98 370.42,342.08 371.13,341.2 371.83,340.34 372.53,339.5 373.23,338.69 373.93,337.9 374.63,337.15 375.33,336.42 376.03,335.72 376.73,335.06 377.44,334.44 378.14,333.85 378.84,333.26 379.54,332.67 380.24,332.1 380.94,331.53 381.64,330.98 382.34,330.46 383.04,329.95 383.74,329.47 384.44,329.02 385.15,328.61 385.85,328.23 386.55,327.9 387.25,327.61 387.95,327.36 388.65,327.15 389.35,326.95 390.05,326.76 390.75,326.59 391.45,326.42 392.16,326.27 392.86,326.12 393.56,325.98 394.26,325.85 394.96,325.72 395.66,325.61 396.36,325.49 397.06,325.39 397.76,325.28 398.46,325.18 399.17,325.09 399.87,325 400.57,324.9 401.27,324.8 401.97,324.71 402.67,324.61 403.37,324.52 404.07,324.42 404.77,324.34 405.47,324.26 406.18,324.18 406.88,324.11 407.58,324.06 408.28,324.01 408.98,323.97 409.68,323.95 410.38,323.94 411.08,323.96 411.78,324.01 412.48,324.09 413.19,324.2 413.89,324.32 414.59,324.45 415.29,324.59 415.99,324.73 416.69,324.87 417.39,324.99 418.09,325.1 418.79,325.19 419.5,325.26"/>
<polyline fill="none" stroke="#e0506e" stroke-width="0.9" stroke-linejoin="round" points="282.8,248.37 283.5,248.42 284.2,248.47 284.9,248.51 285.6,248.55 286.3,248.59 287.01,248.63 287.71,248.67 288.41,248.71 289.11,248.75 289.81,248.78 290.51,248.82 291.21,248.86 291.91,248.89 292.61,248.93 293.31,248.97 294.02,249.01 294.72,249.05 295.42,249.09 296.12,249.13 296.82,249.18 297.52,249.22 298.22,249.27 298.92,249.32 299.62,249.37 300.32,249.43 301.03,249.49 301.73,249.56 302.43,249.63 303.13,249.72 303.83,249.81 304.53,249.9 305.23,250 305.93,250.1 306.63,250.2 307.33,250.3 308.04,250.39 308.74,250.49 309.44,250.58 310.14,250.67 310.84,250.75 311.54,250.83 312.24,250.9 312.94,250.95 313.64,251 314.34,251.04 315.05,251.07 315.75,251.09 316.45,251.1 317.15,251.12 317.85,251.13 318.55,251.15 319.25,251.17 319.95,251.2 320.65,251.24 321.35,251.41 322.06,251.7 322.76,252.1 323.46,252.59 324.16,253.15 324.86,253.75 325.56,254.37 326.26,254.99 326.96,255.61 327.66,256.27 328.36,257 329.07,257.79 329.77,258.65 330.47,259.59 331.17,260.6 331.87,261.7 332.57,262.91 333.27,264.38 333.97,266.05 334.67,267.87 335.38,269.79 336.08,271.76 336.78,273.72 337.48,275.66 338.18,277.67 338.88,279.75 339.58,281.87 340.28,284.05 340.98,286.26 341.68,288.52 342.38,290.84 343.09,293.22 343.79,295.64 344.49,298.08 345.19,300.54 345.89,303.01 346.59,305.51 347.29,308.03 347.99,310.58 348.69,313.19 349.39,315.84 350.1,318.56 350.8,321.42 351.5,324.5 352.2,327.72 352.9,331 353.6,334.24 354.3,337.35 355,340.24 355.7,342.82 356.4,345.07 357.11,347.19 357.81,349.17 358.51,350.98 359.21,352.58 359.91,353.93 360.61,355.16 361.31,356.39 362.01,357.52 362.71,358.42 363.41,359.01 364.12,359.18 364.82,359.07 365.52,358.8 366.22,358.41 366.92,357.93 367.62,357.39 368.32,356.83 369.02,356.25 369.72,355.47 370.42,354.53 371.13,353.47 371.83,352.36 372.53,351.26 373.23,350.23 373.93,349.32 374.63,348.57 375.33,347.86 376.03,347.17 376.73,346.51 377.44,345.87 378.14,345.25 378.84,344.65 379.54,344.07 380.24,343.51 380.94,342.97 381.64,342.45 382.34,341.94 383.04,341.45 383.74,340.97 384.44,340.51 385.15,340.07 385.85,339.64 386.55,339.21 387.25,338.8 387.95,338.38 388.65,337.98 389.35,337.58 390.05,337.19 390.75,336.81 391.45,336.43 392.16,336.07 392.86,335.72 393.56,335.37 394.26,335.04 394.96,334.72 395.66,334.42 396.36,334.12 397.06,333.85 397.76,333.58 398.46,333.33 399.17,333.1 399.87,332.88 400.57,332.68 401.27,332.46 401.97,332.25 402.67,332.04 403.37,331.83 404.07,331.62 404.77,331.43 405.47,331.24 406.18,331.06 406.88,330.89 407.58,330.74 408.28,330.61 408.98,330.49 409.68,330.4 410.38,330.33 411.08,330.28 411.78,330.26 412.48,330.28 413.19,330.41 413.89,330.62 414.59,330.9 415.29,331.23 415.99,331.59 416.69,331.95 417.39,332.31 418.09,332.64 418.79,332.93 419.5,333.15"/>
<polyline fill="none" stroke="#8e3aa6" stroke-width="0.9" stroke-linejoin="round" points="282.8,247.28 283.5,247.32 284.2,247.36 284.9,247.4 285.6,247.44 286.3,247.48 287.01,247.52 287.71,247.55 288.41,247.58 289.11,247.62 289.81,247.65 290.51,247.68 291.21,247.71 291.91,247.74 292.61,247.78 293.31,247.81 294.02,247.84 294.72,247.88 295.42,247.91 296.12,247.95 296.82,247.98 297.52,248.02 298.22,248.06 298.92,248.11 299.62,248.15 300.32,248.2 301.03,248.25 301.73,248.31 302.43,248.37 303.13,248.44 303.83,248.51 304.53,248.58 305.23,248.66 305.93,248.73 306.63,248.81 307.33,248.89 308.04,248.97 308.74,249.05 309.44,249.13 310.14,249.2 310.84,249.27 311.54,249.34 312.24,249.4 312.94,249.46 313.64,249.52 314.34,249.57 315.05,249.61 315.75,249.64 316.45,249.67 317.15,249.69 317.85,249.72 318.55,249.74 319.25,249.77 319.95,249.81 320.65,249.85 321.35,249.9 322.06,249.98 322.76,250.18 323.46,250.48 324.16,250.89 324.86,251.37 325.56,251.92 326.26,252.53 326.96,253.16 327.66,253.82 328.36,254.49 329.07,255.14 329.77,255.79 330.47,256.47 331.17,257.2 331.87,257.98 332.57,258.82 333.27,259.73 333.97,260.71 334.67,261.77 335.38,262.96 336.08,264.37 336.78,265.97 337.48,267.71 338.18,269.55 338.88,271.45 339.58,273.38 340.28,275.3 340.98,277.3 341.68,279.4 342.38,281.57 343.09,283.81 343.79,286.1 344.49,288.49 345.19,290.99 345.89,293.57 346.59,296.15 347.29,298.69 347.99,301.18 348.69,303.62 349.39,306.05 350.1,308.48 350.8,310.92 351.5,313.4 352.2,315.91 352.9,318.49 353.6,321.16 354.3,323.98 355,326.9 355.7,329.86 356.4,332.83 357.11,335.75 357.81,338.57 358.51,341.25 359.21,343.73 359.91,346.11 360.61,348.47 361.31,350.7 362.01,352.74 362.71,354.49 363.41,355.93 364.12,357.24 364.82,358.41 365.52,359.42 366.22,360.2 366.92,360.76 367.62,361.26 368.32,361.72 369.02,362.1 369.72,362.39 370.42,362.57 371.13,362.6 371.83,362.52 372.53,362.37 373.23,362.15 373.93,361.89 374.63,361.59 375.33,361.29 376.03,360.9 376.73,360.37 377.44,359.75 378.14,359.1 378.84,358.45 379.54,357.86 380.24,357.37 380.94,356.92 381.64,356.48 382.34,356.07 383.04,355.67 383.74,355.28 384.44,354.9 385.15,354.53 385.85,354.15 386.55,353.77 387.25,353.38 387.95,352.98 388.65,352.56 389.35,352.12 390.05,351.65 390.75,351.14 391.45,350.61 392.16,350.06 392.86,349.5 393.56,348.93 394.26,348.37 394.96,347.83 395.66,347.3 396.36,346.8 397.06,346.34 397.76,345.92 398.46,345.55 399.17,345.23 399.87,344.98 400.57,344.77 401.27,344.56 401.97,344.35 402.67,344.15 403.37,343.96 404.07,343.78 404.77,343.6 405.47,343.44 406.18,343.28 406.88,343.14 407.58,343.02 408.28,342.9 408.98,342.81 409.68,342.73 410.38,342.67 411.08,342.63 411.78,342.62 412.48,342.63 413.19,342.7 413.89,342.82 414.59,342.97 415.29,343.15 415.99,343.35 416.69,343.55 417.39,343.75 418.09,343.93 418.79,344.08 419.5,344.19"/>
<polyline fill="none" stroke="#5c2a98" stroke-width="0.9" stroke-linejoin="round" points="282.8,246.18 283.5,246.22 284.2,246.26 284.9,246.3 285.6,246.33 286.3,246.37 287.01,246.4 287.71,246.43 288.41,246.46 289.11,246.49 289.81,246.51 290.51,246.54 291.21,246.57 291.91,246.59 292.61,246.62 293.31,246.65 294.02,246.67 294.72,246.7 295.42,246.73 296.12,246.76 296.82,246.79 297.52,246.82 298.22,246.86 298.92,246.89 299.62,246.93 300.32,246.97 301.03,247.01 301.73,247.06 302.43,247.11 303.13,247.16 303.83,247.21 304.53,247.27 305.23,247.32 305.93,247.38 306.63,247.44 307.33,247.5 308.04,247.56 308.74,247.63 309.44,247.69 310.14,247.75 310.84,247.81 311.54,247.87 312.24,247.93 312.94,247.98 313.64,248.04 314.34,248.09 315.05,248.14 315.75,248.19 316.45,248.23 317.15,248.26 317.85,248.3 318.55,248.34 319.25,248.38 319.95,248.42 320.65,248.47 321.35,248.53 322.06,248.6 322.76,248.68 323.46,248.8 324.16,249.02 324.86,249.33 325.56,249.73 326.26,250.2 326.96,250.74 327.66,251.32 328.36,251.95 329.07,252.61 329.77,253.28 330.47,253.96 331.17,254.64 331.87,255.3 332.57,255.96 333.27,256.65 333.97,257.37 334.67,258.14 335.38,258.96 336.08,259.85 336.78,260.81 337.48,261.85 338.18,263.01 338.88,264.37 339.58,265.89 340.28,267.55 340.98,269.32 341.68,271.16 342.38,273.04 343.09,274.94 343.79,276.93 344.49,279.04 345.19,281.25 345.89,283.55 346.59,285.93 347.29,288.45 347.99,291.16 348.69,293.96 349.39,296.72 350.1,299.33 350.8,301.81 351.5,304.23 352.2,306.59 352.9,308.92 353.6,311.25 354.3,313.59 355,315.97 355.7,318.42 356.4,320.94 357.11,323.55 357.81,326.21 358.51,328.9 359.21,331.62 359.91,334.32 360.61,337 361.31,339.64 362.01,342.21 362.71,344.72 363.41,347.35 364.12,349.97 364.82,352.4 365.52,354.43 366.22,355.95 366.92,357.25 367.62,358.4 368.32,359.38 369.02,360.17 369.72,360.8 370.42,361.4 371.13,361.97 371.83,362.48 372.53,362.9 373.23,363.2 373.93,363.37 374.63,363.39 375.33,363.36 376.03,363.32 376.73,363.25 377.44,363.16 378.14,363.06 378.84,362.96 379.54,362.84 380.24,362.72 380.94,362.6 381.64,362.47 382.34,362.3 383.04,362.1 383.74,361.89 384.44,361.66 385.15,361.42 385.85,361.18 386.55,360.94 387.25,360.72 387.95,360.5 388.65,360.29 389.35,360.08 390.05,359.86 390.75,359.64 391.45,359.42 392.16,359.2 392.86,358.98 393.56,358.76 394.26,358.54 394.96,358.33 395.66,358.13 396.36,357.93 397.06,357.74 397.76,357.56 398.46,357.39 399.17,357.23 399.87,357.08 400.57,356.94 401.27,356.79 401.97,356.65 402.67,356.5 403.37,356.36 404.07,356.21 404.77,356.08 405.47,355.94 406.18,355.82 406.88,355.7 407.58,355.59 408.28,355.5 408.98,355.41 409.68,355.34 410.38,355.29 411.08,355.26 411.78,355.24 412.48,355.24 413.19,355.26 413.89,355.28 414.59,355.31 415.29,355.35 415.99,355.38 416.69,355.42 417.39,355.45 418.09,355.48 418.79,355.5 419.5,355.5"/>
<polyline fill="none" stroke="#2e2a70" stroke-width="0.9" stroke-linejoin="round" points="282.8,245.09 283.5,245.12 284.2,245.16 284.9,245.19 285.6,245.22 286.3,245.25 287.01,245.28 287.71,245.3 288.41,245.33 289.11,245.35 289.81,245.37 290.51,245.4 291.21,245.42 291.91,245.44 292.61,245.46 293.31,245.48 294.02,245.51 294.72,245.53 295.42,245.55 296.12,245.58 296.82,245.6 297.52,245.63 298.22,245.65 298.92,245.68 299.62,245.71 300.32,245.74 301.03,245.78 301.73,245.81 302.43,245.85 303.13,245.89 303.83,245.92 304.53,245.96 305.23,246 305.93,246.05 306.63,246.09 307.33,246.13 308.04,246.18 308.74,246.22 309.44,246.27 310.14,246.32 310.84,246.37 311.54,246.41 312.24,246.46 312.94,246.52 313.64,246.57 314.34,246.62 315.05,246.67 315.75,246.72 316.45,246.77 317.15,246.82 317.85,246.87 318.55,246.92 319.25,246.97 319.95,247.03 320.65,247.09 321.35,247.16 322.06,247.24 322.76,247.33 323.46,247.43 324.16,247.54 324.86,247.69 325.56,247.92 326.26,248.25 326.96,248.64 327.66,249.1 328.36,249.61 329.07,250.18 329.77,250.78 330.47,251.42 331.17,252.08 331.87,252.76 332.57,253.44 333.27,254.13 333.97,254.8 334.67,255.46 335.38,256.13 336.08,256.81 336.78,257.53 337.48,258.29 338.18,259.09 338.88,259.96 339.58,260.9 340.28,261.92 340.98,263.05 341.68,264.36 342.38,265.82 343.09,267.41 343.79,269.1 344.49,270.88 345.19,272.71 345.89,274.58 346.59,276.56 347.29,278.68 347.99,280.92 348.69,283.28 349.39,285.74 350.1,288.4 350.8,291.36 351.5,294.41 352.2,297.34 352.9,299.98 353.6,302.45 354.3,304.82 355,307.11 355.7,309.34 356.4,311.56 357.11,313.78 357.81,316.04 358.51,318.36 359.21,320.75 359.91,323.16 360.61,325.6 361.31,328.04 362.01,330.51 362.71,333 363.41,335.51 364.12,338.04 364.82,340.59 365.52,343.17 366.22,345.97 366.92,349.11 367.62,352.1 368.32,354.46 369.02,355.82 369.72,356.79 370.42,357.57 371.13,358.24 371.83,358.86 372.53,359.53 373.23,360.25 373.93,361 374.63,361.73 375.33,362.42 376.03,363.02 376.73,363.49 377.44,363.81 378.14,363.92 378.84,363.92 379.54,363.92 380.24,363.92 380.94,363.92 381.64,363.92 382.34,363.92 383.04,363.92 383.74,363.92 384.44,363.92 385.15,363.92 385.85,363.92 386.55,363.92 387.25,363.92 387.95,363.92 388.65,363.91 389.35,363.9 390.05,363.87 390.75,363.84 391.45,363.8 392.16,363.75 392.86,363.7 393.56,363.65 394.26,363.59 394.96,363.53 395.66,363.46 396.36,363.4 397.06,363.34 397.76,363.28 398.46,363.23 399.17,363.18 399.87,363.13 400.57,363.09 401.27,363.04 401.97,363 402.67,362.96 403.37,362.92 404.07,362.88 404.77,362.84 405.47,362.8 406.18,362.76 406.88,362.72 407.58,362.68 408.28,362.64 408.98,362.6 409.68,362.56 410.38,362.52 411.08,362.48 411.78,362.43 412.48,362.38 413.19,362.34 413.89,362.29 414.59,362.25 415.29,362.21 415.99,362.17 416.69,362.14 417.39,362.11 418.09,362.09 418.79,362.08 419.5,362.08"/>
<polyline fill="none" stroke="#141414" stroke-width="0.9" stroke-linejoin="round" points="282.8,243.99 283.5,244.02 284.2,244.05 284.9,244.08 285.6,244.11 286.3,244.13 287.01,244.15 287.71,244.18 288.41,244.2 289.11,244.22 289.81,244.23 290.51,244.25 291.21,244.27 291.91,244.29 292.61,244.3 293.31,244.32 294.02,244.34 294.72,244.35 295.42,244.37 296.12,244.39 296.82,244.41 297.52,244.43 298.22,244.45 298.92,244.47 299.62,244.49 300.32,244.52 301.03,244.54 301.73,244.57 302.43,244.59 303.13,244.62 303.83,244.64 304.53,244.67 305.23,244.69 305.93,244.72 306.63,244.75 307.33,244.77 308.04,244.8 308.74,244.83 309.44,244.87 310.14,244.9 310.84,244.94 311.54,244.97 312.24,245.01 312.94,245.06 313.64,245.1 314.34,245.15 315.05,245.2 315.75,245.25 316.45,245.31 317.15,245.38 317.85,245.45 318.55,245.53 319.25,245.61 319.95,245.7 320.65,245.8 321.35,245.9 322.06,246.01 322.76,246.13 323.46,246.26 324.16,246.4 324.86,246.55 325.56,246.71 326.26,246.91 326.96,247.17 327.66,247.5 328.36,247.88 329.07,248.32 329.77,248.8 330.47,249.32 331.17,249.87 331.87,250.46 332.57,251.07 333.27,251.7 333.97,252.35 334.67,253.01 335.38,253.67 336.08,254.32 336.78,254.98 337.48,255.62 338.18,256.28 338.88,256.95 339.58,257.66 340.28,258.41 340.98,259.21 341.68,260.06 342.38,260.98 343.09,261.98 343.79,263.09 344.49,264.35 345.19,265.75 345.89,267.27 346.59,268.9 347.29,270.61 347.99,272.39 348.69,274.24 349.39,276.18 350.1,278.3 350.8,280.57 351.5,282.99 352.2,285.54 352.9,288.35 353.6,291.59 354.3,294.92 355,298.01 355.7,300.64 356.4,303.1 357.11,305.41 357.81,307.61 358.51,309.75 359.21,311.86 359.91,313.96 360.61,316.1 361.31,318.3 362.01,320.6 362.71,322.99 363.41,325.45 364.12,327.93 364.82,330.43 365.52,332.9 366.22,335.33 366.92,337.68 367.62,339.94 368.32,342.07 369.02,344.05 369.72,345.89 370.42,347.61 371.13,349.21 371.83,350.73 372.53,352.18 373.23,353.53 373.93,354.71 374.63,355.75 375.33,356.7 376.03,357.54 376.73,358.27 377.44,358.97 378.14,359.66 378.84,360.32 379.54,360.93 380.24,361.48 380.94,361.95 381.64,362.33 382.34,362.6 383.04,362.8 383.74,362.98 384.44,363.13 385.15,363.27 385.85,363.39 386.55,363.49 387.25,363.58 387.95,363.66 388.65,363.73 389.35,363.79 390.05,363.85 390.75,363.91 391.45,363.96 392.16,364.01 392.86,364.05 393.56,364.09 394.26,364.13 394.96,364.17 395.66,364.21 396.36,364.25 397.06,364.29 397.76,364.32 398.46,364.36 399.17,364.4 399.87,364.44 400.57,364.49 401.27,364.53 401.97,364.57 402.67,364.61 403.37,364.66 404.07,364.7 404.77,364.74 405.47,364.78 406.18,364.82 406.88,364.86 407.58,364.89 408.28,364.93 408.98,364.97 409.68,365.01 410.38,365.04 411.08,365.08 411.78,365.12 412.48,365.15 413.19,365.19 413.89,365.22 414.59,365.26 415.29,365.29 415.99,365.32 416.69,365.36 417.39,365.39 418.09,365.43 418.79,365.46 419.5,365.5"/>
<line x1="270.6" y1="229" x2="275.8" y2="229" stroke="#777" stroke-width="0.8"/>
<text x="265.4" y="232.5" font-size="9.9" text-anchor="end">0.5</text>
<line x1="270.6" y1="255.3" x2="275.8" y2="255.3" stroke="#777" stroke-width="0.8"/>
<text x="265.4" y="258.8" font-size="9.9" text-anchor="end">0.4</text>
<line x1="270.6" y1="281.6" x2="275.8" y2="281.6" stroke="#777" stroke-width="0.8"/>
<text x="265.4" y="285.1" font-size="9.9" text-anchor="end">0.3</text>
<line x1="270.6" y1="307.9" x2="275.8" y2="307.9" stroke="#777" stroke-width="0.8"/>
<text x="265.4" y="311.4" font-size="9.9" text-anchor="end">0.2</text>
<line x1="270.6" y1="334.2" x2="275.8" y2="334.2" stroke="#777" stroke-width="0.8"/>
<text x="265.4" y="337.7" font-size="9.9" text-anchor="end">0.1</text>
<line x1="270.6" y1="360.5" x2="275.8" y2="360.5" stroke="#777" stroke-width="0.8"/>
<text x="265.4" y="364" font-size="9.9" text-anchor="end">0.0</text>
<line x1="282.8" y1="372.8" x2="282.8" y2="378" stroke="#777" stroke-width="0.8"/>
<text x="282.8" y="389.7" font-size="9.9" text-anchor="middle">-200</text>
<line x1="300.32" y1="372.8" x2="300.32" y2="375.8" stroke="#aaa" stroke-width="0.8"/>
<line x1="317.85" y1="372.8" x2="317.85" y2="378" stroke="#777" stroke-width="0.8"/>
<text x="317.85" y="389.7" font-size="9.9" text-anchor="middle">-100</text>
<line x1="335.38" y1="372.8" x2="335.38" y2="375.8" stroke="#aaa" stroke-width="0.8"/>
<line x1="352.9" y1="372.8" x2="352.9" y2="378" stroke="#777" stroke-width="0.8"/>
<text x="352.9" y="389.7" font-size="9.9" text-anchor="middle">0</text>
<line x1="370.42" y1="372.8" x2="370.42" y2="375.8" stroke="#aaa" stroke-width="0.8"/>
<line x1="387.95" y1="372.8" x2="387.95" y2="378" stroke="#777" stroke-width="0.8"/>
<text x="387.95" y="389.7" font-size="9.9" text-anchor="middle">100</text>
<line x1="405.47" y1="372.8" x2="405.47" y2="375.8" stroke="#aaa" stroke-width="0.8"/>
<line x1="423" y1="372.8" x2="423" y2="378" stroke="#777" stroke-width="0.8"/>
<text x="423" y="389.7" font-size="9.9" text-anchor="middle">200</text>
<text x="341.3" y="401.5" font-size="11.2" font-style="italic">V<tspan font-size="7" dy="3.2" font-style="normal">bg</tspan><tspan dy="-3.2" font-style="normal"> (V)</tspan></text>
<text x="278" y="275.2" font-size="8.4" font-style="italic">V<tspan font-size="5.6" dy="2.4" font-style="normal">tg</tspan><tspan dy="-2.4" font-style="normal">(V) =</tspan></text>
<line x1="280.7" y1="285" x2="291.1" y2="285" stroke="#141414" stroke-width="0.9"/>
<text x="293.6" y="288" font-size="8.4" text-anchor="start">-15</text>
<line x1="280.7" y1="294.73" x2="291.1" y2="294.73" stroke="#2e2a70" stroke-width="0.9"/>
<text x="293.6" y="297.73" font-size="8.4" text-anchor="start">-10</text>
<line x1="280.7" y1="304.46" x2="291.1" y2="304.46" stroke="#5c2a98" stroke-width="0.9"/>
<text x="293.6" y="307.46" font-size="8.4" text-anchor="start">-5</text>
<line x1="280.7" y1="314.19" x2="291.1" y2="314.19" stroke="#8e3aa6" stroke-width="0.9"/>
<text x="296.2" y="317.19" font-size="8.4" text-anchor="start">0</text>
<line x1="280.7" y1="323.92" x2="291.1" y2="323.92" stroke="#e0506e" stroke-width="0.9"/>
<text x="296.2" y="326.92" font-size="8.4" text-anchor="start">5</text>
<line x1="280.7" y1="333.65" x2="291.1" y2="333.65" stroke="#f5845c" stroke-width="0.9"/>
<text x="296.2" y="336.65" font-size="8.4" text-anchor="start">10</text>
<line x1="280.7" y1="343.38" x2="291.1" y2="343.38" stroke="#fcc589" stroke-width="0.9"/>
<text x="296.2" y="346.38" font-size="8.4" text-anchor="start">15</text>
<rect x="502.6" y="19.2" width="149.2" height="2.69" fill="url(#e0)"/>
<rect x="502.6" y="21.19" width="149.2" height="2.69" fill="url(#e1)"/>
<rect x="502.6" y="23.17" width="149.2" height="2.69" fill="url(#e2)"/>
<rect x="502.6" y="25.16" width="149.2" height="2.69" fill="url(#e3)"/>
<rect x="502.6" y="27.14" width="149.2" height="2.69" fill="url(#e4)"/>
<rect x="502.6" y="29.13" width="149.2" height="2.69" fill="url(#e5)"/>
<rect x="502.6" y="31.11" width="149.2" height="2.69" fill="url(#e6)"/>
<rect x="502.6" y="33.1" width="149.2" height="2.69" fill="url(#e7)"/>
<rect x="502.6" y="35.08" width="149.2" height="2.69" fill="url(#e8)"/>
<rect x="502.6" y="37.07" width="149.2" height="2.69" fill="url(#e9)"/>
<rect x="502.6" y="39.05" width="149.2" height="2.69" fill="url(#e10)"/>
<rect x="502.6" y="41.04" width="149.2" height="2.69" fill="url(#e11)"/>
<rect x="502.6" y="43.02" width="149.2" height="2.69" fill="url(#e12)"/>
<rect x="502.6" y="45.01" width="149.2" height="2.69" fill="url(#e13)"/>
<rect x="502.6" y="46.99" width="149.2" height="2.69" fill="url(#e14)"/>
<rect x="502.6" y="48.98" width="149.2" height="2.69" fill="url(#e15)"/>
<rect x="502.6" y="50.97" width="149.2" height="2.69" fill="url(#e16)"/>
<rect x="502.6" y="52.95" width="149.2" height="2.69" fill="url(#e17)"/>
<rect x="502.6" y="54.94" width="149.2" height="2.69" fill="url(#e18)"/>
<rect x="502.6" y="56.92" width="149.2" height="2.69" fill="url(#e19)"/>
<rect x="502.6" y="58.91" width="149.2" height="2.69" fill="url(#e20)"/>
<rect x="502.6" y="60.89" width="149.2" height="2.69" fill="url(#e21)"/>
<rect x="502.6" y="62.88" width="149.2" height="2.69" fill="url(#e22)"/>
<rect x="502.6" y="64.86" width="149.2" height="2.69" fill="url(#e23)"/>
<rect x="502.6" y="66.85" width="149.2" height="2.69" fill="url(#e24)"/>
<rect x="502.6" y="68.83" width="149.2" height="2.69" fill="url(#e25)"/>
<rect x="502.6" y="70.82" width="149.2" height="2.69" fill="url(#e26)"/>
<rect x="502.6" y="72.8" width="149.2" height="2.69" fill="url(#e27)"/>
<rect x="502.6" y="74.79" width="149.2" height="2.69" fill="url(#e28)"/>
<rect x="502.6" y="76.77" width="149.2" height="2.69" fill="url(#e29)"/>
<rect x="502.6" y="78.76" width="149.2" height="2.69" fill="url(#e30)"/>
<rect x="502.6" y="80.75" width="149.2" height="2.69" fill="url(#e31)"/>
<rect x="502.6" y="82.73" width="149.2" height="2.69" fill="url(#e32)"/>
<rect x="502.6" y="84.72" width="149.2" height="2.69" fill="url(#e33)"/>
<rect x="502.6" y="86.7" width="149.2" height="2.69" fill="url(#e34)"/>
<rect x="502.6" y="88.69" width="149.2" height="2.69" fill="url(#e35)"/>
<rect x="502.6" y="90.67" width="149.2" height="2.69" fill="url(#e36)"/>
<rect x="502.6" y="92.66" width="149.2" height="2.69" fill="url(#e37)"/>
<rect x="502.6" y="94.64" width="149.2" height="2.69" fill="url(#e38)"/>
<rect x="502.6" y="96.63" width="149.2" height="2.69" fill="url(#e39)"/>
<rect x="502.6" y="98.61" width="149.2" height="2.69" fill="url(#e40)"/>
<rect x="502.6" y="100.6" width="149.2" height="2.69" fill="url(#e41)"/>
<rect x="502.6" y="102.58" width="149.2" height="2.69" fill="url(#e42)"/>
<rect x="502.6" y="104.57" width="149.2" height="2.69" fill="url(#e43)"/>
<rect x="502.6" y="106.55" width="149.2" height="2.69" fill="url(#e44)"/>
<rect x="502.6" y="108.54" width="149.2" height="2.69" fill="url(#e45)"/>
<rect x="502.6" y="110.53" width="149.2" height="2.69" fill="url(#e46)"/>
<rect x="502.6" y="112.51" width="149.2" height="2.69" fill="url(#e47)"/>
<rect x="502.6" y="114.5" width="149.2" height="2.69" fill="url(#e48)"/>
<rect x="502.6" y="116.48" width="149.2" height="2.69" fill="url(#e49)"/>
<rect x="502.6" y="118.47" width="149.2" height="2.69" fill="url(#e50)"/>
<rect x="502.6" y="120.45" width="149.2" height="2.69" fill="url(#e51)"/>
<rect x="502.6" y="122.44" width="149.2" height="2.69" fill="url(#e52)"/>
<rect x="502.6" y="124.42" width="149.2" height="2.69" fill="url(#e53)"/>
<rect x="502.6" y="126.41" width="149.2" height="2.69" fill="url(#e54)"/>
<rect x="502.6" y="128.39" width="149.2" height="2.69" fill="url(#e55)"/>
<rect x="502.6" y="130.38" width="149.2" height="2.69" fill="url(#e56)"/>
<rect x="502.6" y="132.36" width="149.2" height="2.69" fill="url(#e57)"/>
<rect x="502.6" y="134.35" width="149.2" height="2.69" fill="url(#e58)"/>
<rect x="502.6" y="136.33" width="149.2" height="2.69" fill="url(#e59)"/>
<rect x="502.6" y="138.32" width="149.2" height="2.69" fill="url(#e60)"/>
<rect x="502.6" y="140.31" width="149.2" height="2.69" fill="url(#e61)"/>
<rect x="502.6" y="142.29" width="149.2" height="2.69" fill="url(#e62)"/>
<rect x="502.6" y="144.28" width="149.2" height="2.69" fill="url(#e63)"/>
<rect x="502.6" y="146.26" width="149.2" height="2.69" fill="url(#e64)"/>
<rect x="502.6" y="148.25" width="149.2" height="2.69" fill="url(#e65)"/>
<rect x="502.6" y="150.23" width="149.2" height="2.69" fill="url(#e66)"/>
<rect x="502.6" y="152.22" width="149.2" height="2.69" fill="url(#e67)"/>
<rect x="502.6" y="154.2" width="149.2" height="2.69" fill="url(#e68)"/>
<rect x="502.6" y="156.19" width="149.2" height="2.69" fill="url(#e69)"/>
<rect x="502.6" y="158.17" width="149.2" height="2.69" fill="url(#e70)"/>
<rect x="502.6" y="160.16" width="149.2" height="2.69" fill="url(#e71)"/>
<rect x="502.6" y="162.14" width="149.2" height="2.69" fill="url(#e72)"/>
<rect x="502.6" y="164.13" width="149.2" height="2.69" fill="url(#e73)"/>
<rect x="502.6" y="166.11" width="149.2" height="2.69" fill="url(#e74)"/>
<line x1="502.3" y1="19.2" x2="502.3" y2="168.1" stroke="#888" stroke-width="0.7"/>
<line x1="502.6" y1="19.4" x2="651.8" y2="19.4" stroke="#333" stroke-width="0.9"/>
<line x1="502.6" y1="168.1" x2="651.8" y2="168.1" stroke="#888" stroke-width="0.7"/>
<line x1="578" y1="16" x2="578" y2="22.3" stroke="#333" stroke-width="1.4"/>
<line x1="635.8" y1="16" x2="635.8" y2="22.3" stroke="#2a7ae2" stroke-width="1.4"/>
<line x1="652" y1="16" x2="652" y2="22.3" stroke="#3cb371" stroke-width="1.4"/>
<rect x="543.7" y="19.2" width="66.9" height="25.3" fill="none" stroke="#444" stroke-width="0.8" stroke-dasharray="1.6 1.8"/>
<rect x="543.7" y="143.3" width="67.6" height="24.8" fill="none" stroke="#444" stroke-width="0.8" stroke-dasharray="1.6 1.8"/>
<rect x="543.4" y="91.5" width="67.9" height="4.8" fill="none" stroke="#222" stroke-width="0.8" stroke-dasharray="2.2 1.4"/>
<polygon points="528.9,81.3 600.3,66 615,132.4 543.1,148.3" fill="none" stroke="#d050c8" stroke-width="1.1" stroke-dasharray="3 2.2"/>
<text x="577.2" y="32.8" font-size="8.6" text-anchor="middle">0.5</text>
<text x="577.2" y="159" font-size="8.6" text-anchor="middle">0.5</text>
<text x="576.5" y="88.2" font-size="8.6" text-anchor="middle">0.0</text>
<text x="508.6" y="33.4" font-size="8.0" text-anchor="start">Theory</text>
<line x1="499.4" y1="19.52" x2="502.6" y2="19.52" stroke="#555" stroke-width="0.8"/>
<text x="498.9" y="22.32" font-size="9.9" text-anchor="end">14</text>
<line x1="499.4" y1="56.41" x2="502.6" y2="56.41" stroke="#555" stroke-width="0.8"/>
<text x="498.9" y="59.21" font-size="9.9" text-anchor="end">7</text>
<line x1="499.4" y1="93.3" x2="502.6" y2="93.3" stroke="#555" stroke-width="0.8"/>
<text x="498.9" y="96.1" font-size="9.9" text-anchor="end">0</text>
<line x1="499.4" y1="130.19" x2="502.6" y2="130.19" stroke="#555" stroke-width="0.8"/>
<text x="498.9" y="132.99" font-size="9.9" text-anchor="end">-7</text>
<line x1="499.4" y1="167.08" x2="502.6" y2="167.08" stroke="#555" stroke-width="0.8"/>
<text x="498.9" y="169.88" font-size="9.9" text-anchor="end">-14</text>
<line x1="500.8" y1="37.97" x2="502.6" y2="37.97" stroke="#888" stroke-width="0.6"/>
<line x1="500.8" y1="74.85" x2="502.6" y2="74.85" stroke="#888" stroke-width="0.6"/>
<line x1="500.8" y1="111.75" x2="502.6" y2="111.75" stroke="#888" stroke-width="0.6"/>
<line x1="500.8" y1="148.63" x2="502.6" y2="148.63" stroke="#888" stroke-width="0.6"/>
<line x1="502.9" y1="168.1" x2="502.9" y2="171.6" stroke="#555" stroke-width="0.8"/>
<text x="501.3" y="179.8" font-size="9.9" text-anchor="middle">-4</text>
<line x1="540.1" y1="168.1" x2="540.1" y2="171.6" stroke="#555" stroke-width="0.8"/>
<text x="538.5" y="179.8" font-size="9.9" text-anchor="middle">-2</text>
<line x1="577.3" y1="168.1" x2="577.3" y2="171.6" stroke="#555" stroke-width="0.8"/>
<text x="577.3" y="179.8" font-size="9.9" text-anchor="middle">0</text>
<line x1="614.5" y1="168.1" x2="614.5" y2="171.6" stroke="#555" stroke-width="0.8"/>
<text x="614.5" y="179.8" font-size="9.9" text-anchor="middle">2</text>
<line x1="651.7" y1="168.1" x2="651.7" y2="171.6" stroke="#555" stroke-width="0.8"/>
<text x="651.7" y="179.8" font-size="9.9" text-anchor="middle">4</text>
<line x1="521.5" y1="168.1" x2="521.5" y2="170.1" stroke="#888" stroke-width="0.6"/>
<line x1="558.7" y1="168.1" x2="558.7" y2="170.1" stroke="#888" stroke-width="0.6"/>
<line x1="595.9" y1="168.1" x2="595.9" y2="170.1" stroke="#888" stroke-width="0.6"/>
<line x1="633.1" y1="168.1" x2="633.1" y2="170.1" stroke="#888" stroke-width="0.6"/>
<text x="565.6" y="194.2" font-size="12" font-style="italic">V<tspan font-size="7" dy="3.2" font-style="normal">t</tspan><tspan dy="-3.2">/M</tspan><tspan font-size="7" dy="3.2" font-style="normal">b</tspan></text>
<text transform="translate(485.6,91.5) rotate(-90)" font-size="12" text-anchor="middle" font-style="italic">V<tspan font-size="7" dy="3.2" font-style="normal">b</tspan><tspan dy="-3.2">/M</tspan><tspan font-size="7" dy="3.2" font-style="normal">b</tspan></text>
<rect x="660.2" y="22.4" width="6.3" height="144" fill="url(#ecb)"/>
<rect x="660.2" y="19.1" width="6.3" height="3.3" fill="#6e6e6e"/>
<rect x="660.2" y="166.2" width="6.3" height="3.3" fill="#000"/>
<rect x="660.2" y="19.1" width="6.3" height="150.4" fill="none" stroke="#666" stroke-width="0.5"/>
<line x1="666.5" y1="22.6" x2="668.3" y2="22.6" stroke="#333" stroke-width="0.8"/>
<text x="670.6" y="25.8" font-size="8.6" text-anchor="start">0.5</text>
<line x1="666.5" y1="31.6" x2="667.7" y2="31.6" stroke="#555" stroke-width="0.6"/>
<line x1="666.5" y1="40.6" x2="668.3" y2="40.6" stroke="#333" stroke-width="0.8"/>
<text x="670.6" y="43.8" font-size="8.6" text-anchor="start">0.4</text>
<line x1="666.5" y1="49.6" x2="667.7" y2="49.6" stroke="#555" stroke-width="0.6"/>
<line x1="666.5" y1="58.6" x2="668.3" y2="58.6" stroke="#333" stroke-width="0.8"/>
<text x="670.6" y="61.8" font-size="8.6" text-anchor="start">0.3</text>
<line x1="666.5" y1="67.6" x2="667.7" y2="67.6" stroke="#555" stroke-width="0.6"/>
<line x1="666.5" y1="76.6" x2="668.3" y2="76.6" stroke="#333" stroke-width="0.8"/>
<text x="670.6" y="79.8" font-size="8.6" text-anchor="start">0.2</text>
<line x1="666.5" y1="85.6" x2="667.7" y2="85.6" stroke="#555" stroke-width="0.6"/>
<line x1="666.5" y1="94.6" x2="668.3" y2="94.6" stroke="#333" stroke-width="0.8"/>
<text x="670.6" y="97.8" font-size="8.6" text-anchor="start">0.1</text>
<line x1="666.5" y1="103.6" x2="667.7" y2="103.6" stroke="#555" stroke-width="0.6"/>
<line x1="666.5" y1="112.6" x2="668.3" y2="112.6" stroke="#333" stroke-width="0.8"/>
<text x="670.6" y="115.8" font-size="8.6" text-anchor="start">0</text>
<line x1="666.5" y1="121.6" x2="667.7" y2="121.6" stroke="#555" stroke-width="0.6"/>
<line x1="666.5" y1="130.6" x2="668.3" y2="130.6" stroke="#333" stroke-width="0.8"/>
<text x="670.6" y="133.8" font-size="8.6" text-anchor="start">-0.1</text>
<line x1="666.5" y1="139.6" x2="667.7" y2="139.6" stroke="#555" stroke-width="0.6"/>
<line x1="666.5" y1="148.6" x2="668.3" y2="148.6" stroke="#333" stroke-width="0.8"/>
<text x="670.6" y="151.8" font-size="8.6" text-anchor="start">-0.2</text>
<line x1="666.5" y1="157.6" x2="667.7" y2="157.6" stroke="#555" stroke-width="0.6"/>
<line x1="666.5" y1="166.6" x2="668.3" y2="166.6" stroke="#333" stroke-width="0.8"/>
<text x="670.6" y="169.8" font-size="8.6" text-anchor="start">-0.3</text>
<line x1="502.7" y1="223.3" x2="652.4" y2="223.3" stroke="#777" stroke-width="1.0"/>
<line x1="652.4" y1="223.3" x2="652.4" y2="372.7" stroke="#555" stroke-width="1.1"/>
<line x1="502.7" y1="222.8" x2="502.7" y2="373.4" stroke="#aaa" stroke-width="1.4"/>
<line x1="502" y1="372.7" x2="652.9" y2="372.7" stroke="#aaa" stroke-width="1.4"/>
<line x1="502.7" y1="250.5" x2="652.4" y2="250.5" stroke="#aaa" stroke-width="0.7" stroke-dasharray="1.2 1.2"/>
<line x1="502.7" y1="318.5" x2="652.4" y2="318.5" stroke="#aaa" stroke-width="0.7" stroke-dasharray="1.2 1.2"/>
<line x1="502.7" y1="372.7" x2="502.7" y2="371.1" stroke="#333" stroke-width="0.8"/>
<line x1="502.7" y1="223.3" x2="502.7" y2="224.9" stroke="#333" stroke-width="0.8"/>
<line x1="521.55" y1="372.7" x2="521.55" y2="371.1" stroke="#333" stroke-width="0.8"/>
<line x1="521.55" y1="223.3" x2="521.55" y2="224.9" stroke="#333" stroke-width="0.8"/>
<line x1="540.4" y1="372.7" x2="540.4" y2="371.1" stroke="#333" stroke-width="0.8"/>
<line x1="540.4" y1="223.3" x2="540.4" y2="224.9" stroke="#333" stroke-width="0.8"/>
<line x1="559.25" y1="372.7" x2="559.25" y2="371.1" stroke="#333" stroke-width="0.8"/>
<line x1="559.25" y1="223.3" x2="559.25" y2="224.9" stroke="#333" stroke-width="0.8"/>
<line x1="578.1" y1="372.7" x2="578.1" y2="371.1" stroke="#333" stroke-width="0.8"/>
<line x1="578.1" y1="223.3" x2="578.1" y2="224.9" stroke="#333" stroke-width="0.8"/>
<line x1="596.95" y1="372.7" x2="596.95" y2="371.1" stroke="#333" stroke-width="0.8"/>
<line x1="596.95" y1="223.3" x2="596.95" y2="224.9" stroke="#333" stroke-width="0.8"/>
<line x1="615.8" y1="372.7" x2="615.8" y2="371.1" stroke="#333" stroke-width="0.8"/>
<line x1="615.8" y1="223.3" x2="615.8" y2="224.9" stroke="#333" stroke-width="0.8"/>
<line x1="634.65" y1="372.7" x2="634.65" y2="371.1" stroke="#333" stroke-width="0.8"/>
<line x1="634.65" y1="223.3" x2="634.65" y2="224.9" stroke="#333" stroke-width="0.8"/>
<line x1="653.5" y1="372.7" x2="653.5" y2="371.1" stroke="#333" stroke-width="0.8"/>
<line x1="653.5" y1="223.3" x2="653.5" y2="224.9" stroke="#333" stroke-width="0.8"/>
<line x1="502.7" y1="372.9" x2="504.3" y2="372.9" stroke="#333" stroke-width="0.8"/>
<line x1="652.4" y1="372.9" x2="650.8" y2="372.9" stroke="#333" stroke-width="0.8"/>
<line x1="502.7" y1="359.3" x2="504.3" y2="359.3" stroke="#333" stroke-width="0.8"/>
<line x1="652.4" y1="359.3" x2="650.8" y2="359.3" stroke="#333" stroke-width="0.8"/>
<line x1="502.7" y1="345.7" x2="504.3" y2="345.7" stroke="#333" stroke-width="0.8"/>
<line x1="652.4" y1="345.7" x2="650.8" y2="345.7" stroke="#333" stroke-width="0.8"/>
<line x1="502.7" y1="332.1" x2="504.3" y2="332.1" stroke="#333" stroke-width="0.8"/>
<line x1="652.4" y1="332.1" x2="650.8" y2="332.1" stroke="#333" stroke-width="0.8"/>
<line x1="502.7" y1="318.5" x2="504.3" y2="318.5" stroke="#333" stroke-width="0.8"/>
<line x1="652.4" y1="318.5" x2="650.8" y2="318.5" stroke="#333" stroke-width="0.8"/>
<line x1="502.7" y1="304.9" x2="504.3" y2="304.9" stroke="#333" stroke-width="0.8"/>
<line x1="652.4" y1="304.9" x2="650.8" y2="304.9" stroke="#333" stroke-width="0.8"/>
<line x1="502.7" y1="291.3" x2="504.3" y2="291.3" stroke="#333" stroke-width="0.8"/>
<line x1="652.4" y1="291.3" x2="650.8" y2="291.3" stroke="#333" stroke-width="0.8"/>
<line x1="502.7" y1="277.7" x2="504.3" y2="277.7" stroke="#333" stroke-width="0.8"/>
<line x1="652.4" y1="277.7" x2="650.8" y2="277.7" stroke="#333" stroke-width="0.8"/>
<line x1="502.7" y1="264.1" x2="504.3" y2="264.1" stroke="#333" stroke-width="0.8"/>
<line x1="652.4" y1="264.1" x2="650.8" y2="264.1" stroke="#333" stroke-width="0.8"/>
<line x1="502.7" y1="250.5" x2="504.3" y2="250.5" stroke="#333" stroke-width="0.8"/>
<line x1="652.4" y1="250.5" x2="650.8" y2="250.5" stroke="#333" stroke-width="0.8"/>
<line x1="502.7" y1="236.9" x2="504.3" y2="236.9" stroke="#333" stroke-width="0.8"/>
<line x1="652.4" y1="236.9" x2="650.8" y2="236.9" stroke="#333" stroke-width="0.8"/>
<line x1="502.7" y1="223.3" x2="504.3" y2="223.3" stroke="#333" stroke-width="0.8"/>
<line x1="652.4" y1="223.3" x2="650.8" y2="223.3" stroke="#333" stroke-width="0.8"/>
<text x="501.2" y="226.8" font-size="9.9" text-anchor="end">0.7</text>
<text x="501.2" y="254" font-size="9.9" text-anchor="end">0.5</text>
<text x="501.2" y="281.2" font-size="9.9" text-anchor="end">0.3</text>
<text x="501.2" y="308.4" font-size="9.9" text-anchor="end">0.1</text>
<text x="501.2" y="335.6" font-size="9.9" text-anchor="end">-0.1</text>
<text x="501.2" y="362.8" font-size="9.9" text-anchor="end">-0.3</text>
<text x="499.6" y="382.6" font-size="9.9" text-anchor="middle">-15</text>
<text x="539.3" y="382.6" font-size="9.9" text-anchor="middle">-10</text>
<text x="578.2" y="382.6" font-size="9.9" text-anchor="middle">-5</text>
<text x="615.1" y="382.6" font-size="9.9" text-anchor="middle">0</text>
<text x="653.2" y="382.6" font-size="9.9" text-anchor="middle">5</text>
<line x1="510.3" y1="249.6" x2="510.3" y2="254.4" stroke="#5a5a5a" stroke-width="0.8"/>
<line x1="509.1" y1="249.6" x2="511.5" y2="249.6" stroke="#5a5a5a" stroke-width="0.7"/>
<line x1="509.1" y1="254.4" x2="511.5" y2="254.4" stroke="#5a5a5a" stroke-width="0.7"/>
<line x1="520.4" y1="247.4" x2="520.4" y2="252.2" stroke="#5a5a5a" stroke-width="0.8"/>
<line x1="519.2" y1="247.4" x2="521.6" y2="247.4" stroke="#5a5a5a" stroke-width="0.7"/>
<line x1="519.2" y1="252.2" x2="521.6" y2="252.2" stroke="#5a5a5a" stroke-width="0.7"/>
<line x1="530.6" y1="246.5" x2="530.6" y2="254.1" stroke="#5a5a5a" stroke-width="0.8"/>
<line x1="529.4" y1="246.5" x2="531.8" y2="246.5" stroke="#5a5a5a" stroke-width="0.7"/>
<line x1="529.4" y1="254.1" x2="531.8" y2="254.1" stroke="#5a5a5a" stroke-width="0.7"/>
<line x1="540.5" y1="246.2" x2="540.5" y2="259.2" stroke="#5a5a5a" stroke-width="0.8"/>
<line x1="539.3" y1="246.2" x2="541.7" y2="246.2" stroke="#5a5a5a" stroke-width="0.7"/>
<line x1="539.3" y1="259.2" x2="541.7" y2="259.2" stroke="#5a5a5a" stroke-width="0.7"/>
<line x1="550.8" y1="247.6" x2="550.8" y2="259.6" stroke="#5a5a5a" stroke-width="0.8"/>
<line x1="549.6" y1="247.6" x2="552" y2="247.6" stroke="#5a5a5a" stroke-width="0.7"/>
<line x1="549.6" y1="259.6" x2="552" y2="259.6" stroke="#5a5a5a" stroke-width="0.7"/>
<line x1="560.6" y1="254.3" x2="560.6" y2="264.3" stroke="#5a5a5a" stroke-width="0.8"/>
<line x1="559.4" y1="254.3" x2="561.8" y2="254.3" stroke="#5a5a5a" stroke-width="0.7"/>
<line x1="559.4" y1="264.3" x2="561.8" y2="264.3" stroke="#5a5a5a" stroke-width="0.7"/>
<line x1="570.5" y1="255.9" x2="570.5" y2="270.9" stroke="#5a5a5a" stroke-width="0.8"/>
<line x1="569.3" y1="255.9" x2="571.7" y2="255.9" stroke="#5a5a5a" stroke-width="0.7"/>
<line x1="569.3" y1="270.9" x2="571.7" y2="270.9" stroke="#5a5a5a" stroke-width="0.7"/>
<line x1="580.5" y1="270.8" x2="580.5" y2="285.8" stroke="#5a5a5a" stroke-width="0.8"/>
<line x1="579.3" y1="270.8" x2="581.7" y2="270.8" stroke="#5a5a5a" stroke-width="0.7"/>
<line x1="579.3" y1="285.8" x2="581.7" y2="285.8" stroke="#5a5a5a" stroke-width="0.7"/>
<line x1="590.4" y1="274.1" x2="590.4" y2="288.1" stroke="#5a5a5a" stroke-width="0.8"/>
<line x1="589.2" y1="274.1" x2="591.6" y2="274.1" stroke="#5a5a5a" stroke-width="0.7"/>
<line x1="589.2" y1="288.1" x2="591.6" y2="288.1" stroke="#5a5a5a" stroke-width="0.7"/>
<line x1="600.2" y1="289.7" x2="600.2" y2="302.7" stroke="#5a5a5a" stroke-width="0.8"/>
<line x1="599" y1="289.7" x2="601.4" y2="289.7" stroke="#5a5a5a" stroke-width="0.7"/>
<line x1="599" y1="302.7" x2="601.4" y2="302.7" stroke="#5a5a5a" stroke-width="0.7"/>
<line x1="602" y1="294" x2="602" y2="304" stroke="#5a5a5a" stroke-width="0.8"/>
<line x1="600.8" y1="294" x2="603.2" y2="294" stroke="#5a5a5a" stroke-width="0.7"/>
<line x1="600.8" y1="304" x2="603.2" y2="304" stroke="#5a5a5a" stroke-width="0.7"/>
<line x1="604" y1="297.5" x2="604" y2="307.5" stroke="#5a5a5a" stroke-width="0.8"/>
<line x1="602.8" y1="297.5" x2="605.2" y2="297.5" stroke="#5a5a5a" stroke-width="0.7"/>
<line x1="602.8" y1="307.5" x2="605.2" y2="307.5" stroke="#5a5a5a" stroke-width="0.7"/>
<line x1="606" y1="301.5" x2="606" y2="310.5" stroke="#5a5a5a" stroke-width="0.8"/>
<line x1="604.8" y1="301.5" x2="607.2" y2="301.5" stroke="#5a5a5a" stroke-width="0.7"/>
<line x1="604.8" y1="310.5" x2="607.2" y2="310.5" stroke="#5a5a5a" stroke-width="0.7"/>
<line x1="608" y1="305" x2="608" y2="314" stroke="#5a5a5a" stroke-width="0.8"/>
<line x1="606.8" y1="305" x2="609.2" y2="305" stroke="#5a5a5a" stroke-width="0.7"/>
<line x1="606.8" y1="314" x2="609.2" y2="314" stroke="#5a5a5a" stroke-width="0.7"/>
<line x1="610" y1="309" x2="610" y2="317" stroke="#5a5a5a" stroke-width="0.8"/>
<line x1="608.8" y1="309" x2="611.2" y2="309" stroke="#5a5a5a" stroke-width="0.7"/>
<line x1="608.8" y1="317" x2="611.2" y2="317" stroke="#5a5a5a" stroke-width="0.7"/>
<line x1="612" y1="313" x2="612" y2="321" stroke="#5a5a5a" stroke-width="0.8"/>
<line x1="610.8" y1="313" x2="613.2" y2="313" stroke="#5a5a5a" stroke-width="0.7"/>
<line x1="610.8" y1="321" x2="613.2" y2="321" stroke="#5a5a5a" stroke-width="0.7"/>
<line x1="613.5" y1="315" x2="613.5" y2="322" stroke="#5a5a5a" stroke-width="0.8"/>
<line x1="612.3" y1="315" x2="614.7" y2="315" stroke="#5a5a5a" stroke-width="0.7"/>
<line x1="612.3" y1="322" x2="614.7" y2="322" stroke="#5a5a5a" stroke-width="0.7"/>
<line x1="615" y1="315" x2="615" y2="322" stroke="#5a5a5a" stroke-width="0.8"/>
<line x1="613.8" y1="315" x2="616.2" y2="315" stroke="#5a5a5a" stroke-width="0.7"/>
<line x1="613.8" y1="322" x2="616.2" y2="322" stroke="#5a5a5a" stroke-width="0.7"/>
<line x1="616.5" y1="315" x2="616.5" y2="322" stroke="#5a5a5a" stroke-width="0.8"/>
<line x1="615.3" y1="315" x2="617.7" y2="315" stroke="#5a5a5a" stroke-width="0.7"/>
<line x1="615.3" y1="322" x2="617.7" y2="322" stroke="#5a5a5a" stroke-width="0.7"/>
<line x1="618" y1="314" x2="618" y2="322" stroke="#5a5a5a" stroke-width="0.8"/>
<line x1="616.8" y1="314" x2="619.2" y2="314" stroke="#5a5a5a" stroke-width="0.7"/>
<line x1="616.8" y1="322" x2="619.2" y2="322" stroke="#5a5a5a" stroke-width="0.7"/>
<line x1="620" y1="311" x2="620" y2="319" stroke="#5a5a5a" stroke-width="0.8"/>
<line x1="618.8" y1="311" x2="621.2" y2="311" stroke="#5a5a5a" stroke-width="0.7"/>
<line x1="618.8" y1="319" x2="621.2" y2="319" stroke="#5a5a5a" stroke-width="0.7"/>
<line x1="622" y1="306.5" x2="622" y2="315.5" stroke="#5a5a5a" stroke-width="0.8"/>
<line x1="620.8" y1="306.5" x2="623.2" y2="306.5" stroke="#5a5a5a" stroke-width="0.7"/>
<line x1="620.8" y1="315.5" x2="623.2" y2="315.5" stroke="#5a5a5a" stroke-width="0.7"/>
<line x1="624" y1="303" x2="624" y2="312" stroke="#5a5a5a" stroke-width="0.8"/>
<line x1="622.8" y1="303" x2="625.2" y2="303" stroke="#5a5a5a" stroke-width="0.7"/>
<line x1="622.8" y1="312" x2="625.2" y2="312" stroke="#5a5a5a" stroke-width="0.7"/>
<line x1="626" y1="298.5" x2="626" y2="308.5" stroke="#5a5a5a" stroke-width="0.8"/>
<line x1="624.8" y1="298.5" x2="627.2" y2="298.5" stroke="#5a5a5a" stroke-width="0.7"/>
<line x1="624.8" y1="308.5" x2="627.2" y2="308.5" stroke="#5a5a5a" stroke-width="0.7"/>
<line x1="628" y1="294.5" x2="628" y2="304.5" stroke="#5a5a5a" stroke-width="0.8"/>
<line x1="626.8" y1="294.5" x2="629.2" y2="294.5" stroke="#5a5a5a" stroke-width="0.7"/>
<line x1="626.8" y1="304.5" x2="629.2" y2="304.5" stroke="#5a5a5a" stroke-width="0.7"/>
<line x1="630.5" y1="289.5" x2="630.5" y2="300.5" stroke="#5a5a5a" stroke-width="0.8"/>
<line x1="629.3" y1="289.5" x2="631.7" y2="289.5" stroke="#5a5a5a" stroke-width="0.7"/>
<line x1="629.3" y1="300.5" x2="631.7" y2="300.5" stroke="#5a5a5a" stroke-width="0.7"/>
<line x1="640.2" y1="275.6" x2="640.2" y2="289.6" stroke="#5a5a5a" stroke-width="0.8"/>
<line x1="639" y1="275.6" x2="641.4" y2="275.6" stroke="#5a5a5a" stroke-width="0.7"/>
<line x1="639" y1="289.6" x2="641.4" y2="289.6" stroke="#5a5a5a" stroke-width="0.7"/>
<line x1="649.9" y1="267.7" x2="649.9" y2="280.7" stroke="#5a5a5a" stroke-width="0.8"/>
<line x1="648.7" y1="267.7" x2="651.1" y2="267.7" stroke="#5a5a5a" stroke-width="0.7"/>
<line x1="648.7" y1="280.7" x2="651.1" y2="280.7" stroke="#5a5a5a" stroke-width="0.7"/>
<polyline fill="none" stroke="#5a5a5a" stroke-width="1.1" points="510.3,252 520.4,249.8 530.6,250.3 540.5,252.7 550.8,253.6 560.6,259.3 570.5,263.4 580.5,278.3 590.4,281.1 600.2,296.2 602,299 604,302.5 606,306 608,309.5 610,313 612,317 613.5,318.5 615,318.5 616.5,318.5 618,318 620,315 622,311 624,307.5 626,303.5 628,299.5 630.5,295 640.2,282.6 649.9,274.2"/>
<rect x="508.7" y="250.4" width="3.2" height="3.2" fill="#5a5a5a"/>
<rect x="518.8" y="248.2" width="3.2" height="3.2" fill="#5a5a5a"/>
<rect x="529" y="248.7" width="3.2" height="3.2" fill="#5a5a5a"/>
<rect x="538.9" y="251.1" width="3.2" height="3.2" fill="#5a5a5a"/>
<rect x="549.2" y="252" width="3.2" height="3.2" fill="#5a5a5a"/>
<rect x="559" y="257.7" width="3.2" height="3.2" fill="#5a5a5a"/>
<rect x="568.9" y="261.8" width="3.2" height="3.2" fill="#5a5a5a"/>
<rect x="578.9" y="276.7" width="3.2" height="3.2" fill="#5a5a5a"/>
<rect x="588.8" y="279.5" width="3.2" height="3.2" fill="#5a5a5a"/>
<rect x="598.6" y="294.6" width="3.2" height="3.2" fill="#5a5a5a"/>
<rect x="600.4" y="297.4" width="3.2" height="3.2" fill="#5a5a5a"/>
<rect x="602.4" y="300.9" width="3.2" height="3.2" fill="#5a5a5a"/>
<rect x="604.4" y="304.4" width="3.2" height="3.2" fill="#5a5a5a"/>
<rect x="606.4" y="307.9" width="3.2" height="3.2" fill="#5a5a5a"/>
<rect x="608.4" y="311.4" width="3.2" height="3.2" fill="#5a5a5a"/>
<rect x="610.4" y="315.4" width="3.2" height="3.2" fill="#5a5a5a"/>
<rect x="611.9" y="316.9" width="3.2" height="3.2" fill="#5a5a5a"/>
<rect x="613.4" y="316.9" width="3.2" height="3.2" fill="#5a5a5a"/>
<rect x="614.9" y="316.9" width="3.2" height="3.2" fill="#5a5a5a"/>
<rect x="616.4" y="316.4" width="3.2" height="3.2" fill="#5a5a5a"/>
<rect x="618.4" y="313.4" width="3.2" height="3.2" fill="#5a5a5a"/>
<rect x="620.4" y="309.4" width="3.2" height="3.2" fill="#5a5a5a"/>
<rect x="622.4" y="305.9" width="3.2" height="3.2" fill="#5a5a5a"/>
<rect x="624.4" y="301.9" width="3.2" height="3.2" fill="#5a5a5a"/>
<rect x="626.4" y="297.9" width="3.2" height="3.2" fill="#5a5a5a"/>
<rect x="628.9" y="293.4" width="3.2" height="3.2" fill="#5a5a5a"/>
<rect x="638.6" y="281" width="3.2" height="3.2" fill="#5a5a5a"/>
<rect x="648.3" y="272.6" width="3.2" height="3.2" fill="#5a5a5a"/>
<line x1="510.3" y1="264.8" x2="510.3" y2="279.8" stroke="#2a78e0" stroke-width="0.8"/>
<line x1="509.1" y1="264.8" x2="511.5" y2="264.8" stroke="#2a78e0" stroke-width="0.7"/>
<line x1="509.1" y1="279.8" x2="511.5" y2="279.8" stroke="#2a78e0" stroke-width="0.7"/>
<line x1="520.4" y1="265.8" x2="520.4" y2="280.8" stroke="#2a78e0" stroke-width="0.8"/>
<line x1="519.2" y1="265.8" x2="521.6" y2="265.8" stroke="#2a78e0" stroke-width="0.7"/>
<line x1="519.2" y1="280.8" x2="521.6" y2="280.8" stroke="#2a78e0" stroke-width="0.7"/>
<line x1="530.6" y1="266.9" x2="530.6" y2="281.9" stroke="#2a78e0" stroke-width="0.8"/>
<line x1="529.4" y1="266.9" x2="531.8" y2="266.9" stroke="#2a78e0" stroke-width="0.7"/>
<line x1="529.4" y1="281.9" x2="531.8" y2="281.9" stroke="#2a78e0" stroke-width="0.7"/>
<line x1="540.5" y1="267.1" x2="540.5" y2="282.1" stroke="#2a78e0" stroke-width="0.8"/>
<line x1="539.3" y1="267.1" x2="541.7" y2="267.1" stroke="#2a78e0" stroke-width="0.7"/>
<line x1="539.3" y1="282.1" x2="541.7" y2="282.1" stroke="#2a78e0" stroke-width="0.7"/>
<line x1="550.8" y1="269" x2="550.8" y2="284" stroke="#2a78e0" stroke-width="0.8"/>
<line x1="549.6" y1="269" x2="552" y2="269" stroke="#2a78e0" stroke-width="0.7"/>
<line x1="549.6" y1="284" x2="552" y2="284" stroke="#2a78e0" stroke-width="0.7"/>
<line x1="560.6" y1="273.6" x2="560.6" y2="288.6" stroke="#2a78e0" stroke-width="0.8"/>
<line x1="559.4" y1="273.6" x2="561.8" y2="273.6" stroke="#2a78e0" stroke-width="0.7"/>
<line x1="559.4" y1="288.6" x2="561.8" y2="288.6" stroke="#2a78e0" stroke-width="0.7"/>
<line x1="570.5" y1="276.9" x2="570.5" y2="291.9" stroke="#2a78e0" stroke-width="0.8"/>
<line x1="569.3" y1="276.9" x2="571.7" y2="276.9" stroke="#2a78e0" stroke-width="0.7"/>
<line x1="569.3" y1="291.9" x2="571.7" y2="291.9" stroke="#2a78e0" stroke-width="0.7"/>
<line x1="580.5" y1="287.6" x2="580.5" y2="302.6" stroke="#2a78e0" stroke-width="0.8"/>
<line x1="579.3" y1="287.6" x2="581.7" y2="287.6" stroke="#2a78e0" stroke-width="0.7"/>
<line x1="579.3" y1="302.6" x2="581.7" y2="302.6" stroke="#2a78e0" stroke-width="0.7"/>
<line x1="590.4" y1="296.4" x2="590.4" y2="311.4" stroke="#2a78e0" stroke-width="0.8"/>
<line x1="589.2" y1="296.4" x2="591.6" y2="296.4" stroke="#2a78e0" stroke-width="0.7"/>
<line x1="589.2" y1="311.4" x2="591.6" y2="311.4" stroke="#2a78e0" stroke-width="0.7"/>
<line x1="600.2" y1="310.8" x2="600.2" y2="325.8" stroke="#2a78e0" stroke-width="0.8"/>
<line x1="599" y1="310.8" x2="601.4" y2="310.8" stroke="#2a78e0" stroke-width="0.7"/>
<line x1="599" y1="325.8" x2="601.4" y2="325.8" stroke="#2a78e0" stroke-width="0.7"/>
<line x1="603" y1="314.5" x2="603" y2="329.5" stroke="#2a78e0" stroke-width="0.8"/>
<line x1="601.8" y1="314.5" x2="604.2" y2="314.5" stroke="#2a78e0" stroke-width="0.7"/>
<line x1="601.8" y1="329.5" x2="604.2" y2="329.5" stroke="#2a78e0" stroke-width="0.7"/>
<line x1="605" y1="318.5" x2="605" y2="333.5" stroke="#2a78e0" stroke-width="0.8"/>
<line x1="603.8" y1="318.5" x2="606.2" y2="318.5" stroke="#2a78e0" stroke-width="0.7"/>
<line x1="603.8" y1="333.5" x2="606.2" y2="333.5" stroke="#2a78e0" stroke-width="0.7"/>
<line x1="607" y1="323.6" x2="607" y2="338.6" stroke="#2a78e0" stroke-width="0.8"/>
<line x1="605.8" y1="323.6" x2="608.2" y2="323.6" stroke="#2a78e0" stroke-width="0.7"/>
<line x1="605.8" y1="338.6" x2="608.2" y2="338.6" stroke="#2a78e0" stroke-width="0.7"/>
<line x1="609" y1="327.5" x2="609" y2="342.5" stroke="#2a78e0" stroke-width="0.8"/>
<line x1="607.8" y1="327.5" x2="610.2" y2="327.5" stroke="#2a78e0" stroke-width="0.7"/>
<line x1="607.8" y1="342.5" x2="610.2" y2="342.5" stroke="#2a78e0" stroke-width="0.7"/>
<line x1="611" y1="330.5" x2="611" y2="345.5" stroke="#2a78e0" stroke-width="0.8"/>
<line x1="609.8" y1="330.5" x2="612.2" y2="330.5" stroke="#2a78e0" stroke-width="0.7"/>
<line x1="609.8" y1="345.5" x2="612.2" y2="345.5" stroke="#2a78e0" stroke-width="0.7"/>
<line x1="613" y1="332.5" x2="613" y2="347.5" stroke="#2a78e0" stroke-width="0.8"/>
<line x1="611.8" y1="332.5" x2="614.2" y2="332.5" stroke="#2a78e0" stroke-width="0.7"/>
<line x1="611.8" y1="347.5" x2="614.2" y2="347.5" stroke="#2a78e0" stroke-width="0.7"/>
<line x1="615" y1="332.1" x2="615" y2="347.1" stroke="#2a78e0" stroke-width="0.8"/>
<line x1="613.8" y1="332.1" x2="616.2" y2="332.1" stroke="#2a78e0" stroke-width="0.7"/>
<line x1="613.8" y1="347.1" x2="616.2" y2="347.1" stroke="#2a78e0" stroke-width="0.7"/>
<line x1="617.3" y1="331.3" x2="617.3" y2="346.3" stroke="#2a78e0" stroke-width="0.8"/>
<line x1="616.1" y1="331.3" x2="618.5" y2="331.3" stroke="#2a78e0" stroke-width="0.7"/>
<line x1="616.1" y1="346.3" x2="618.5" y2="346.3" stroke="#2a78e0" stroke-width="0.7"/>
<line x1="619" y1="328.5" x2="619" y2="343.5" stroke="#2a78e0" stroke-width="0.8"/>
<line x1="617.8" y1="328.5" x2="620.2" y2="328.5" stroke="#2a78e0" stroke-width="0.7"/>
<line x1="617.8" y1="343.5" x2="620.2" y2="343.5" stroke="#2a78e0" stroke-width="0.7"/>
<line x1="621" y1="324.5" x2="621" y2="339.5" stroke="#2a78e0" stroke-width="0.8"/>
<line x1="619.8" y1="324.5" x2="622.2" y2="324.5" stroke="#2a78e0" stroke-width="0.7"/>
<line x1="619.8" y1="339.5" x2="622.2" y2="339.5" stroke="#2a78e0" stroke-width="0.7"/>
<line x1="622.4" y1="321.9" x2="622.4" y2="336.9" stroke="#2a78e0" stroke-width="0.8"/>
<line x1="621.2" y1="321.9" x2="623.6" y2="321.9" stroke="#2a78e0" stroke-width="0.7"/>
<line x1="621.2" y1="336.9" x2="623.6" y2="336.9" stroke="#2a78e0" stroke-width="0.7"/>
<line x1="625" y1="315.5" x2="625" y2="330.5" stroke="#2a78e0" stroke-width="0.8"/>
<line x1="623.8" y1="315.5" x2="626.2" y2="315.5" stroke="#2a78e0" stroke-width="0.7"/>
<line x1="623.8" y1="330.5" x2="626.2" y2="330.5" stroke="#2a78e0" stroke-width="0.7"/>
<line x1="627" y1="310.5" x2="627" y2="325.5" stroke="#2a78e0" stroke-width="0.8"/>
<line x1="625.8" y1="310.5" x2="628.2" y2="310.5" stroke="#2a78e0" stroke-width="0.7"/>
<line x1="625.8" y1="325.5" x2="628.2" y2="325.5" stroke="#2a78e0" stroke-width="0.7"/>
<line x1="629.2" y1="307.4" x2="629.2" y2="322.4" stroke="#2a78e0" stroke-width="0.8"/>
<line x1="628" y1="307.4" x2="630.4" y2="307.4" stroke="#2a78e0" stroke-width="0.7"/>
<line x1="628" y1="322.4" x2="630.4" y2="322.4" stroke="#2a78e0" stroke-width="0.7"/>
<line x1="639.4" y1="297.2" x2="639.4" y2="312.2" stroke="#2a78e0" stroke-width="0.8"/>
<line x1="638.2" y1="297.2" x2="640.6" y2="297.2" stroke="#2a78e0" stroke-width="0.7"/>
<line x1="638.2" y1="312.2" x2="640.6" y2="312.2" stroke="#2a78e0" stroke-width="0.7"/>
<line x1="649.6" y1="288.7" x2="649.6" y2="303.7" stroke="#2a78e0" stroke-width="0.8"/>
<line x1="648.4" y1="288.7" x2="650.8" y2="288.7" stroke="#2a78e0" stroke-width="0.7"/>
<line x1="648.4" y1="303.7" x2="650.8" y2="303.7" stroke="#2a78e0" stroke-width="0.7"/>
<polyline fill="none" stroke="#2a78e0" stroke-width="1.1" points="510.3,272.3 520.4,273.3 530.6,274.4 540.5,274.6 550.8,276.5 560.6,281.1 570.5,284.4 580.5,295.1 590.4,303.9 600.2,318.3 603,322 605,326 607,331.1 609,335 611,338 613,340 615,339.6 617.3,338.8 619,336 621,332 622.4,329.4 625,323 627,318 629.2,314.9 639.4,304.7 649.6,296.2"/>
<path d="M508.1 270.7h4.4l-2.2 3.8z" fill="#2a78e0"/>
<path d="M518.2 271.7h4.4l-2.2 3.8z" fill="#2a78e0"/>
<path d="M528.4 272.8h4.4l-2.2 3.8z" fill="#2a78e0"/>
<path d="M538.3 273h4.4l-2.2 3.8z" fill="#2a78e0"/>
<path d="M548.6 274.9h4.4l-2.2 3.8z" fill="#2a78e0"/>
<path d="M558.4 279.5h4.4l-2.2 3.8z" fill="#2a78e0"/>
<path d="M568.3 282.8h4.4l-2.2 3.8z" fill="#2a78e0"/>
<path d="M578.3 293.5h4.4l-2.2 3.8z" fill="#2a78e0"/>
<path d="M588.2 302.3h4.4l-2.2 3.8z" fill="#2a78e0"/>
<path d="M598 316.7h4.4l-2.2 3.8z" fill="#2a78e0"/>
<path d="M600.8 320.4h4.4l-2.2 3.8z" fill="#2a78e0"/>
<path d="M602.8 324.4h4.4l-2.2 3.8z" fill="#2a78e0"/>
<path d="M604.8 329.5h4.4l-2.2 3.8z" fill="#2a78e0"/>
<path d="M606.8 333.4h4.4l-2.2 3.8z" fill="#2a78e0"/>
<path d="M608.8 336.4h4.4l-2.2 3.8z" fill="#2a78e0"/>
<path d="M610.8 338.4h4.4l-2.2 3.8z" fill="#2a78e0"/>
<path d="M612.8 338h4.4l-2.2 3.8z" fill="#2a78e0"/>
<path d="M615.1 337.2h4.4l-2.2 3.8z" fill="#2a78e0"/>
<path d="M616.8 334.4h4.4l-2.2 3.8z" fill="#2a78e0"/>
<path d="M618.8 330.4h4.4l-2.2 3.8z" fill="#2a78e0"/>
<path d="M620.2 327.8h4.4l-2.2 3.8z" fill="#2a78e0"/>
<path d="M622.8 321.4h4.4l-2.2 3.8z" fill="#2a78e0"/>
<path d="M624.8 316.4h4.4l-2.2 3.8z" fill="#2a78e0"/>
<path d="M627 313.3h4.4l-2.2 3.8z" fill="#2a78e0"/>
<path d="M637.2 303.1h4.4l-2.2 3.8z" fill="#2a78e0"/>
<path d="M647.4 294.6h4.4l-2.2 3.8z" fill="#2a78e0"/>
<line x1="510.3" y1="276.4" x2="510.3" y2="292.4" stroke="#3aaa62" stroke-width="0.8"/>
<line x1="509.1" y1="276.4" x2="511.5" y2="276.4" stroke="#3aaa62" stroke-width="0.7"/>
<line x1="509.1" y1="292.4" x2="511.5" y2="292.4" stroke="#3aaa62" stroke-width="0.7"/>
<line x1="520.4" y1="275.8" x2="520.4" y2="291.8" stroke="#3aaa62" stroke-width="0.8"/>
<line x1="519.2" y1="275.8" x2="521.6" y2="275.8" stroke="#3aaa62" stroke-width="0.7"/>
<line x1="519.2" y1="291.8" x2="521.6" y2="291.8" stroke="#3aaa62" stroke-width="0.7"/>
<line x1="530.6" y1="275.8" x2="530.6" y2="291.8" stroke="#3aaa62" stroke-width="0.8"/>
<line x1="529.4" y1="275.8" x2="531.8" y2="275.8" stroke="#3aaa62" stroke-width="0.7"/>
<line x1="529.4" y1="291.8" x2="531.8" y2="291.8" stroke="#3aaa62" stroke-width="0.7"/>
<line x1="540.5" y1="275.3" x2="540.5" y2="291.3" stroke="#3aaa62" stroke-width="0.8"/>
<line x1="539.3" y1="275.3" x2="541.7" y2="275.3" stroke="#3aaa62" stroke-width="0.7"/>
<line x1="539.3" y1="291.3" x2="541.7" y2="291.3" stroke="#3aaa62" stroke-width="0.7"/>
<line x1="550.8" y1="278.4" x2="550.8" y2="294.4" stroke="#3aaa62" stroke-width="0.8"/>
<line x1="549.6" y1="278.4" x2="552" y2="278.4" stroke="#3aaa62" stroke-width="0.7"/>
<line x1="549.6" y1="294.4" x2="552" y2="294.4" stroke="#3aaa62" stroke-width="0.7"/>
<line x1="560.6" y1="285.2" x2="560.6" y2="301.2" stroke="#3aaa62" stroke-width="0.8"/>
<line x1="559.4" y1="285.2" x2="561.8" y2="285.2" stroke="#3aaa62" stroke-width="0.7"/>
<line x1="559.4" y1="301.2" x2="561.8" y2="301.2" stroke="#3aaa62" stroke-width="0.7"/>
<line x1="570.5" y1="287.8" x2="570.5" y2="303.8" stroke="#3aaa62" stroke-width="0.8"/>
<line x1="569.3" y1="287.8" x2="571.7" y2="287.8" stroke="#3aaa62" stroke-width="0.7"/>
<line x1="569.3" y1="303.8" x2="571.7" y2="303.8" stroke="#3aaa62" stroke-width="0.7"/>
<line x1="580.5" y1="302" x2="580.5" y2="318" stroke="#3aaa62" stroke-width="0.8"/>
<line x1="579.3" y1="302" x2="581.7" y2="302" stroke="#3aaa62" stroke-width="0.7"/>
<line x1="579.3" y1="318" x2="581.7" y2="318" stroke="#3aaa62" stroke-width="0.7"/>
<line x1="590.4" y1="307.5" x2="590.4" y2="323.5" stroke="#3aaa62" stroke-width="0.8"/>
<line x1="589.2" y1="307.5" x2="591.6" y2="307.5" stroke="#3aaa62" stroke-width="0.7"/>
<line x1="589.2" y1="323.5" x2="591.6" y2="323.5" stroke="#3aaa62" stroke-width="0.7"/>
<line x1="600.2" y1="317.1" x2="600.2" y2="333.1" stroke="#3aaa62" stroke-width="0.8"/>
<line x1="599" y1="317.1" x2="601.4" y2="317.1" stroke="#3aaa62" stroke-width="0.7"/>
<line x1="599" y1="333.1" x2="601.4" y2="333.1" stroke="#3aaa62" stroke-width="0.7"/>
<line x1="603" y1="321" x2="603" y2="337" stroke="#3aaa62" stroke-width="0.8"/>
<line x1="601.8" y1="321" x2="604.2" y2="321" stroke="#3aaa62" stroke-width="0.7"/>
<line x1="601.8" y1="337" x2="604.2" y2="337" stroke="#3aaa62" stroke-width="0.7"/>
<line x1="605" y1="326" x2="605" y2="342" stroke="#3aaa62" stroke-width="0.8"/>
<line x1="603.8" y1="326" x2="606.2" y2="326" stroke="#3aaa62" stroke-width="0.7"/>
<line x1="603.8" y1="342" x2="606.2" y2="342" stroke="#3aaa62" stroke-width="0.7"/>
<line x1="607" y1="332" x2="607" y2="348" stroke="#3aaa62" stroke-width="0.8"/>
<line x1="605.8" y1="332" x2="608.2" y2="332" stroke="#3aaa62" stroke-width="0.7"/>
<line x1="605.8" y1="348" x2="608.2" y2="348" stroke="#3aaa62" stroke-width="0.7"/>
<line x1="609" y1="336" x2="609" y2="352" stroke="#3aaa62" stroke-width="0.8"/>
<line x1="607.8" y1="336" x2="610.2" y2="336" stroke="#3aaa62" stroke-width="0.7"/>
<line x1="607.8" y1="352" x2="610.2" y2="352" stroke="#3aaa62" stroke-width="0.7"/>
<line x1="611" y1="340" x2="611" y2="356" stroke="#3aaa62" stroke-width="0.8"/>
<line x1="609.8" y1="340" x2="612.2" y2="340" stroke="#3aaa62" stroke-width="0.7"/>
<line x1="609.8" y1="356" x2="612.2" y2="356" stroke="#3aaa62" stroke-width="0.7"/>
<line x1="613.8" y1="343" x2="613.8" y2="359" stroke="#3aaa62" stroke-width="0.8"/>
<line x1="612.6" y1="343" x2="615" y2="343" stroke="#3aaa62" stroke-width="0.7"/>
<line x1="612.6" y1="359" x2="615" y2="359" stroke="#3aaa62" stroke-width="0.7"/>
<line x1="615.5" y1="344" x2="615.5" y2="360" stroke="#3aaa62" stroke-width="0.8"/>
<line x1="614.3" y1="344" x2="616.7" y2="344" stroke="#3aaa62" stroke-width="0.7"/>
<line x1="614.3" y1="360" x2="616.7" y2="360" stroke="#3aaa62" stroke-width="0.7"/>
<line x1="617.3" y1="343" x2="617.3" y2="359" stroke="#3aaa62" stroke-width="0.8"/>
<line x1="616.1" y1="343" x2="618.5" y2="343" stroke="#3aaa62" stroke-width="0.7"/>
<line x1="616.1" y1="359" x2="618.5" y2="359" stroke="#3aaa62" stroke-width="0.7"/>
<line x1="619" y1="340" x2="619" y2="356" stroke="#3aaa62" stroke-width="0.8"/>
<line x1="617.8" y1="340" x2="620.2" y2="340" stroke="#3aaa62" stroke-width="0.7"/>
<line x1="617.8" y1="356" x2="620.2" y2="356" stroke="#3aaa62" stroke-width="0.7"/>
<line x1="620.5" y1="335" x2="620.5" y2="351" stroke="#3aaa62" stroke-width="0.8"/>
<line x1="619.3" y1="335" x2="621.7" y2="335" stroke="#3aaa62" stroke-width="0.7"/>
<line x1="619.3" y1="351" x2="621.7" y2="351" stroke="#3aaa62" stroke-width="0.7"/>
<line x1="622.4" y1="330.5" x2="622.4" y2="346.5" stroke="#3aaa62" stroke-width="0.8"/>
<line x1="621.2" y1="330.5" x2="623.6" y2="330.5" stroke="#3aaa62" stroke-width="0.7"/>
<line x1="621.2" y1="346.5" x2="623.6" y2="346.5" stroke="#3aaa62" stroke-width="0.7"/>
<line x1="625" y1="326" x2="625" y2="342" stroke="#3aaa62" stroke-width="0.8"/>
<line x1="623.8" y1="326" x2="626.2" y2="326" stroke="#3aaa62" stroke-width="0.7"/>
<line x1="623.8" y1="342" x2="626.2" y2="342" stroke="#3aaa62" stroke-width="0.7"/>
<line x1="627" y1="323.5" x2="627" y2="339.5" stroke="#3aaa62" stroke-width="0.8"/>
<line x1="625.8" y1="323.5" x2="628.2" y2="323.5" stroke="#3aaa62" stroke-width="0.7"/>
<line x1="625.8" y1="339.5" x2="628.2" y2="339.5" stroke="#3aaa62" stroke-width="0.7"/>
<line x1="629.2" y1="321.4" x2="629.2" y2="337.4" stroke="#3aaa62" stroke-width="0.8"/>
<line x1="628" y1="321.4" x2="630.4" y2="321.4" stroke="#3aaa62" stroke-width="0.7"/>
<line x1="628" y1="337.4" x2="630.4" y2="337.4" stroke="#3aaa62" stroke-width="0.7"/>
<line x1="639.4" y1="306.9" x2="639.4" y2="322.9" stroke="#3aaa62" stroke-width="0.8"/>
<line x1="638.2" y1="306.9" x2="640.6" y2="306.9" stroke="#3aaa62" stroke-width="0.7"/>
<line x1="638.2" y1="322.9" x2="640.6" y2="322.9" stroke="#3aaa62" stroke-width="0.7"/>
<line x1="649.6" y1="301" x2="649.6" y2="317" stroke="#3aaa62" stroke-width="0.8"/>
<line x1="648.4" y1="301" x2="650.8" y2="301" stroke="#3aaa62" stroke-width="0.7"/>
<line x1="648.4" y1="317" x2="650.8" y2="317" stroke="#3aaa62" stroke-width="0.7"/>
<polyline fill="none" stroke="#3aaa62" stroke-width="1.1" points="510.3,284.4 520.4,283.8 530.6,283.8 540.5,283.3 550.8,286.4 560.6,293.2 570.5,295.8 580.5,310 590.4,315.5 600.2,325.1 603,329 605,334 607,340 609,344 611,348 613.8,351 615.5,352 617.3,351 619,348 620.5,343 622.4,338.5 625,334 627,331.5 629.2,329.4 639.4,314.9 649.6,309"/>
<path d="M508.2 285.9h4.2l-2.1 -3.6z" fill="#3aaa62"/>
<path d="M518.3 285.3h4.2l-2.1 -3.6z" fill="#3aaa62"/>
<path d="M528.5 285.3h4.2l-2.1 -3.6z" fill="#3aaa62"/>
<path d="M538.4 284.8h4.2l-2.1 -3.6z" fill="#3aaa62"/>
<path d="M548.7 287.9h4.2l-2.1 -3.6z" fill="#3aaa62"/>
<path d="M558.5 294.7h4.2l-2.1 -3.6z" fill="#3aaa62"/>
<path d="M568.4 297.3h4.2l-2.1 -3.6z" fill="#3aaa62"/>
<path d="M578.4 311.5h4.2l-2.1 -3.6z" fill="#3aaa62"/>
<path d="M588.3 317h4.2l-2.1 -3.6z" fill="#3aaa62"/>
<path d="M598.1 326.6h4.2l-2.1 -3.6z" fill="#3aaa62"/>
<path d="M600.9 330.5h4.2l-2.1 -3.6z" fill="#3aaa62"/>
<path d="M602.9 335.5h4.2l-2.1 -3.6z" fill="#3aaa62"/>
<path d="M604.9 341.5h4.2l-2.1 -3.6z" fill="#3aaa62"/>
<path d="M606.9 345.5h4.2l-2.1 -3.6z" fill="#3aaa62"/>
<path d="M608.9 349.5h4.2l-2.1 -3.6z" fill="#3aaa62"/>
<path d="M611.7 352.5h4.2l-2.1 -3.6z" fill="#3aaa62"/>
<path d="M613.4 353.5h4.2l-2.1 -3.6z" fill="#3aaa62"/>
<path d="M615.2 352.5h4.2l-2.1 -3.6z" fill="#3aaa62"/>
<path d="M616.9 349.5h4.2l-2.1 -3.6z" fill="#3aaa62"/>
<path d="M618.4 344.5h4.2l-2.1 -3.6z" fill="#3aaa62"/>
<path d="M620.3 340h4.2l-2.1 -3.6z" fill="#3aaa62"/>
<path d="M622.9 335.5h4.2l-2.1 -3.6z" fill="#3aaa62"/>
<path d="M624.9 333h4.2l-2.1 -3.6z" fill="#3aaa62"/>
<path d="M627.1 330.9h4.2l-2.1 -3.6z" fill="#3aaa62"/>
<path d="M637.3 316.4h4.2l-2.1 -3.6z" fill="#3aaa62"/>
<path d="M647.5 310.5h4.2l-2.1 -3.6z" fill="#3aaa62"/>
<text x="508.6" y="238" font-size="8.0" text-anchor="start">Theory</text>
<line x1="510.3" y1="325.4" x2="529.2" y2="325.4" stroke="#5a5a5a" stroke-width="1.1"/>
<rect x="518.5" y="323.9" width="3" height="3" fill="#5a5a5a"/>
<text x="531.9" y="328.5" font-size="8.6" font-style="italic">V<tspan font-size="5.8" dy="2.2" font-style="normal">t</tspan><tspan dy="-2.2">/M</tspan><tspan font-size="5.8" dy="2.2" font-style="normal">b</tspan><tspan dy="-2.2" font-style="normal">=0.1</tspan></text>
<line x1="510.3" y1="337.25" x2="529.2" y2="337.25" stroke="#2a78e0" stroke-width="1.1"/>
<path d="M517.8 335.65h4.4l-2.2 3.8z" fill="#2a78e0"/>
<text x="531.9" y="340.35" font-size="8.6" font-style="italic">V<tspan font-size="5.8" dy="2.2" font-style="normal">t</tspan><tspan dy="-2.2">/M</tspan><tspan font-size="5.8" dy="2.2" font-style="normal">b</tspan><tspan dy="-2.2" font-style="normal">=0.9</tspan></text>
<line x1="510.3" y1="349.1" x2="529.2" y2="349.1" stroke="#3aaa62" stroke-width="1.1"/>
<path d="M517.9 350.6h4.2l-2.1 -3.6z" fill="#3aaa62"/>
<text x="531.9" y="352.2" font-size="8.6" font-style="italic">V<tspan font-size="5.8" dy="2.2" font-style="normal">t</tspan><tspan dy="-2.2">/M</tspan><tspan font-size="5.8" dy="2.2" font-style="normal">b</tspan><tspan dy="-2.2" font-style="normal">=1.2</tspan></text>
<text x="566.6" y="396.8" font-size="12" font-style="italic">V<tspan font-size="7" dy="3.2" font-style="normal">b</tspan><tspan dy="-3.2">/M</tspan><tspan font-size="7" dy="3.2" font-style="normal">b</tspan></text>
<text transform="translate(477.8,297.5) rotate(-90)" font-size="11.8" text-anchor="middle" font-style="italic">σ<tspan font-size="7.5" dy="3" >xy</tspan><tspan dy="-3" font-style="normal">(</tspan>e<tspan font-size="7" dy="-4" font-style="normal">2</tspan><tspan dy="4">/h</tspan><tspan font-style="normal">)</tspan></text>
<text y="10.9" font-size="11.8" font-style="italic"><tspan x="176.3" font-size="12.6">σ</tspan><tspan x="183" dy="2.8" font-size="8.8">xy</tspan><tspan x="197.4" dy="-2.8">(</tspan><tspan x="201.7">e</tspan><tspan x="210.2" dy="-5" font-size="7.2">2</tspan><tspan x="216" dy="5">/</tspan><tspan x="219" font-size="12.6">h</tspan><tspan x="227.4">)</tspan></text>
<text y="10.9" font-size="11.8" font-style="italic"><tspan x="402.9" font-size="12.6">σ</tspan><tspan x="409.6" dy="2.8" font-size="8.8">xy</tspan><tspan x="424" dy="-2.8">(</tspan><tspan x="428.3">e</tspan><tspan x="436.8" dy="-5" font-size="7.2">2</tspan><tspan x="442.6" dy="5">/</tspan><tspan x="445.6" font-size="12.6">h</tspan><tspan x="454">)</tspan></text>
<text y="10.9" font-size="11.8" font-style="italic"><tspan x="631.1" font-size="12.6">σ</tspan><tspan x="637.8" dy="2.8" font-size="8.8">xy</tspan><tspan x="652.2" dy="-2.8">(</tspan><tspan x="656.5">e</tspan><tspan x="665" dy="-5" font-size="7.2">2</tspan><tspan x="670.8" dy="5">/</tspan><tspan x="673.8" font-size="12.6">h</tspan><tspan x="682.2">)</tspan></text>
<text x="-0.8" y="14" font-size="11" font-weight="bold">a</text>
<text x="230.7" y="14" font-size="11" font-weight="bold">c</text>
<text x="475" y="14" font-size="11" font-weight="bold">e</text>
<text x="-1" y="215.8" font-size="11" font-weight="bold">b</text>
<text x="230" y="215.8" font-size="11" font-weight="bold">d</text>
<text x="476.6" y="215.8" font-size="11" font-weight="bold">f</text>
<text transform="translate(11.6,297) rotate(-90)" font-size="11.2" text-anchor="middle" font-style="italic">σ<tspan font-size="7.5" dy="3">xy</tspan><tspan dy="-3" font-style="normal"> (</tspan>e<tspan font-size="7" dy="-4" font-style="normal">2</tspan><tspan dy="4">/h</tspan><tspan font-style="normal">)</tspan></text>
<text transform="translate(240.6,297) rotate(-90)" font-size="11.2" text-anchor="middle" font-style="italic">σ<tspan font-size="7.5" dy="3">xy</tspan><tspan dy="-3" font-style="normal"> (</tspan>e<tspan font-size="7" dy="-4" font-style="normal">2</tspan><tspan dy="4">/h</tspan><tspan font-style="normal">)</tspan></text>
</svg></body></html>
